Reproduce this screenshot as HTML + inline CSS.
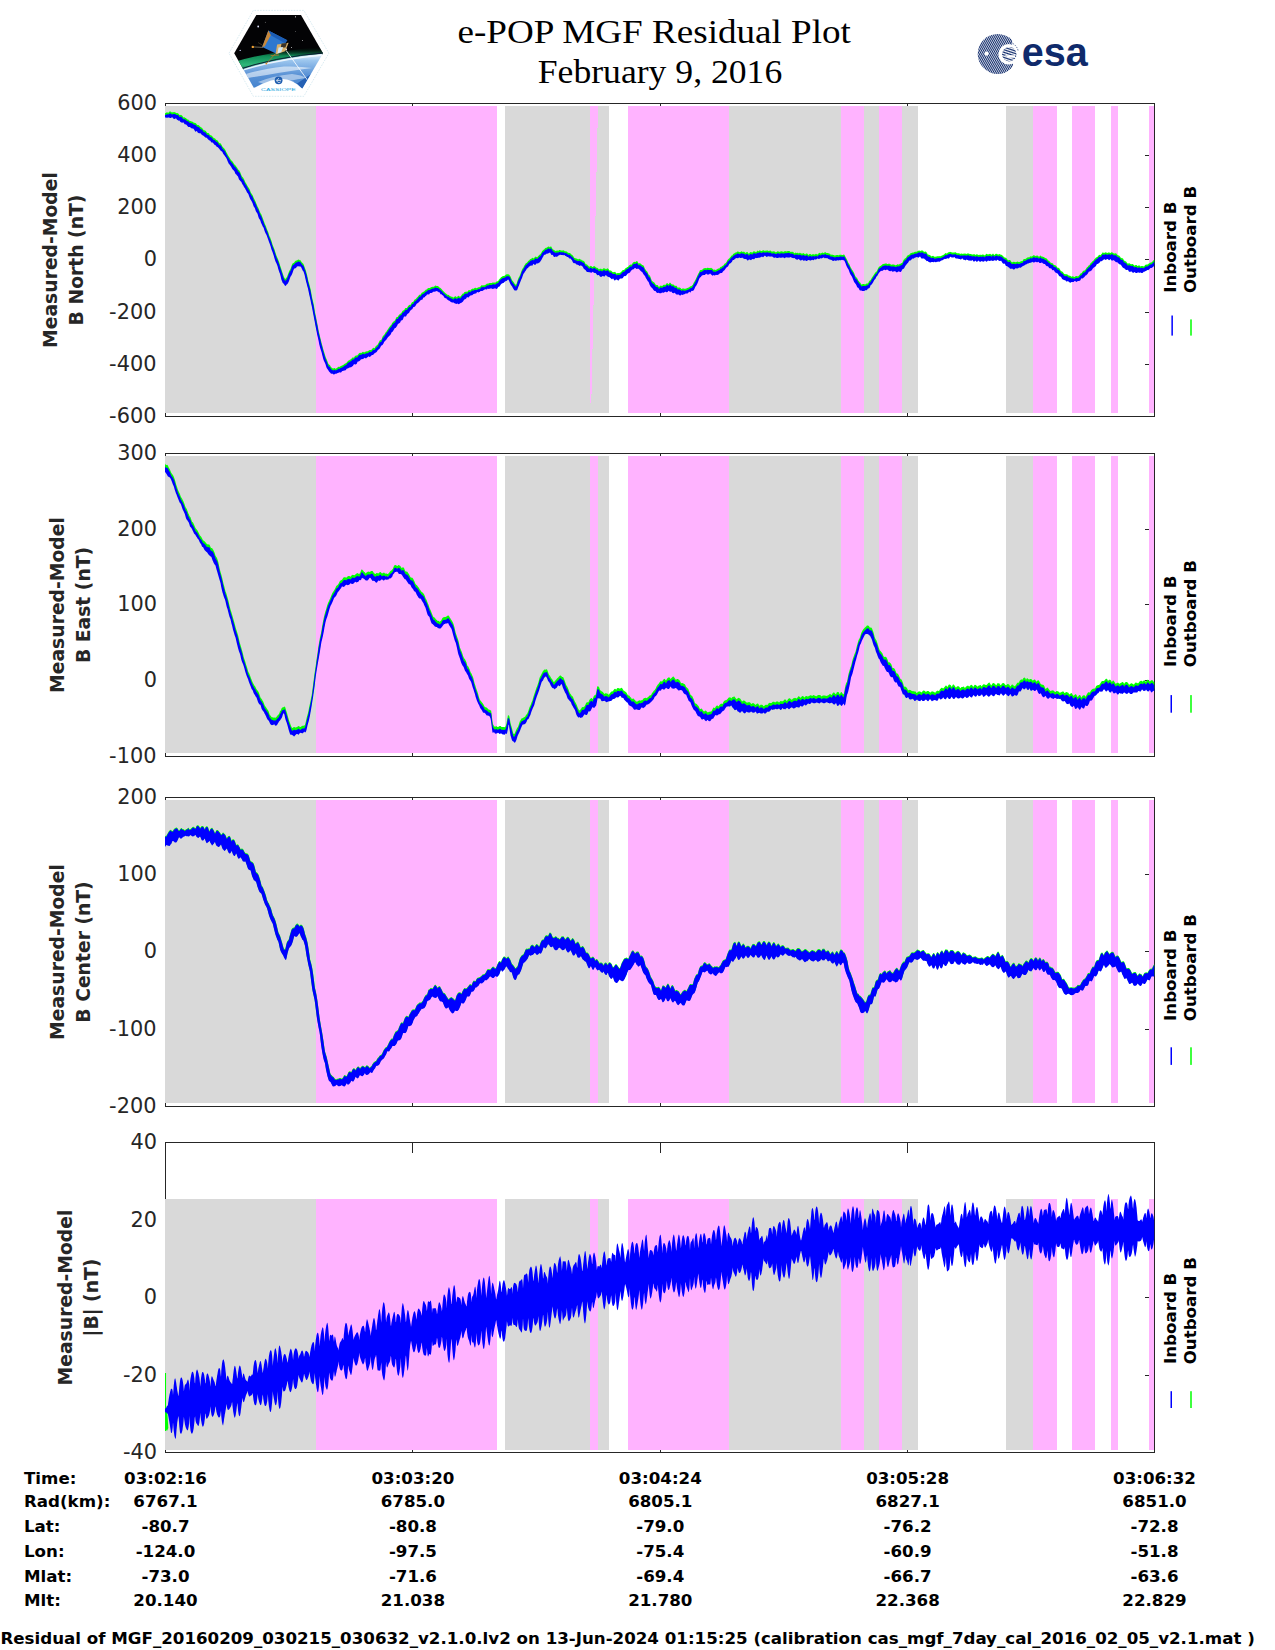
<!DOCTYPE html>
<html lang="en"><head><meta charset="utf-8"><title>e-POP MGF Residual Plot</title>
<style>html,body{margin:0;padding:0;background:#fff}svg{display:block}.t{font-family:"DejaVu Sans","Liberation Sans",sans-serif;font-size:20.83px;fill:#262626}.b{font-family:"DejaVu Sans","Liberation Sans",sans-serif;font-weight:bold;font-size:16.67px;fill:#000}.yl{font-family:"DejaVu Sans","Liberation Sans",sans-serif;font-weight:bold;font-size:18.75px;fill:#262626}.ti{font-family:"Liberation Serif","DejaVu Serif",serif;font-size:34px;fill:#000}</style></head><body>
<svg width="1275" height="1650" viewBox="0 0 1275 1650">
<rect width="1275" height="1650" fill="#fff"/>
<text class="ti" x="654.2" y="43" text-anchor="middle" textLength="393.5" lengthAdjust="spacingAndGlyphs">e-POP MGF Residual Plot</text>
<text class="ti" x="660" y="83.2" text-anchor="middle" textLength="244.5" lengthAdjust="spacingAndGlyphs">February 9, 2016</text>
<defs>
<clipPath id="hexclip"><polygon points="234.2,53.2 256.3,15.1 301,15.1 323,53.2 302.4,88.6 254.2,88.6"/></clipPath>
<linearGradient id="earthg" x1="0" y1="0" x2="0" y2="1">
<stop offset="0" stop-color="#eaf5ff"/><stop offset="0.18" stop-color="#9cc6ee"/><stop offset="0.55" stop-color="#5b93d6"/><stop offset="1" stop-color="#3f7fcc"/>
</linearGradient>
<linearGradient id="aurg" x1="0" y1="0" x2="0" y2="1">
<stop offset="0" stop-color="#000" stop-opacity="0"/><stop offset="0.35" stop-color="#0f8a55"/><stop offset="0.7" stop-color="#2fb87a"/><stop offset="1" stop-color="#0a4a36"/>
</linearGradient>
<pattern id="esastripe" width="1.7" height="1.7" patternUnits="userSpaceOnUse" patternTransform="rotate(-62 998 54)">
<rect width="1.7" height="1.7" fill="#fff"/><rect width="1.7" height="1.02" fill="#0f2a6b"/>
</pattern>
<pattern id="esastripe2" width="1.6" height="1.6" patternUnits="userSpaceOnUse" patternTransform="rotate(-12 1009 54)">
<rect width="1.6" height="1.6" fill="#fff"/><rect width="1.6" height="0.8" fill="#0f2a6b"/>
</pattern>
</defs>
<g id="cassiope-logo">
<polygon points="229,53.2 253.3,10.4 303.8,10.4 328.9,53.2 303.8,96.3 253.3,96.3" fill="#fff" stroke="#cfe6ee" stroke-width="0.8" stroke-dasharray="1.6 1.2"/>
<g clip-path="url(#hexclip)">
<rect x="232" y="14" width="94" height="76" fill="#fff"/><path d="M232 14H326V54.5Q275 58.5 232 73.5Z" fill="#030305"/>
<path d="M232 62.5 Q275 50 325 46.5 L325 54 Q275 58 232 73Z" fill="url(#aurg)"/>
<path d="M232 72.5 Q275 57.5 325 53.6 L325 92 L232 92Z" fill="url(#earthg)"/>
<path d="M232 71.6 Q275 56.6 325 52.8" fill="none" stroke="#0a1230" stroke-width="0.9"/>
<path d="M238 71.6 Q277 58.8 325 54.8" fill="none" stroke="#f4faff" stroke-width="1.4" opacity="0.9"/>
<path d="M246 74 Q262 69 284 66.5 Q300 66 312 68 Q296 70 278 73 Q262 76 248 78Z" fill="#fff" opacity="0.55"/>
<path d="M258 82 Q272 76 292 74 Q302 75 306 78 Q290 80 270 86Z" fill="#fff" opacity="0.45"/>

<polygon points="310.8,74.3 302.2,88.8 296.7,83.7" fill="#2460b4"/>
<path d="M286 50.3 L308.4 81.4" stroke="#fff" stroke-width="0.9" opacity="0.9"/>

<path d="M252.8 46.9 L263 47.4" stroke="#b9a98a" stroke-width="0.6"/>
<path d="M258 42.5 L263 45.5" stroke="#6b5a3a" stroke-width="0.5"/>
<circle cx="252.8" cy="46.9" r="1.2" fill="#f0a030"/>
<polygon points="268.4,30.4 287.3,40.2 277.1,53.9 262.2,46.9" fill="#2d78cf"/>
<polygon points="268.4,30.4 287.3,40.2 285,43.2 270.8,35.2" fill="#1c5db4"/>
<polygon points="268.4,30.4 270.8,35.2 264.6,46.6 262.2,46.9" fill="#c8883a"/>
<polygon points="277.1,44.6 288.6,42.8 285.2,51.2 275.5,54.6" fill="#d8b06a"/>
<polygon points="281.5,43.6 287,43 285.4,47.4 280.8,47.6" fill="#3a3328"/>
<polygon points="278.5,47.5 283,47 281.4,52 277.4,53.4" fill="#cfe6f5"/>
<path d="M275 54 L266.5 63.5 M270.6 55.6 L279 55" stroke="#b57a2c" stroke-width="0.8"/>
<circle cx="266.3" cy="63.6" r="0.9" fill="#e08a28"/>
<circle cx="258.2" cy="26.5" r="0.9" fill="#dfe4ff"/>
<circle cx="240.2" cy="50.4" r="0.7" fill="#c9cdf5"/>
<circle cx="295.5" cy="16.8" r="0.6" fill="#e6e6e6"/>
<circle cx="265.3" cy="22.2" r="0.45" fill="#aaa"/>
<circle cx="302.5" cy="40.5" r="0.5" fill="#bbb"/>
<circle cx="291.5" cy="47.5" r="0.5" fill="#ccc"/>
<circle cx="295.4" cy="31.5" r="0.4" fill="#999"/>
<circle cx="286.3" cy="49.2" r="0.8" fill="#fff"/>
</g>
<path d="M251.5 92 L253.2 88.3 Q262 83.6 271 80.6 Q280 78.4 287 79.4 Q293 80.8 297.5 84.4 L302.6 89 L304.5 92Z" fill="#fff"/>
<circle cx="278.6" cy="80.3" r="3.9" fill="#1d5cae"/>
<path d="M276.3 80.4h4.8M279 78.6a2 2 0 1 0 1.6 3.2" stroke="#fff" stroke-width="0.7" fill="none"/>
<text x="278.4" y="90.9" text-anchor="middle" textLength="34.6" lengthAdjust="spacingAndGlyphs" style="font-family:'Liberation Sans',sans-serif;font-size:4.4px;fill:#19a3dc">CASSIOPE</text>
</g>
<g id="esa-logo">
<circle cx="997.7" cy="53.9" r="20" fill="url(#esastripe)"/>
<path d="M1012 38 L1020 38 L1020 72 L1008 72 L1013 66 Z" fill="#fff"/>
<circle cx="1008.6" cy="54.2" r="10.2" fill="#fff"/>
<path d="M1010.5 42.3 A12 12 0 0 1 1018.3 51.5" fill="none" stroke="#0f2a6b" stroke-width="0.7" stroke-dasharray="1.4 1.1"/>
<circle cx="1009.3" cy="54.2" r="7.2" fill="url(#esastripe2)"/>
<path d="M1004.5 55.2 h10.5 v2.6 h-6.5z" fill="#fff"/>
<circle cx="986.6" cy="53.6" r="2.1" fill="#fff"/>
<text x="1021.8" y="65.8" textLength="66" lengthAdjust="spacingAndGlyphs" style="font-family:'Liberation Sans',sans-serif;font-weight:bold;font-size:41.5px;fill:#0f2a6b">esa</text>
</g>

<g id="panel1">
<g stroke="#262626" stroke-width="1" fill="none" shape-rendering="crispEdges">
<rect x="165.5" y="103.5" width="989.0" height="313.0"/>
<path d="M165.5 155.5h10M1154.5 155.5h-10M165.5 207.5h10M1154.5 207.5h-10M165.5 259.5h10M1154.5 259.5h-10M165.5 312.5h10M1154.5 312.5h-10M165.5 364.5h10M1154.5 364.5h-10M412.5 103.5v10M412.5 416.5v-10M660.5 103.5v10M660.5 416.5v-10M907.5 103.5v10M907.5 416.5v-10"/>
</g>
<g shape-rendering="crispEdges">
<rect x="165" y="106" width="151" height="307" fill="#d9d9d9"/>
<rect x="316" y="106" width="181" height="307" fill="#ffb3ff"/>
<rect x="505" y="106" width="104" height="307" fill="#d9d9d9"/>
<polygon points="590,106 598,106 591.3,403 590,403" fill="#ffb3ff"/>
<rect x="628" y="106" width="101" height="307" fill="#ffb3ff"/>
<rect x="729" y="106" width="112" height="307" fill="#d9d9d9"/>
<rect x="841" y="106" width="23" height="307" fill="#ffb3ff"/>
<rect x="864" y="106" width="15" height="307" fill="#d9d9d9"/>
<rect x="879" y="106" width="23" height="307" fill="#ffb3ff"/>
<rect x="902" y="106" width="16" height="307" fill="#d9d9d9"/>
<rect x="1006" y="106" width="27" height="307" fill="#d9d9d9"/>
<rect x="1033" y="106" width="24" height="307" fill="#ffb3ff"/>
<rect x="1072" y="106" width="23" height="307" fill="#ffb3ff"/>
<rect x="1111" y="106" width="7" height="307" fill="#ffb3ff"/>
<rect x="1149" y="106" width="5" height="307" fill="#ffb3ff"/>
</g>
<path d="M1154.5 103.0V417.0" stroke="#262626" stroke-width="1" shape-rendering="crispEdges"/>
<clipPath id="clip0"><rect x="165.0" y="103.5" width="989.5" height="313.0"/></clipPath>
<g clip-path="url(#clip0)">
<polygon points="165.0,113.0 165.5,113.2 166.0,112.8 166.5,112.5 167.0,112.3 167.5,112.4 168.0,112.7 168.5,112.7 169.0,112.1 169.5,111.6 170.0,111.6 170.5,111.5 171.0,111.7 171.5,112.3 172.0,112.5 172.5,112.3 173.0,112.3 173.5,112.2 174.0,112.1 174.5,112.2 175.0,112.2 175.5,112.4 176.0,112.9 176.5,113.1 177.0,113.2 177.5,113.1 178.0,113.2 178.5,113.7 179.0,114.4 179.5,115.1 180.0,115.2 180.5,114.9 181.0,114.8 181.5,115.2 182.0,115.6 182.5,116.1 183.0,117.0 183.5,117.4 184.0,117.2 184.5,117.3 185.0,117.7 185.5,117.9 186.0,118.1 186.5,118.8 187.0,119.2 187.5,119.4 188.0,119.4 188.5,119.7 189.0,120.4 189.5,120.7 190.0,121.0 190.5,121.0 191.0,121.2 191.5,121.4 192.0,121.4 192.5,121.7 193.0,122.1 193.5,122.6 194.0,122.7 194.5,122.8 195.0,122.9 195.5,123.1 196.0,123.5 196.5,124.1 197.0,124.7 197.5,124.9 198.0,125.0 198.5,125.1 199.0,125.4 199.5,125.9 200.0,126.5 200.5,127.0 201.0,127.3 201.5,127.6 202.0,127.9 202.5,128.4 203.0,129.2 203.5,129.9 204.0,130.2 204.5,130.3 205.0,130.4 205.5,130.7 206.0,131.3 206.5,132.0 207.0,132.7 207.5,133.0 208.0,133.1 208.5,133.1 209.0,133.4 209.5,134.2 210.0,135.1 210.5,135.2 211.0,135.2 211.5,135.5 212.0,136.1 212.5,136.6 213.0,137.3 213.5,137.8 214.0,138.0 214.5,138.2 215.0,138.4 215.5,139.0 216.0,139.7 216.5,139.9 217.0,140.1 217.5,140.4 218.0,141.0 218.5,141.9 219.0,142.8 219.5,143.2 220.0,143.3 220.5,143.3 221.0,143.9 221.5,144.7 222.0,145.7 222.5,146.8 223.0,147.3 223.5,147.7 224.0,148.3 224.5,148.8 225.0,149.4 225.5,150.3 226.0,151.6 226.5,152.6 227.0,153.3 227.5,154.3 228.0,155.3 228.5,155.9 229.0,156.7 229.5,157.5 230.0,158.6 230.5,159.3 231.0,159.9 231.5,160.5 232.0,161.1 232.5,161.6 233.0,162.3 233.5,163.1 234.0,163.9 234.5,164.5 235.0,165.0 235.5,165.4 236.0,166.0 236.5,166.9 237.0,167.4 237.5,168.2 238.0,169.4 238.5,169.8 239.0,170.2 239.5,170.8 240.0,171.7 240.5,172.9 241.0,174.2 241.5,175.6 242.0,176.5 242.5,177.1 243.0,177.5 243.5,178.3 244.0,179.3 244.5,180.3 245.0,181.6 245.5,182.5 246.0,183.2 246.5,183.9 247.0,184.9 247.5,185.9 248.0,186.8 248.5,187.5 249.0,188.3 249.5,189.1 250.0,190.3 250.5,191.7 251.0,192.9 251.5,193.6 252.0,194.2 252.5,194.9 253.0,196.1 253.5,197.5 254.0,198.6 254.5,199.5 255.0,200.4 255.5,201.6 256.0,202.7 256.5,203.9 257.0,205.1 257.5,206.4 258.0,207.2 258.5,208.2 259.0,209.4 259.5,210.7 260.0,212.0 260.5,213.2 261.0,213.8 261.5,214.8 262.0,216.3 262.5,217.6 263.0,218.8 263.5,220.2 264.0,221.6 264.5,223.0 265.0,224.2 265.5,225.3 266.0,226.3 266.5,227.9 267.0,229.2 267.5,230.4 268.0,231.5 268.5,233.0 269.0,234.7 269.5,236.2 270.0,237.1 270.5,238.3 271.0,239.8 271.5,241.1 272.0,242.8 272.5,244.4 273.0,245.7 273.5,246.9 274.0,248.2 274.5,249.5 275.0,251.2 275.5,252.8 276.0,254.2 276.5,255.7 277.0,257.0 277.5,257.9 278.0,259.1 278.5,260.6 279.0,261.8 279.5,263.3 280.0,265.2 280.5,266.5 281.0,267.9 281.5,269.7 282.0,271.2 282.5,272.7 283.0,274.3 283.5,275.8 284.0,276.9 284.5,277.9 285.0,278.8 285.5,278.8 286.0,278.3 286.5,277.5 287.0,276.9 287.5,275.6 288.0,274.3 288.5,272.9 289.0,271.6 289.5,270.6 290.0,269.7 290.5,269.0 291.0,267.6 291.5,266.0 292.0,264.6 292.5,263.7 293.0,263.1 293.5,262.9 294.0,262.7 294.5,262.0 295.0,261.3 295.5,261.0 296.0,260.6 296.5,260.4 297.0,260.5 297.5,260.1 298.0,259.7 298.5,259.6 299.0,259.7 299.5,260.0 300.0,260.2 300.5,260.3 301.0,261.0 301.5,261.9 302.0,262.5 302.5,263.1 303.0,263.5 303.5,264.0 304.0,265.2 304.5,266.9 305.0,268.2 305.5,269.4 306.0,271.0 306.5,272.9 307.0,274.6 307.5,276.9 308.0,279.6 308.5,281.4 309.0,283.1 309.5,285.0 310.0,286.9 310.5,288.8 311.0,291.3 311.5,294.3 312.0,296.9 312.5,299.2 313.0,301.3 313.5,303.4 314.0,306.1 314.5,309.3 315.0,312.4 315.5,314.6 316.0,316.8 316.5,319.5 317.0,322.1 317.5,324.4 318.0,327.1 318.5,330.1 319.0,332.2 319.5,334.3 320.0,336.4 320.5,338.4 321.0,340.5 321.5,342.7 322.0,344.4 322.5,346.3 323.0,348.3 323.5,350.0 324.0,351.6 324.5,353.3 325.0,355.0 325.5,356.5 326.0,358.0 326.5,359.1 327.0,360.1 327.5,361.6 328.0,363.0 328.5,364.0 329.0,364.5 329.5,364.8 330.0,365.3 330.5,366.3 331.0,367.0 331.5,367.5 332.0,368.0 332.5,368.2 333.0,368.5 333.5,368.5 334.0,368.0 334.5,367.9 335.0,368.4 335.5,368.7 336.0,368.4 336.5,368.2 337.0,368.0 337.5,367.6 338.0,367.1 338.5,366.8 339.0,366.8 339.5,366.9 340.0,366.6 340.5,366.2 341.0,366.0 341.5,365.8 342.0,365.4 342.5,365.3 343.0,365.3 343.5,364.7 344.0,364.3 344.5,363.9 345.0,363.5 345.5,363.4 346.0,363.1 346.5,362.8 347.0,362.2 347.5,361.4 348.0,360.9 348.5,360.6 349.0,360.4 349.5,360.1 350.0,359.7 350.5,359.5 351.0,359.1 351.5,358.8 352.0,358.1 352.5,357.5 353.0,357.4 353.5,357.6 354.0,357.7 354.5,356.7 355.0,355.9 355.5,355.7 356.0,355.6 356.5,355.5 357.0,355.5 357.5,355.3 358.0,354.4 358.5,353.9 359.0,353.3 359.5,352.9 360.0,352.7 360.5,352.8 361.0,353.2 361.5,352.7 362.0,352.4 362.5,352.1 363.0,351.7 363.5,351.9 364.0,352.5 364.5,352.3 365.0,351.8 365.5,351.8 366.0,351.6 366.5,351.3 367.0,351.4 367.5,351.3 368.0,351.1 368.5,350.8 369.0,350.4 369.5,350.1 370.0,349.9 370.5,350.0 371.0,350.1 371.5,349.8 372.0,349.3 372.5,348.6 373.0,348.0 373.5,347.8 374.0,348.1 374.5,348.2 375.0,347.4 375.5,346.6 376.0,346.0 376.5,345.5 377.0,345.2 377.5,344.8 378.0,344.0 378.5,343.0 379.0,341.9 379.5,341.0 380.0,340.3 380.5,340.0 381.0,340.2 381.5,339.6 382.0,338.2 382.5,336.8 383.0,336.0 383.5,335.5 384.0,334.8 384.5,334.4 385.0,333.5 385.5,332.6 386.0,332.1 386.5,331.4 387.0,330.5 387.5,329.8 388.0,329.3 388.5,328.3 389.0,327.6 389.5,326.9 390.0,326.1 390.5,325.5 391.0,325.2 391.5,324.6 392.0,323.3 392.5,322.6 393.0,322.2 393.5,321.6 394.0,320.9 394.5,320.8 395.0,320.5 395.5,319.3 396.0,317.9 396.5,317.2 397.0,317.1 397.5,317.0 398.0,316.6 398.5,315.5 399.0,314.8 399.5,314.4 400.0,313.9 400.5,313.4 401.0,313.4 401.5,312.8 402.0,311.8 402.5,310.9 403.0,310.5 403.5,310.3 404.0,310.2 404.5,309.4 405.0,308.6 405.5,308.1 406.0,308.0 406.5,308.1 407.0,308.1 407.5,307.1 408.0,306.3 408.5,305.8 409.0,305.0 409.5,304.8 410.0,305.1 410.5,304.8 411.0,304.0 411.5,303.1 412.0,302.3 412.5,302.1 413.0,302.0 413.5,301.5 414.0,300.5 414.5,299.7 415.0,299.3 415.5,299.2 416.0,298.8 416.5,298.1 417.0,297.6 417.5,297.1 418.0,296.5 418.5,295.8 419.0,295.2 419.5,294.7 420.0,294.6 420.5,294.7 421.0,294.0 421.5,293.0 422.0,292.5 422.5,292.4 423.0,292.0 423.5,291.8 424.0,291.5 424.5,291.0 425.0,290.6 425.5,290.1 426.0,289.6 426.5,289.5 427.0,289.4 427.5,288.6 428.0,288.3 428.5,288.1 429.0,287.9 429.5,288.0 430.0,288.1 430.5,287.6 431.0,287.3 431.5,287.1 432.0,286.9 432.5,286.7 433.0,286.7 433.5,286.7 434.0,286.7 434.5,286.2 435.0,285.7 435.5,285.6 436.0,285.8 436.5,286.0 437.0,286.1 437.5,286.1 438.0,286.0 438.5,286.4 439.0,287.0 439.5,287.4 440.0,287.7 440.5,288.0 441.0,288.5 441.5,289.0 442.0,289.4 442.5,290.2 443.0,290.8 443.5,291.3 444.0,291.7 444.5,292.2 445.0,292.7 445.5,293.2 446.0,293.6 446.5,293.9 447.0,294.3 447.5,294.8 448.0,294.9 448.5,294.7 449.0,295.2 449.5,295.8 450.0,295.9 450.5,296.2 451.0,296.7 451.5,296.7 452.0,296.6 452.5,297.1 453.0,297.5 453.5,297.6 454.0,297.2 454.5,296.7 455.0,296.2 455.5,296.3 456.0,296.6 456.5,297.0 457.0,297.4 457.5,296.6 458.0,295.8 458.5,295.8 459.0,296.2 459.5,296.4 460.0,296.4 460.5,296.5 461.0,295.9 461.5,295.0 462.0,294.4 462.5,293.8 463.0,293.6 463.5,293.5 464.0,292.8 464.5,292.1 465.0,292.0 465.5,291.7 466.0,291.7 466.5,291.6 467.0,291.9 467.5,291.6 468.0,290.9 468.5,290.2 469.0,289.9 469.5,290.0 470.0,290.4 470.5,290.2 471.0,289.6 471.5,289.2 472.0,288.9 472.5,288.6 473.0,288.7 473.5,288.8 474.0,288.4 474.5,288.1 475.0,287.8 475.5,287.8 476.0,288.1 476.5,288.2 477.0,288.1 477.5,287.7 478.0,287.4 478.5,287.2 479.0,287.3 479.5,287.2 480.0,286.7 480.5,286.5 481.0,286.0 481.5,285.2 482.0,285.1 482.5,285.4 483.0,285.4 483.5,285.2 484.0,285.3 484.5,285.3 485.0,284.9 485.5,284.8 486.0,284.6 486.5,283.9 487.0,283.6 487.5,283.7 488.0,283.6 488.5,283.5 489.0,283.2 489.5,282.9 490.0,282.9 490.5,283.0 491.0,283.0 491.5,283.0 492.0,282.9 492.5,282.6 493.0,282.4 493.5,282.4 494.0,282.7 494.5,282.5 495.0,282.6 495.5,282.6 496.0,282.2 496.5,281.6 497.0,281.3 497.5,281.3 498.0,281.3 498.5,280.5 499.0,279.5 499.5,278.9 500.0,278.6 500.5,277.9 501.0,277.2 501.5,277.0 502.0,276.7 502.5,276.3 503.0,276.1 503.5,276.1 504.0,275.9 504.5,275.8 505.0,275.5 505.5,275.1 506.0,274.5 506.5,274.3 507.0,274.5 507.5,274.3 508.0,274.1 508.5,274.4 509.0,274.5 509.5,274.9 510.0,275.7 510.5,276.5 511.0,277.5 511.5,278.9 512.0,280.1 512.5,280.7 513.0,281.3 513.5,281.9 514.0,282.6 514.5,283.4 515.0,284.2 515.5,284.6 516.0,284.7 516.5,283.9 517.0,282.4 517.5,280.7 518.0,279.2 518.5,278.0 519.0,277.0 519.5,276.2 520.0,275.1 520.5,273.7 521.0,272.3 521.5,270.9 522.0,269.4 522.5,268.6 523.0,268.2 523.5,267.2 524.0,266.1 524.5,265.3 525.0,264.5 525.5,263.7 526.0,263.1 526.5,262.9 527.0,262.4 527.5,261.9 528.0,261.2 528.5,260.7 529.0,260.5 529.5,259.9 530.0,259.3 530.5,258.9 531.0,258.9 531.5,258.5 532.0,257.9 532.5,257.8 533.0,258.0 533.5,258.5 534.0,258.1 534.5,257.6 535.0,256.9 535.5,256.4 536.0,256.7 536.5,256.9 537.0,257.2 537.5,256.9 538.0,256.3 538.5,255.8 539.0,255.2 539.5,254.7 540.0,254.4 540.5,254.1 541.0,253.3 541.5,252.4 542.0,251.3 542.5,250.7 543.0,250.2 543.5,249.8 544.0,249.6 544.5,248.9 545.0,248.3 545.5,247.9 546.0,247.8 546.5,247.8 547.0,247.6 547.5,247.0 548.0,246.7 548.5,246.6 549.0,246.6 549.5,247.0 550.0,247.2 550.5,246.6 551.0,246.3 551.5,247.0 552.0,247.9 552.5,248.9 553.0,249.3 553.5,249.7 554.0,250.0 554.5,250.3 555.0,250.7 555.5,251.0 556.0,250.8 556.5,250.7 557.0,250.6 557.5,250.6 558.0,250.8 558.5,250.7 559.0,250.1 559.5,250.0 560.0,250.1 560.5,250.3 561.0,250.4 561.5,250.4 562.0,250.4 562.5,250.5 563.0,250.4 563.5,250.3 564.0,250.6 564.5,251.1 565.0,251.4 565.5,251.2 566.0,251.2 566.5,251.5 567.0,251.7 567.5,252.2 568.0,252.8 568.5,252.8 569.0,252.9 569.5,252.9 570.0,253.0 570.5,253.6 571.0,254.3 571.5,254.6 572.0,254.8 572.5,255.3 573.0,255.8 573.5,256.4 574.0,257.4 574.5,257.9 575.0,258.1 575.5,258.3 576.0,258.5 576.5,258.6 577.0,258.8 577.5,259.1 578.0,259.3 578.5,259.2 579.0,258.9 579.5,258.8 580.0,259.1 580.5,259.6 581.0,259.7 581.5,259.7 582.0,260.4 582.5,260.6 583.0,260.6 583.5,260.9 584.0,261.3 584.5,261.8 585.0,262.8 585.5,263.9 586.0,264.2 586.5,264.2 587.0,264.4 587.5,264.9 588.0,265.5 588.5,266.0 589.0,266.6 589.5,266.8 590.0,266.4 590.5,265.8 591.0,265.9 591.5,266.3 592.0,266.6 592.5,267.1 593.0,266.9 593.5,266.3 594.0,266.1 594.5,266.2 595.0,266.4 595.5,266.9 596.0,267.5 596.5,267.7 597.0,267.7 597.5,267.9 598.0,268.2 598.5,268.9 599.0,269.6 599.5,269.0 600.0,268.8 600.5,268.8 601.0,268.7 601.5,269.1 602.0,269.5 602.5,269.3 603.0,268.7 603.5,268.3 604.0,268.3 604.5,268.4 605.0,268.6 605.5,269.1 606.0,269.3 606.5,268.9 607.0,268.5 607.5,268.3 608.0,268.7 608.5,269.1 609.0,269.7 609.5,270.6 610.0,270.6 610.5,270.5 611.0,270.5 611.5,270.9 612.0,271.4 612.5,271.9 613.0,272.3 613.5,272.1 614.0,272.2 614.5,272.0 615.0,271.8 615.5,272.2 616.0,272.9 616.5,273.5 617.0,273.4 617.5,273.0 618.0,272.9 618.5,273.1 619.0,273.2 619.5,273.0 620.0,272.8 620.5,272.5 621.0,271.9 621.5,271.5 622.0,271.0 622.5,270.3 623.0,270.0 623.5,269.9 624.0,269.9 624.5,269.5 625.0,268.8 625.5,268.3 626.0,268.1 626.5,267.7 627.0,267.2 627.5,267.0 628.0,267.0 628.5,266.2 629.0,265.6 629.5,265.3 630.0,265.0 630.5,264.6 631.0,264.5 631.5,264.7 632.0,264.3 632.5,263.2 633.0,262.6 633.5,262.2 634.0,261.9 634.5,261.8 635.0,262.0 635.5,262.0 636.0,261.6 636.5,261.2 637.0,261.1 637.5,261.6 638.0,262.6 638.5,263.4 639.0,263.4 639.5,263.2 640.0,263.3 640.5,263.6 641.0,263.9 641.5,264.3 642.0,264.9 642.5,265.1 643.0,265.2 643.5,265.5 644.0,266.3 644.5,267.7 645.0,268.9 645.5,269.5 646.0,270.3 646.5,270.9 647.0,271.2 647.5,271.9 648.0,273.3 648.5,274.5 649.0,274.8 649.5,275.3 650.0,276.1 650.5,277.0 651.0,278.5 651.5,280.1 652.0,280.9 652.5,281.3 653.0,281.7 653.5,282.1 654.0,282.3 654.5,282.8 655.0,283.6 655.5,284.4 656.0,284.8 656.5,285.0 657.0,285.0 657.5,285.1 658.0,285.5 658.5,286.4 659.0,287.0 659.5,286.5 660.0,285.9 660.5,285.6 661.0,285.7 661.5,285.8 662.0,285.9 662.5,285.8 663.0,285.3 663.5,284.8 664.0,284.7 664.5,284.8 665.0,284.8 665.5,284.9 666.0,284.1 666.5,283.4 667.0,283.1 667.5,283.2 668.0,283.7 668.5,284.3 669.0,283.8 669.5,283.1 670.0,282.6 670.5,282.9 671.0,283.5 671.5,284.3 672.0,284.3 672.5,284.4 673.0,284.4 673.5,284.4 674.0,285.0 674.5,285.6 675.0,285.9 675.5,285.8 676.0,285.8 676.5,285.8 677.0,286.5 677.5,287.5 678.0,287.7 678.5,287.4 679.0,287.4 679.5,287.6 680.0,287.8 680.5,288.1 681.0,288.4 681.5,289.0 682.0,288.9 682.5,288.4 683.0,288.3 683.5,288.5 684.0,288.8 684.5,288.8 685.0,288.8 685.5,288.7 686.0,288.6 686.5,288.4 687.0,288.0 687.5,287.9 688.0,287.8 688.5,287.6 689.0,287.4 689.5,287.0 690.0,286.5 690.5,286.3 691.0,286.2 691.5,286.0 692.0,285.6 692.5,285.1 693.0,284.4 693.5,283.1 694.0,282.2 694.5,281.5 695.0,280.6 695.5,279.7 696.0,278.5 696.5,277.4 697.0,276.4 697.5,275.2 698.0,274.2 698.5,273.3 699.0,272.4 699.5,271.2 700.0,270.3 700.5,270.1 701.0,270.1 701.5,270.0 702.0,269.7 702.5,269.4 703.0,269.1 703.5,268.5 704.0,268.2 704.5,268.2 705.0,267.9 705.5,268.1 706.0,268.3 706.5,268.3 707.0,267.9 707.5,267.8 708.0,267.8 708.5,268.1 709.0,268.1 709.5,268.0 710.0,268.2 710.5,268.1 711.0,267.8 711.5,267.9 712.0,268.4 712.5,268.7 713.0,269.1 713.5,269.8 714.0,270.0 714.5,269.6 715.0,269.5 715.5,270.0 716.0,269.9 716.5,269.4 717.0,269.2 717.5,269.0 718.0,268.6 718.5,268.4 719.0,268.4 719.5,268.2 720.0,267.6 720.5,266.9 721.0,266.8 721.5,266.7 722.0,266.2 722.5,265.7 723.0,265.7 723.5,265.3 724.0,264.4 724.5,263.7 725.0,263.5 725.5,263.2 726.0,262.8 726.5,262.1 727.0,261.1 727.5,260.1 728.0,259.4 728.5,259.0 729.0,258.6 729.5,258.2 730.0,257.6 730.5,256.9 731.0,256.2 731.5,255.6 732.0,255.4 732.5,255.2 733.0,254.3 733.5,253.8 734.0,253.6 734.5,253.3 735.0,252.7 735.5,252.6 736.0,252.5 736.5,252.3 737.0,252.1 737.5,251.6 738.0,251.3 738.5,251.8 739.0,252.3 739.5,252.0 740.0,252.0 740.5,251.9 741.0,251.5 741.5,251.2 742.0,251.4 742.5,251.9 743.0,251.8 743.5,251.7 744.0,251.8 744.5,252.1 745.0,252.6 745.5,252.9 746.0,252.6 746.5,252.2 747.0,252.0 747.5,252.1 748.0,252.7 748.5,253.4 749.0,253.8 749.5,253.1 750.0,252.3 750.5,252.1 751.0,252.3 751.5,252.3 752.0,252.5 752.5,252.6 753.0,251.9 753.5,251.3 754.0,251.3 754.5,251.4 755.0,251.4 755.5,251.9 756.0,251.9 756.5,251.7 757.0,251.2 757.5,250.6 758.0,250.8 758.5,251.2 759.0,250.9 759.5,250.3 760.0,250.2 760.5,250.7 761.0,251.0 761.5,251.1 762.0,251.0 762.5,250.5 763.0,250.3 763.5,250.3 764.0,250.4 764.5,250.8 765.0,250.9 765.5,250.6 766.0,250.7 766.5,250.6 767.0,250.5 767.5,250.4 768.0,250.4 768.5,250.9 769.0,250.9 769.5,250.8 770.0,250.5 770.5,250.5 771.0,251.1 771.5,251.5 772.0,251.6 772.5,251.6 773.0,251.5 773.5,251.3 774.0,251.3 774.5,251.5 775.0,251.8 775.5,252.2 776.0,252.2 776.5,252.1 777.0,251.8 777.5,251.3 778.0,251.2 778.5,251.5 779.0,251.8 779.5,251.9 780.0,251.5 780.5,251.6 781.0,251.6 781.5,251.3 782.0,251.2 782.5,251.5 783.0,251.9 783.5,251.7 784.0,251.5 784.5,251.3 785.0,251.3 785.5,251.3 786.0,251.1 786.5,251.4 787.0,251.4 787.5,251.1 788.0,251.0 788.5,250.9 789.0,251.0 789.5,251.1 790.0,251.5 790.5,251.9 791.0,251.7 791.5,251.7 792.0,252.0 792.5,251.8 793.0,251.8 793.5,252.3 794.0,252.9 794.5,253.3 795.0,253.0 795.5,252.6 796.0,252.7 796.5,252.9 797.0,252.9 797.5,252.8 798.0,252.7 798.5,253.3 799.0,253.4 799.5,252.8 800.0,252.7 800.5,253.0 801.0,253.4 801.5,253.6 802.0,253.6 802.5,253.5 803.0,253.4 803.5,253.0 804.0,253.2 804.5,253.9 805.0,254.2 805.5,254.2 806.0,253.4 806.5,253.4 807.0,253.6 807.5,253.7 808.0,254.4 808.5,255.1 809.0,254.5 809.5,253.9 810.0,254.0 810.5,254.1 811.0,254.4 811.5,254.8 812.0,254.7 812.5,254.3 813.0,254.0 813.5,254.2 814.0,254.5 814.5,254.6 815.0,254.5 815.5,254.1 816.0,253.7 816.5,254.0 817.0,254.5 817.5,254.5 818.0,253.9 818.5,253.5 819.0,253.0 819.5,252.8 820.0,253.2 820.5,253.5 821.0,253.3 821.5,252.9 822.0,252.7 822.5,252.5 823.0,252.7 823.5,252.9 824.0,253.0 824.5,252.6 825.0,252.1 825.5,252.2 826.0,252.8 826.5,253.1 827.0,253.1 827.5,253.1 828.0,253.0 828.5,253.3 829.0,253.4 829.5,253.4 830.0,253.9 830.5,254.5 831.0,254.8 831.5,254.7 832.0,254.6 832.5,254.7 833.0,255.0 833.5,255.0 834.0,255.0 834.5,255.5 835.0,255.6 835.5,255.3 836.0,255.2 836.5,254.9 837.0,255.0 837.5,255.0 838.0,254.9 838.5,255.3 839.0,255.2 839.5,254.8 840.0,254.7 840.5,254.7 841.0,254.7 841.5,254.7 842.0,254.9 842.5,254.9 843.0,254.9 843.5,254.6 844.0,254.4 844.5,254.9 845.0,255.8 845.5,256.9 846.0,257.8 846.5,258.7 847.0,259.6 847.5,260.8 848.0,262.0 848.5,263.2 849.0,263.6 849.5,264.4 850.0,265.8 850.5,266.9 851.0,267.7 851.5,268.8 852.0,269.8 852.5,270.3 853.0,271.1 853.5,272.0 854.0,272.8 854.5,273.9 855.0,275.4 855.5,276.5 856.0,277.0 856.5,277.4 857.0,277.9 857.5,278.8 858.0,279.9 858.5,280.7 859.0,281.2 859.5,281.9 860.0,282.5 860.5,283.1 861.0,283.9 861.5,284.6 862.0,284.7 862.5,284.1 863.0,284.0 863.5,284.0 864.0,284.1 864.5,284.2 865.0,284.4 865.5,284.2 866.0,283.9 866.5,283.6 867.0,283.4 867.5,283.4 868.0,283.3 868.5,282.5 869.0,281.6 869.5,280.8 870.0,280.4 870.5,280.1 871.0,279.4 871.5,278.2 872.0,277.4 872.5,276.8 873.0,276.1 873.5,275.2 874.0,274.6 874.5,273.8 875.0,273.0 875.5,272.3 876.0,271.9 876.5,271.5 877.0,271.0 877.5,269.8 878.0,268.4 878.5,267.4 879.0,266.9 879.5,266.4 880.0,266.0 880.5,265.9 881.0,265.6 881.5,265.2 882.0,264.7 882.5,264.3 883.0,264.1 883.5,264.0 884.0,263.7 884.5,263.7 885.0,263.8 885.5,263.5 886.0,263.3 886.5,263.5 887.0,263.9 887.5,264.1 888.0,263.9 888.5,263.7 889.0,263.6 889.5,263.8 890.0,264.0 890.5,264.3 891.0,264.7 891.5,264.7 892.0,264.5 892.5,264.5 893.0,264.4 893.5,264.5 894.0,264.5 894.5,264.7 895.0,265.2 895.5,265.2 896.0,265.1 896.5,264.9 897.0,264.5 897.5,264.3 898.0,264.3 898.5,264.6 899.0,264.7 899.5,264.0 900.0,263.7 900.5,263.7 901.0,263.5 901.5,263.1 902.0,262.9 902.5,262.6 903.0,261.2 903.5,260.1 904.0,259.5 904.5,258.9 905.0,258.3 905.5,258.3 906.0,257.8 906.5,257.0 907.0,256.1 907.5,255.5 908.0,255.3 908.5,255.1 909.0,254.7 909.5,254.4 910.0,253.9 910.5,253.3 911.0,253.0 911.5,252.9 912.0,252.7 912.5,252.6 913.0,252.7 913.5,252.5 914.0,252.2 914.5,252.0 915.0,251.7 915.5,251.7 916.0,251.8 916.5,251.7 917.0,251.5 917.5,251.2 918.0,250.8 918.5,250.7 919.0,250.5 919.5,250.4 920.0,250.9 920.5,250.9 921.0,250.6 921.5,250.5 922.0,250.6 922.5,250.6 923.0,250.7 923.5,251.3 924.0,251.9 924.5,251.8 925.0,251.5 925.5,251.5 926.0,251.7 926.5,252.2 927.0,253.1 927.5,254.1 928.0,254.7 928.5,254.6 929.0,254.8 929.5,254.9 930.0,255.1 930.5,255.6 931.0,256.2 931.5,256.4 932.0,256.1 932.5,255.9 933.0,255.8 933.5,255.9 934.0,256.4 934.5,256.8 935.0,256.8 935.5,256.7 936.0,256.6 936.5,256.4 937.0,256.4 937.5,256.3 938.0,256.1 938.5,256.2 939.0,256.4 939.5,256.1 940.0,256.2 940.5,256.3 941.0,256.1 941.5,255.8 942.0,255.6 942.5,255.3 943.0,255.2 943.5,254.8 944.0,254.5 944.5,254.1 945.0,253.6 945.5,253.1 946.0,253.2 946.5,253.5 947.0,253.4 947.5,252.9 948.0,252.6 948.5,252.3 949.0,252.2 949.5,252.0 950.0,251.8 950.5,251.9 951.0,252.1 951.5,252.3 952.0,252.6 952.5,252.6 953.0,252.6 953.5,252.6 954.0,252.4 954.5,252.5 955.0,252.3 955.5,252.2 956.0,252.5 956.5,253.0 957.0,253.2 957.5,253.3 958.0,253.2 958.5,253.2 959.0,253.3 959.5,253.4 960.0,253.8 960.5,253.9 961.0,253.5 961.5,253.5 962.0,253.7 962.5,253.9 963.0,253.6 963.5,253.7 964.0,253.7 964.5,253.5 965.0,253.4 965.5,253.5 966.0,253.9 966.5,253.9 967.0,253.6 967.5,253.4 968.0,253.4 968.5,253.4 969.0,253.6 969.5,254.0 970.0,254.1 970.5,253.9 971.0,253.9 971.5,254.3 972.0,254.4 972.5,254.6 973.0,254.4 973.5,254.3 974.0,254.3 974.5,254.3 975.0,254.6 975.5,255.1 976.0,254.8 976.5,254.2 977.0,254.3 977.5,254.6 978.0,254.8 978.5,255.1 979.0,255.0 979.5,254.8 980.0,254.7 980.5,254.7 981.0,254.8 981.5,255.1 982.0,254.7 982.5,254.5 983.0,254.5 983.5,254.7 984.0,254.8 984.5,255.3 985.0,255.4 985.5,254.7 986.0,254.0 986.5,253.8 987.0,254.0 987.5,254.3 988.0,254.5 988.5,254.2 989.0,254.2 989.5,254.0 990.0,253.8 990.5,254.0 991.0,254.5 991.5,254.8 992.0,254.5 992.5,253.9 993.0,253.4 993.5,253.9 994.0,254.7 994.5,255.1 995.0,254.4 995.5,253.8 996.0,253.9 996.5,253.8 997.0,253.7 997.5,254.2 998.0,254.7 998.5,254.6 999.0,254.1 999.5,254.0 1000.0,254.4 1000.5,254.6 1001.0,254.8 1001.5,254.8 1002.0,255.2 1002.5,255.6 1003.0,256.0 1003.5,256.5 1004.0,257.2 1004.5,257.4 1005.0,257.3 1005.5,257.8 1006.0,258.2 1006.5,258.3 1007.0,258.8 1007.5,259.7 1008.0,260.3 1008.5,260.2 1009.0,260.0 1009.5,259.9 1010.0,260.0 1010.5,260.6 1011.0,261.3 1011.5,261.9 1012.0,262.2 1012.5,262.2 1013.0,262.0 1013.5,261.8 1014.0,261.8 1014.5,261.9 1015.0,262.1 1015.5,262.3 1016.0,262.1 1016.5,261.9 1017.0,261.7 1017.5,261.6 1018.0,261.8 1018.5,262.0 1019.0,262.0 1019.5,261.9 1020.0,261.8 1020.5,261.5 1021.0,261.2 1021.5,261.1 1022.0,261.2 1022.5,261.1 1023.0,260.3 1023.5,259.3 1024.0,258.9 1024.5,259.0 1025.0,259.1 1025.5,258.9 1026.0,258.6 1026.5,258.2 1027.0,257.8 1027.5,257.5 1028.0,257.3 1028.5,257.2 1029.0,257.5 1029.5,257.2 1030.0,256.5 1030.5,256.2 1031.0,256.4 1031.5,256.6 1032.0,256.5 1032.5,256.1 1033.0,255.8 1033.5,255.3 1034.0,255.1 1034.5,255.5 1035.0,255.9 1035.5,256.0 1036.0,255.8 1036.5,255.7 1037.0,255.6 1037.5,255.6 1038.0,256.0 1038.5,256.6 1039.0,256.6 1039.5,256.4 1040.0,255.9 1040.5,255.4 1041.0,255.8 1041.5,256.6 1042.0,256.8 1042.5,256.5 1043.0,256.8 1043.5,256.9 1044.0,257.0 1044.5,257.5 1045.0,258.0 1045.5,258.0 1046.0,258.3 1046.5,258.5 1047.0,258.8 1047.5,259.6 1048.0,260.4 1048.5,260.5 1049.0,260.8 1049.5,261.2 1050.0,261.9 1050.5,262.4 1051.0,262.7 1051.5,262.9 1052.0,263.2 1052.5,263.2 1053.0,263.4 1053.5,264.4 1054.0,265.2 1054.5,265.0 1055.0,265.1 1055.5,265.4 1056.0,265.7 1056.5,266.2 1057.0,267.0 1057.5,267.7 1058.0,267.7 1058.5,267.8 1059.0,268.2 1059.5,268.6 1060.0,269.4 1060.5,270.4 1061.0,271.1 1061.5,271.3 1062.0,271.5 1062.5,271.8 1063.0,272.3 1063.5,273.0 1064.0,273.7 1064.5,274.1 1065.0,274.3 1065.5,274.3 1066.0,274.1 1066.5,274.2 1067.0,274.4 1067.5,274.6 1068.0,275.1 1068.5,275.5 1069.0,275.5 1069.5,275.7 1070.0,275.8 1070.5,276.0 1071.0,276.4 1071.5,276.7 1072.0,276.5 1072.5,276.3 1073.0,276.3 1073.5,276.6 1074.0,276.9 1074.5,277.0 1075.0,276.8 1075.5,276.2 1076.0,275.9 1076.5,276.1 1077.0,276.2 1077.5,276.2 1078.0,276.4 1078.5,276.1 1079.0,275.5 1079.5,275.0 1080.0,274.3 1080.5,273.6 1081.0,273.3 1081.5,273.3 1082.0,272.6 1082.5,271.8 1083.0,271.1 1083.5,270.7 1084.0,270.5 1084.5,270.4 1085.0,270.3 1085.5,269.6 1086.0,268.7 1086.5,267.9 1087.0,267.3 1087.5,266.9 1088.0,266.4 1088.5,265.6 1089.0,265.5 1089.5,265.0 1090.0,264.2 1090.5,263.3 1091.0,262.8 1091.5,262.5 1092.0,261.8 1092.5,261.3 1093.0,261.1 1093.5,260.4 1094.0,259.7 1094.5,259.1 1095.0,258.7 1095.5,258.1 1096.0,257.5 1096.5,257.3 1097.0,257.2 1097.5,256.7 1098.0,256.2 1098.5,255.6 1099.0,255.1 1099.5,254.8 1100.0,255.0 1100.5,255.2 1101.0,254.5 1101.5,254.0 1102.0,253.4 1102.5,252.6 1103.0,252.3 1103.5,252.8 1104.0,253.3 1104.5,252.8 1105.0,252.4 1105.5,252.3 1106.0,252.4 1106.5,252.5 1107.0,253.0 1107.5,252.9 1108.0,252.6 1108.5,252.6 1109.0,252.4 1109.5,252.4 1110.0,253.0 1110.5,253.1 1111.0,252.5 1111.5,252.3 1112.0,252.2 1112.5,252.4 1113.0,252.9 1113.5,253.3 1114.0,253.4 1114.5,253.4 1115.0,253.5 1115.5,253.3 1116.0,253.3 1116.5,253.8 1117.0,254.6 1117.5,255.1 1118.0,255.2 1118.5,255.4 1119.0,255.6 1119.5,255.9 1120.0,256.6 1120.5,257.4 1121.0,257.8 1121.5,258.0 1122.0,258.2 1122.5,258.2 1123.0,258.6 1123.5,259.6 1124.0,260.5 1124.5,260.7 1125.0,260.9 1125.5,261.3 1126.0,261.4 1126.5,261.9 1127.0,262.9 1127.5,263.6 1128.0,263.5 1128.5,263.5 1129.0,263.3 1129.5,263.3 1130.0,263.7 1130.5,263.9 1131.0,264.2 1131.5,264.3 1132.0,264.0 1132.5,263.9 1133.0,264.2 1133.5,264.8 1134.0,265.1 1134.5,265.7 1135.0,265.4 1135.5,265.0 1136.0,265.0 1136.5,265.1 1137.0,265.5 1137.5,266.1 1138.0,266.0 1138.5,265.6 1139.0,265.3 1139.5,265.5 1140.0,266.0 1140.5,266.4 1141.0,266.2 1141.5,265.9 1142.0,265.9 1142.5,266.0 1143.0,266.2 1143.5,266.3 1144.0,266.4 1144.5,265.9 1145.0,265.1 1145.5,264.7 1146.0,264.7 1146.5,264.6 1147.0,264.5 1147.5,264.6 1148.0,264.3 1148.5,263.8 1149.0,263.5 1149.5,263.2 1150.0,262.7 1150.5,262.6 1151.0,262.7 1151.5,262.3 1152.0,261.9 1152.5,261.5 1153.0,260.8 1153.5,260.3 1154.0,260.0 1154.5,259.6 1154.5,263.8 1154.0,264.1 1153.5,264.5 1153.0,265.0 1152.5,265.4 1152.0,265.8 1151.5,266.0 1151.0,266.0 1150.5,266.1 1150.0,266.5 1149.5,267.1 1149.0,267.7 1148.5,268.2 1148.0,268.3 1147.5,268.0 1147.0,268.2 1146.5,268.8 1146.0,269.1 1145.5,269.2 1145.0,269.6 1144.5,269.9 1144.0,269.7 1143.5,270.2 1143.0,270.7 1142.5,271.0 1142.0,271.0 1141.5,271.0 1141.0,270.8 1140.5,270.5 1140.0,270.7 1139.5,271.0 1139.0,270.7 1138.5,270.5 1138.0,270.5 1137.5,270.5 1137.0,271.0 1136.5,271.2 1136.0,271.0 1135.5,270.8 1135.0,270.5 1134.5,270.0 1134.0,270.3 1133.5,270.9 1133.0,271.2 1132.5,270.5 1132.0,269.9 1131.5,269.7 1131.0,269.6 1130.5,269.8 1130.0,269.8 1129.5,269.9 1129.0,269.8 1128.5,268.9 1128.0,268.0 1127.5,267.9 1127.0,268.2 1126.5,268.2 1126.0,268.0 1125.5,267.7 1125.0,267.1 1124.5,266.5 1124.0,266.3 1123.5,266.2 1123.0,265.8 1122.5,265.3 1122.0,264.7 1121.5,263.9 1121.0,263.2 1120.5,262.7 1120.0,262.6 1119.5,262.4 1119.0,262.1 1118.5,261.7 1118.0,261.2 1117.5,260.6 1117.0,260.1 1116.5,260.3 1116.0,260.4 1115.5,259.8 1115.0,259.3 1114.5,258.9 1114.0,258.5 1113.5,258.2 1113.0,258.5 1112.5,258.6 1112.0,258.6 1111.5,258.6 1111.0,257.9 1110.5,257.2 1110.0,257.6 1109.5,258.2 1109.0,258.4 1108.5,257.9 1108.0,257.4 1107.5,257.2 1107.0,257.2 1106.5,257.5 1106.0,257.9 1105.5,258.0 1105.0,257.6 1104.5,257.3 1104.0,257.3 1103.5,257.9 1103.0,258.4 1102.5,258.7 1102.0,259.0 1101.5,259.3 1101.0,259.4 1100.5,259.4 1100.0,260.2 1099.5,260.8 1099.0,261.2 1098.5,261.7 1098.0,261.9 1097.5,262.0 1097.0,262.0 1096.5,262.8 1096.0,263.8 1095.5,264.6 1095.0,264.9 1094.5,265.2 1094.0,265.5 1093.5,265.9 1093.0,266.3 1092.5,267.0 1092.0,267.8 1091.5,268.7 1091.0,268.9 1090.5,269.0 1090.0,269.5 1089.5,269.6 1089.0,269.5 1088.5,270.4 1088.0,271.3 1087.5,272.0 1087.0,272.6 1086.5,273.2 1086.0,273.5 1085.5,273.6 1085.0,274.2 1084.5,275.0 1084.0,275.4 1083.5,275.8 1083.0,276.4 1082.5,276.5 1082.0,276.5 1081.5,276.4 1081.0,277.1 1080.5,278.0 1080.0,278.8 1079.5,278.9 1079.0,279.0 1078.5,279.2 1078.0,279.2 1077.5,279.3 1077.0,279.6 1076.5,280.0 1076.0,279.9 1075.5,279.4 1075.0,279.0 1074.5,279.2 1074.0,279.8 1073.5,280.1 1073.0,280.1 1072.5,280.2 1072.0,280.0 1071.5,280.1 1071.0,280.7 1070.5,280.9 1070.0,280.5 1069.5,280.4 1069.0,280.3 1068.5,279.7 1068.0,279.2 1067.5,279.4 1067.0,279.5 1066.5,279.6 1066.0,279.4 1065.5,278.5 1065.0,278.0 1064.5,278.3 1064.0,278.2 1063.5,277.9 1063.0,277.7 1062.5,277.3 1062.0,276.8 1061.5,275.9 1061.0,275.0 1060.5,274.7 1060.0,274.6 1059.5,274.4 1059.0,273.8 1058.5,273.1 1058.0,272.2 1057.5,271.5 1057.0,271.3 1056.5,271.1 1056.0,270.9 1055.5,270.7 1055.0,270.3 1054.5,269.4 1054.0,268.5 1053.5,268.2 1053.0,268.3 1052.5,268.4 1052.0,267.8 1051.5,266.9 1051.0,266.4 1050.5,266.5 1050.0,266.4 1049.5,266.3 1049.0,265.8 1048.5,265.0 1048.0,264.3 1047.5,264.4 1047.0,264.3 1046.5,264.1 1046.0,263.7 1045.5,263.0 1045.0,262.2 1044.5,262.2 1044.0,262.0 1043.5,261.9 1043.0,261.6 1042.5,261.1 1042.0,260.5 1041.5,260.7 1041.0,261.2 1040.5,261.2 1040.0,261.1 1039.5,261.1 1039.0,260.5 1038.5,259.9 1038.0,260.2 1037.5,260.3 1037.0,260.4 1036.5,260.4 1036.0,259.9 1035.5,259.9 1035.0,260.3 1034.5,260.4 1034.0,260.5 1033.5,260.5 1033.0,260.4 1032.5,260.1 1032.0,259.9 1031.5,260.6 1031.0,260.9 1030.5,260.8 1030.0,260.9 1029.5,261.1 1029.0,261.1 1028.5,261.5 1028.0,261.7 1027.5,261.7 1027.0,262.0 1026.5,262.4 1026.0,262.5 1025.5,262.7 1025.0,263.0 1024.5,263.3 1024.0,263.8 1023.5,263.9 1023.0,264.0 1022.5,264.3 1022.0,264.9 1021.5,265.1 1021.0,265.5 1020.5,265.8 1020.0,265.8 1019.5,265.6 1019.0,265.7 1018.5,266.0 1018.0,266.3 1017.5,266.6 1017.0,266.7 1016.5,266.6 1016.0,266.3 1015.5,266.3 1015.0,266.8 1014.5,267.3 1014.0,267.6 1013.5,267.6 1013.0,267.4 1012.5,266.9 1012.0,266.7 1011.5,266.9 1011.0,266.8 1010.5,266.9 1010.0,266.8 1009.5,266.2 1009.0,265.5 1008.5,265.3 1008.0,265.0 1007.5,264.5 1007.0,264.1 1006.5,264.1 1006.0,264.1 1005.5,263.3 1005.0,262.2 1004.5,261.7 1004.0,261.8 1003.5,261.9 1003.0,261.7 1002.5,261.2 1002.0,260.3 1001.5,259.4 1001.0,258.7 1000.5,259.0 1000.0,259.2 999.5,259.0 999.0,258.9 998.5,258.5 998.0,258.0 997.5,257.8 997.0,258.1 996.5,258.9 996.0,259.2 995.5,258.7 995.0,258.1 994.5,258.3 994.0,258.9 993.5,258.8 993.0,258.9 992.5,259.1 992.0,258.8 991.5,258.6 991.0,258.7 990.5,258.9 990.0,259.0 989.5,259.0 989.0,258.9 988.5,258.8 988.0,258.6 987.5,259.0 987.0,259.5 986.5,259.9 986.0,259.7 985.5,259.1 985.0,258.7 984.5,259.1 984.0,259.9 983.5,259.8 983.0,259.4 982.5,259.5 982.0,259.7 981.5,259.2 981.0,259.3 980.5,259.9 980.0,260.2 979.5,259.7 979.0,259.0 978.5,258.7 978.0,259.2 977.5,259.5 977.0,259.8 976.5,259.8 976.0,259.3 975.5,258.7 975.0,259.1 974.5,259.5 974.0,259.6 973.5,259.5 973.0,259.0 972.5,258.0 972.0,258.2 971.5,258.9 971.0,259.0 970.5,258.7 970.0,258.6 969.5,258.7 969.0,258.9 968.5,258.6 968.0,258.1 967.5,258.0 967.0,257.9 966.5,257.7 966.0,258.1 965.5,258.6 965.0,258.2 964.5,257.9 964.0,258.0 963.5,257.8 963.0,257.0 962.5,256.6 962.0,256.7 961.5,257.2 961.0,257.7 960.5,257.7 960.0,257.2 959.5,257.0 959.0,257.0 958.5,256.9 958.0,256.9 957.5,256.6 957.0,256.5 956.5,256.5 956.0,256.5 955.5,256.3 955.0,255.9 954.5,255.2 954.0,255.4 953.5,255.6 953.0,255.5 952.5,255.5 952.0,255.7 951.5,255.5 951.0,255.1 950.5,254.9 950.0,255.0 949.5,255.9 949.0,256.7 948.5,256.7 948.0,256.5 947.5,256.4 947.0,256.4 946.5,256.8 946.0,257.1 945.5,257.0 945.0,256.9 944.5,257.1 944.0,257.3 943.5,257.6 943.0,258.1 942.5,258.4 942.0,258.4 941.5,258.7 941.0,258.8 940.5,259.0 940.0,259.5 939.5,259.8 939.0,259.8 938.5,259.7 938.0,259.8 937.5,259.9 937.0,259.9 936.5,260.0 936.0,260.3 935.5,260.3 935.0,259.8 934.5,259.9 934.0,260.3 933.5,260.3 933.0,260.1 932.5,260.1 932.0,260.1 931.5,260.0 931.0,260.4 930.5,260.6 930.0,260.5 929.5,260.4 929.0,260.2 928.5,260.0 928.0,259.1 927.5,259.0 927.0,259.3 926.5,259.0 926.0,258.3 925.5,257.9 925.0,257.7 924.5,257.0 924.0,256.5 923.5,256.7 923.0,256.7 922.5,256.6 922.0,256.7 921.5,256.6 921.0,256.0 920.5,255.2 920.0,254.7 919.5,254.8 919.0,255.3 918.5,255.8 918.0,255.7 917.5,255.3 917.0,255.1 916.5,255.2 916.0,255.5 915.5,255.5 915.0,255.7 914.5,256.1 914.0,256.4 913.5,256.8 913.0,256.6 912.5,256.5 912.0,257.1 911.5,257.5 911.0,258.0 910.5,258.5 910.0,258.6 909.5,258.6 909.0,259.2 908.5,260.1 908.0,260.8 907.5,261.3 907.0,261.9 906.5,262.6 906.0,263.1 905.5,263.8 905.0,264.7 904.5,265.7 904.0,266.5 903.5,266.9 903.0,267.1 902.5,267.3 902.0,268.1 901.5,269.2 901.0,269.9 900.5,270.2 900.0,270.1 899.5,269.8 899.0,269.4 898.5,269.6 898.0,269.9 897.5,270.2 897.0,270.5 896.5,270.4 896.0,270.1 895.5,269.7 895.0,269.2 894.5,269.4 894.0,269.7 893.5,269.7 893.0,269.6 892.5,269.8 892.0,269.6 891.5,268.9 891.0,268.9 890.5,269.3 890.0,269.3 889.5,269.0 889.0,269.0 888.5,268.7 888.0,268.1 887.5,267.8 887.0,267.7 886.5,267.8 886.0,268.2 885.5,268.3 885.0,268.0 884.5,267.9 884.0,267.8 883.5,268.0 883.0,268.6 882.5,268.9 882.0,269.0 881.5,268.9 881.0,269.0 880.5,269.3 880.0,269.8 879.5,270.4 879.0,271.0 878.5,271.7 878.0,272.5 877.5,273.6 877.0,274.3 876.5,274.7 876.0,275.7 875.5,276.8 875.0,277.4 874.5,277.9 874.0,278.5 873.5,279.7 873.0,280.7 872.5,281.3 872.0,282.2 871.5,282.8 871.0,282.8 870.5,283.7 870.0,285.1 869.5,286.0 869.0,286.3 868.5,286.6 868.0,286.6 867.5,287.4 867.0,288.0 866.5,288.3 866.0,288.4 865.5,288.3 865.0,288.4 864.5,289.0 864.0,289.0 863.5,289.0 863.0,289.0 862.5,289.2 862.0,289.1 861.5,288.7 861.0,288.5 860.5,288.6 860.0,288.6 859.5,288.0 859.0,287.0 858.5,286.0 858.0,285.8 857.5,285.6 857.0,284.8 856.5,283.7 856.0,282.7 855.5,281.9 855.0,281.4 854.5,280.7 854.0,279.8 853.5,278.7 853.0,277.4 852.5,276.1 852.0,274.8 851.5,274.0 851.0,273.4 850.5,272.6 850.0,271.5 849.5,270.3 849.0,268.8 848.5,267.5 848.0,266.8 847.5,266.1 847.0,265.1 846.5,264.1 846.0,262.9 845.5,261.4 845.0,260.2 844.5,259.2 844.0,258.4 843.5,258.3 843.0,258.3 842.5,258.1 842.0,257.9 841.5,258.1 841.0,258.4 840.5,258.4 840.0,258.3 839.5,258.2 839.0,258.5 838.5,258.5 838.0,258.3 837.5,258.3 837.0,258.5 836.5,258.7 836.0,259.0 835.5,258.9 835.0,258.6 834.5,258.6 834.0,258.7 833.5,259.0 833.0,259.2 832.5,258.9 832.0,258.3 831.5,258.0 831.0,257.8 830.5,257.8 830.0,257.6 829.5,257.5 829.0,257.3 828.5,257.0 828.0,256.8 827.5,256.3 827.0,256.2 826.5,256.3 826.0,256.3 825.5,256.1 825.0,256.3 824.5,256.3 824.0,255.7 823.5,255.6 823.0,255.8 822.5,256.1 822.0,256.3 821.5,256.5 821.0,256.4 820.5,256.4 820.0,256.6 819.5,256.8 819.0,257.0 818.5,257.0 818.0,256.7 817.5,256.7 817.0,256.9 816.5,257.3 816.0,257.6 815.5,257.7 815.0,257.7 814.5,257.4 814.0,257.8 813.5,258.3 813.0,258.3 812.5,257.9 812.0,258.0 811.5,258.2 811.0,258.6 810.5,258.6 810.0,258.5 809.5,258.4 809.0,258.2 808.5,258.0 808.0,258.3 807.5,258.6 807.0,258.9 806.5,259.2 806.0,259.0 805.5,258.3 805.0,258.5 804.5,258.5 804.0,258.6 803.5,258.8 803.0,258.5 802.5,257.9 802.0,257.9 801.5,258.4 801.0,258.6 800.5,258.6 800.0,258.4 799.5,257.9 799.0,257.4 798.5,257.1 798.0,257.4 797.5,257.8 797.0,257.8 796.5,257.5 796.0,257.3 795.5,257.2 795.0,256.7 794.5,256.1 794.0,256.2 793.5,256.3 793.0,256.2 792.5,256.2 792.0,255.9 791.5,255.6 791.0,255.5 790.5,255.1 790.0,255.3 789.5,255.7 789.0,255.8 788.5,255.7 788.0,255.7 787.5,255.6 787.0,255.5 786.5,255.4 786.0,255.5 785.5,255.6 785.0,256.1 784.5,256.4 784.0,256.0 783.5,255.7 783.0,255.5 782.5,255.6 782.0,255.7 781.5,255.9 781.0,255.9 780.5,255.9 780.0,255.8 779.5,255.6 779.0,255.7 778.5,255.8 778.0,256.1 777.5,256.1 777.0,256.2 776.5,256.0 776.0,255.6 775.5,255.5 775.0,255.6 774.5,255.9 774.0,256.0 773.5,255.6 773.0,255.2 772.5,254.8 772.0,254.5 771.5,254.5 771.0,254.5 770.5,254.7 770.0,254.8 769.5,254.5 769.0,254.3 768.5,254.3 768.0,254.5 767.5,254.6 767.0,254.9 766.5,255.0 766.0,254.5 765.5,254.1 765.0,253.8 764.5,253.9 764.0,254.4 763.5,255.1 763.0,255.3 762.5,255.0 762.0,254.6 761.5,254.9 761.0,255.3 760.5,255.4 760.0,255.7 759.5,255.9 759.0,255.9 758.5,255.8 758.0,255.8 757.5,256.0 757.0,256.1 756.5,256.2 756.0,256.3 755.5,255.9 755.0,256.3 754.5,257.0 754.0,257.3 753.5,257.3 753.0,257.2 752.5,257.0 752.0,257.3 751.5,257.9 751.0,258.3 750.5,258.2 750.0,257.8 749.5,257.6 749.0,257.6 748.5,258.1 748.0,258.5 747.5,258.7 747.0,258.1 746.5,257.4 746.0,257.1 745.5,257.0 745.0,257.1 744.5,257.1 744.0,256.9 743.5,256.6 743.0,256.3 742.5,255.8 742.0,255.7 741.5,256.0 741.0,256.2 740.5,256.2 740.0,256.0 739.5,255.6 739.0,255.6 738.5,256.2 738.0,256.4 737.5,256.3 737.0,256.1 736.5,256.1 736.0,256.3 735.5,256.5 735.0,256.8 734.5,257.4 734.0,258.1 733.5,258.2 733.0,258.2 732.5,258.7 732.0,259.9 731.5,260.4 731.0,260.8 730.5,261.3 730.0,261.6 729.5,261.8 729.0,262.5 728.5,263.6 728.0,264.5 727.5,264.8 727.0,265.2 726.5,265.7 726.0,266.1 725.5,266.8 725.0,267.7 724.5,268.3 724.0,268.7 723.5,269.0 723.0,269.5 722.5,270.3 722.0,271.0 721.5,271.0 721.0,271.0 720.5,271.3 720.0,271.2 719.5,271.9 719.0,272.4 718.5,272.6 718.0,272.8 717.5,273.0 717.0,273.0 716.5,273.1 716.0,272.9 715.5,273.1 715.0,273.5 714.5,273.5 714.0,273.3 713.5,273.2 713.0,273.5 712.5,273.8 712.0,273.4 711.5,272.9 711.0,272.5 710.5,271.8 710.0,271.5 709.5,272.1 709.0,272.5 708.5,272.6 708.0,272.6 707.5,272.6 707.0,272.5 706.5,271.8 706.0,271.8 705.5,272.4 705.0,273.0 704.5,273.1 704.0,273.1 703.5,273.1 703.0,273.3 702.5,273.4 702.0,273.6 701.5,274.1 701.0,274.8 700.5,275.4 700.0,275.7 699.5,276.3 699.0,277.3 698.5,278.8 698.0,280.2 697.5,281.4 697.0,282.4 696.5,283.3 696.0,284.1 695.5,284.6 695.0,285.7 694.5,286.9 694.0,287.8 693.5,288.6 693.0,288.9 692.5,289.0 692.0,288.9 691.5,289.2 691.0,289.7 690.5,290.5 690.0,290.5 689.5,289.9 689.0,290.0 688.5,290.6 688.0,291.1 687.5,291.5 687.0,291.6 686.5,291.6 686.0,291.5 685.5,291.6 685.0,292.1 684.5,292.3 684.0,292.4 683.5,292.7 683.0,292.9 682.5,293.0 682.0,292.9 681.5,292.7 681.0,293.0 680.5,293.7 680.0,293.7 679.5,293.3 679.0,293.1 678.5,292.5 678.0,292.4 677.5,292.8 677.0,292.7 676.5,292.5 676.0,292.4 675.5,291.9 675.0,290.9 674.5,290.8 674.0,291.3 673.5,291.4 673.0,291.2 672.5,291.0 672.0,290.5 671.5,289.7 671.0,289.8 670.5,289.9 670.0,289.8 669.5,289.6 669.0,289.2 668.5,288.8 668.0,289.5 667.5,290.0 667.0,290.4 666.5,290.4 666.0,290.2 665.5,289.8 665.0,289.9 664.5,290.3 664.0,290.7 663.5,290.8 663.0,290.8 662.5,290.6 662.0,290.5 661.5,291.0 661.0,291.4 660.5,291.4 660.0,291.4 659.5,291.3 659.0,290.8 658.5,290.9 658.0,291.2 657.5,291.1 657.0,290.8 656.5,290.5 656.0,289.8 655.5,289.0 655.0,289.0 654.5,289.0 654.0,288.6 653.5,288.0 653.0,287.4 652.5,286.7 652.0,285.9 651.5,285.5 651.0,285.3 650.5,284.4 650.0,283.5 649.5,282.6 649.0,281.2 648.5,279.9 648.0,279.5 647.5,278.9 647.0,277.9 646.5,277.1 646.0,276.3 645.5,275.3 645.0,274.1 644.5,273.5 644.0,273.1 643.5,272.4 643.0,271.6 642.5,270.5 642.0,269.8 641.5,269.9 641.0,269.4 640.5,268.9 640.0,268.4 639.5,267.8 639.0,267.1 638.5,266.8 638.0,266.9 637.5,266.8 637.0,266.8 636.5,267.0 636.0,266.8 635.5,266.1 635.0,266.0 634.5,266.4 634.0,266.9 633.5,267.3 633.0,267.5 632.5,267.6 632.0,267.9 631.5,268.4 631.0,269.0 630.5,269.7 630.0,270.5 629.5,270.9 629.0,271.1 628.5,271.3 628.0,271.4 627.5,272.0 627.0,272.5 626.5,273.3 626.0,273.9 625.5,274.2 625.0,274.3 624.5,274.2 624.0,274.3 623.5,275.1 623.0,275.8 622.5,276.3 622.0,276.5 621.5,276.5 621.0,276.5 620.5,276.7 620.0,276.8 619.5,277.1 619.0,278.0 618.5,278.6 618.0,278.5 617.5,278.1 617.0,277.8 616.5,277.5 616.0,277.7 615.5,278.1 615.0,278.6 614.5,278.5 614.0,277.9 613.5,277.0 613.0,276.4 612.5,277.1 612.0,277.4 611.5,277.2 611.0,276.6 610.5,276.1 610.0,275.9 609.5,275.3 609.0,275.2 608.5,275.2 608.0,274.9 607.5,274.5 607.0,274.4 606.5,273.9 606.0,273.2 605.5,273.4 605.0,274.1 604.5,274.6 604.0,274.6 603.5,274.3 603.0,274.2 602.5,274.2 602.0,274.5 601.5,274.9 601.0,275.0 600.5,274.8 600.0,274.6 599.5,274.1 599.0,273.2 598.5,273.1 598.0,273.3 597.5,273.3 597.0,272.8 596.5,272.3 596.0,271.6 595.5,271.2 595.0,271.2 594.5,271.1 594.0,270.9 593.5,270.6 593.0,270.1 592.5,269.8 592.0,270.5 591.5,270.8 591.0,270.7 590.5,270.7 590.0,270.5 589.5,270.4 589.0,270.2 588.5,270.3 588.0,270.2 587.5,270.2 587.0,270.1 586.5,269.6 586.0,268.9 585.5,268.2 585.0,267.8 584.5,267.4 584.0,267.1 583.5,266.3 583.0,265.3 582.5,264.6 582.0,264.1 581.5,263.8 581.0,263.6 580.5,263.6 580.0,263.7 579.5,264.1 579.0,263.9 578.5,263.1 578.0,263.0 577.5,262.9 577.0,262.7 576.5,262.7 576.0,262.3 575.5,261.7 575.0,261.2 574.5,261.3 574.0,261.4 573.5,261.1 573.0,260.6 572.5,259.5 572.0,258.4 571.5,257.8 571.0,257.4 570.5,256.7 570.0,256.6 569.5,256.5 569.0,256.3 568.5,255.6 568.0,255.0 567.5,255.2 567.0,255.1 566.5,254.6 566.0,254.2 565.5,254.1 565.0,253.8 564.5,253.1 564.0,253.1 563.5,253.3 563.0,253.3 562.5,253.2 562.0,253.1 561.5,253.0 561.0,253.0 560.5,252.8 560.0,252.8 559.5,253.2 559.0,253.5 558.5,253.5 558.0,253.8 557.5,254.5 557.0,254.9 556.5,254.9 556.0,254.9 555.5,254.6 555.0,254.8 554.5,255.2 554.0,255.1 553.5,254.4 553.0,253.4 552.5,252.9 552.0,253.2 551.5,253.1 551.0,252.3 550.5,251.3 550.0,250.7 549.5,250.8 549.0,251.1 548.5,251.4 548.0,251.7 547.5,251.8 547.0,251.5 546.5,251.8 546.0,252.4 545.5,252.7 545.0,252.9 544.5,252.9 544.0,253.1 543.5,254.0 543.0,255.0 542.5,255.9 542.0,256.9 541.5,257.9 541.0,258.7 540.5,259.3 540.0,260.2 539.5,260.6 539.0,260.8 538.5,261.2 538.0,261.5 537.5,261.6 537.0,261.3 536.5,261.5 536.0,262.0 535.5,262.8 535.0,263.0 534.5,262.8 534.0,262.3 533.5,261.8 533.0,262.5 532.5,263.5 532.0,263.8 531.5,263.7 531.0,263.5 530.5,263.8 530.0,264.2 529.5,264.5 529.0,264.7 528.5,265.4 528.0,266.1 527.5,266.3 527.0,266.7 526.5,267.3 526.0,268.4 525.5,269.0 525.0,269.5 524.5,270.5 524.0,271.3 523.5,271.8 523.0,273.0 522.5,274.6 522.0,276.1 521.5,277.2 521.0,278.4 520.5,279.6 520.0,280.8 519.5,282.2 519.0,283.6 518.5,284.7 518.0,285.9 517.5,287.3 517.0,288.4 516.5,288.6 516.0,288.4 515.5,288.6 515.0,288.8 514.5,288.4 514.0,287.9 513.5,287.2 513.0,286.4 512.5,285.4 512.0,284.4 511.5,283.8 511.0,283.1 510.5,282.3 510.0,281.3 509.5,280.0 509.0,278.8 508.5,277.9 508.0,277.7 507.5,278.1 507.0,278.6 506.5,279.0 506.0,279.2 505.5,279.3 505.0,279.6 504.5,280.0 504.0,280.7 503.5,281.1 503.0,281.2 502.5,281.4 502.0,281.7 501.5,281.8 501.0,282.3 500.5,283.1 500.0,283.9 499.5,284.7 499.0,284.9 498.5,284.8 498.0,285.4 497.5,286.4 497.0,286.9 496.5,287.0 496.0,286.8 495.5,286.5 495.0,286.4 494.5,286.6 494.0,286.7 493.5,286.8 493.0,287.0 492.5,287.0 492.0,286.7 491.5,286.6 491.0,286.7 490.5,286.7 490.0,286.7 489.5,286.9 489.0,287.2 488.5,287.0 488.0,286.7 487.5,286.9 487.0,287.5 486.5,287.6 486.0,287.3 485.5,287.3 485.0,287.5 484.5,287.7 484.0,288.0 483.5,288.3 483.0,288.5 482.5,289.0 482.0,289.1 481.5,289.0 481.0,289.0 480.5,289.2 480.0,289.8 479.5,290.1 479.0,290.2 478.5,290.5 478.0,290.5 477.5,290.1 477.0,290.1 476.5,291.0 476.0,291.5 475.5,291.6 475.0,291.7 474.5,291.8 474.0,292.2 473.5,292.2 473.0,292.5 472.5,293.1 472.0,293.3 471.5,293.3 471.0,293.5 470.5,293.7 470.0,293.9 469.5,294.4 469.0,295.1 468.5,295.6 468.0,295.7 467.5,295.3 467.0,295.2 466.5,296.2 466.0,296.8 465.5,297.1 465.0,297.4 464.5,297.7 464.0,297.9 463.5,298.9 463.0,299.7 462.5,300.0 462.0,300.4 461.5,300.9 461.0,301.2 460.5,301.2 460.0,301.5 459.5,301.8 459.0,302.1 458.5,302.3 458.0,302.0 457.5,301.5 457.0,301.5 456.5,302.2 456.0,302.0 455.5,301.7 455.0,301.7 454.5,301.4 454.0,300.9 453.5,300.5 453.0,300.6 452.5,300.7 452.0,300.7 451.5,300.4 451.0,300.1 450.5,299.8 450.0,299.3 449.5,298.9 449.0,298.9 448.5,298.5 448.0,297.9 447.5,297.8 447.0,297.5 446.5,296.7 446.0,296.3 445.5,296.3 445.0,296.2 444.5,295.8 444.0,295.0 443.5,294.1 443.0,293.5 442.5,293.3 442.0,292.8 441.5,292.3 441.0,292.4 440.5,292.3 440.0,291.3 439.5,290.3 439.0,290.4 438.5,290.3 438.0,289.7 437.5,289.5 437.0,289.4 436.5,289.1 436.0,289.3 435.5,289.7 435.0,289.7 434.5,289.8 434.0,289.9 433.5,289.8 433.0,289.9 432.5,290.5 432.0,290.9 431.5,291.0 431.0,291.1 430.5,291.2 430.0,291.2 429.5,292.0 429.0,292.5 428.5,292.5 428.0,292.4 427.5,292.5 427.0,292.7 426.5,293.4 426.0,294.0 425.5,294.2 425.0,294.8 424.5,295.4 424.0,295.5 423.5,295.6 423.0,296.4 422.5,297.5 422.0,297.9 421.5,297.8 421.0,298.0 420.5,298.3 420.0,299.0 419.5,299.6 419.0,300.2 418.5,300.7 418.0,301.0 417.5,301.3 417.0,301.5 416.5,302.0 416.0,303.0 415.5,303.9 415.0,304.5 414.5,304.8 414.0,305.0 413.5,305.2 413.0,305.8 412.5,306.8 412.0,307.5 411.5,307.7 411.0,308.0 410.5,308.6 410.0,309.1 409.5,310.1 409.0,311.0 408.5,311.4 408.0,311.6 407.5,312.2 407.0,312.6 406.5,313.6 406.0,314.6 405.5,314.7 405.0,314.5 404.5,314.5 404.0,314.7 403.5,315.9 403.0,317.3 402.5,318.0 402.0,318.3 401.5,318.5 401.0,318.7 400.5,319.9 400.0,320.8 399.5,321.2 399.0,321.7 398.5,321.9 398.0,321.9 397.5,323.0 397.0,324.0 396.5,324.8 396.0,325.5 395.5,326.1 395.0,326.2 394.5,326.6 394.0,327.5 393.5,328.4 393.0,329.3 392.5,329.8 392.0,330.2 391.5,330.7 391.0,331.8 390.5,332.9 390.0,333.4 389.5,333.8 389.0,334.3 388.5,334.8 388.0,335.2 387.5,336.0 387.0,336.7 386.5,337.5 386.0,338.1 385.5,338.6 385.0,339.1 384.5,339.5 384.0,340.4 383.5,341.5 383.0,342.3 382.5,343.0 382.0,343.4 381.5,343.6 381.0,344.0 380.5,345.0 380.0,346.0 379.5,346.8 379.0,347.3 378.5,347.7 378.0,348.0 377.5,348.6 377.0,349.7 376.5,350.3 376.0,350.4 375.5,350.8 375.0,351.4 374.5,351.4 374.0,351.8 373.5,352.6 373.0,353.1 372.5,353.0 372.0,353.0 371.5,353.5 371.0,353.9 370.5,354.5 370.0,354.9 369.5,355.1 369.0,354.8 368.5,354.4 368.0,354.8 367.5,355.4 367.0,355.5 366.5,356.1 366.0,356.7 365.5,356.4 365.0,356.0 364.5,355.9 364.0,356.4 363.5,356.8 363.0,357.1 362.5,357.2 362.0,357.3 361.5,357.3 361.0,357.4 360.5,358.1 360.0,358.5 359.5,359.0 359.0,359.3 358.5,359.6 358.0,359.6 357.5,359.9 357.0,361.4 356.5,362.2 356.0,362.4 355.5,362.7 355.0,362.7 354.5,362.3 354.0,362.2 353.5,363.1 353.0,363.9 352.5,364.4 352.0,364.7 351.5,365.0 351.0,365.3 350.5,365.3 350.0,365.6 349.5,365.7 349.0,365.9 348.5,366.2 348.0,366.5 347.5,366.7 347.0,366.6 346.5,367.0 346.0,367.8 345.5,368.4 345.0,368.7 344.5,368.7 344.0,368.6 343.5,368.8 343.0,369.0 342.5,369.2 342.0,369.4 341.5,370.1 341.0,370.7 340.5,370.6 340.0,370.5 339.5,370.4 339.0,370.5 338.5,370.9 338.0,371.1 337.5,371.2 337.0,371.6 336.5,371.9 336.0,371.7 335.5,371.8 335.0,372.1 334.5,372.3 334.0,372.7 333.5,372.5 333.0,372.0 332.5,371.8 332.0,371.7 331.5,371.8 331.0,371.8 330.5,371.2 330.0,370.6 329.5,370.2 329.0,369.7 328.5,368.7 328.0,368.0 327.5,367.2 327.0,366.5 326.5,365.7 326.0,364.2 325.5,362.4 325.0,361.0 324.5,360.2 324.0,359.2 323.5,357.8 323.0,356.0 322.5,354.1 322.0,352.1 321.5,350.2 321.0,348.7 320.5,347.0 320.0,345.4 319.5,343.4 319.0,341.1 318.5,338.3 318.0,336.1 317.5,334.2 317.0,331.8 316.5,329.2 316.0,326.7 315.5,324.1 315.0,321.3 314.5,318.7 314.0,316.0 313.5,313.4 313.0,310.8 312.5,308.1 312.0,305.4 311.5,303.0 311.0,300.8 310.5,298.2 310.0,295.9 309.5,293.9 309.0,291.7 308.5,289.1 308.0,286.7 307.5,285.1 307.0,283.2 306.5,281.2 306.0,279.3 305.5,277.1 305.0,274.8 304.5,272.7 304.0,271.1 303.5,269.7 303.0,269.1 302.5,268.3 302.0,267.2 301.5,266.1 301.0,265.1 300.5,264.5 300.0,264.5 299.5,264.5 299.0,264.3 298.5,264.3 298.0,264.5 297.5,264.4 297.0,264.5 296.5,265.4 296.0,266.1 295.5,266.3 295.0,266.3 294.5,266.6 294.0,267.1 293.5,268.2 293.0,269.6 292.5,271.1 292.0,272.4 291.5,273.3 291.0,274.1 290.5,274.9 290.0,276.2 289.5,277.6 289.0,279.1 288.5,280.3 288.0,281.2 287.5,282.0 287.0,282.3 286.5,282.8 286.0,283.5 285.5,284.0 285.0,283.9 284.5,283.2 284.0,282.3 283.5,281.7 283.0,281.4 282.5,280.5 282.0,279.2 281.5,278.0 281.0,276.1 280.5,273.8 280.0,271.9 279.5,270.8 279.0,269.4 278.5,267.8 278.0,266.0 277.5,264.2 277.0,262.8 276.5,261.6 276.0,260.7 275.5,259.5 275.0,258.1 274.5,256.5 274.0,254.6 273.5,253.0 273.0,251.5 272.5,250.1 272.0,248.9 271.5,247.7 271.0,245.9 270.5,244.1 270.0,242.5 269.5,241.3 269.0,240.0 268.5,238.5 268.0,237.1 267.5,235.8 267.0,234.4 266.5,233.0 266.0,232.2 265.5,231.3 265.0,230.2 264.5,228.8 264.0,227.1 263.5,225.7 263.0,225.0 262.5,224.0 262.0,222.9 261.5,221.9 261.0,220.8 260.5,219.1 260.0,217.9 259.5,217.3 259.0,216.6 258.5,215.4 258.0,213.5 257.5,211.8 257.0,211.0 256.5,210.4 256.0,209.6 255.5,208.4 255.0,206.7 254.5,205.5 254.0,205.2 253.5,204.2 253.0,202.5 252.5,201.2 252.0,200.1 251.5,199.1 251.0,198.3 250.5,197.5 250.0,196.5 249.5,195.4 249.0,194.2 248.5,192.7 248.0,191.6 247.5,191.2 247.0,190.5 246.5,189.3 246.0,188.4 245.5,187.5 245.0,186.3 244.5,185.8 244.0,185.2 243.5,184.0 243.0,183.2 242.5,182.7 242.0,181.7 241.5,180.3 241.0,179.6 240.5,179.3 240.0,178.7 239.5,178.1 239.0,177.6 238.5,176.2 238.0,174.7 237.5,174.0 237.0,173.6 236.5,172.9 236.0,172.4 235.5,172.0 235.0,170.9 234.5,169.6 234.0,168.8 233.5,168.3 233.0,167.8 232.5,167.3 232.0,166.7 231.5,165.6 231.0,164.6 230.5,164.0 230.0,163.1 229.5,162.6 229.0,162.2 228.5,161.4 228.0,160.2 227.5,159.0 227.0,157.7 226.5,156.7 226.0,155.7 225.5,155.0 225.0,154.4 224.5,153.5 224.0,152.8 223.5,152.4 223.0,151.5 222.5,150.3 222.0,149.6 221.5,149.4 221.0,149.2 220.5,148.6 220.0,147.8 219.5,147.3 219.0,146.6 218.5,146.2 218.0,145.7 217.5,145.1 217.0,145.0 216.5,144.6 216.0,143.8 215.5,143.4 215.0,143.1 214.5,142.8 214.0,142.3 213.5,141.7 213.0,140.9 212.5,140.5 212.0,140.6 211.5,140.7 211.0,140.1 210.5,139.2 210.0,138.6 209.5,138.5 209.0,138.4 208.5,137.9 208.0,137.4 207.5,136.9 207.0,136.0 206.5,135.7 206.0,136.0 205.5,135.6 205.0,135.0 204.5,134.8 204.0,134.4 203.5,133.8 203.0,133.6 202.5,133.4 202.0,133.2 201.5,132.6 201.0,131.9 200.5,131.4 200.0,131.3 199.5,131.4 199.0,131.3 198.5,131.1 198.0,130.9 197.5,130.3 197.0,129.3 196.5,129.2 196.0,129.7 195.5,129.9 195.0,129.4 194.5,128.4 194.0,127.6 193.5,126.8 193.0,126.7 192.5,126.7 192.0,126.6 191.5,126.4 191.0,126.0 190.5,125.6 190.0,125.1 189.5,125.0 189.0,125.1 188.5,125.2 188.0,124.8 187.5,124.2 187.0,123.5 186.5,122.8 186.0,122.5 185.5,122.4 185.0,122.5 184.5,122.1 184.0,121.4 183.5,120.7 183.0,120.4 182.5,120.8 182.0,120.8 181.5,120.6 181.0,120.3 180.5,120.1 180.0,119.7 179.5,118.7 179.0,118.7 178.5,118.8 178.0,118.4 177.5,118.0 177.0,117.8 176.5,117.2 176.0,116.4 175.5,116.5 175.0,116.9 174.5,117.0 174.0,117.1 173.5,116.8 173.0,116.2 172.5,115.5 172.0,115.4 171.5,115.7 171.0,116.0 170.5,116.1 170.0,116.0 169.5,115.8 169.0,115.5 168.5,115.5 168.0,115.7 167.5,115.8 167.0,115.8 166.5,115.8 166.0,115.6 165.5,115.5 165.0,115.6" fill="#00ff00"/>
<polygon points="165.0,114.9 165.5,115.1 166.0,114.7 166.5,114.4 167.0,114.2 167.5,114.3 168.0,114.6 168.5,114.6 169.0,114.0 169.5,113.5 170.0,113.5 170.5,113.4 171.0,113.6 171.5,114.2 172.0,114.4 172.5,114.2 173.0,114.2 173.5,114.1 174.0,114.0 174.5,114.1 175.0,114.1 175.5,114.3 176.0,114.8 176.5,115.0 177.0,115.1 177.5,115.0 178.0,115.1 178.5,115.6 179.0,116.3 179.5,117.0 180.0,117.1 180.5,116.8 181.0,116.7 181.5,117.1 182.0,117.5 182.5,118.0 183.0,118.9 183.5,119.3 184.0,119.1 184.5,119.2 185.0,119.6 185.5,119.8 186.0,120.0 186.5,120.7 187.0,121.1 187.5,121.3 188.0,121.3 188.5,121.6 189.0,122.3 189.5,122.6 190.0,122.9 190.5,122.9 191.0,123.1 191.5,123.3 192.0,123.3 192.5,123.6 193.0,124.0 193.5,124.5 194.0,124.6 194.5,124.7 195.0,124.8 195.5,125.0 196.0,125.4 196.5,126.0 197.0,126.6 197.5,126.8 198.0,126.9 198.5,127.0 199.0,127.3 199.5,127.8 200.0,128.4 200.5,128.9 201.0,129.2 201.5,129.5 202.0,129.8 202.5,130.3 203.0,131.1 203.5,131.8 204.0,132.1 204.5,132.2 205.0,132.3 205.5,132.6 206.0,133.2 206.5,133.9 207.0,134.6 207.5,134.9 208.0,135.0 208.5,135.0 209.0,135.3 209.5,136.1 210.0,137.0 210.5,137.1 211.0,137.1 211.5,137.4 212.0,138.0 212.5,138.5 213.0,139.2 213.5,139.7 214.0,139.9 214.5,140.1 215.0,140.3 215.5,140.9 216.0,141.6 216.5,141.8 217.0,142.0 217.5,142.3 218.0,142.9 218.5,143.8 219.0,144.7 219.5,145.1 220.0,145.2 220.5,145.2 221.0,145.8 221.5,146.6 222.0,147.6 222.5,148.7 223.0,149.2 223.5,149.6 224.0,150.2 224.5,150.7 225.0,151.3 225.5,152.2 226.0,153.5 226.5,154.5 227.0,155.2 227.5,156.2 228.0,157.2 228.5,157.8 229.0,158.6 229.5,159.4 230.0,160.5 230.5,161.2 231.0,161.8 231.5,162.4 232.0,163.0 232.5,163.5 233.0,164.2 233.5,165.0 234.0,165.8 234.5,166.4 235.0,166.9 235.5,167.3 236.0,167.9 236.5,168.8 237.0,169.3 237.5,170.1 238.0,171.3 238.5,171.7 239.0,172.1 239.5,172.7 240.0,173.6 240.5,174.8 241.0,176.1 241.5,177.5 242.0,178.4 242.5,179.0 243.0,179.4 243.5,180.2 244.0,181.2 244.5,182.2 245.0,183.5 245.5,184.4 246.0,185.1 246.5,185.8 247.0,186.8 247.5,187.8 248.0,188.7 248.5,189.4 249.0,190.2 249.5,191.0 250.0,192.2 250.5,193.6 251.0,194.8 251.5,195.5 252.0,196.1 252.5,196.8 253.0,198.0 253.5,199.4 254.0,200.5 254.5,201.4 255.0,202.3 255.5,203.5 256.0,204.6 256.5,205.8 257.0,207.0 257.5,208.3 258.0,209.1 258.5,210.1 259.0,211.3 259.5,212.6 260.0,213.9 260.5,215.1 261.0,215.7 261.5,216.7 262.0,218.2 262.5,219.5 263.0,220.7 263.5,222.1 264.0,223.5 264.5,224.9 265.0,226.1 265.5,227.2 266.0,228.2 266.5,229.8 267.0,231.1 267.5,232.3 268.0,233.4 268.5,234.9 269.0,236.6 269.5,238.1 270.0,239.0 270.5,240.2 271.0,241.7 271.5,243.0 272.0,244.7 272.5,246.3 273.0,247.6 273.5,248.8 274.0,250.1 274.5,251.4 275.0,253.1 275.5,254.7 276.0,256.1 276.5,257.6 277.0,258.9 277.5,259.8 278.0,261.0 278.5,262.5 279.0,263.7 279.5,265.2 280.0,267.1 280.5,268.4 281.0,269.8 281.5,271.6 282.0,273.1 282.5,274.6 283.0,276.2 283.5,277.7 284.0,278.8 284.5,279.8 285.0,280.7 285.5,280.7 286.0,280.2 286.5,279.4 287.0,278.8 287.5,277.5 288.0,276.2 288.5,274.8 289.0,273.5 289.5,272.5 290.0,271.6 290.5,270.9 291.0,269.5 291.5,267.9 292.0,266.5 292.5,265.6 293.0,265.0 293.5,264.8 294.0,264.6 294.5,263.9 295.0,263.2 295.5,262.9 296.0,262.5 296.5,262.3 297.0,262.4 297.5,262.0 298.0,261.6 298.5,261.5 299.0,261.6 299.5,261.9 300.0,262.1 300.5,262.2 301.0,262.9 301.5,263.8 302.0,264.4 302.5,265.0 303.0,265.4 303.5,265.9 304.0,267.1 304.5,268.8 305.0,270.1 305.5,271.3 306.0,272.9 306.5,274.8 307.0,276.5 307.5,278.8 308.0,281.5 308.5,283.3 309.0,285.0 309.5,286.9 310.0,288.8 310.5,290.7 311.0,293.2 311.5,296.2 312.0,298.8 312.5,301.1 313.0,303.2 313.5,305.3 314.0,308.0 314.5,311.2 315.0,314.3 315.5,316.5 316.0,318.7 316.5,321.4 317.0,324.0 317.5,326.3 318.0,329.0 318.5,332.0 319.0,334.1 319.5,336.2 320.0,338.3 320.5,340.3 321.0,342.4 321.5,344.6 322.0,346.3 322.5,348.2 323.0,350.2 323.5,351.9 324.0,353.5 324.5,355.2 325.0,356.9 325.5,358.4 326.0,359.9 326.5,361.0 327.0,362.0 327.5,363.5 328.0,364.9 328.5,365.9 329.0,366.4 329.5,366.7 330.0,367.2 330.5,368.2 331.0,368.9 331.5,369.4 332.0,369.9 332.5,370.1 333.0,370.4 333.5,370.4 334.0,369.9 334.5,369.8 335.0,370.3 335.5,370.6 336.0,370.3 336.5,370.1 337.0,369.9 337.5,369.5 338.0,369.0 338.5,368.7 339.0,368.7 339.5,368.8 340.0,368.5 340.5,368.1 341.0,367.9 341.5,367.7 342.0,367.3 342.5,367.2 343.0,367.2 343.5,366.6 344.0,366.2 344.5,365.8 345.0,365.4 345.5,365.3 346.0,365.0 346.5,364.7 347.0,364.1 347.5,363.3 348.0,362.8 348.5,362.5 349.0,362.3 349.5,362.0 350.0,361.6 350.5,361.4 351.0,361.0 351.5,360.7 352.0,360.0 352.5,359.4 353.0,359.3 353.5,359.5 354.0,359.6 354.5,358.6 355.0,357.8 355.5,357.6 356.0,357.5 356.5,357.4 357.0,357.4 357.5,357.2 358.0,356.3 358.5,355.8 359.0,355.2 359.5,354.8 360.0,354.6 360.5,354.7 361.0,355.1 361.5,354.6 362.0,354.3 362.5,354.0 363.0,353.6 363.5,353.8 364.0,354.4 364.5,354.2 365.0,353.7 365.5,353.7 366.0,353.5 366.5,353.2 367.0,353.3 367.5,353.2 368.0,353.0 368.5,352.7 369.0,352.3 369.5,352.0 370.0,351.8 370.5,351.9 371.0,352.0 371.5,351.7 372.0,351.2 372.5,350.5 373.0,349.9 373.5,349.7 374.0,350.0 374.5,350.1 375.0,349.3 375.5,348.5 376.0,347.9 376.5,347.4 377.0,347.1 377.5,346.7 378.0,345.9 378.5,344.9 379.0,343.8 379.5,342.9 380.0,342.2 380.5,341.9 381.0,342.1 381.5,341.5 382.0,340.1 382.5,338.7 383.0,337.9 383.5,337.4 384.0,336.7 384.5,336.3 385.0,335.4 385.5,334.5 386.0,334.0 386.5,333.3 387.0,332.4 387.5,331.7 388.0,331.2 388.5,330.2 389.0,329.5 389.5,328.8 390.0,328.0 390.5,327.4 391.0,327.1 391.5,326.5 392.0,325.2 392.5,324.5 393.0,324.1 393.5,323.5 394.0,322.8 394.5,322.7 395.0,322.4 395.5,321.2 396.0,319.8 396.5,319.1 397.0,319.0 397.5,318.9 398.0,318.5 398.5,317.4 399.0,316.7 399.5,316.3 400.0,315.8 400.5,315.3 401.0,315.3 401.5,314.7 402.0,313.7 402.5,312.8 403.0,312.4 403.5,312.2 404.0,312.1 404.5,311.3 405.0,310.5 405.5,310.0 406.0,309.9 406.5,310.0 407.0,310.0 407.5,309.0 408.0,308.2 408.5,307.7 409.0,306.9 409.5,306.7 410.0,307.0 410.5,306.7 411.0,305.9 411.5,305.0 412.0,304.2 412.5,304.0 413.0,303.9 413.5,303.4 414.0,302.4 414.5,301.6 415.0,301.2 415.5,301.1 416.0,300.7 416.5,300.0 417.0,299.5 417.5,299.0 418.0,298.4 418.5,297.7 419.0,297.1 419.5,296.6 420.0,296.5 420.5,296.6 421.0,295.9 421.5,294.9 422.0,294.4 422.5,294.3 423.0,293.9 423.5,293.7 424.0,293.4 424.5,292.9 425.0,292.5 425.5,292.0 426.0,291.5 426.5,291.4 427.0,291.3 427.5,290.5 428.0,290.2 428.5,290.0 429.0,289.8 429.5,289.9 430.0,290.0 430.5,289.5 431.0,289.2 431.5,289.0 432.0,288.8 432.5,288.6 433.0,288.6 433.5,288.6 434.0,288.6 434.5,288.1 435.0,287.6 435.5,287.5 436.0,287.7 436.5,287.9 437.0,288.0 437.5,288.0 438.0,287.9 438.5,288.3 439.0,288.9 439.5,289.3 440.0,289.6 440.5,289.9 441.0,290.4 441.5,290.9 442.0,291.3 442.5,292.1 443.0,292.7 443.5,293.2 444.0,293.6 444.5,294.1 445.0,294.6 445.5,295.1 446.0,295.5 446.5,295.8 447.0,296.2 447.5,296.7 448.0,296.8 448.5,296.6 449.0,297.1 449.5,297.7 450.0,297.8 450.5,298.1 451.0,298.6 451.5,298.6 452.0,298.5 452.5,299.0 453.0,299.4 453.5,299.5 454.0,299.1 454.5,298.6 455.0,298.1 455.5,298.2 456.0,298.5 456.5,298.9 457.0,299.3 457.5,298.5 458.0,297.7 458.5,297.7 459.0,298.1 459.5,298.3 460.0,298.3 460.5,298.4 461.0,297.8 461.5,296.9 462.0,296.3 462.5,295.7 463.0,295.5 463.5,295.4 464.0,294.7 464.5,294.0 465.0,293.9 465.5,293.6 466.0,293.6 466.5,293.5 467.0,293.8 467.5,293.5 468.0,292.8 468.5,292.1 469.0,291.8 469.5,291.9 470.0,292.3 470.5,292.1 471.0,291.5 471.5,291.1 472.0,290.8 472.5,290.5 473.0,290.6 473.5,290.7 474.0,290.3 474.5,290.0 475.0,289.7 475.5,289.7 476.0,290.0 476.5,290.1 477.0,290.0 477.5,289.6 478.0,289.3 478.5,289.1 479.0,289.2 479.5,289.1 480.0,288.6 480.5,288.4 481.0,287.9 481.5,287.1 482.0,287.0 482.5,287.3 483.0,287.3 483.5,287.1 484.0,287.2 484.5,287.2 485.0,286.8 485.5,286.7 486.0,286.5 486.5,285.8 487.0,285.5 487.5,285.6 488.0,285.5 488.5,285.4 489.0,285.1 489.5,284.8 490.0,284.8 490.5,284.9 491.0,284.9 491.5,284.9 492.0,284.8 492.5,284.5 493.0,284.3 493.5,284.3 494.0,284.6 494.5,284.4 495.0,284.5 495.5,284.5 496.0,284.1 496.5,283.5 497.0,283.2 497.5,283.2 498.0,283.2 498.5,282.4 499.0,281.4 499.5,280.8 500.0,280.5 500.5,279.8 501.0,279.1 501.5,278.9 502.0,278.6 502.5,278.2 503.0,278.0 503.5,278.0 504.0,277.8 504.5,277.7 505.0,277.4 505.5,277.0 506.0,276.4 506.5,276.2 507.0,276.4 507.5,276.2 508.0,276.0 508.5,276.3 509.0,276.4 509.5,276.8 510.0,277.6 510.5,278.4 511.0,279.4 511.5,280.8 512.0,282.0 512.5,282.6 513.0,283.2 513.5,283.8 514.0,284.5 514.5,285.3 515.0,286.1 515.5,286.5 516.0,286.6 516.5,285.8 517.0,284.3 517.5,282.6 518.0,281.1 518.5,279.9 519.0,278.9 519.5,278.1 520.0,277.0 520.5,275.6 521.0,274.2 521.5,272.8 522.0,271.3 522.5,270.5 523.0,270.1 523.5,269.1 524.0,268.0 524.5,267.2 525.0,266.4 525.5,265.6 526.0,265.0 526.5,264.8 527.0,264.3 527.5,263.8 528.0,263.1 528.5,262.6 529.0,262.4 529.5,261.8 530.0,261.2 530.5,260.8 531.0,260.8 531.5,260.4 532.0,259.8 532.5,259.7 533.0,259.9 533.5,260.4 534.0,260.0 534.5,259.5 535.0,258.8 535.5,258.3 536.0,258.6 536.5,258.8 537.0,259.1 537.5,258.8 538.0,258.2 538.5,257.7 539.0,257.1 539.5,256.6 540.0,256.3 540.5,256.0 541.0,255.2 541.5,254.3 542.0,253.2 542.5,252.6 543.0,252.1 543.5,251.7 544.0,251.5 544.5,250.8 545.0,250.2 545.5,249.8 546.0,249.7 546.5,249.7 547.0,249.5 547.5,248.9 548.0,248.6 548.5,248.5 549.0,248.5 549.5,248.9 550.0,249.1 550.5,248.5 551.0,248.2 551.5,248.9 552.0,249.8 552.5,250.8 553.0,251.2 553.5,251.6 554.0,251.9 554.5,252.2 555.0,252.6 555.5,252.9 556.0,252.7 556.5,252.6 557.0,252.5 557.5,252.5 558.0,252.7 558.5,252.6 559.0,252.0 559.5,251.9 560.0,252.0 560.5,252.2 561.0,252.3 561.5,252.3 562.0,252.3 562.5,252.4 563.0,252.3 563.5,252.2 564.0,252.5 564.5,253.0 565.0,253.3 565.5,253.1 566.0,253.1 566.5,253.4 567.0,253.6 567.5,254.1 568.0,254.7 568.5,254.7 569.0,254.8 569.5,254.8 570.0,254.9 570.5,255.5 571.0,256.2 571.5,256.5 572.0,256.7 572.5,257.2 573.0,257.7 573.5,258.3 574.0,259.3 574.5,259.8 575.0,260.0 575.5,260.2 576.0,260.4 576.5,260.5 577.0,260.7 577.5,261.0 578.0,261.2 578.5,261.1 579.0,260.8 579.5,260.7 580.0,261.0 580.5,261.5 581.0,261.6 581.5,261.6 582.0,262.3 582.5,262.5 583.0,262.5 583.5,262.8 584.0,263.2 584.5,263.7 585.0,264.7 585.5,265.8 586.0,266.1 586.5,266.1 587.0,266.3 587.5,266.8 588.0,267.4 588.5,267.9 589.0,268.5 589.5,268.7 590.0,268.3 590.5,267.7 591.0,267.8 591.5,268.2 592.0,268.5 592.5,269.0 593.0,268.8 593.5,268.2 594.0,268.0 594.5,268.1 595.0,268.3 595.5,268.8 596.0,269.4 596.5,269.6 597.0,269.6 597.5,269.8 598.0,270.1 598.5,270.8 599.0,271.5 599.5,270.9 600.0,270.7 600.5,270.7 601.0,270.6 601.5,271.0 602.0,271.4 602.5,271.2 603.0,270.6 603.5,270.2 604.0,270.2 604.5,270.3 605.0,270.5 605.5,271.0 606.0,271.2 606.5,270.8 607.0,270.4 607.5,270.2 608.0,270.6 608.5,271.0 609.0,271.6 609.5,272.5 610.0,272.5 610.5,272.4 611.0,272.4 611.5,272.8 612.0,273.3 612.5,273.8 613.0,274.2 613.5,274.0 614.0,274.1 614.5,273.9 615.0,273.7 615.5,274.1 616.0,274.8 616.5,275.4 617.0,275.3 617.5,274.9 618.0,274.8 618.5,275.0 619.0,275.1 619.5,274.9 620.0,274.7 620.5,274.4 621.0,273.8 621.5,273.4 622.0,272.9 622.5,272.2 623.0,271.9 623.5,271.8 624.0,271.8 624.5,271.4 625.0,270.7 625.5,270.2 626.0,270.0 626.5,269.6 627.0,269.1 627.5,268.9 628.0,268.9 628.5,268.1 629.0,267.5 629.5,267.2 630.0,266.9 630.5,266.5 631.0,266.4 631.5,266.6 632.0,266.2 632.5,265.1 633.0,264.5 633.5,264.1 634.0,263.8 634.5,263.7 635.0,263.9 635.5,263.9 636.0,263.5 636.5,263.1 637.0,263.0 637.5,263.5 638.0,264.5 638.5,265.3 639.0,265.3 639.5,265.1 640.0,265.2 640.5,265.5 641.0,265.8 641.5,266.2 642.0,266.8 642.5,267.0 643.0,267.1 643.5,267.4 644.0,268.2 644.5,269.6 645.0,270.8 645.5,271.4 646.0,272.2 646.5,272.8 647.0,273.1 647.5,273.8 648.0,275.2 648.5,276.4 649.0,276.7 649.5,277.2 650.0,278.0 650.5,278.9 651.0,280.4 651.5,282.0 652.0,282.8 652.5,283.2 653.0,283.6 653.5,284.0 654.0,284.2 654.5,284.7 655.0,285.5 655.5,286.3 656.0,286.7 656.5,286.9 657.0,286.9 657.5,287.0 658.0,287.4 658.5,288.3 659.0,288.9 659.5,288.4 660.0,287.8 660.5,287.5 661.0,287.6 661.5,287.7 662.0,287.8 662.5,287.7 663.0,287.2 663.5,286.7 664.0,286.6 664.5,286.7 665.0,286.7 665.5,286.8 666.0,286.0 666.5,285.3 667.0,285.0 667.5,285.1 668.0,285.6 668.5,286.2 669.0,285.7 669.5,285.0 670.0,284.5 670.5,284.8 671.0,285.4 671.5,286.2 672.0,286.2 672.5,286.3 673.0,286.3 673.5,286.3 674.0,286.9 674.5,287.5 675.0,287.8 675.5,287.7 676.0,287.7 676.5,287.7 677.0,288.4 677.5,289.4 678.0,289.6 678.5,289.3 679.0,289.3 679.5,289.5 680.0,289.7 680.5,290.0 681.0,290.3 681.5,290.9 682.0,290.8 682.5,290.3 683.0,290.2 683.5,290.4 684.0,290.7 684.5,290.7 685.0,290.7 685.5,290.6 686.0,290.5 686.5,290.3 687.0,289.9 687.5,289.8 688.0,289.7 688.5,289.5 689.0,289.3 689.5,288.9 690.0,288.4 690.5,288.2 691.0,288.1 691.5,287.9 692.0,287.5 692.5,287.0 693.0,286.3 693.5,285.0 694.0,284.1 694.5,283.4 695.0,282.5 695.5,281.6 696.0,280.4 696.5,279.3 697.0,278.3 697.5,277.1 698.0,276.1 698.5,275.2 699.0,274.3 699.5,273.1 700.0,272.2 700.5,272.0 701.0,272.0 701.5,271.9 702.0,271.6 702.5,271.3 703.0,271.0 703.5,270.4 704.0,270.1 704.5,270.1 705.0,269.8 705.5,270.0 706.0,270.2 706.5,270.2 707.0,269.8 707.5,269.7 708.0,269.7 708.5,270.0 709.0,270.0 709.5,269.9 710.0,270.1 710.5,270.0 711.0,269.7 711.5,269.8 712.0,270.3 712.5,270.6 713.0,271.0 713.5,271.7 714.0,271.9 714.5,271.5 715.0,271.4 715.5,271.9 716.0,271.8 716.5,271.3 717.0,271.1 717.5,270.9 718.0,270.5 718.5,270.3 719.0,270.3 719.5,270.1 720.0,269.5 720.5,268.8 721.0,268.7 721.5,268.6 722.0,268.1 722.5,267.6 723.0,267.6 723.5,267.2 724.0,266.3 724.5,265.6 725.0,265.4 725.5,265.1 726.0,264.7 726.5,264.0 727.0,263.0 727.5,262.0 728.0,261.3 728.5,260.9 729.0,260.5 729.5,260.1 730.0,259.5 730.5,258.8 731.0,258.1 731.5,257.5 732.0,257.3 732.5,257.1 733.0,256.2 733.5,255.7 734.0,255.5 734.5,255.2 735.0,254.6 735.5,254.5 736.0,254.4 736.5,254.2 737.0,254.0 737.5,253.5 738.0,253.2 738.5,253.7 739.0,254.2 739.5,253.9 740.0,253.9 740.5,253.8 741.0,253.4 741.5,253.1 742.0,253.3 742.5,253.8 743.0,253.7 743.5,253.6 744.0,253.7 744.5,254.0 745.0,254.5 745.5,254.8 746.0,254.5 746.5,254.1 747.0,253.9 747.5,254.0 748.0,254.6 748.5,255.3 749.0,255.7 749.5,255.0 750.0,254.2 750.5,254.0 751.0,254.2 751.5,254.2 752.0,254.4 752.5,254.5 753.0,253.8 753.5,253.2 754.0,253.2 754.5,253.3 755.0,253.3 755.5,253.8 756.0,253.8 756.5,253.6 757.0,253.1 757.5,252.5 758.0,252.7 758.5,253.1 759.0,252.8 759.5,252.2 760.0,252.1 760.5,252.6 761.0,252.9 761.5,253.0 762.0,252.9 762.5,252.4 763.0,252.2 763.5,252.2 764.0,252.3 764.5,252.7 765.0,252.8 765.5,252.5 766.0,252.6 766.5,252.5 767.0,252.4 767.5,252.3 768.0,252.3 768.5,252.8 769.0,252.8 769.5,252.7 770.0,252.4 770.5,252.4 771.0,253.0 771.5,253.4 772.0,253.5 772.5,253.5 773.0,253.4 773.5,253.2 774.0,253.2 774.5,253.4 775.0,253.7 775.5,254.1 776.0,254.1 776.5,254.0 777.0,253.7 777.5,253.2 778.0,253.1 778.5,253.4 779.0,253.7 779.5,253.8 780.0,253.4 780.5,253.5 781.0,253.5 781.5,253.2 782.0,253.1 782.5,253.4 783.0,253.8 783.5,253.6 784.0,253.4 784.5,253.2 785.0,253.2 785.5,253.2 786.0,253.0 786.5,253.3 787.0,253.3 787.5,253.0 788.0,252.9 788.5,252.8 789.0,252.9 789.5,253.0 790.0,253.4 790.5,253.8 791.0,253.6 791.5,253.6 792.0,253.9 792.5,253.7 793.0,253.7 793.5,254.2 794.0,254.8 794.5,255.2 795.0,254.9 795.5,254.5 796.0,254.6 796.5,254.8 797.0,254.8 797.5,254.7 798.0,254.6 798.5,255.2 799.0,255.3 799.5,254.7 800.0,254.6 800.5,254.9 801.0,255.3 801.5,255.5 802.0,255.5 802.5,255.4 803.0,255.3 803.5,254.9 804.0,255.1 804.5,255.8 805.0,256.1 805.5,256.1 806.0,255.3 806.5,255.3 807.0,255.5 807.5,255.6 808.0,256.3 808.5,257.0 809.0,256.4 809.5,255.8 810.0,255.9 810.5,256.0 811.0,256.3 811.5,256.7 812.0,256.6 812.5,256.2 813.0,255.9 813.5,256.1 814.0,256.4 814.5,256.5 815.0,256.4 815.5,256.0 816.0,255.6 816.5,255.9 817.0,256.4 817.5,256.4 818.0,255.8 818.5,255.4 819.0,254.9 819.5,254.7 820.0,255.1 820.5,255.4 821.0,255.2 821.5,254.8 822.0,254.6 822.5,254.4 823.0,254.6 823.5,254.8 824.0,254.9 824.5,254.5 825.0,254.0 825.5,254.1 826.0,254.7 826.5,255.0 827.0,255.0 827.5,255.0 828.0,254.9 828.5,255.2 829.0,255.3 829.5,255.3 830.0,255.8 830.5,256.4 831.0,256.7 831.5,256.6 832.0,256.5 832.5,256.6 833.0,256.9 833.5,256.9 834.0,256.9 834.5,257.4 835.0,257.5 835.5,257.2 836.0,257.1 836.5,256.8 837.0,256.9 837.5,256.9 838.0,256.8 838.5,257.2 839.0,257.1 839.5,256.7 840.0,256.6 840.5,256.6 841.0,256.6 841.5,256.6 842.0,256.8 842.5,256.8 843.0,256.8 843.5,256.5 844.0,256.3 844.5,256.8 845.0,257.7 845.5,258.8 846.0,259.7 846.5,260.6 847.0,261.5 847.5,262.7 848.0,263.9 848.5,265.1 849.0,265.5 849.5,266.3 850.0,267.7 850.5,268.8 851.0,269.6 851.5,270.7 852.0,271.7 852.5,272.2 853.0,273.0 853.5,273.9 854.0,274.7 854.5,275.8 855.0,277.3 855.5,278.4 856.0,278.9 856.5,279.3 857.0,279.8 857.5,280.7 858.0,281.8 858.5,282.6 859.0,283.1 859.5,283.8 860.0,284.4 860.5,285.0 861.0,285.8 861.5,286.5 862.0,286.6 862.5,286.0 863.0,285.9 863.5,285.9 864.0,286.0 864.5,286.1 865.0,286.3 865.5,286.1 866.0,285.8 866.5,285.5 867.0,285.3 867.5,285.3 868.0,285.2 868.5,284.4 869.0,283.5 869.5,282.7 870.0,282.3 870.5,282.0 871.0,281.3 871.5,280.1 872.0,279.3 872.5,278.7 873.0,278.0 873.5,277.1 874.0,276.5 874.5,275.7 875.0,274.9 875.5,274.2 876.0,273.8 876.5,273.4 877.0,272.9 877.5,271.7 878.0,270.3 878.5,269.3 879.0,268.8 879.5,268.3 880.0,267.9 880.5,267.8 881.0,267.5 881.5,267.1 882.0,266.6 882.5,266.2 883.0,266.0 883.5,265.9 884.0,265.6 884.5,265.6 885.0,265.7 885.5,265.4 886.0,265.2 886.5,265.4 887.0,265.8 887.5,266.0 888.0,265.8 888.5,265.6 889.0,265.5 889.5,265.7 890.0,265.9 890.5,266.2 891.0,266.6 891.5,266.6 892.0,266.4 892.5,266.4 893.0,266.3 893.5,266.4 894.0,266.4 894.5,266.6 895.0,267.1 895.5,267.1 896.0,267.0 896.5,266.8 897.0,266.4 897.5,266.2 898.0,266.2 898.5,266.5 899.0,266.6 899.5,265.9 900.0,265.6 900.5,265.6 901.0,265.4 901.5,265.0 902.0,264.8 902.5,264.5 903.0,263.1 903.5,262.0 904.0,261.4 904.5,260.8 905.0,260.2 905.5,260.2 906.0,259.7 906.5,258.9 907.0,258.0 907.5,257.4 908.0,257.2 908.5,257.0 909.0,256.6 909.5,256.3 910.0,255.8 910.5,255.2 911.0,254.9 911.5,254.8 912.0,254.6 912.5,254.5 913.0,254.6 913.5,254.4 914.0,254.1 914.5,253.9 915.0,253.6 915.5,253.6 916.0,253.7 916.5,253.6 917.0,253.4 917.5,253.1 918.0,252.7 918.5,252.6 919.0,252.4 919.5,252.3 920.0,252.8 920.5,252.8 921.0,252.5 921.5,252.4 922.0,252.5 922.5,252.5 923.0,252.6 923.5,253.2 924.0,253.8 924.5,253.7 925.0,253.4 925.5,253.4 926.0,253.6 926.5,254.1 927.0,255.0 927.5,256.0 928.0,256.6 928.5,256.5 929.0,256.7 929.5,256.8 930.0,257.0 930.5,257.5 931.0,258.1 931.5,258.3 932.0,258.0 932.5,257.8 933.0,257.7 933.5,257.8 934.0,258.3 934.5,258.7 935.0,258.7 935.5,258.6 936.0,258.5 936.5,258.3 937.0,258.3 937.5,258.2 938.0,258.0 938.5,258.1 939.0,258.3 939.5,258.0 940.0,258.1 940.5,258.2 941.0,258.0 941.5,257.7 942.0,257.5 942.5,257.2 943.0,257.1 943.5,256.7 944.0,256.4 944.5,256.0 945.0,255.5 945.5,255.0 946.0,255.1 946.5,255.4 947.0,255.3 947.5,254.8 948.0,254.5 948.5,254.2 949.0,254.1 949.5,253.9 950.0,253.7 950.5,253.8 951.0,254.0 951.5,254.2 952.0,254.5 952.5,254.5 953.0,254.5 953.5,254.5 954.0,254.3 954.5,254.4 955.0,254.2 955.5,254.1 956.0,254.4 956.5,254.9 957.0,255.1 957.5,255.2 958.0,255.1 958.5,255.1 959.0,255.2 959.5,255.3 960.0,255.7 960.5,255.8 961.0,255.4 961.5,255.4 962.0,255.6 962.5,255.8 963.0,255.5 963.5,255.6 964.0,255.6 964.5,255.4 965.0,255.3 965.5,255.4 966.0,255.8 966.5,255.8 967.0,255.5 967.5,255.3 968.0,255.3 968.5,255.3 969.0,255.5 969.5,255.9 970.0,256.0 970.5,255.8 971.0,255.8 971.5,256.2 972.0,256.3 972.5,256.5 973.0,256.3 973.5,256.2 974.0,256.2 974.5,256.2 975.0,256.5 975.5,257.0 976.0,256.7 976.5,256.1 977.0,256.2 977.5,256.5 978.0,256.7 978.5,257.0 979.0,256.9 979.5,256.7 980.0,256.6 980.5,256.6 981.0,256.7 981.5,257.0 982.0,256.6 982.5,256.4 983.0,256.4 983.5,256.6 984.0,256.7 984.5,257.2 985.0,257.3 985.5,256.6 986.0,255.9 986.5,255.7 987.0,255.9 987.5,256.2 988.0,256.4 988.5,256.1 989.0,256.1 989.5,255.9 990.0,255.7 990.5,255.9 991.0,256.4 991.5,256.7 992.0,256.4 992.5,255.8 993.0,255.3 993.5,255.8 994.0,256.6 994.5,257.0 995.0,256.3 995.5,255.7 996.0,255.8 996.5,255.7 997.0,255.6 997.5,256.1 998.0,256.6 998.5,256.5 999.0,256.0 999.5,255.9 1000.0,256.3 1000.5,256.5 1001.0,256.7 1001.5,256.7 1002.0,257.1 1002.5,257.5 1003.0,257.9 1003.5,258.4 1004.0,259.1 1004.5,259.3 1005.0,259.2 1005.5,259.7 1006.0,260.1 1006.5,260.2 1007.0,260.7 1007.5,261.6 1008.0,262.2 1008.5,262.1 1009.0,261.9 1009.5,261.8 1010.0,261.9 1010.5,262.5 1011.0,263.2 1011.5,263.8 1012.0,264.1 1012.5,264.1 1013.0,263.9 1013.5,263.7 1014.0,263.7 1014.5,263.8 1015.0,264.0 1015.5,264.2 1016.0,264.0 1016.5,263.8 1017.0,263.6 1017.5,263.5 1018.0,263.7 1018.5,263.9 1019.0,263.9 1019.5,263.8 1020.0,263.7 1020.5,263.4 1021.0,263.1 1021.5,263.0 1022.0,263.1 1022.5,263.0 1023.0,262.2 1023.5,261.2 1024.0,260.8 1024.5,260.9 1025.0,261.0 1025.5,260.8 1026.0,260.5 1026.5,260.1 1027.0,259.7 1027.5,259.4 1028.0,259.2 1028.5,259.1 1029.0,259.4 1029.5,259.1 1030.0,258.4 1030.5,258.1 1031.0,258.3 1031.5,258.5 1032.0,258.4 1032.5,258.0 1033.0,257.7 1033.5,257.2 1034.0,257.0 1034.5,257.4 1035.0,257.8 1035.5,257.9 1036.0,257.7 1036.5,257.6 1037.0,257.5 1037.5,257.5 1038.0,257.9 1038.5,258.5 1039.0,258.5 1039.5,258.3 1040.0,257.8 1040.5,257.3 1041.0,257.7 1041.5,258.5 1042.0,258.7 1042.5,258.4 1043.0,258.7 1043.5,258.8 1044.0,258.9 1044.5,259.4 1045.0,259.9 1045.5,259.9 1046.0,260.2 1046.5,260.4 1047.0,260.7 1047.5,261.5 1048.0,262.3 1048.5,262.4 1049.0,262.7 1049.5,263.1 1050.0,263.8 1050.5,264.3 1051.0,264.6 1051.5,264.8 1052.0,265.1 1052.5,265.1 1053.0,265.3 1053.5,266.3 1054.0,267.1 1054.5,266.9 1055.0,267.0 1055.5,267.3 1056.0,267.6 1056.5,268.1 1057.0,268.9 1057.5,269.6 1058.0,269.6 1058.5,269.7 1059.0,270.1 1059.5,270.5 1060.0,271.3 1060.5,272.3 1061.0,273.0 1061.5,273.2 1062.0,273.4 1062.5,273.7 1063.0,274.2 1063.5,274.9 1064.0,275.6 1064.5,276.0 1065.0,276.2 1065.5,276.2 1066.0,276.0 1066.5,276.1 1067.0,276.3 1067.5,276.5 1068.0,277.0 1068.5,277.4 1069.0,277.4 1069.5,277.6 1070.0,277.7 1070.5,277.9 1071.0,278.3 1071.5,278.6 1072.0,278.4 1072.5,278.2 1073.0,278.2 1073.5,278.5 1074.0,278.8 1074.5,278.9 1075.0,278.7 1075.5,278.1 1076.0,277.8 1076.5,278.0 1077.0,278.1 1077.5,278.1 1078.0,278.3 1078.5,278.0 1079.0,277.4 1079.5,276.9 1080.0,276.2 1080.5,275.5 1081.0,275.2 1081.5,275.2 1082.0,274.5 1082.5,273.7 1083.0,273.0 1083.5,272.6 1084.0,272.4 1084.5,272.3 1085.0,272.2 1085.5,271.5 1086.0,270.6 1086.5,269.8 1087.0,269.2 1087.5,268.8 1088.0,268.3 1088.5,267.5 1089.0,267.4 1089.5,266.9 1090.0,266.1 1090.5,265.2 1091.0,264.7 1091.5,264.4 1092.0,263.7 1092.5,263.2 1093.0,263.0 1093.5,262.3 1094.0,261.6 1094.5,261.0 1095.0,260.6 1095.5,260.0 1096.0,259.4 1096.5,259.2 1097.0,259.1 1097.5,258.6 1098.0,258.1 1098.5,257.5 1099.0,257.0 1099.5,256.7 1100.0,256.9 1100.5,257.1 1101.0,256.4 1101.5,255.9 1102.0,255.3 1102.5,254.5 1103.0,254.2 1103.5,254.7 1104.0,255.2 1104.5,254.7 1105.0,254.3 1105.5,254.2 1106.0,254.3 1106.5,254.4 1107.0,254.9 1107.5,254.8 1108.0,254.5 1108.5,254.5 1109.0,254.3 1109.5,254.3 1110.0,254.9 1110.5,255.0 1111.0,254.4 1111.5,254.2 1112.0,254.1 1112.5,254.3 1113.0,254.8 1113.5,255.2 1114.0,255.3 1114.5,255.3 1115.0,255.4 1115.5,255.2 1116.0,255.2 1116.5,255.7 1117.0,256.5 1117.5,257.0 1118.0,257.1 1118.5,257.3 1119.0,257.5 1119.5,257.8 1120.0,258.5 1120.5,259.3 1121.0,259.7 1121.5,259.9 1122.0,260.1 1122.5,260.1 1123.0,260.5 1123.5,261.5 1124.0,262.4 1124.5,262.6 1125.0,262.8 1125.5,263.2 1126.0,263.3 1126.5,263.8 1127.0,264.8 1127.5,265.5 1128.0,265.4 1128.5,265.4 1129.0,265.2 1129.5,265.2 1130.0,265.6 1130.5,265.8 1131.0,266.1 1131.5,266.2 1132.0,265.9 1132.5,265.8 1133.0,266.1 1133.5,266.7 1134.0,267.0 1134.5,267.6 1135.0,267.3 1135.5,266.9 1136.0,266.9 1136.5,267.0 1137.0,267.4 1137.5,268.0 1138.0,267.9 1138.5,267.5 1139.0,267.2 1139.5,267.4 1140.0,267.9 1140.5,268.3 1141.0,268.1 1141.5,267.8 1142.0,267.8 1142.5,267.9 1143.0,268.1 1143.5,268.2 1144.0,268.3 1144.5,267.8 1145.0,267.0 1145.5,266.6 1146.0,266.6 1146.5,266.5 1147.0,266.4 1147.5,266.5 1148.0,266.2 1148.5,265.7 1149.0,265.4 1149.5,265.1 1150.0,264.6 1150.5,264.5 1151.0,264.6 1151.5,264.2 1152.0,263.8 1152.5,263.4 1153.0,262.7 1153.5,262.2 1154.0,261.9 1154.5,261.5 1154.5,265.7 1154.0,266.0 1153.5,266.4 1153.0,266.9 1152.5,267.3 1152.0,267.7 1151.5,267.9 1151.0,267.9 1150.5,268.0 1150.0,268.4 1149.5,269.0 1149.0,269.6 1148.5,270.1 1148.0,270.2 1147.5,269.9 1147.0,270.1 1146.5,270.7 1146.0,271.0 1145.5,271.1 1145.0,271.5 1144.5,271.8 1144.0,271.6 1143.5,272.1 1143.0,272.6 1142.5,272.9 1142.0,272.9 1141.5,272.9 1141.0,272.7 1140.5,272.4 1140.0,272.6 1139.5,272.9 1139.0,272.6 1138.5,272.4 1138.0,272.4 1137.5,272.4 1137.0,272.9 1136.5,273.1 1136.0,272.9 1135.5,272.7 1135.0,272.4 1134.5,271.9 1134.0,272.2 1133.5,272.8 1133.0,273.1 1132.5,272.4 1132.0,271.8 1131.5,271.6 1131.0,271.5 1130.5,271.7 1130.0,271.7 1129.5,271.8 1129.0,271.7 1128.5,270.8 1128.0,269.9 1127.5,269.8 1127.0,270.1 1126.5,270.1 1126.0,269.9 1125.5,269.6 1125.0,269.0 1124.5,268.4 1124.0,268.2 1123.5,268.1 1123.0,267.7 1122.5,267.2 1122.0,266.6 1121.5,265.8 1121.0,265.1 1120.5,264.6 1120.0,264.5 1119.5,264.3 1119.0,264.0 1118.5,263.6 1118.0,263.1 1117.5,262.5 1117.0,262.0 1116.5,262.2 1116.0,262.3 1115.5,261.7 1115.0,261.2 1114.5,260.8 1114.0,260.4 1113.5,260.1 1113.0,260.4 1112.5,260.5 1112.0,260.5 1111.5,260.5 1111.0,259.8 1110.5,259.1 1110.0,259.5 1109.5,260.1 1109.0,260.3 1108.5,259.8 1108.0,259.3 1107.5,259.1 1107.0,259.1 1106.5,259.4 1106.0,259.8 1105.5,259.9 1105.0,259.5 1104.5,259.2 1104.0,259.2 1103.5,259.8 1103.0,260.3 1102.5,260.6 1102.0,260.9 1101.5,261.2 1101.0,261.3 1100.5,261.3 1100.0,262.1 1099.5,262.7 1099.0,263.1 1098.5,263.6 1098.0,263.8 1097.5,263.9 1097.0,263.9 1096.5,264.7 1096.0,265.7 1095.5,266.5 1095.0,266.8 1094.5,267.1 1094.0,267.4 1093.5,267.8 1093.0,268.2 1092.5,268.9 1092.0,269.7 1091.5,270.6 1091.0,270.8 1090.5,270.9 1090.0,271.4 1089.5,271.5 1089.0,271.4 1088.5,272.3 1088.0,273.2 1087.5,273.9 1087.0,274.5 1086.5,275.1 1086.0,275.4 1085.5,275.5 1085.0,276.1 1084.5,276.9 1084.0,277.3 1083.5,277.7 1083.0,278.3 1082.5,278.4 1082.0,278.4 1081.5,278.3 1081.0,279.0 1080.5,279.9 1080.0,280.7 1079.5,280.8 1079.0,280.9 1078.5,281.1 1078.0,281.1 1077.5,281.2 1077.0,281.5 1076.5,281.9 1076.0,281.8 1075.5,281.3 1075.0,280.9 1074.5,281.1 1074.0,281.7 1073.5,282.0 1073.0,282.0 1072.5,282.1 1072.0,281.9 1071.5,282.0 1071.0,282.6 1070.5,282.8 1070.0,282.4 1069.5,282.3 1069.0,282.2 1068.5,281.6 1068.0,281.1 1067.5,281.3 1067.0,281.4 1066.5,281.5 1066.0,281.3 1065.5,280.4 1065.0,279.9 1064.5,280.2 1064.0,280.1 1063.5,279.8 1063.0,279.6 1062.5,279.2 1062.0,278.7 1061.5,277.8 1061.0,276.9 1060.5,276.6 1060.0,276.5 1059.5,276.3 1059.0,275.7 1058.5,275.0 1058.0,274.1 1057.5,273.4 1057.0,273.2 1056.5,273.0 1056.0,272.8 1055.5,272.6 1055.0,272.2 1054.5,271.3 1054.0,270.4 1053.5,270.1 1053.0,270.2 1052.5,270.3 1052.0,269.7 1051.5,268.8 1051.0,268.3 1050.5,268.4 1050.0,268.3 1049.5,268.2 1049.0,267.7 1048.5,266.9 1048.0,266.2 1047.5,266.3 1047.0,266.2 1046.5,266.0 1046.0,265.6 1045.5,264.9 1045.0,264.1 1044.5,264.1 1044.0,263.9 1043.5,263.8 1043.0,263.5 1042.5,263.0 1042.0,262.4 1041.5,262.6 1041.0,263.1 1040.5,263.1 1040.0,263.0 1039.5,263.0 1039.0,262.4 1038.5,261.8 1038.0,262.1 1037.5,262.2 1037.0,262.3 1036.5,262.3 1036.0,261.8 1035.5,261.8 1035.0,262.2 1034.5,262.3 1034.0,262.4 1033.5,262.4 1033.0,262.3 1032.5,262.0 1032.0,261.8 1031.5,262.5 1031.0,262.8 1030.5,262.7 1030.0,262.8 1029.5,263.0 1029.0,263.0 1028.5,263.4 1028.0,263.6 1027.5,263.6 1027.0,263.9 1026.5,264.3 1026.0,264.4 1025.5,264.6 1025.0,264.9 1024.5,265.2 1024.0,265.7 1023.5,265.8 1023.0,265.9 1022.5,266.2 1022.0,266.8 1021.5,267.0 1021.0,267.4 1020.5,267.7 1020.0,267.7 1019.5,267.5 1019.0,267.6 1018.5,267.9 1018.0,268.2 1017.5,268.5 1017.0,268.6 1016.5,268.5 1016.0,268.2 1015.5,268.2 1015.0,268.7 1014.5,269.2 1014.0,269.5 1013.5,269.5 1013.0,269.3 1012.5,268.8 1012.0,268.6 1011.5,268.8 1011.0,268.7 1010.5,268.8 1010.0,268.7 1009.5,268.1 1009.0,267.4 1008.5,267.2 1008.0,266.9 1007.5,266.4 1007.0,266.0 1006.5,266.0 1006.0,266.0 1005.5,265.2 1005.0,264.1 1004.5,263.6 1004.0,263.7 1003.5,263.8 1003.0,263.6 1002.5,263.1 1002.0,262.2 1001.5,261.3 1001.0,260.6 1000.5,260.9 1000.0,261.1 999.5,260.9 999.0,260.8 998.5,260.4 998.0,259.9 997.5,259.7 997.0,260.0 996.5,260.8 996.0,261.1 995.5,260.6 995.0,260.0 994.5,260.2 994.0,260.8 993.5,260.7 993.0,260.8 992.5,261.0 992.0,260.7 991.5,260.5 991.0,260.6 990.5,260.8 990.0,260.9 989.5,260.9 989.0,260.8 988.5,260.7 988.0,260.5 987.5,260.9 987.0,261.4 986.5,261.8 986.0,261.6 985.5,261.0 985.0,260.6 984.5,261.0 984.0,261.8 983.5,261.7 983.0,261.3 982.5,261.4 982.0,261.6 981.5,261.1 981.0,261.2 980.5,261.8 980.0,262.1 979.5,261.6 979.0,260.9 978.5,260.6 978.0,261.1 977.5,261.4 977.0,261.7 976.5,261.7 976.0,261.2 975.5,260.6 975.0,261.0 974.5,261.4 974.0,261.5 973.5,261.4 973.0,260.9 972.5,259.9 972.0,260.1 971.5,260.8 971.0,260.9 970.5,260.6 970.0,260.5 969.5,260.6 969.0,260.8 968.5,260.5 968.0,260.0 967.5,259.9 967.0,259.8 966.5,259.6 966.0,260.0 965.5,260.5 965.0,260.1 964.5,259.8 964.0,259.9 963.5,259.7 963.0,258.9 962.5,258.5 962.0,258.6 961.5,259.1 961.0,259.6 960.5,259.6 960.0,259.1 959.5,258.9 959.0,258.9 958.5,258.8 958.0,258.8 957.5,258.5 957.0,258.4 956.5,258.4 956.0,258.4 955.5,258.2 955.0,257.8 954.5,257.1 954.0,257.3 953.5,257.5 953.0,257.4 952.5,257.4 952.0,257.6 951.5,257.4 951.0,257.0 950.5,256.8 950.0,256.9 949.5,257.8 949.0,258.6 948.5,258.6 948.0,258.4 947.5,258.3 947.0,258.3 946.5,258.7 946.0,259.0 945.5,258.9 945.0,258.8 944.5,259.0 944.0,259.2 943.5,259.5 943.0,260.0 942.5,260.3 942.0,260.3 941.5,260.6 941.0,260.7 940.5,260.9 940.0,261.4 939.5,261.7 939.0,261.7 938.5,261.6 938.0,261.7 937.5,261.8 937.0,261.8 936.5,261.9 936.0,262.2 935.5,262.2 935.0,261.7 934.5,261.8 934.0,262.2 933.5,262.2 933.0,262.0 932.5,262.0 932.0,262.0 931.5,261.9 931.0,262.3 930.5,262.5 930.0,262.4 929.5,262.3 929.0,262.1 928.5,261.9 928.0,261.0 927.5,260.9 927.0,261.2 926.5,260.9 926.0,260.2 925.5,259.8 925.0,259.6 924.5,258.9 924.0,258.4 923.5,258.6 923.0,258.6 922.5,258.5 922.0,258.6 921.5,258.5 921.0,257.9 920.5,257.1 920.0,256.6 919.5,256.7 919.0,257.2 918.5,257.7 918.0,257.6 917.5,257.2 917.0,257.0 916.5,257.1 916.0,257.4 915.5,257.4 915.0,257.6 914.5,258.0 914.0,258.3 913.5,258.7 913.0,258.5 912.5,258.4 912.0,259.0 911.5,259.4 911.0,259.9 910.5,260.4 910.0,260.5 909.5,260.5 909.0,261.1 908.5,262.0 908.0,262.7 907.5,263.2 907.0,263.8 906.5,264.5 906.0,265.0 905.5,265.7 905.0,266.6 904.5,267.6 904.0,268.4 903.5,268.8 903.0,269.0 902.5,269.2 902.0,270.0 901.5,271.1 901.0,271.8 900.5,272.1 900.0,272.0 899.5,271.7 899.0,271.3 898.5,271.5 898.0,271.8 897.5,272.1 897.0,272.4 896.5,272.3 896.0,272.0 895.5,271.6 895.0,271.1 894.5,271.3 894.0,271.6 893.5,271.6 893.0,271.5 892.5,271.7 892.0,271.5 891.5,270.8 891.0,270.8 890.5,271.2 890.0,271.2 889.5,270.9 889.0,270.9 888.5,270.6 888.0,270.0 887.5,269.7 887.0,269.6 886.5,269.7 886.0,270.1 885.5,270.2 885.0,269.9 884.5,269.8 884.0,269.7 883.5,269.9 883.0,270.5 882.5,270.8 882.0,270.9 881.5,270.8 881.0,270.9 880.5,271.2 880.0,271.7 879.5,272.3 879.0,272.9 878.5,273.6 878.0,274.4 877.5,275.5 877.0,276.2 876.5,276.6 876.0,277.6 875.5,278.7 875.0,279.3 874.5,279.8 874.0,280.4 873.5,281.6 873.0,282.6 872.5,283.2 872.0,284.1 871.5,284.7 871.0,284.7 870.5,285.6 870.0,287.0 869.5,287.9 869.0,288.2 868.5,288.5 868.0,288.5 867.5,289.3 867.0,289.9 866.5,290.2 866.0,290.3 865.5,290.2 865.0,290.3 864.5,290.9 864.0,290.9 863.5,290.9 863.0,290.9 862.5,291.1 862.0,291.0 861.5,290.6 861.0,290.4 860.5,290.5 860.0,290.5 859.5,289.9 859.0,288.9 858.5,287.9 858.0,287.7 857.5,287.5 857.0,286.7 856.5,285.6 856.0,284.6 855.5,283.8 855.0,283.3 854.5,282.6 854.0,281.7 853.5,280.6 853.0,279.3 852.5,278.0 852.0,276.7 851.5,275.9 851.0,275.3 850.5,274.5 850.0,273.4 849.5,272.2 849.0,270.7 848.5,269.4 848.0,268.7 847.5,268.0 847.0,267.0 846.5,266.0 846.0,264.8 845.5,263.3 845.0,262.1 844.5,261.1 844.0,260.3 843.5,260.2 843.0,260.2 842.5,260.0 842.0,259.8 841.5,260.0 841.0,260.3 840.5,260.3 840.0,260.2 839.5,260.1 839.0,260.4 838.5,260.4 838.0,260.2 837.5,260.2 837.0,260.4 836.5,260.6 836.0,260.9 835.5,260.8 835.0,260.5 834.5,260.5 834.0,260.6 833.5,260.9 833.0,261.1 832.5,260.8 832.0,260.2 831.5,259.9 831.0,259.7 830.5,259.7 830.0,259.5 829.5,259.4 829.0,259.2 828.5,258.9 828.0,258.7 827.5,258.2 827.0,258.1 826.5,258.2 826.0,258.2 825.5,258.0 825.0,258.2 824.5,258.2 824.0,257.6 823.5,257.5 823.0,257.7 822.5,258.0 822.0,258.2 821.5,258.4 821.0,258.3 820.5,258.3 820.0,258.5 819.5,258.7 819.0,258.9 818.5,258.9 818.0,258.6 817.5,258.6 817.0,258.8 816.5,259.2 816.0,259.5 815.5,259.6 815.0,259.6 814.5,259.3 814.0,259.7 813.5,260.2 813.0,260.2 812.5,259.8 812.0,259.9 811.5,260.1 811.0,260.5 810.5,260.5 810.0,260.4 809.5,260.3 809.0,260.1 808.5,259.9 808.0,260.2 807.5,260.5 807.0,260.8 806.5,261.1 806.0,260.9 805.5,260.2 805.0,260.4 804.5,260.4 804.0,260.5 803.5,260.7 803.0,260.4 802.5,259.8 802.0,259.8 801.5,260.3 801.0,260.5 800.5,260.5 800.0,260.3 799.5,259.8 799.0,259.3 798.5,259.0 798.0,259.3 797.5,259.7 797.0,259.7 796.5,259.4 796.0,259.2 795.5,259.1 795.0,258.6 794.5,258.0 794.0,258.1 793.5,258.2 793.0,258.1 792.5,258.1 792.0,257.8 791.5,257.5 791.0,257.4 790.5,257.0 790.0,257.2 789.5,257.6 789.0,257.7 788.5,257.6 788.0,257.6 787.5,257.5 787.0,257.4 786.5,257.3 786.0,257.4 785.5,257.5 785.0,258.0 784.5,258.3 784.0,257.9 783.5,257.6 783.0,257.4 782.5,257.5 782.0,257.6 781.5,257.8 781.0,257.8 780.5,257.8 780.0,257.7 779.5,257.5 779.0,257.6 778.5,257.7 778.0,258.0 777.5,258.0 777.0,258.1 776.5,257.9 776.0,257.5 775.5,257.4 775.0,257.5 774.5,257.8 774.0,257.9 773.5,257.5 773.0,257.1 772.5,256.7 772.0,256.4 771.5,256.4 771.0,256.4 770.5,256.6 770.0,256.7 769.5,256.4 769.0,256.2 768.5,256.2 768.0,256.4 767.5,256.5 767.0,256.8 766.5,256.9 766.0,256.4 765.5,256.0 765.0,255.7 764.5,255.8 764.0,256.3 763.5,257.0 763.0,257.2 762.5,256.9 762.0,256.5 761.5,256.8 761.0,257.2 760.5,257.3 760.0,257.6 759.5,257.8 759.0,257.8 758.5,257.7 758.0,257.7 757.5,257.9 757.0,258.0 756.5,258.1 756.0,258.2 755.5,257.8 755.0,258.2 754.5,258.9 754.0,259.2 753.5,259.2 753.0,259.1 752.5,258.9 752.0,259.2 751.5,259.8 751.0,260.2 750.5,260.1 750.0,259.7 749.5,259.5 749.0,259.5 748.5,260.0 748.0,260.4 747.5,260.6 747.0,260.0 746.5,259.3 746.0,259.0 745.5,258.9 745.0,259.0 744.5,259.0 744.0,258.8 743.5,258.5 743.0,258.2 742.5,257.7 742.0,257.6 741.5,257.9 741.0,258.1 740.5,258.1 740.0,257.9 739.5,257.5 739.0,257.5 738.5,258.1 738.0,258.3 737.5,258.2 737.0,258.0 736.5,258.0 736.0,258.2 735.5,258.4 735.0,258.7 734.5,259.3 734.0,260.0 733.5,260.1 733.0,260.1 732.5,260.6 732.0,261.8 731.5,262.3 731.0,262.7 730.5,263.2 730.0,263.5 729.5,263.7 729.0,264.4 728.5,265.5 728.0,266.4 727.5,266.7 727.0,267.1 726.5,267.6 726.0,268.0 725.5,268.7 725.0,269.6 724.5,270.2 724.0,270.6 723.5,270.9 723.0,271.4 722.5,272.2 722.0,272.9 721.5,272.9 721.0,272.9 720.5,273.2 720.0,273.1 719.5,273.8 719.0,274.3 718.5,274.5 718.0,274.7 717.5,274.9 717.0,274.9 716.5,275.0 716.0,274.8 715.5,275.0 715.0,275.4 714.5,275.4 714.0,275.2 713.5,275.1 713.0,275.4 712.5,275.7 712.0,275.3 711.5,274.8 711.0,274.4 710.5,273.7 710.0,273.4 709.5,274.0 709.0,274.4 708.5,274.5 708.0,274.5 707.5,274.5 707.0,274.4 706.5,273.7 706.0,273.7 705.5,274.3 705.0,274.9 704.5,275.0 704.0,275.0 703.5,275.0 703.0,275.2 702.5,275.3 702.0,275.5 701.5,276.0 701.0,276.7 700.5,277.3 700.0,277.6 699.5,278.2 699.0,279.2 698.5,280.7 698.0,282.1 697.5,283.3 697.0,284.3 696.5,285.2 696.0,286.0 695.5,286.5 695.0,287.6 694.5,288.8 694.0,289.7 693.5,290.5 693.0,290.8 692.5,290.9 692.0,290.8 691.5,291.1 691.0,291.6 690.5,292.4 690.0,292.4 689.5,291.8 689.0,291.9 688.5,292.5 688.0,293.0 687.5,293.4 687.0,293.5 686.5,293.5 686.0,293.4 685.5,293.5 685.0,294.0 684.5,294.2 684.0,294.3 683.5,294.6 683.0,294.8 682.5,294.9 682.0,294.8 681.5,294.6 681.0,294.9 680.5,295.6 680.0,295.6 679.5,295.2 679.0,295.0 678.5,294.4 678.0,294.3 677.5,294.7 677.0,294.6 676.5,294.4 676.0,294.3 675.5,293.8 675.0,292.8 674.5,292.7 674.0,293.2 673.5,293.3 673.0,293.1 672.5,292.9 672.0,292.4 671.5,291.6 671.0,291.7 670.5,291.8 670.0,291.7 669.5,291.5 669.0,291.1 668.5,290.7 668.0,291.4 667.5,291.9 667.0,292.3 666.5,292.3 666.0,292.1 665.5,291.7 665.0,291.8 664.5,292.2 664.0,292.6 663.5,292.7 663.0,292.7 662.5,292.5 662.0,292.4 661.5,292.9 661.0,293.3 660.5,293.3 660.0,293.3 659.5,293.2 659.0,292.7 658.5,292.8 658.0,293.1 657.5,293.0 657.0,292.7 656.5,292.4 656.0,291.7 655.5,290.9 655.0,290.9 654.5,290.9 654.0,290.5 653.5,289.9 653.0,289.3 652.5,288.6 652.0,287.8 651.5,287.4 651.0,287.2 650.5,286.3 650.0,285.4 649.5,284.5 649.0,283.1 648.5,281.8 648.0,281.4 647.5,280.8 647.0,279.8 646.5,279.0 646.0,278.2 645.5,277.2 645.0,276.0 644.5,275.4 644.0,275.0 643.5,274.3 643.0,273.5 642.5,272.4 642.0,271.7 641.5,271.8 641.0,271.3 640.5,270.8 640.0,270.3 639.5,269.7 639.0,269.0 638.5,268.7 638.0,268.8 637.5,268.7 637.0,268.7 636.5,268.9 636.0,268.7 635.5,268.0 635.0,267.9 634.5,268.3 634.0,268.8 633.5,269.2 633.0,269.4 632.5,269.5 632.0,269.8 631.5,270.3 631.0,270.9 630.5,271.6 630.0,272.4 629.5,272.8 629.0,273.0 628.5,273.2 628.0,273.3 627.5,273.9 627.0,274.4 626.5,275.2 626.0,275.8 625.5,276.1 625.0,276.2 624.5,276.1 624.0,276.2 623.5,277.0 623.0,277.7 622.5,278.2 622.0,278.4 621.5,278.4 621.0,278.4 620.5,278.6 620.0,278.7 619.5,279.0 619.0,279.9 618.5,280.5 618.0,280.4 617.5,280.0 617.0,279.7 616.5,279.4 616.0,279.6 615.5,280.0 615.0,280.5 614.5,280.4 614.0,279.8 613.5,278.9 613.0,278.3 612.5,279.0 612.0,279.3 611.5,279.1 611.0,278.5 610.5,278.0 610.0,277.8 609.5,277.2 609.0,277.1 608.5,277.1 608.0,276.8 607.5,276.4 607.0,276.3 606.5,275.8 606.0,275.1 605.5,275.3 605.0,276.0 604.5,276.5 604.0,276.5 603.5,276.2 603.0,276.1 602.5,276.1 602.0,276.4 601.5,276.8 601.0,276.9 600.5,276.7 600.0,276.5 599.5,276.0 599.0,275.1 598.5,275.0 598.0,275.2 597.5,275.2 597.0,274.7 596.5,274.2 596.0,273.5 595.5,273.1 595.0,273.1 594.5,273.0 594.0,272.8 593.5,272.5 593.0,272.0 592.5,271.7 592.0,272.4 591.5,272.7 591.0,272.6 590.5,272.6 590.0,272.4 589.5,272.3 589.0,272.1 588.5,272.2 588.0,272.1 587.5,272.1 587.0,272.0 586.5,271.5 586.0,270.8 585.5,270.1 585.0,269.7 584.5,269.3 584.0,269.0 583.5,268.2 583.0,267.2 582.5,266.5 582.0,266.0 581.5,265.7 581.0,265.5 580.5,265.5 580.0,265.6 579.5,266.0 579.0,265.8 578.5,265.0 578.0,264.9 577.5,264.8 577.0,264.6 576.5,264.6 576.0,264.2 575.5,263.6 575.0,263.1 574.5,263.2 574.0,263.3 573.5,263.0 573.0,262.5 572.5,261.4 572.0,260.3 571.5,259.7 571.0,259.3 570.5,258.6 570.0,258.5 569.5,258.4 569.0,258.2 568.5,257.5 568.0,256.9 567.5,257.1 567.0,257.0 566.5,256.5 566.0,256.1 565.5,256.0 565.0,255.7 564.5,255.0 564.0,255.0 563.5,255.2 563.0,255.2 562.5,255.1 562.0,255.0 561.5,254.9 561.0,254.9 560.5,254.7 560.0,254.7 559.5,255.1 559.0,255.4 558.5,255.4 558.0,255.7 557.5,256.4 557.0,256.8 556.5,256.8 556.0,256.8 555.5,256.5 555.0,256.7 554.5,257.1 554.0,257.0 553.5,256.3 553.0,255.3 552.5,254.8 552.0,255.1 551.5,255.0 551.0,254.2 550.5,253.2 550.0,252.6 549.5,252.7 549.0,253.0 548.5,253.3 548.0,253.6 547.5,253.7 547.0,253.4 546.5,253.7 546.0,254.3 545.5,254.6 545.0,254.8 544.5,254.8 544.0,255.0 543.5,255.9 543.0,256.9 542.5,257.8 542.0,258.8 541.5,259.8 541.0,260.6 540.5,261.2 540.0,262.1 539.5,262.5 539.0,262.7 538.5,263.1 538.0,263.4 537.5,263.5 537.0,263.2 536.5,263.4 536.0,263.9 535.5,264.7 535.0,264.9 534.5,264.7 534.0,264.2 533.5,263.7 533.0,264.4 532.5,265.4 532.0,265.7 531.5,265.6 531.0,265.4 530.5,265.7 530.0,266.1 529.5,266.4 529.0,266.6 528.5,267.3 528.0,268.0 527.5,268.2 527.0,268.6 526.5,269.2 526.0,270.3 525.5,270.9 525.0,271.4 524.5,272.4 524.0,273.2 523.5,273.7 523.0,274.9 522.5,276.5 522.0,278.0 521.5,279.1 521.0,280.3 520.5,281.5 520.0,282.7 519.5,284.1 519.0,285.5 518.5,286.6 518.0,287.8 517.5,289.2 517.0,290.3 516.5,290.5 516.0,290.3 515.5,290.5 515.0,290.7 514.5,290.3 514.0,289.8 513.5,289.1 513.0,288.3 512.5,287.3 512.0,286.3 511.5,285.7 511.0,285.0 510.5,284.2 510.0,283.2 509.5,281.9 509.0,280.7 508.5,279.8 508.0,279.6 507.5,280.0 507.0,280.5 506.5,280.9 506.0,281.1 505.5,281.2 505.0,281.5 504.5,281.9 504.0,282.6 503.5,283.0 503.0,283.1 502.5,283.3 502.0,283.6 501.5,283.7 501.0,284.2 500.5,285.0 500.0,285.8 499.5,286.6 499.0,286.8 498.5,286.7 498.0,287.3 497.5,288.3 497.0,288.8 496.5,288.9 496.0,288.7 495.5,288.4 495.0,288.3 494.5,288.5 494.0,288.6 493.5,288.7 493.0,288.9 492.5,288.9 492.0,288.6 491.5,288.5 491.0,288.6 490.5,288.6 490.0,288.6 489.5,288.8 489.0,289.1 488.5,288.9 488.0,288.6 487.5,288.8 487.0,289.4 486.5,289.5 486.0,289.2 485.5,289.2 485.0,289.4 484.5,289.6 484.0,289.9 483.5,290.2 483.0,290.4 482.5,290.9 482.0,291.0 481.5,290.9 481.0,290.9 480.5,291.1 480.0,291.7 479.5,292.0 479.0,292.1 478.5,292.4 478.0,292.4 477.5,292.0 477.0,292.0 476.5,292.9 476.0,293.4 475.5,293.5 475.0,293.6 474.5,293.7 474.0,294.1 473.5,294.1 473.0,294.4 472.5,295.0 472.0,295.2 471.5,295.2 471.0,295.4 470.5,295.6 470.0,295.8 469.5,296.3 469.0,297.0 468.5,297.5 468.0,297.6 467.5,297.2 467.0,297.1 466.5,298.1 466.0,298.7 465.5,299.0 465.0,299.3 464.5,299.6 464.0,299.8 463.5,300.8 463.0,301.6 462.5,301.9 462.0,302.3 461.5,302.8 461.0,303.1 460.5,303.1 460.0,303.4 459.5,303.7 459.0,304.0 458.5,304.2 458.0,303.9 457.5,303.4 457.0,303.4 456.5,304.1 456.0,303.9 455.5,303.6 455.0,303.6 454.5,303.3 454.0,302.8 453.5,302.4 453.0,302.5 452.5,302.6 452.0,302.6 451.5,302.3 451.0,302.0 450.5,301.7 450.0,301.2 449.5,300.8 449.0,300.8 448.5,300.4 448.0,299.8 447.5,299.7 447.0,299.4 446.5,298.6 446.0,298.2 445.5,298.2 445.0,298.1 444.5,297.7 444.0,296.9 443.5,296.0 443.0,295.4 442.5,295.2 442.0,294.7 441.5,294.2 441.0,294.3 440.5,294.2 440.0,293.2 439.5,292.2 439.0,292.3 438.5,292.2 438.0,291.6 437.5,291.4 437.0,291.3 436.5,291.0 436.0,291.2 435.5,291.6 435.0,291.6 434.5,291.7 434.0,291.8 433.5,291.7 433.0,291.8 432.5,292.4 432.0,292.8 431.5,292.9 431.0,293.0 430.5,293.1 430.0,293.1 429.5,293.9 429.0,294.4 428.5,294.4 428.0,294.3 427.5,294.4 427.0,294.6 426.5,295.3 426.0,295.9 425.5,296.1 425.0,296.7 424.5,297.3 424.0,297.4 423.5,297.5 423.0,298.3 422.5,299.4 422.0,299.8 421.5,299.7 421.0,299.9 420.5,300.2 420.0,300.9 419.5,301.5 419.0,302.1 418.5,302.6 418.0,302.9 417.5,303.2 417.0,303.4 416.5,303.9 416.0,304.9 415.5,305.8 415.0,306.4 414.5,306.7 414.0,306.9 413.5,307.1 413.0,307.7 412.5,308.7 412.0,309.4 411.5,309.6 411.0,309.9 410.5,310.5 410.0,311.0 409.5,312.0 409.0,312.9 408.5,313.3 408.0,313.5 407.5,314.1 407.0,314.5 406.5,315.5 406.0,316.5 405.5,316.6 405.0,316.4 404.5,316.4 404.0,316.6 403.5,317.8 403.0,319.2 402.5,319.9 402.0,320.2 401.5,320.4 401.0,320.6 400.5,321.8 400.0,322.7 399.5,323.1 399.0,323.6 398.5,323.8 398.0,323.8 397.5,324.9 397.0,325.9 396.5,326.7 396.0,327.4 395.5,328.0 395.0,328.1 394.5,328.5 394.0,329.4 393.5,330.3 393.0,331.2 392.5,331.7 392.0,332.1 391.5,332.6 391.0,333.7 390.5,334.8 390.0,335.3 389.5,335.7 389.0,336.2 388.5,336.7 388.0,337.1 387.5,337.9 387.0,338.6 386.5,339.4 386.0,340.0 385.5,340.5 385.0,341.0 384.5,341.4 384.0,342.3 383.5,343.4 383.0,344.2 382.5,344.9 382.0,345.3 381.5,345.5 381.0,345.9 380.5,346.9 380.0,347.9 379.5,348.7 379.0,349.2 378.5,349.6 378.0,349.9 377.5,350.5 377.0,351.6 376.5,352.2 376.0,352.3 375.5,352.7 375.0,353.3 374.5,353.3 374.0,353.7 373.5,354.5 373.0,355.0 372.5,354.9 372.0,354.9 371.5,355.4 371.0,355.8 370.5,356.4 370.0,356.8 369.5,357.0 369.0,356.7 368.5,356.3 368.0,356.7 367.5,357.3 367.0,357.4 366.5,358.0 366.0,358.6 365.5,358.3 365.0,357.9 364.5,357.8 364.0,358.3 363.5,358.7 363.0,359.0 362.5,359.1 362.0,359.2 361.5,359.2 361.0,359.3 360.5,360.0 360.0,360.4 359.5,360.9 359.0,361.2 358.5,361.5 358.0,361.5 357.5,361.8 357.0,363.3 356.5,364.1 356.0,364.3 355.5,364.6 355.0,364.6 354.5,364.2 354.0,364.1 353.5,365.0 353.0,365.8 352.5,366.3 352.0,366.6 351.5,366.9 351.0,367.2 350.5,367.2 350.0,367.5 349.5,367.6 349.0,367.8 348.5,368.1 348.0,368.4 347.5,368.6 347.0,368.5 346.5,368.9 346.0,369.7 345.5,370.3 345.0,370.6 344.5,370.6 344.0,370.5 343.5,370.7 343.0,370.9 342.5,371.1 342.0,371.3 341.5,372.0 341.0,372.6 340.5,372.5 340.0,372.4 339.5,372.3 339.0,372.4 338.5,372.8 338.0,373.0 337.5,373.1 337.0,373.5 336.5,373.8 336.0,373.6 335.5,373.7 335.0,374.0 334.5,374.2 334.0,374.6 333.5,374.4 333.0,373.9 332.5,373.7 332.0,373.6 331.5,373.7 331.0,373.7 330.5,373.1 330.0,372.5 329.5,372.1 329.0,371.6 328.5,370.6 328.0,369.9 327.5,369.1 327.0,368.4 326.5,367.6 326.0,366.1 325.5,364.3 325.0,362.9 324.5,362.1 324.0,361.1 323.5,359.7 323.0,357.9 322.5,356.0 322.0,354.0 321.5,352.1 321.0,350.6 320.5,348.9 320.0,347.3 319.5,345.3 319.0,343.0 318.5,340.2 318.0,338.0 317.5,336.1 317.0,333.7 316.5,331.1 316.0,328.6 315.5,326.0 315.0,323.2 314.5,320.6 314.0,317.9 313.5,315.3 313.0,312.7 312.5,310.0 312.0,307.3 311.5,304.9 311.0,302.7 310.5,300.1 310.0,297.8 309.5,295.8 309.0,293.6 308.5,291.0 308.0,288.6 307.5,287.0 307.0,285.1 306.5,283.1 306.0,281.2 305.5,279.0 305.0,276.7 304.5,274.6 304.0,273.0 303.5,271.6 303.0,271.0 302.5,270.2 302.0,269.1 301.5,268.0 301.0,267.0 300.5,266.4 300.0,266.4 299.5,266.4 299.0,266.2 298.5,266.2 298.0,266.4 297.5,266.3 297.0,266.4 296.5,267.3 296.0,268.0 295.5,268.2 295.0,268.2 294.5,268.5 294.0,269.0 293.5,270.1 293.0,271.5 292.5,273.0 292.0,274.3 291.5,275.2 291.0,276.0 290.5,276.8 290.0,278.1 289.5,279.5 289.0,281.0 288.5,282.2 288.0,283.1 287.5,283.9 287.0,284.2 286.5,284.7 286.0,285.4 285.5,285.9 285.0,285.8 284.5,285.1 284.0,284.2 283.5,283.6 283.0,283.3 282.5,282.4 282.0,281.1 281.5,279.9 281.0,278.0 280.5,275.7 280.0,273.8 279.5,272.7 279.0,271.3 278.5,269.7 278.0,267.9 277.5,266.1 277.0,264.7 276.5,263.5 276.0,262.6 275.5,261.4 275.0,260.0 274.5,258.4 274.0,256.5 273.5,254.9 273.0,253.4 272.5,252.0 272.0,250.8 271.5,249.6 271.0,247.8 270.5,246.0 270.0,244.4 269.5,243.2 269.0,241.9 268.5,240.4 268.0,239.0 267.5,237.7 267.0,236.3 266.5,234.9 266.0,234.1 265.5,233.2 265.0,232.1 264.5,230.7 264.0,229.0 263.5,227.6 263.0,226.9 262.5,225.9 262.0,224.8 261.5,223.8 261.0,222.7 260.5,221.0 260.0,219.8 259.5,219.2 259.0,218.5 258.5,217.3 258.0,215.4 257.5,213.7 257.0,212.9 256.5,212.3 256.0,211.5 255.5,210.3 255.0,208.6 254.5,207.4 254.0,207.1 253.5,206.1 253.0,204.4 252.5,203.1 252.0,202.0 251.5,201.0 251.0,200.2 250.5,199.4 250.0,198.4 249.5,197.3 249.0,196.1 248.5,194.6 248.0,193.5 247.5,193.1 247.0,192.4 246.5,191.2 246.0,190.3 245.5,189.4 245.0,188.2 244.5,187.7 244.0,187.1 243.5,185.9 243.0,185.1 242.5,184.6 242.0,183.6 241.5,182.2 241.0,181.5 240.5,181.2 240.0,180.6 239.5,180.0 239.0,179.5 238.5,178.1 238.0,176.6 237.5,175.9 237.0,175.5 236.5,174.8 236.0,174.3 235.5,173.9 235.0,172.8 234.5,171.5 234.0,170.7 233.5,170.2 233.0,169.7 232.5,169.2 232.0,168.6 231.5,167.5 231.0,166.5 230.5,165.9 230.0,165.0 229.5,164.5 229.0,164.1 228.5,163.3 228.0,162.1 227.5,160.9 227.0,159.6 226.5,158.6 226.0,157.6 225.5,156.9 225.0,156.3 224.5,155.4 224.0,154.7 223.5,154.3 223.0,153.4 222.5,152.2 222.0,151.5 221.5,151.3 221.0,151.1 220.5,150.5 220.0,149.7 219.5,149.2 219.0,148.5 218.5,148.1 218.0,147.6 217.5,147.0 217.0,146.9 216.5,146.5 216.0,145.7 215.5,145.3 215.0,145.0 214.5,144.7 214.0,144.2 213.5,143.6 213.0,142.8 212.5,142.4 212.0,142.5 211.5,142.6 211.0,142.0 210.5,141.1 210.0,140.5 209.5,140.4 209.0,140.3 208.5,139.8 208.0,139.3 207.5,138.8 207.0,137.9 206.5,137.6 206.0,137.9 205.5,137.5 205.0,136.9 204.5,136.7 204.0,136.3 203.5,135.7 203.0,135.5 202.5,135.3 202.0,135.1 201.5,134.5 201.0,133.8 200.5,133.3 200.0,133.2 199.5,133.3 199.0,133.2 198.5,133.0 198.0,132.8 197.5,132.2 197.0,131.2 196.5,131.1 196.0,131.6 195.5,131.8 195.0,131.3 194.5,130.3 194.0,129.5 193.5,128.7 193.0,128.6 192.5,128.6 192.0,128.5 191.5,128.3 191.0,127.9 190.5,127.5 190.0,127.0 189.5,126.9 189.0,127.0 188.5,127.1 188.0,126.7 187.5,126.1 187.0,125.4 186.5,124.7 186.0,124.4 185.5,124.3 185.0,124.4 184.5,124.0 184.0,123.3 183.5,122.6 183.0,122.3 182.5,122.7 182.0,122.7 181.5,122.5 181.0,122.2 180.5,122.0 180.0,121.6 179.5,120.6 179.0,120.6 178.5,120.7 178.0,120.3 177.5,119.9 177.0,119.7 176.5,119.1 176.0,118.3 175.5,118.4 175.0,118.8 174.5,118.9 174.0,119.0 173.5,118.7 173.0,118.1 172.5,117.4 172.0,117.3 171.5,117.6 171.0,117.9 170.5,118.0 170.0,117.9 169.5,117.7 169.0,117.4 168.5,117.4 168.0,117.6 167.5,117.7 167.0,117.7 166.5,117.7 166.0,117.5 165.5,117.4 165.0,117.5" fill="#0000ff"/>
</g>
<text class="t" x="157.0" y="109.9" text-anchor="end">600</text>
<text class="t" x="157.0" y="161.9" text-anchor="end">400</text>
<text class="t" x="157.0" y="213.9" text-anchor="end">200</text>
<text class="t" x="157.0" y="266.0" text-anchor="end">0</text>
<text class="t" x="156.4" y="319.0" text-anchor="end">-200</text>
<text class="t" x="156.4" y="371.0" text-anchor="end">-400</text>
<text class="t" x="156.4" y="423.0" text-anchor="end">-600</text>
<text class="yl" transform="translate(57.0 260.0) rotate(-90)" text-anchor="middle">Measured-Model</text>
<text class="yl" transform="translate(83.0 260.0) rotate(-90)" text-anchor="middle">B North (nT)</text>
<text class="b" transform="translate(1176.3 292.8) rotate(-90)">Inboard B</text>
<text class="b" transform="translate(1196.3 293.1) rotate(-90)">Outboard B</text>
<rect x="1171.40" y="315.5" width="1.5" height="20.1" fill="#0000ff"/>
<rect x="1190.25" y="319.4" width="1.5" height="16.2" fill="#00ff00"/>
</g>
<g id="panel2">
<g stroke="#262626" stroke-width="1" fill="none" shape-rendering="crispEdges">
<rect x="165.5" y="453.5" width="989.0" height="303.0"/>
<path d="M165.5 529.5h10M1154.5 529.5h-10M165.5 604.5h10M1154.5 604.5h-10M165.5 680.5h10M1154.5 680.5h-10M412.5 453.5v10M412.5 756.5v-10M660.5 453.5v10M660.5 756.5v-10M907.5 453.5v10M907.5 756.5v-10"/>
</g>
<g shape-rendering="crispEdges">
<rect x="165" y="456" width="151" height="297" fill="#d9d9d9"/>
<rect x="316" y="456" width="181" height="297" fill="#ffb3ff"/>
<rect x="505" y="456" width="104" height="297" fill="#d9d9d9"/>
<rect x="590" y="456" width="8" height="297" fill="#ffb3ff"/>
<rect x="628" y="456" width="101" height="297" fill="#ffb3ff"/>
<rect x="729" y="456" width="112" height="297" fill="#d9d9d9"/>
<rect x="841" y="456" width="23" height="297" fill="#ffb3ff"/>
<rect x="864" y="456" width="15" height="297" fill="#d9d9d9"/>
<rect x="879" y="456" width="23" height="297" fill="#ffb3ff"/>
<rect x="902" y="456" width="16" height="297" fill="#d9d9d9"/>
<rect x="1006" y="456" width="27" height="297" fill="#d9d9d9"/>
<rect x="1033" y="456" width="24" height="297" fill="#ffb3ff"/>
<rect x="1072" y="456" width="23" height="297" fill="#ffb3ff"/>
<rect x="1111" y="456" width="7" height="297" fill="#ffb3ff"/>
<rect x="1149" y="456" width="5" height="297" fill="#ffb3ff"/>
</g>
<path d="M1154.5 453.0V757.0" stroke="#262626" stroke-width="1" shape-rendering="crispEdges"/>
<clipPath id="clip1"><rect x="165.0" y="453.5" width="989.5" height="303.0"/></clipPath>
<g clip-path="url(#clip1)">
<polygon points="165.0,463.5 165.5,464.5 166.0,465.1 166.5,465.0 167.0,464.7 167.5,465.1 168.0,465.8 168.5,466.9 169.0,467.9 169.5,468.7 170.0,469.7 170.5,470.9 171.0,472.3 171.5,473.2 172.0,473.7 172.5,474.5 173.0,475.3 173.5,476.1 174.0,477.2 174.5,478.7 175.0,480.3 175.5,482.0 176.0,483.9 176.5,485.5 177.0,486.8 177.5,488.4 178.0,489.9 178.5,491.1 179.0,492.2 179.5,493.1 180.0,494.2 180.5,495.8 181.0,497.1 181.5,497.7 182.0,498.6 182.5,499.6 183.0,500.6 183.5,501.6 184.0,502.7 184.5,504.1 185.0,505.8 185.5,507.0 186.0,507.9 186.5,508.5 187.0,509.5 187.5,511.1 188.0,512.6 188.5,513.7 189.0,514.6 189.5,516.0 190.0,516.7 190.5,517.3 191.0,518.7 191.5,520.3 192.0,521.7 192.5,522.0 193.0,522.6 193.5,523.6 194.0,524.6 194.5,525.8 195.0,526.9 195.5,528.1 196.0,528.7 196.5,529.2 197.0,529.8 197.5,530.5 198.0,531.4 198.5,532.5 199.0,533.5 199.5,534.5 200.0,535.4 200.5,536.1 201.0,536.6 201.5,537.2 202.0,538.2 202.5,539.3 203.0,540.3 203.5,540.5 204.0,540.8 204.5,541.2 205.0,541.7 205.5,542.3 206.0,543.1 206.5,543.6 207.0,544.2 207.5,544.2 208.0,544.4 208.5,544.4 209.0,544.3 209.5,544.8 210.0,545.8 210.5,546.9 211.0,548.1 211.5,548.0 212.0,548.1 212.5,548.7 213.0,549.4 213.5,550.3 214.0,551.4 214.5,552.6 215.0,554.0 215.5,555.7 216.0,556.5 216.5,557.2 217.0,558.1 217.5,559.4 218.0,561.0 218.5,563.0 219.0,565.4 219.5,567.8 220.0,569.9 220.5,571.7 221.0,573.4 221.5,575.3 222.0,577.2 222.5,579.3 223.0,581.4 223.5,583.8 224.0,585.6 224.5,587.2 225.0,589.4 225.5,591.4 226.0,592.5 226.5,594.1 227.0,595.8 227.5,597.5 228.0,599.3 228.5,601.1 229.0,603.4 229.5,605.6 230.0,607.5 230.5,609.4 231.0,611.1 231.5,612.6 232.0,614.3 232.5,616.1 233.0,617.7 233.5,619.4 234.0,621.2 234.5,623.0 235.0,624.9 235.5,627.1 236.0,628.7 236.5,630.2 237.0,631.8 237.5,633.5 238.0,635.1 238.5,637.1 239.0,639.3 239.5,641.5 240.0,643.4 240.5,645.0 241.0,646.7 241.5,648.5 242.0,650.2 242.5,651.9 243.0,654.1 243.5,656.3 244.0,658.1 244.5,659.4 245.0,660.8 245.5,662.6 246.0,664.4 246.5,665.8 247.0,667.3 247.5,669.1 248.0,671.1 248.5,672.2 249.0,673.0 249.5,674.1 250.0,675.4 250.5,676.8 251.0,678.2 251.5,679.4 252.0,680.7 252.5,681.9 253.0,682.9 253.5,684.0 254.0,684.8 254.5,685.7 255.0,686.3 255.5,687.0 256.0,688.2 256.5,689.3 257.0,689.8 257.5,690.4 258.0,691.1 258.5,692.0 259.0,693.1 259.5,694.6 260.0,696.1 260.5,697.5 261.0,698.3 261.5,698.8 262.0,699.6 262.5,700.5 263.0,701.3 263.5,702.3 264.0,703.6 264.5,704.9 265.0,706.0 265.5,706.5 266.0,707.3 266.5,708.1 267.0,708.8 267.5,709.6 268.0,710.2 268.5,711.1 269.0,712.6 269.5,714.2 270.0,715.2 270.5,715.6 271.0,716.2 271.5,716.9 272.0,717.2 272.5,717.2 273.0,717.4 273.5,717.6 274.0,717.8 274.5,717.6 275.0,717.6 275.5,717.7 276.0,717.5 276.5,716.8 277.0,716.2 277.5,715.6 278.0,715.1 278.5,714.6 279.0,714.0 279.5,712.7 280.0,711.3 280.5,710.7 281.0,709.9 281.5,708.6 282.0,707.7 282.5,707.4 283.0,707.3 283.5,707.2 284.0,706.7 284.5,706.4 285.0,706.9 285.5,708.1 286.0,710.0 286.5,711.6 287.0,712.9 287.5,715.0 288.0,717.0 288.5,718.6 289.0,720.3 289.5,721.8 290.0,723.1 290.5,724.4 291.0,725.7 291.5,726.9 292.0,728.0 292.5,728.0 293.0,727.6 293.5,727.3 294.0,727.0 294.5,727.0 295.0,727.4 295.5,727.5 296.0,727.3 296.5,727.2 297.0,727.0 297.5,726.8 298.0,726.3 298.5,726.0 299.0,726.3 299.5,726.6 300.0,726.9 300.5,727.1 301.0,726.7 301.5,726.3 302.0,726.0 302.5,725.7 303.0,725.8 303.5,725.8 304.0,725.6 304.5,725.5 305.0,724.7 305.5,723.1 306.0,720.9 306.5,718.6 307.0,716.6 307.5,714.7 308.0,713.0 308.5,710.8 309.0,708.1 309.5,705.5 310.0,703.4 310.5,700.9 311.0,698.3 311.5,695.9 312.0,693.0 312.5,689.1 313.0,685.4 313.5,681.5 314.0,677.4 314.5,673.6 315.0,670.3 315.5,666.9 316.0,663.4 316.5,659.6 317.0,656.2 317.5,653.1 318.0,649.4 318.5,645.7 319.0,643.0 319.5,640.3 320.0,637.3 320.5,635.1 321.0,633.2 321.5,630.3 322.0,627.1 322.5,624.2 323.0,621.6 323.5,619.1 324.0,616.7 324.5,614.8 325.0,612.7 325.5,611.1 326.0,609.7 326.5,607.7 327.0,605.9 327.5,604.6 328.0,603.1 328.5,601.9 329.0,600.9 329.5,599.8 330.0,598.7 330.5,597.5 331.0,596.3 331.5,595.1 332.0,593.8 332.5,592.8 333.0,592.1 333.5,591.2 334.0,590.5 334.5,589.7 335.0,588.8 335.5,587.7 336.0,586.5 336.5,585.8 337.0,585.4 337.5,585.0 338.0,584.6 338.5,583.7 339.0,582.7 339.5,581.8 340.0,581.0 340.5,580.5 341.0,580.3 341.5,580.1 342.0,579.7 342.5,578.9 343.0,578.3 343.5,577.6 344.0,577.2 344.5,577.3 345.0,577.2 345.5,577.3 346.0,577.7 346.5,577.4 347.0,576.9 347.5,576.4 348.0,576.2 348.5,576.1 349.0,576.1 349.5,576.1 350.0,576.4 350.5,576.8 351.0,576.3 351.5,575.6 352.0,575.0 352.5,574.8 353.0,574.9 353.5,574.9 354.0,575.1 354.5,575.2 355.0,574.9 355.5,574.3 356.0,574.0 356.5,573.6 357.0,573.2 357.5,573.1 358.0,573.5 358.5,573.7 359.0,573.7 359.5,573.8 360.0,573.3 360.5,572.0 361.0,570.6 361.5,569.6 362.0,569.4 362.5,569.9 363.0,570.5 363.5,571.1 364.0,571.9 364.5,572.1 365.0,572.6 365.5,573.4 366.0,573.3 366.5,572.5 367.0,572.2 367.5,571.9 368.0,571.4 368.5,571.5 369.0,571.9 369.5,571.8 370.0,571.8 370.5,571.4 371.0,571.1 371.5,571.0 372.0,571.0 372.5,571.0 373.0,571.6 373.5,572.6 374.0,573.1 374.5,573.5 375.0,573.9 375.5,574.0 376.0,573.6 376.5,573.0 377.0,573.0 377.5,573.3 378.0,573.3 378.5,573.4 379.0,572.8 379.5,572.4 380.0,572.0 380.5,571.9 381.0,572.4 381.5,573.1 382.0,573.5 382.5,573.2 383.0,573.1 383.5,572.8 384.0,572.6 384.5,573.0 385.0,573.5 385.5,573.8 386.0,573.3 386.5,573.4 387.0,573.9 387.5,573.9 388.0,573.7 388.5,573.5 389.0,573.0 389.5,572.3 390.0,571.6 390.5,571.0 391.0,570.6 391.5,570.4 392.0,569.8 392.5,569.3 393.0,568.6 393.5,567.0 394.0,565.9 394.5,565.3 395.0,564.9 395.5,564.9 396.0,565.2 396.5,565.4 397.0,566.0 397.5,565.9 398.0,565.2 398.5,564.9 399.0,565.2 399.5,565.5 400.0,565.8 400.5,566.3 401.0,567.1 401.5,567.9 402.0,567.8 402.5,567.5 403.0,567.3 403.5,567.4 404.0,568.1 404.5,569.3 405.0,570.4 405.5,571.3 406.0,571.7 406.5,571.6 407.0,571.6 407.5,572.1 408.0,572.8 408.5,573.4 409.0,574.3 409.5,575.2 410.0,576.3 410.5,577.2 411.0,577.5 411.5,577.7 412.0,577.6 412.5,577.9 413.0,578.6 413.5,579.5 414.0,580.6 414.5,581.6 415.0,582.8 415.5,584.0 416.0,584.6 416.5,585.0 417.0,585.2 417.5,586.0 418.0,586.7 418.5,587.2 419.0,588.1 419.5,589.1 420.0,589.7 420.5,590.2 421.0,591.2 421.5,591.7 422.0,592.0 422.5,592.5 423.0,593.1 423.5,593.5 424.0,594.2 424.5,595.2 425.0,596.6 425.5,598.2 426.0,599.0 426.5,599.8 427.0,601.0 427.5,602.4 428.0,603.7 428.5,604.8 429.0,606.3 429.5,608.0 430.0,609.0 430.5,609.9 431.0,611.1 431.5,612.5 432.0,613.7 432.5,614.9 433.0,616.2 433.5,617.0 434.0,617.3 434.5,617.5 435.0,617.9 435.5,618.7 436.0,619.5 436.5,619.8 437.0,620.2 437.5,620.7 438.0,620.9 438.5,620.8 439.0,621.2 439.5,621.8 440.0,621.6 440.5,621.0 441.0,620.7 441.5,619.9 442.0,618.8 442.5,618.0 443.0,617.5 443.5,617.2 444.0,617.2 444.5,617.1 445.0,617.0 445.5,617.1 446.0,616.8 446.5,616.6 447.0,616.1 447.5,615.7 448.0,615.5 448.5,615.5 449.0,616.1 449.5,617.0 450.0,617.8 450.5,618.6 451.0,619.4 451.5,620.1 452.0,620.9 452.5,621.7 453.0,622.8 453.5,624.1 454.0,625.7 454.5,627.6 455.0,629.7 455.5,631.9 456.0,633.7 456.5,635.1 457.0,636.5 457.5,637.9 458.0,639.3 458.5,641.1 459.0,643.3 459.5,645.6 460.0,647.7 460.5,648.8 461.0,650.0 461.5,651.3 462.0,652.6 462.5,654.1 463.0,655.7 463.5,657.1 464.0,658.1 464.5,658.7 465.0,659.3 465.5,660.3 466.0,661.3 466.5,662.6 467.0,664.6 467.5,666.0 468.0,666.3 468.5,666.8 469.0,667.9 469.5,669.0 470.0,670.5 470.5,672.1 471.0,673.0 471.5,673.6 472.0,674.7 472.5,675.9 473.0,677.1 473.5,678.8 474.0,680.9 474.5,683.0 475.0,684.6 475.5,686.1 476.0,687.8 476.5,689.3 477.0,690.6 477.5,691.9 478.0,693.6 478.5,695.4 479.0,697.2 479.5,698.8 480.0,699.9 480.5,700.6 481.0,701.2 481.5,701.8 482.0,702.5 482.5,703.1 483.0,703.8 483.5,704.5 484.0,705.4 484.5,706.4 485.0,707.0 485.5,707.2 486.0,707.3 486.5,707.6 487.0,707.9 487.5,708.3 488.0,709.0 488.5,709.4 489.0,709.4 489.5,709.8 490.0,710.3 490.5,710.4 491.0,710.0 491.5,713.1 492.0,717.5 492.5,721.4 493.0,724.3 493.5,725.1 494.0,725.9 494.5,726.5 495.0,726.8 495.5,726.6 496.0,726.2 496.5,726.3 497.0,726.6 497.5,726.9 498.0,727.0 498.5,726.7 499.0,726.5 499.5,726.1 500.0,725.9 500.5,726.1 501.0,726.5 501.5,727.1 502.0,727.0 502.5,727.0 503.0,727.1 503.5,727.0 504.0,727.1 504.5,727.2 505.0,727.0 505.5,726.5 506.0,725.3 506.5,723.5 507.0,720.5 507.5,717.7 508.0,714.9 508.5,715.5 509.0,715.6 509.5,717.0 510.0,720.1 510.5,723.0 511.0,725.0 511.5,726.5 512.0,728.3 512.5,730.4 513.0,732.4 513.5,733.8 514.0,734.3 514.5,733.7 515.0,732.8 515.5,731.6 516.0,730.2 516.5,729.2 517.0,728.2 517.5,727.4 518.0,726.8 518.5,725.4 519.0,723.7 519.5,722.2 520.0,721.1 520.5,720.3 521.0,719.4 521.5,718.6 522.0,718.3 522.5,718.3 523.0,718.0 523.5,717.5 524.0,717.2 524.5,717.1 525.0,716.8 525.5,715.9 526.0,715.0 526.5,714.5 527.0,714.0 527.5,713.1 528.0,711.8 528.5,710.4 529.0,708.7 529.5,707.3 530.0,706.3 530.5,705.2 531.0,703.9 531.5,702.6 532.0,701.5 532.5,700.2 533.0,698.3 533.5,696.5 534.0,694.9 534.5,693.4 535.0,692.0 535.5,690.5 536.0,688.9 536.5,687.4 537.0,686.4 537.5,684.9 538.0,683.4 538.5,681.9 539.0,680.0 539.5,678.1 540.0,676.8 540.5,676.0 541.0,675.1 541.5,674.1 542.0,673.1 542.5,672.1 543.0,671.1 543.5,670.4 544.0,669.9 544.5,669.6 545.0,669.6 545.5,669.8 546.0,669.5 546.5,669.3 547.0,669.5 547.5,670.4 548.0,671.9 548.5,673.5 549.0,674.6 549.5,675.3 550.0,676.0 550.5,676.8 551.0,677.7 551.5,678.6 552.0,679.0 552.5,679.7 553.0,680.7 553.5,681.7 554.0,682.0 554.5,681.6 555.0,680.9 555.5,680.2 556.0,679.7 556.5,679.2 557.0,678.5 557.5,678.0 558.0,677.7 558.5,677.1 559.0,676.6 559.5,676.0 560.0,675.5 560.5,675.5 561.0,675.7 561.5,676.2 562.0,677.0 562.5,676.9 563.0,677.1 563.5,677.7 564.0,678.9 564.5,680.2 565.0,681.5 565.5,683.0 566.0,684.6 566.5,685.5 567.0,686.3 567.5,687.1 568.0,688.2 568.5,689.6 569.0,691.0 569.5,692.3 570.0,693.3 570.5,694.0 571.0,694.5 571.5,695.4 572.0,695.9 572.5,696.2 573.0,697.0 573.5,698.2 574.0,699.4 574.5,700.7 575.0,701.7 575.5,702.5 576.0,703.6 576.5,704.5 577.0,705.6 577.5,707.0 578.0,708.2 578.5,709.3 579.0,710.1 579.5,710.6 580.0,710.1 580.5,709.6 581.0,709.0 581.5,708.0 582.0,707.2 582.5,707.0 583.0,707.2 583.5,707.1 584.0,706.8 584.5,706.4 585.0,705.6 585.5,704.5 586.0,703.2 586.5,702.5 587.0,702.3 587.5,702.2 588.0,702.2 588.5,702.3 589.0,700.8 589.5,699.7 590.0,699.3 590.5,698.7 591.0,698.1 591.5,697.9 592.0,698.4 592.5,699.3 593.0,698.2 593.5,696.7 594.0,695.7 594.5,695.3 595.0,695.2 595.5,694.9 596.0,693.4 596.5,690.9 597.0,687.6 597.5,686.1 598.0,686.6 598.5,686.5 599.0,687.0 599.5,688.3 600.0,689.9 600.5,690.6 601.0,690.8 601.5,691.3 602.0,691.5 602.5,691.7 603.0,692.2 603.5,692.8 604.0,693.6 604.5,693.9 605.0,693.5 605.5,693.3 606.0,693.3 606.5,693.5 607.0,693.6 607.5,693.7 608.0,694.1 608.5,694.7 609.0,694.4 609.5,693.8 610.0,693.1 610.5,692.4 611.0,691.9 611.5,691.4 612.0,691.2 612.5,691.5 613.0,691.1 613.5,690.3 614.0,689.6 614.5,689.1 615.0,688.8 615.5,689.0 616.0,689.6 616.5,689.5 617.0,688.3 617.5,688.1 618.0,688.2 618.5,688.1 619.0,688.2 619.5,688.5 620.0,688.8 620.5,688.3 621.0,688.0 621.5,687.8 622.0,688.1 622.5,688.8 623.0,689.6 623.5,690.6 624.0,690.8 624.5,691.1 625.0,691.5 625.5,691.7 626.0,692.1 626.5,692.7 627.0,693.5 627.5,694.6 628.0,695.2 628.5,695.5 629.0,695.5 629.5,695.8 630.0,696.7 630.5,697.2 631.0,697.6 631.5,698.5 632.0,699.2 632.5,698.8 633.0,698.4 633.5,698.5 634.0,699.1 634.5,699.7 635.0,700.1 635.5,700.8 636.0,701.4 636.5,701.5 637.0,701.4 637.5,701.4 638.0,701.1 638.5,700.7 639.0,700.4 639.5,700.3 640.0,700.4 640.5,700.7 641.0,700.3 641.5,700.2 642.0,700.2 642.5,699.9 643.0,699.2 643.5,698.6 644.0,698.2 644.5,698.0 645.0,697.9 645.5,697.8 646.0,697.8 646.5,698.3 647.0,698.1 647.5,697.4 648.0,696.9 648.5,696.7 649.0,695.9 649.5,695.5 650.0,695.4 650.5,695.2 651.0,695.1 651.5,694.3 652.0,693.1 652.5,692.4 653.0,691.9 653.5,691.0 654.0,690.5 654.5,690.3 655.0,689.6 655.5,688.7 656.0,687.8 656.5,686.6 657.0,685.7 657.5,684.9 658.0,684.3 658.5,684.0 659.0,683.1 659.5,682.4 660.0,681.8 660.5,681.2 661.0,681.1 661.5,681.4 662.0,681.6 662.5,680.9 663.0,680.1 663.5,679.5 664.0,679.0 664.5,678.8 665.0,679.3 665.5,680.1 666.0,680.6 666.5,679.7 667.0,678.8 667.5,678.2 668.0,677.8 668.5,677.6 669.0,677.3 669.5,677.4 670.0,678.3 670.5,679.1 671.0,678.6 671.5,677.9 672.0,677.5 672.5,677.1 673.0,676.5 673.5,676.6 674.0,677.2 674.5,677.8 675.0,678.5 675.5,679.3 676.0,679.9 676.5,679.3 677.0,678.9 677.5,679.0 678.0,679.1 678.5,679.4 679.0,679.8 679.5,680.2 680.0,681.1 680.5,682.1 681.0,683.0 681.5,683.3 682.0,683.1 682.5,683.0 683.0,683.2 683.5,683.6 684.0,684.0 684.5,684.1 685.0,684.4 685.5,685.4 686.0,686.8 686.5,687.2 687.0,687.7 687.5,688.2 688.0,688.6 688.5,689.6 689.0,690.9 689.5,692.1 690.0,693.3 690.5,694.8 691.0,695.2 691.5,695.4 692.0,695.9 692.5,696.6 693.0,697.7 693.5,698.8 694.0,700.0 694.5,701.7 695.0,703.2 695.5,703.4 696.0,703.6 696.5,704.0 697.0,704.3 697.5,704.9 698.0,705.4 698.5,705.9 699.0,706.9 699.5,708.2 700.0,708.9 700.5,708.9 701.0,708.7 701.5,708.5 702.0,708.7 702.5,709.8 703.0,710.6 703.5,710.9 704.0,711.6 704.5,711.3 705.0,710.8 705.5,710.5 706.0,710.7 706.5,711.2 707.0,711.8 707.5,712.3 708.0,712.5 708.5,711.9 709.0,711.8 709.5,711.8 710.0,711.7 710.5,711.5 711.0,711.4 711.5,711.3 712.0,710.2 712.5,709.2 713.0,708.3 713.5,707.6 714.0,707.6 714.5,707.9 715.0,708.0 715.5,707.0 716.0,706.2 716.5,705.8 717.0,705.5 717.5,705.4 718.0,705.9 718.5,706.5 719.0,705.8 719.5,705.0 720.0,704.4 720.5,704.0 721.0,703.7 721.5,703.6 722.0,703.9 722.5,703.9 723.0,702.7 723.5,701.7 724.0,701.2 724.5,700.7 725.0,700.3 725.5,700.2 726.0,700.2 726.5,700.0 727.0,699.5 727.5,699.1 728.0,698.4 728.5,697.7 729.0,697.6 729.5,697.4 730.0,697.3 730.5,697.6 731.0,698.2 731.5,698.2 732.0,697.6 732.5,697.0 733.0,696.9 733.5,696.7 734.0,696.5 734.5,696.6 735.0,697.2 735.5,697.9 736.0,698.5 736.5,699.3 737.0,698.9 737.5,698.5 738.0,698.0 738.5,697.8 739.0,698.0 739.5,698.2 740.0,698.4 740.5,699.0 741.0,699.7 741.5,700.5 742.0,701.5 742.5,701.3 743.0,700.8 743.5,700.5 744.0,700.6 744.5,700.8 745.0,701.1 745.5,701.5 746.0,702.0 746.5,702.4 747.0,702.6 747.5,702.5 748.0,702.6 748.5,702.3 749.0,702.0 749.5,702.2 750.0,702.6 750.5,703.1 751.0,703.7 751.5,703.9 752.0,703.6 752.5,703.3 753.0,703.1 753.5,703.3 754.0,703.6 754.5,704.0 755.0,704.5 755.5,704.9 756.0,704.4 756.5,704.0 757.0,703.7 757.5,703.4 758.0,703.5 758.5,704.2 759.0,704.9 759.5,705.8 760.0,705.4 760.5,704.8 761.0,704.7 761.5,704.7 762.0,704.8 762.5,705.0 763.0,705.5 763.5,706.3 764.0,706.1 764.5,705.8 765.0,705.1 765.5,704.8 766.0,704.9 766.5,704.8 767.0,704.7 767.5,704.9 768.0,704.3 768.5,703.6 769.0,702.9 769.5,702.7 770.0,703.0 770.5,703.1 771.0,703.0 771.5,702.9 772.0,702.4 772.5,702.1 773.0,701.8 773.5,701.7 774.0,701.8 774.5,702.0 775.0,702.4 775.5,702.2 776.0,701.8 776.5,701.6 777.0,701.5 777.5,701.4 778.0,701.5 778.5,701.9 779.0,702.4 779.5,702.0 780.0,701.4 780.5,700.9 781.0,701.0 781.5,701.3 782.0,701.3 782.5,701.3 783.0,701.2 783.5,700.7 784.0,700.0 784.5,699.6 785.0,699.5 785.5,699.6 786.0,700.0 786.5,700.8 787.0,701.0 787.5,700.0 788.0,699.2 788.5,698.7 789.0,698.3 789.5,698.3 790.0,698.5 790.5,698.8 791.0,699.4 791.5,699.7 792.0,699.4 792.5,699.2 793.0,698.6 793.5,698.2 794.0,698.2 794.5,698.0 795.0,697.8 795.5,698.0 796.0,698.3 796.5,698.4 797.0,698.2 797.5,697.5 798.0,696.7 798.5,696.3 799.0,696.3 799.5,696.8 800.0,697.2 800.5,697.8 801.0,697.5 801.5,696.7 802.0,696.2 802.5,696.1 803.0,696.1 803.5,696.4 804.0,696.9 804.5,697.5 805.0,697.0 805.5,696.3 806.0,695.9 806.5,696.0 807.0,696.2 807.5,696.4 808.0,696.5 808.5,696.3 809.0,696.0 809.5,695.8 810.0,695.5 810.5,695.3 811.0,695.2 811.5,695.6 812.0,696.1 812.5,695.7 813.0,695.2 813.5,695.1 814.0,695.3 814.5,695.5 815.0,695.8 815.5,696.1 816.0,696.3 816.5,696.2 817.0,695.7 817.5,695.4 818.0,695.1 818.5,694.9 819.0,695.1 819.5,695.1 820.0,695.1 820.5,695.2 821.0,695.9 821.5,696.4 822.0,696.1 822.5,695.8 823.0,695.5 823.5,695.5 824.0,695.6 824.5,695.4 825.0,695.6 825.5,695.7 826.0,695.8 826.5,696.0 827.0,695.8 827.5,695.5 828.0,695.4 828.5,694.9 829.0,694.7 829.5,694.3 830.0,693.8 830.5,694.2 831.0,694.8 831.5,695.0 832.0,694.4 832.5,693.6 833.0,692.8 833.5,692.4 834.0,692.4 834.5,692.8 835.0,693.5 835.5,694.1 836.0,694.3 836.5,693.0 837.0,692.1 837.5,692.0 838.0,692.2 838.5,692.1 839.0,692.6 839.5,694.0 840.0,694.0 840.5,692.9 841.0,692.1 841.5,692.1 842.0,692.7 842.5,693.4 843.0,694.1 843.5,694.6 844.0,693.2 844.5,690.6 845.0,687.8 845.5,685.3 846.0,683.6 846.5,682.5 847.0,681.8 847.5,679.3 848.0,676.4 848.5,674.1 849.0,672.3 849.5,670.5 850.0,668.7 850.5,667.2 851.0,666.3 851.5,664.3 852.0,662.1 852.5,660.0 853.0,658.3 853.5,656.9 854.0,655.5 854.5,654.1 855.0,653.0 855.5,651.7 856.0,649.7 856.5,647.4 857.0,645.4 857.5,643.8 858.0,642.0 858.5,640.3 859.0,639.3 859.5,638.5 860.0,637.3 860.5,635.4 861.0,633.8 861.5,632.5 862.0,631.5 862.5,630.6 863.0,629.8 863.5,629.1 864.0,628.6 864.5,627.9 865.0,627.4 865.5,627.1 866.0,626.7 866.5,626.0 867.0,625.6 867.5,625.6 868.0,625.5 868.5,625.7 869.0,626.3 869.5,627.1 870.0,627.7 870.5,627.5 871.0,627.6 871.5,627.8 872.0,628.5 872.5,629.7 873.0,631.0 873.5,632.4 874.0,634.2 874.5,636.5 875.0,638.1 875.5,639.1 876.0,639.7 876.5,640.6 877.0,641.9 877.5,643.5 878.0,645.3 878.5,647.0 879.0,648.3 879.5,649.7 880.0,650.5 880.5,651.0 881.0,651.5 881.5,652.2 882.0,652.8 882.5,653.6 883.0,654.9 883.5,656.0 884.0,656.9 884.5,656.8 885.0,656.9 885.5,656.8 886.0,656.8 886.5,657.6 887.0,658.6 887.5,659.6 888.0,661.1 888.5,662.4 889.0,662.2 889.5,662.3 890.0,662.7 890.5,663.2 891.0,663.8 891.5,664.7 892.0,666.3 892.5,668.0 893.0,668.1 893.5,667.9 894.0,668.3 894.5,668.8 895.0,669.5 895.5,670.8 896.0,672.0 896.5,673.3 897.0,673.4 897.5,673.6 898.0,674.0 898.5,674.7 899.0,675.7 899.5,676.9 900.0,678.1 900.5,679.1 901.0,679.2 901.5,679.6 902.0,680.5 902.5,681.7 903.0,683.0 903.5,684.7 904.0,686.4 904.5,686.8 905.0,686.6 905.5,686.8 906.0,687.1 906.5,687.5 907.0,688.2 907.5,689.1 908.0,690.2 908.5,690.2 909.0,689.9 909.5,689.8 910.0,689.9 910.5,690.1 911.0,690.4 911.5,690.7 912.0,691.1 912.5,691.3 913.0,691.1 913.5,691.2 914.0,691.3 914.5,691.5 915.0,691.6 915.5,691.4 916.0,692.1 916.5,692.9 917.0,693.0 917.5,692.3 918.0,691.9 918.5,691.5 919.0,691.3 919.5,691.4 920.0,691.5 920.5,691.7 921.0,692.1 921.5,692.4 922.0,691.9 922.5,691.3 923.0,690.8 923.5,690.6 924.0,690.5 924.5,690.8 925.0,691.3 925.5,691.6 926.0,691.9 926.5,691.6 927.0,691.1 927.5,691.1 928.0,691.0 928.5,690.9 929.0,691.4 929.5,691.9 930.0,692.3 930.5,692.6 931.0,692.3 931.5,691.6 932.0,691.3 932.5,691.6 933.0,691.6 933.5,691.7 934.0,692.0 934.5,692.3 935.0,692.8 935.5,692.4 936.0,691.5 936.5,691.2 937.0,690.9 937.5,690.6 938.0,690.7 938.5,690.9 939.0,691.1 939.5,690.2 940.0,689.2 940.5,688.7 941.0,688.3 941.5,687.8 942.0,687.8 942.5,688.0 943.0,688.4 943.5,688.3 944.0,687.7 944.5,687.1 945.0,686.5 945.5,685.8 946.0,685.6 946.5,685.8 947.0,686.6 947.5,687.1 948.0,686.1 948.5,685.1 949.0,684.6 949.5,684.5 950.0,684.7 950.5,685.0 951.0,685.6 951.5,686.8 952.0,686.5 952.5,685.2 953.0,684.5 953.5,684.5 954.0,684.8 954.5,685.4 955.0,686.3 955.5,687.1 956.0,687.7 956.5,687.0 957.0,686.6 957.5,686.3 958.0,686.2 958.5,686.3 959.0,686.6 959.5,687.1 960.0,687.9 960.5,688.3 961.0,687.6 961.5,687.1 962.0,687.0 962.5,686.9 963.0,686.8 963.5,686.6 964.0,686.7 964.5,687.5 965.0,687.9 965.5,687.3 966.0,686.8 966.5,686.3 967.0,686.0 967.5,685.7 968.0,685.6 968.5,685.9 969.0,686.6 969.5,686.6 970.0,685.7 970.5,685.3 971.0,685.0 971.5,684.8 972.0,685.0 972.5,685.7 973.0,686.4 973.5,686.7 974.0,685.7 974.5,685.0 975.0,684.8 975.5,685.0 976.0,685.1 976.5,685.7 977.0,686.3 977.5,686.7 978.0,686.1 978.5,685.7 979.0,685.6 979.5,685.4 980.0,685.1 980.5,685.0 981.0,685.6 981.5,686.6 982.0,686.1 982.5,685.2 983.0,684.8 983.5,684.3 984.0,684.3 984.5,684.5 985.0,684.6 985.5,684.9 986.0,685.1 986.5,685.1 987.0,684.5 987.5,683.9 988.0,683.3 988.5,683.0 989.0,682.6 989.5,682.6 990.0,683.4 990.5,684.3 991.0,685.3 991.5,685.2 992.0,684.2 992.5,683.4 993.0,683.0 993.5,683.0 994.0,683.2 994.5,683.5 995.0,683.9 995.5,684.4 996.0,685.2 996.5,684.9 997.0,684.1 997.5,683.2 998.0,683.1 998.5,683.4 999.0,683.2 999.5,683.4 1000.0,684.4 1000.5,685.1 1001.0,685.3 1001.5,684.2 1002.0,683.6 1002.5,683.2 1003.0,682.9 1003.5,682.9 1004.0,683.3 1004.5,683.8 1005.0,684.4 1005.5,685.0 1006.0,685.2 1006.5,684.9 1007.0,684.4 1007.5,684.0 1008.0,683.9 1008.5,684.2 1009.0,684.5 1009.5,685.1 1010.0,685.9 1010.5,686.5 1011.0,685.7 1011.5,685.0 1012.0,684.6 1012.5,684.6 1013.0,685.0 1013.5,685.4 1014.0,685.8 1014.5,686.3 1015.0,686.3 1015.5,685.6 1016.0,684.7 1016.5,684.0 1017.0,683.3 1017.5,682.7 1018.0,682.6 1018.5,682.7 1019.0,682.4 1019.5,681.1 1020.0,680.4 1020.5,679.9 1021.0,679.5 1021.5,679.4 1022.0,679.5 1022.5,679.8 1023.0,678.8 1023.5,678.1 1024.0,677.7 1024.5,677.6 1025.0,677.7 1025.5,678.5 1026.0,679.7 1026.5,679.0 1027.0,678.1 1027.5,678.2 1028.0,678.9 1028.5,679.3 1029.0,679.5 1029.5,679.5 1030.0,679.0 1030.5,679.0 1031.0,678.9 1031.5,679.2 1032.0,679.8 1032.5,680.6 1033.0,680.6 1033.5,679.9 1034.0,679.8 1034.5,679.4 1035.0,679.5 1035.5,680.2 1036.0,681.0 1036.5,681.7 1037.0,681.0 1037.5,680.6 1038.0,680.4 1038.5,680.3 1039.0,680.8 1039.5,681.7 1040.0,682.6 1040.5,683.7 1041.0,684.3 1041.5,684.4 1042.0,684.6 1042.5,684.7 1043.0,684.8 1043.5,684.9 1044.0,685.4 1044.5,686.4 1045.0,687.7 1045.5,688.9 1046.0,688.8 1046.5,688.3 1047.0,687.7 1047.5,687.6 1048.0,688.0 1048.5,688.7 1049.0,689.5 1049.5,690.0 1050.0,690.4 1050.5,690.9 1051.0,690.9 1051.5,690.6 1052.0,690.5 1052.5,690.3 1053.0,690.4 1053.5,690.6 1054.0,691.0 1054.5,691.5 1055.0,692.0 1055.5,692.0 1056.0,691.4 1056.5,691.0 1057.0,691.0 1057.5,691.2 1058.0,691.3 1058.5,691.6 1059.0,692.2 1059.5,692.6 1060.0,692.7 1060.5,692.5 1061.0,692.3 1061.5,692.1 1062.0,691.7 1062.5,691.4 1063.0,691.4 1063.5,691.6 1064.0,692.3 1064.5,693.0 1065.0,693.0 1065.5,692.5 1066.0,692.0 1066.5,691.9 1067.0,692.2 1067.5,692.4 1068.0,692.6 1068.5,693.1 1069.0,694.0 1069.5,694.6 1070.0,694.0 1070.5,693.4 1071.0,693.2 1071.5,693.1 1072.0,693.4 1072.5,694.4 1073.0,695.2 1073.5,695.7 1074.0,695.6 1074.5,695.0 1075.0,694.5 1075.5,694.2 1076.0,694.2 1076.5,694.9 1077.0,696.0 1077.5,697.0 1078.0,696.8 1078.5,696.0 1079.0,695.3 1079.5,695.0 1080.0,695.1 1080.5,695.7 1081.0,696.7 1081.5,697.7 1082.0,696.7 1082.5,695.8 1083.0,695.6 1083.5,695.4 1084.0,695.0 1084.5,695.2 1085.0,696.0 1085.5,696.7 1086.0,695.9 1086.5,694.9 1087.0,694.0 1087.5,693.2 1088.0,692.6 1088.5,692.3 1089.0,692.3 1089.5,692.4 1090.0,692.5 1090.5,691.3 1091.0,690.4 1091.5,689.8 1092.0,689.4 1092.5,689.0 1093.0,688.7 1093.5,688.7 1094.0,688.5 1094.5,688.6 1095.0,688.5 1095.5,687.4 1096.0,686.3 1096.5,685.7 1097.0,685.4 1097.5,685.2 1098.0,685.1 1098.5,685.1 1099.0,684.9 1099.5,684.6 1100.0,684.0 1100.5,683.0 1101.0,682.2 1101.5,681.4 1102.0,680.9 1102.5,680.9 1103.0,681.0 1103.5,681.0 1104.0,680.9 1104.5,680.4 1105.0,679.8 1105.5,679.2 1106.0,678.8 1106.5,678.7 1107.0,679.0 1107.5,679.7 1108.0,680.9 1108.5,680.6 1109.0,679.8 1109.5,679.7 1110.0,679.8 1110.5,680.0 1111.0,680.6 1111.5,681.5 1112.0,682.0 1112.5,681.0 1113.0,680.5 1113.5,680.6 1114.0,681.3 1114.5,682.1 1115.0,682.7 1115.5,683.7 1116.0,683.8 1116.5,683.2 1117.0,682.9 1117.5,682.7 1118.0,682.5 1118.5,683.0 1119.0,683.4 1119.5,683.7 1120.0,683.6 1120.5,683.0 1121.0,682.9 1121.5,682.6 1122.0,682.2 1122.5,681.9 1123.0,681.9 1123.5,682.7 1124.0,683.7 1124.5,683.6 1125.0,682.6 1125.5,682.2 1126.0,682.0 1126.5,682.0 1127.0,682.0 1127.5,682.4 1128.0,683.0 1128.5,683.8 1129.0,684.7 1129.5,684.5 1130.0,684.2 1130.5,683.7 1131.0,683.3 1131.5,683.2 1132.0,683.4 1132.5,683.8 1133.0,684.1 1133.5,684.5 1134.0,684.4 1134.5,683.7 1135.0,683.0 1135.5,682.5 1136.0,682.7 1136.5,682.7 1137.0,682.8 1137.5,683.2 1138.0,683.3 1138.5,683.0 1139.0,682.3 1139.5,681.6 1140.0,681.3 1140.5,681.1 1141.0,680.8 1141.5,680.8 1142.0,681.3 1142.5,681.5 1143.0,681.2 1143.5,680.7 1144.0,680.2 1144.5,680.3 1145.0,680.9 1145.5,681.5 1146.0,681.8 1146.5,681.1 1147.0,680.4 1147.5,679.8 1148.0,679.8 1148.5,680.3 1149.0,680.8 1149.5,681.3 1150.0,681.4 1150.5,680.9 1151.0,680.5 1151.5,680.3 1152.0,680.1 1152.5,680.3 1153.0,680.9 1153.5,681.6 1154.0,682.1 1154.5,682.0 1154.5,688.9 1154.0,688.1 1153.5,687.9 1153.0,688.3 1152.5,688.9 1152.0,689.4 1151.5,689.6 1151.0,689.1 1150.5,688.2 1150.0,687.4 1149.5,687.5 1149.0,688.2 1148.5,688.7 1148.0,688.8 1147.5,688.4 1147.0,687.9 1146.5,687.4 1146.0,686.8 1145.5,687.8 1145.0,688.2 1144.5,688.0 1144.0,688.1 1143.5,688.1 1143.0,687.5 1142.5,686.9 1142.0,686.8 1141.5,687.5 1141.0,688.1 1140.5,688.7 1140.0,688.9 1139.5,688.5 1139.0,688.1 1138.5,688.1 1138.0,688.5 1137.5,689.4 1137.0,689.8 1136.5,689.6 1136.0,689.6 1135.5,689.8 1135.0,689.8 1134.5,689.7 1134.0,689.6 1133.5,689.6 1133.0,690.0 1132.5,690.8 1132.0,691.2 1131.5,691.2 1131.0,691.1 1130.5,691.1 1130.0,691.0 1129.5,690.5 1129.0,689.8 1128.5,689.9 1128.0,690.2 1127.5,690.9 1127.0,691.2 1126.5,691.0 1126.0,690.9 1125.5,690.5 1125.0,690.1 1124.5,689.8 1124.0,689.8 1123.5,690.2 1123.0,690.8 1122.5,691.1 1122.0,691.0 1121.5,690.7 1121.0,690.8 1120.5,691.0 1120.0,690.3 1119.5,690.2 1119.0,690.8 1118.5,691.4 1118.0,691.7 1117.5,691.8 1117.0,691.3 1116.5,690.4 1116.0,689.8 1115.5,689.9 1115.0,690.4 1114.5,690.5 1114.0,690.6 1113.5,690.4 1113.0,689.8 1112.5,688.9 1112.0,687.9 1111.5,688.7 1111.0,689.6 1110.5,689.7 1110.0,689.5 1109.5,689.4 1109.0,688.7 1108.5,687.6 1108.0,687.1 1107.5,687.6 1107.0,688.1 1106.5,688.6 1106.0,688.7 1105.5,688.3 1105.0,687.4 1104.5,686.7 1104.0,686.5 1103.5,687.0 1103.0,687.8 1102.5,688.6 1102.0,688.7 1101.5,688.7 1101.0,689.2 1100.5,689.0 1100.0,688.3 1099.5,688.6 1099.0,689.5 1098.5,690.1 1098.0,690.5 1097.5,690.8 1097.0,691.4 1096.5,691.9 1096.0,692.4 1095.5,692.9 1095.0,693.0 1094.5,693.2 1094.0,694.0 1093.5,695.0 1093.0,695.8 1092.5,696.6 1092.0,697.4 1091.5,697.8 1091.0,698.0 1090.5,698.0 1090.0,697.7 1089.5,699.1 1089.0,700.6 1088.5,701.6 1088.0,702.5 1087.5,703.1 1087.0,703.3 1086.5,703.3 1086.0,702.9 1085.5,702.5 1085.0,703.5 1084.5,704.7 1084.0,705.6 1083.5,705.8 1083.0,705.7 1082.5,705.3 1082.0,704.7 1081.5,704.1 1081.0,705.1 1080.5,706.3 1080.0,706.9 1079.5,706.9 1079.0,706.4 1078.5,705.6 1078.0,704.7 1077.5,704.6 1077.0,705.1 1076.5,705.6 1076.0,706.1 1075.5,706.2 1075.0,705.6 1074.5,704.4 1074.0,703.1 1073.5,703.0 1073.0,703.7 1072.5,704.1 1072.0,704.1 1071.5,703.7 1071.0,703.5 1070.5,703.0 1070.0,701.9 1069.5,700.6 1069.0,700.6 1068.5,701.1 1068.0,701.4 1067.5,701.3 1067.0,701.2 1066.5,700.9 1066.0,700.3 1065.5,699.5 1065.0,698.6 1064.5,698.2 1064.0,698.2 1063.5,698.6 1063.0,698.8 1062.5,698.4 1062.0,698.1 1061.5,697.6 1061.0,696.9 1060.5,696.1 1060.0,695.9 1059.5,696.3 1059.0,696.3 1058.5,696.0 1058.0,695.8 1057.5,696.1 1057.0,696.3 1056.5,695.9 1056.0,695.4 1055.5,695.1 1055.0,695.2 1054.5,695.3 1054.0,695.6 1053.5,696.2 1053.0,696.1 1052.5,695.6 1052.0,695.5 1051.5,695.4 1051.0,695.1 1050.5,694.5 1050.0,694.5 1049.5,694.9 1049.0,695.4 1048.5,696.0 1048.0,696.0 1047.5,695.7 1047.0,695.4 1046.5,694.7 1046.0,693.8 1045.5,693.0 1045.0,693.4 1044.5,693.9 1044.0,694.4 1043.5,694.5 1043.0,694.3 1042.5,693.7 1042.0,692.9 1041.5,692.0 1041.0,690.8 1040.5,690.5 1040.0,691.1 1039.5,691.2 1039.0,690.9 1038.5,690.4 1038.0,689.6 1037.5,688.5 1037.0,687.3 1036.5,686.6 1036.0,687.5 1035.5,688.0 1035.0,688.2 1034.5,688.3 1034.0,687.9 1033.5,687.4 1033.0,686.9 1032.5,687.1 1032.0,687.8 1031.5,688.0 1031.0,687.9 1030.5,687.6 1030.0,686.6 1029.5,685.5 1029.0,686.3 1028.5,687.1 1028.0,687.1 1027.5,687.0 1027.0,686.6 1026.5,685.6 1026.0,684.8 1025.5,685.7 1025.0,686.2 1024.5,686.5 1024.0,686.6 1023.5,686.2 1023.0,685.7 1022.5,685.1 1022.0,686.1 1021.5,687.1 1021.0,688.0 1020.5,688.7 1020.0,688.8 1019.5,688.6 1019.0,688.5 1018.5,689.7 1018.0,691.1 1017.5,692.2 1017.0,692.8 1016.5,692.9 1016.0,693.0 1015.5,692.7 1015.0,691.9 1014.5,692.3 1014.0,692.9 1013.5,693.2 1013.0,693.4 1012.5,693.7 1012.0,693.8 1011.5,693.2 1011.0,692.2 1010.5,691.2 1010.0,691.8 1009.5,692.4 1009.0,692.9 1008.5,693.4 1008.0,693.3 1007.5,692.8 1007.0,692.4 1006.5,691.9 1006.0,691.0 1005.5,691.0 1005.0,691.5 1004.5,692.0 1004.0,692.5 1003.5,693.0 1003.0,693.0 1002.5,692.3 1002.0,691.6 1001.5,691.1 1001.0,690.5 1000.5,691.1 1000.0,692.0 999.5,692.6 999.0,692.6 998.5,692.3 998.0,692.2 997.5,692.2 997.0,691.9 996.5,691.5 996.0,690.9 995.5,691.5 995.0,692.3 994.5,692.9 994.0,693.5 993.5,693.5 993.0,693.2 992.5,693.0 992.0,692.5 991.5,692.0 991.0,691.8 990.5,692.4 990.0,693.1 989.5,693.5 989.0,693.9 988.5,693.9 988.0,693.5 987.5,693.0 987.0,692.7 986.5,692.0 986.0,692.0 985.5,692.8 985.0,693.4 984.5,693.4 984.0,693.8 983.5,694.3 983.0,693.6 982.5,692.5 982.0,691.7 981.5,691.8 981.0,692.6 980.5,692.8 980.0,693.0 979.5,693.3 979.0,693.5 978.5,693.2 978.0,692.4 977.5,691.7 977.0,692.6 976.5,693.4 976.0,693.6 975.5,693.9 975.0,693.8 974.5,693.2 974.0,692.7 973.5,692.2 973.0,692.9 972.5,693.8 972.0,694.6 971.5,694.7 971.0,694.5 970.5,694.3 970.0,693.6 969.5,692.9 969.0,693.6 968.5,694.4 968.0,694.7 967.5,695.0 967.0,695.3 966.5,695.2 966.0,694.7 965.5,694.1 965.0,693.6 964.5,694.2 964.0,695.0 963.5,695.3 963.0,695.6 962.5,695.8 962.0,695.7 961.5,695.3 961.0,695.0 960.5,694.6 960.0,695.0 959.5,695.4 959.0,695.7 958.5,695.8 958.0,695.8 957.5,695.4 957.0,695.0 956.5,694.6 956.0,694.0 955.5,694.8 955.0,695.4 954.5,696.0 954.0,696.3 953.5,696.1 953.0,695.8 952.5,695.3 952.0,694.3 951.5,694.0 951.0,695.0 950.5,695.8 950.0,696.2 949.5,696.3 949.0,696.2 948.5,695.8 948.0,695.2 947.5,694.3 947.0,694.6 946.5,695.4 946.0,696.2 945.5,696.6 945.0,696.3 944.5,696.2 944.0,695.7 943.5,694.7 943.0,694.7 942.5,695.6 942.0,695.9 941.5,696.2 941.0,696.6 940.5,696.7 940.0,696.3 939.5,695.7 939.0,695.3 938.5,696.0 938.0,697.3 937.5,698.0 937.0,698.0 936.5,697.9 936.0,697.7 935.5,697.5 935.0,697.2 934.5,697.1 934.0,697.4 933.5,697.7 933.0,697.7 932.5,698.1 932.0,698.5 931.5,698.1 931.0,697.3 930.5,696.7 930.0,696.5 929.5,696.7 929.0,697.5 928.5,698.3 928.0,698.4 927.5,698.2 927.0,697.7 926.5,697.2 926.0,696.8 925.5,696.9 925.0,697.3 924.5,698.0 924.0,698.3 923.5,698.3 923.0,698.3 922.5,698.2 922.0,697.7 921.5,697.0 921.0,697.3 920.5,698.1 920.0,698.4 919.5,698.3 919.0,698.3 918.5,698.0 918.0,697.7 917.5,697.2 917.0,696.8 916.5,697.2 916.0,697.5 915.5,697.9 915.0,698.1 914.5,698.2 914.0,697.5 913.5,696.8 913.0,696.5 912.5,696.0 912.0,696.2 911.5,696.4 911.0,696.6 910.5,696.7 910.0,696.7 909.5,696.5 909.0,696.0 908.5,694.9 908.0,694.3 907.5,694.8 907.0,695.2 906.5,695.2 906.0,695.1 905.5,694.4 905.0,693.6 904.5,692.5 904.0,691.7 903.5,691.8 903.0,691.6 902.5,690.8 902.0,689.2 901.5,687.9 901.0,686.6 900.5,684.9 900.0,684.3 899.5,684.0 899.0,683.8 898.5,683.6 898.0,682.8 897.5,681.6 897.0,680.5 896.5,679.5 896.0,679.8 895.5,679.8 895.0,679.4 894.5,678.8 894.0,678.1 893.5,676.8 893.0,675.3 892.5,674.3 892.0,674.4 891.5,674.5 891.0,674.3 890.5,673.8 890.0,673.1 889.5,671.9 889.0,670.7 888.5,669.7 888.0,669.3 887.5,669.2 887.0,669.2 886.5,668.5 886.0,667.6 885.5,666.7 885.0,665.8 884.5,664.6 884.0,663.2 883.5,663.2 883.0,663.0 882.5,662.7 882.0,661.8 881.5,660.9 881.0,660.3 880.5,659.3 880.0,657.9 879.5,656.5 879.0,656.1 878.5,655.4 878.0,654.1 877.5,652.9 877.0,651.5 876.5,650.2 876.0,649.1 875.5,647.4 875.0,645.5 874.5,644.2 874.0,643.5 873.5,642.3 873.0,640.6 872.5,638.9 872.0,637.3 871.5,636.0 871.0,635.0 870.5,634.0 870.0,632.9 869.5,632.6 869.0,632.2 868.5,631.7 868.0,631.4 867.5,631.3 867.0,631.3 866.5,631.2 866.0,631.2 865.5,631.4 865.0,631.8 864.5,632.8 864.0,633.8 863.5,634.7 863.0,635.7 862.5,636.8 862.0,637.7 861.5,639.0 861.0,640.4 860.5,641.4 860.0,642.3 859.5,644.3 859.0,646.4 858.5,648.5 858.0,650.3 857.5,651.8 857.0,653.3 856.5,655.2 856.0,657.1 855.5,658.6 855.0,660.6 854.5,662.8 854.0,664.8 853.5,666.8 853.0,668.8 852.5,670.6 852.0,672.2 851.5,673.5 851.0,674.8 850.5,677.6 850.0,680.5 849.5,683.0 849.0,685.3 848.5,687.4 848.0,689.4 847.5,690.9 847.0,691.9 846.5,694.5 846.0,697.7 845.5,700.6 845.0,702.4 844.5,702.6 844.0,701.7 843.5,700.8 843.0,701.5 842.5,702.3 842.0,703.0 841.5,703.1 841.0,702.7 840.5,702.3 840.0,701.5 839.5,701.4 839.0,702.5 838.5,702.8 838.0,702.9 837.5,703.3 837.0,702.6 836.5,701.3 836.0,700.3 835.5,700.8 835.0,701.4 834.5,701.8 834.0,701.8 833.5,701.5 833.0,701.2 832.5,700.5 832.0,700.0 831.5,700.0 831.0,700.3 830.5,700.3 830.0,700.6 829.5,700.7 829.0,700.3 828.5,700.2 828.0,700.3 827.5,699.8 827.0,699.4 826.5,699.4 826.0,699.7 825.5,699.9 825.0,700.1 824.5,700.4 824.0,700.5 823.5,700.5 823.0,700.3 822.5,700.0 822.0,699.6 821.5,699.5 821.0,699.7 820.5,699.7 820.0,700.2 819.5,700.8 819.0,700.6 818.5,700.3 818.0,700.2 817.5,699.9 817.0,699.7 816.5,699.7 816.0,700.0 815.5,700.3 815.0,700.4 814.5,700.4 814.0,700.5 813.5,700.5 813.0,700.2 812.5,699.9 812.0,699.6 811.5,699.7 811.0,700.3 810.5,701.0 810.0,701.1 809.5,701.2 809.0,701.2 808.5,700.8 808.0,700.8 807.5,701.3 807.0,701.7 806.5,702.2 806.0,702.7 805.5,702.6 805.0,702.2 804.5,701.6 804.0,702.1 803.5,702.8 803.0,703.5 802.5,703.7 802.0,703.6 801.5,703.6 801.0,703.2 800.5,702.9 800.0,703.7 799.5,704.4 799.0,704.9 798.5,704.8 798.0,704.4 797.5,704.5 797.0,704.5 796.5,704.2 796.0,704.5 795.5,704.9 795.0,705.3 794.5,705.5 794.0,705.6 793.5,705.7 793.0,705.4 792.5,704.9 792.0,704.6 791.5,704.4 791.0,704.9 790.5,705.2 790.0,705.7 789.5,706.3 789.0,706.4 788.5,706.1 788.0,705.8 787.5,705.3 787.0,705.0 786.5,705.4 786.0,705.7 785.5,706.5 785.0,706.7 784.5,706.2 784.0,706.2 783.5,706.4 783.0,705.7 782.5,705.3 782.0,706.0 781.5,706.7 781.0,707.2 780.5,707.3 780.0,706.7 779.5,706.2 779.0,705.8 778.5,706.0 778.0,706.3 777.5,706.5 777.0,706.5 776.5,706.4 776.0,706.3 775.5,706.0 775.0,706.2 774.5,706.6 774.0,706.7 773.5,706.6 773.0,706.9 772.5,707.1 772.0,706.8 771.5,706.5 771.0,707.0 770.5,707.7 770.0,708.1 769.5,708.6 769.0,709.0 768.5,709.0 768.0,708.9 767.5,708.8 767.0,709.4 766.5,709.8 766.0,710.3 765.5,710.8 765.0,711.0 764.5,710.7 764.0,710.2 763.5,709.8 763.0,710.3 762.5,710.6 762.0,710.8 761.5,710.8 761.0,710.8 760.5,710.7 760.0,710.3 759.5,709.9 759.0,710.2 758.5,710.3 758.0,710.5 757.5,710.8 757.0,711.0 756.5,710.3 756.0,709.2 755.5,708.8 755.0,709.5 754.5,709.8 754.0,709.8 753.5,710.0 753.0,709.9 752.5,709.6 752.0,709.4 751.5,709.0 751.0,708.8 750.5,709.3 750.0,709.7 749.5,709.8 749.0,709.8 748.5,709.7 748.0,709.6 747.5,709.5 747.0,708.9 746.5,708.9 746.0,709.5 745.5,710.1 745.0,710.4 744.5,710.6 744.0,710.3 743.5,710.0 743.0,709.4 742.5,708.7 742.0,708.1 741.5,708.6 741.0,709.2 740.5,709.8 740.0,710.1 739.5,709.8 739.0,709.3 738.5,709.0 738.0,708.8 737.5,708.4 737.0,707.5 736.5,706.6 736.0,707.0 735.5,707.2 735.0,707.4 734.5,707.2 734.0,706.4 733.5,705.8 733.0,705.4 732.5,704.8 732.0,703.9 731.5,702.9 731.0,702.6 730.5,703.2 730.0,703.6 729.5,703.7 729.0,703.6 728.5,703.5 728.0,703.7 727.5,703.8 727.0,703.8 726.5,703.9 726.0,704.7 725.5,705.3 725.0,706.1 724.5,707.0 724.0,707.7 723.5,708.0 723.0,708.3 722.5,708.4 722.0,709.1 721.5,709.8 721.0,710.2 720.5,710.9 720.0,711.4 719.5,711.4 719.0,711.3 718.5,711.6 718.0,712.4 717.5,712.4 717.0,712.5 716.5,712.7 716.0,712.4 715.5,712.3 715.0,712.6 714.5,713.8 714.0,714.5 713.5,715.4 713.0,716.0 712.5,716.0 712.0,716.1 711.5,716.4 711.0,717.4 710.5,717.9 710.0,718.4 709.5,718.5 709.0,718.3 708.5,718.1 708.0,717.3 707.5,717.1 707.0,717.5 706.5,718.3 706.0,718.5 705.5,718.0 705.0,717.6 704.5,717.0 704.0,716.1 703.5,716.3 703.0,716.4 702.5,716.6 702.0,716.7 701.5,716.4 701.0,715.7 700.5,714.8 700.0,714.1 699.5,713.7 699.0,713.6 698.5,713.4 698.0,713.2 697.5,712.6 697.0,711.8 696.5,710.9 696.0,709.8 695.5,708.6 695.0,707.9 694.5,707.6 694.0,707.1 693.5,706.6 693.0,705.6 692.5,704.8 692.0,703.7 691.5,702.4 691.0,701.2 690.5,699.7 690.0,699.0 689.5,698.8 689.0,698.5 688.5,697.7 688.0,696.5 687.5,695.3 687.0,694.2 686.5,692.8 686.0,691.7 685.5,691.8 685.0,691.4 684.5,691.1 684.0,690.7 683.5,690.1 683.0,689.2 682.5,688.3 682.0,687.7 681.5,687.4 681.0,687.2 680.5,687.3 680.0,687.4 679.5,687.5 679.0,687.7 678.5,687.6 678.0,687.2 677.5,686.8 677.0,686.3 676.5,685.7 676.0,685.1 675.5,685.2 675.0,685.5 674.5,685.8 674.0,685.9 673.5,685.9 673.0,685.8 672.5,685.8 672.0,685.6 671.5,685.2 671.0,684.3 670.5,683.8 670.0,684.6 669.5,685.4 669.0,686.1 668.5,686.2 668.0,686.1 667.5,686.0 667.0,685.7 666.5,685.3 666.0,685.0 665.5,685.6 665.0,686.0 664.5,686.7 664.0,687.0 663.5,686.8 663.0,686.4 662.5,686.1 662.0,686.0 661.5,686.7 661.0,687.6 660.5,687.9 660.0,687.6 659.5,687.8 659.0,688.3 658.5,688.6 658.0,689.6 657.5,690.7 657.0,691.6 656.5,692.5 656.0,693.0 655.5,693.4 655.0,693.6 654.5,694.5 654.0,695.8 653.5,696.6 653.0,697.0 652.5,697.7 652.0,698.4 651.5,698.7 651.0,699.1 650.5,699.6 650.0,700.1 649.5,700.7 649.0,701.0 648.5,701.3 648.0,701.7 647.5,701.7 647.0,701.7 646.5,701.9 646.0,702.8 645.5,703.5 645.0,704.1 644.5,704.5 644.0,704.6 643.5,705.1 643.0,705.4 642.5,704.9 642.0,704.5 641.5,704.8 641.0,705.5 640.5,706.3 640.0,706.9 639.5,707.2 639.0,707.2 638.5,707.1 638.0,706.9 637.5,707.0 637.0,706.8 636.5,706.5 636.0,706.8 635.5,706.8 635.0,706.9 634.5,706.9 634.0,706.6 633.5,706.1 633.0,705.3 632.5,704.7 632.0,704.1 631.5,703.6 631.0,703.4 630.5,703.2 630.0,702.9 629.5,702.7 629.0,702.4 628.5,701.7 628.0,700.6 627.5,699.7 627.0,699.6 626.5,699.3 626.0,698.7 625.5,698.1 625.0,697.6 624.5,697.2 624.0,696.7 623.5,695.4 623.0,694.9 622.5,694.9 622.0,695.1 621.5,694.8 621.0,693.7 620.5,693.1 620.0,693.0 619.5,693.5 619.0,694.0 618.5,694.5 618.0,694.8 617.5,694.6 617.0,694.4 616.5,694.4 616.0,694.7 615.5,695.1 615.0,695.7 614.5,695.9 614.0,696.1 613.5,696.3 613.0,696.2 612.5,696.6 612.0,697.3 611.5,698.0 611.0,698.3 610.5,698.3 610.0,698.3 609.5,698.5 609.0,698.6 608.5,698.5 608.0,698.9 607.5,699.0 607.0,699.1 606.5,699.5 606.0,699.3 605.5,698.7 605.0,698.3 604.5,697.9 604.0,698.3 603.5,698.2 603.0,698.3 602.5,698.5 602.0,698.4 601.5,698.1 601.0,697.4 600.5,696.3 600.0,695.6 599.5,695.6 599.0,695.7 598.5,695.6 598.0,695.1 597.5,696.0 597.0,698.8 596.5,701.2 596.0,703.1 595.5,703.4 595.0,704.2 594.5,704.9 594.0,705.0 593.5,704.9 593.0,704.7 592.5,704.3 592.0,705.3 591.5,706.2 591.0,707.1 590.5,708.1 590.0,708.5 589.5,708.7 589.0,708.7 588.5,708.5 588.0,709.9 587.5,711.1 587.0,711.9 586.5,712.3 586.0,712.1 585.5,711.9 585.0,711.7 584.5,711.5 584.0,712.1 583.5,712.9 583.0,713.7 582.5,714.4 582.0,714.6 581.5,714.7 581.0,714.9 580.5,715.1 580.0,714.7 579.5,714.3 579.0,714.6 578.5,714.8 578.0,714.5 577.5,713.6 577.0,712.9 576.5,712.1 576.0,710.6 575.5,708.9 575.0,707.4 574.5,706.5 574.0,705.8 573.5,705.0 573.0,704.0 572.5,703.0 572.0,702.5 571.5,701.3 571.0,699.8 570.5,698.9 570.0,698.4 569.5,697.9 569.0,697.3 568.5,696.7 568.0,696.3 567.5,695.4 567.0,693.9 566.5,692.5 566.0,691.2 565.5,690.5 565.0,689.7 564.5,688.5 564.0,687.4 563.5,686.3 563.0,685.1 562.5,683.8 562.0,682.0 561.5,681.3 561.0,681.7 560.5,682.3 560.0,683.1 559.5,683.5 559.0,682.9 558.5,682.6 558.0,682.7 557.5,683.4 557.0,684.5 556.5,685.1 556.0,685.1 555.5,685.6 555.0,686.4 554.5,686.4 554.0,685.7 553.5,685.5 553.0,685.5 552.5,685.3 552.0,684.7 551.5,683.9 551.0,683.1 550.5,682.1 550.0,680.9 549.5,679.9 549.0,679.2 548.5,678.6 548.0,678.0 547.5,676.8 547.0,675.4 546.5,674.4 546.0,673.8 545.5,673.8 545.0,674.3 544.5,674.8 544.0,675.4 543.5,676.4 543.0,677.6 542.5,678.1 542.0,678.7 541.5,679.8 541.0,681.4 540.5,683.0 540.0,684.6 539.5,686.3 539.0,687.9 538.5,689.3 538.0,690.6 537.5,691.9 537.0,693.1 536.5,694.7 536.0,696.3 535.5,697.7 535.0,699.5 534.5,701.4 534.0,702.9 533.5,704.0 533.0,705.0 532.5,706.1 532.0,707.4 531.5,708.7 531.0,710.3 530.5,711.9 530.0,712.9 529.5,714.0 529.0,715.1 528.5,716.1 528.0,716.5 527.5,716.8 527.0,717.8 526.5,719.2 526.0,720.0 525.5,720.7 525.0,721.2 524.5,721.4 524.0,721.4 523.5,721.7 523.0,721.8 522.5,721.9 522.0,722.9 521.5,724.2 521.0,725.3 520.5,726.6 520.0,728.0 519.5,729.3 519.0,730.3 518.5,731.2 518.0,732.1 517.5,733.4 517.0,735.2 516.5,736.9 516.0,738.0 515.5,739.1 515.0,739.8 514.5,739.9 514.0,739.4 513.5,738.7 513.0,738.4 512.5,738.2 512.0,737.5 511.5,736.0 511.0,734.2 510.5,732.6 510.0,729.5 509.5,726.0 509.0,722.5 508.5,721.7 508.0,725.5 507.5,728.2 507.0,730.7 506.5,731.1 506.0,730.6 505.5,730.7 505.0,731.5 504.5,732.0 504.0,731.9 503.5,731.7 503.0,731.5 502.5,731.6 502.0,731.2 501.5,730.6 501.0,730.8 500.5,730.8 500.0,730.9 499.5,731.1 499.0,730.8 498.5,730.3 498.0,730.0 497.5,730.3 497.0,730.6 496.5,730.8 496.0,730.8 495.5,730.9 495.0,730.6 494.5,730.0 494.0,729.4 493.5,729.6 493.0,729.7 492.5,729.9 492.0,726.3 491.5,721.9 491.0,718.3 490.5,715.6 490.0,714.4 489.5,713.5 489.0,713.2 488.5,713.0 488.0,712.8 487.5,712.6 487.0,712.6 486.5,712.4 486.0,711.6 485.5,710.9 485.0,710.4 484.5,710.0 484.0,709.9 483.5,709.9 483.0,709.6 482.5,708.8 482.0,707.8 481.5,707.0 481.0,706.3 480.5,705.6 480.0,704.8 479.5,703.4 479.0,702.2 478.5,701.5 478.0,700.5 477.5,699.3 477.0,698.1 476.5,696.7 476.0,695.3 475.5,693.6 475.0,691.5 474.5,689.9 474.0,688.5 473.5,686.8 473.0,685.5 472.5,684.0 472.0,682.1 471.5,680.4 471.0,679.0 470.5,678.1 470.0,677.3 469.5,676.6 469.0,675.7 468.5,674.1 468.0,672.8 467.5,671.9 467.0,671.1 466.5,670.1 466.0,669.2 465.5,668.6 465.0,667.9 464.5,666.8 464.0,665.2 463.5,663.9 463.0,663.4 462.5,662.7 462.0,661.7 461.5,660.7 461.0,659.4 460.5,657.7 460.0,656.0 459.5,654.7 459.0,653.3 458.5,652.0 458.0,650.3 457.5,647.8 457.0,645.3 456.5,643.1 456.0,641.0 455.5,639.5 455.0,638.4 454.5,637.0 454.0,635.3 453.5,633.4 453.0,631.7 452.5,629.8 452.0,627.8 451.5,626.3 451.0,625.3 450.5,624.8 450.0,623.7 449.5,622.9 449.0,622.1 448.5,621.0 448.0,620.3 447.5,620.4 447.0,620.6 446.5,620.6 446.0,620.6 445.5,620.7 445.0,621.1 444.5,621.1 444.0,621.4 443.5,622.0 443.0,622.6 442.5,623.3 442.0,624.1 441.5,624.6 441.0,625.0 440.5,625.6 440.0,626.0 439.5,625.7 439.0,625.4 438.5,625.4 438.0,625.4 437.5,624.9 437.0,624.2 436.5,624.1 436.0,624.2 435.5,623.9 435.0,623.7 434.5,623.4 434.0,622.8 433.5,622.1 433.0,621.6 432.5,621.3 432.0,621.0 431.5,620.5 431.0,619.3 430.5,617.8 430.0,616.1 429.5,614.3 429.0,613.6 428.5,613.2 428.0,612.6 427.5,611.6 427.0,610.1 426.5,608.4 426.0,606.7 425.5,605.0 425.0,603.9 424.5,603.0 424.0,601.9 423.5,600.5 423.0,599.6 422.5,599.0 422.0,598.2 421.5,597.3 421.0,596.2 420.5,595.8 420.0,595.9 419.5,595.6 419.0,595.2 418.5,594.9 418.0,594.0 417.5,593.2 417.0,592.5 416.5,591.5 416.0,590.3 415.5,589.1 415.0,588.8 414.5,588.7 414.0,588.2 413.5,587.1 413.0,586.2 412.5,585.6 412.0,585.1 411.5,584.4 411.0,583.4 410.5,582.3 410.0,581.7 409.5,581.5 409.0,581.4 408.5,580.9 408.0,580.2 407.5,579.5 407.0,578.7 406.5,578.0 406.0,577.3 405.5,576.5 405.0,576.5 404.5,576.2 404.0,575.5 403.5,574.7 403.0,574.0 402.5,573.1 402.0,572.2 401.5,571.6 401.0,571.4 400.5,571.2 400.0,571.2 399.5,571.3 399.0,571.2 398.5,570.6 398.0,569.7 397.5,569.1 397.0,568.8 396.5,569.0 396.0,569.2 395.5,569.2 395.0,569.2 394.5,569.9 394.0,570.7 393.5,571.1 393.0,571.8 392.5,573.3 392.0,574.4 391.5,574.7 391.0,575.0 390.5,575.6 390.0,575.8 389.5,575.6 389.0,575.8 388.5,576.6 388.0,576.8 387.5,576.7 387.0,576.9 386.5,577.0 386.0,576.8 385.5,576.6 385.0,576.8 384.5,577.3 384.0,577.7 383.5,577.8 383.0,577.5 382.5,576.9 382.0,576.4 381.5,576.8 381.0,577.3 380.5,577.6 380.0,577.8 379.5,578.1 379.0,578.0 378.5,577.6 378.0,578.0 377.5,578.9 377.0,579.8 376.5,579.9 376.0,579.7 375.5,579.4 375.0,578.8 374.5,578.2 374.0,578.1 373.5,578.0 373.0,578.0 372.5,578.1 372.0,577.5 371.5,576.6 371.0,575.9 370.5,575.3 370.0,575.0 369.5,575.3 369.0,576.0 368.5,576.8 368.0,577.2 367.5,577.6 367.0,577.8 366.5,577.7 366.0,577.6 365.5,577.4 365.0,577.0 364.5,576.4 364.0,575.9 363.5,575.8 363.0,575.6 362.5,575.2 362.0,575.0 361.5,575.9 361.0,577.2 360.5,577.4 360.0,577.1 359.5,577.3 359.0,578.0 358.5,578.8 358.0,579.1 357.5,579.1 357.0,579.4 356.5,579.8 356.0,579.4 355.5,579.0 355.0,579.1 354.5,579.8 354.0,580.4 353.5,580.7 353.0,581.0 352.5,581.3 352.0,581.3 351.5,581.0 351.0,580.7 350.5,580.5 350.0,581.0 349.5,581.6 349.0,581.9 348.5,582.1 348.0,582.3 347.5,582.5 347.0,582.3 346.5,581.9 346.0,581.9 345.5,582.5 345.0,583.2 344.5,583.6 344.0,583.8 343.5,584.1 343.0,584.1 342.5,583.7 342.0,583.5 341.5,584.4 341.0,585.4 340.5,586.0 340.0,586.6 339.5,587.3 339.0,588.1 338.5,588.7 338.0,589.0 337.5,590.0 337.0,591.1 336.5,592.1 336.0,593.1 335.5,593.7 335.0,594.3 334.5,594.8 334.0,595.4 333.5,596.7 333.0,598.0 332.5,599.1 332.0,600.3 331.5,601.4 331.0,602.2 330.5,603.3 330.0,604.7 329.5,606.3 329.0,607.9 328.5,609.7 328.0,611.5 327.5,613.2 327.0,614.7 326.5,615.9 326.0,617.4 325.5,619.5 325.0,621.9 324.5,624.5 324.0,627.4 323.5,630.1 323.0,632.7 322.5,634.9 322.0,636.9 321.5,639.0 321.0,641.6 320.5,644.9 320.0,648.2 319.5,651.3 319.0,654.1 318.5,657.0 318.0,659.7 317.5,662.6 317.0,665.6 316.5,668.6 316.0,671.9 315.5,675.8 315.0,680.0 314.5,684.2 314.0,687.8 313.5,691.1 313.0,694.6 312.5,697.8 312.0,700.6 311.5,703.9 311.0,706.9 310.5,709.8 310.0,712.5 309.5,714.9 309.0,717.2 308.5,719.1 308.0,720.6 307.5,722.8 307.0,725.0 306.5,727.1 306.0,728.7 305.5,729.5 305.0,729.6 304.5,729.0 304.0,729.0 303.5,729.8 303.0,730.4 302.5,730.5 302.0,730.5 301.5,730.3 301.0,730.2 300.5,730.0 300.0,730.3 299.5,730.7 299.0,731.5 298.5,732.0 298.0,731.7 297.5,731.3 297.0,731.2 296.5,731.2 296.0,731.6 295.5,732.2 295.0,732.7 294.5,733.4 294.0,733.6 293.5,733.3 293.0,732.8 292.5,732.4 292.0,732.0 291.5,732.0 291.0,731.9 290.5,731.9 290.0,731.1 289.5,729.6 289.0,728.2 288.5,726.5 288.0,724.5 287.5,722.7 287.0,720.9 286.5,719.4 286.0,718.3 285.5,716.8 285.0,714.6 284.5,712.2 284.0,710.7 283.5,710.5 283.0,711.5 282.5,713.0 282.0,714.6 281.5,715.5 281.0,716.1 280.5,716.9 280.0,717.7 279.5,718.2 279.0,718.7 278.5,719.6 278.0,720.5 277.5,721.5 277.0,722.3 276.5,722.7 276.0,722.8 275.5,722.9 275.0,722.6 274.5,721.8 274.0,721.4 273.5,721.9 273.0,722.1 272.5,722.3 272.0,722.4 271.5,722.2 271.0,721.9 270.5,721.5 270.0,720.6 269.5,719.5 269.0,718.5 268.5,717.8 268.0,717.2 267.5,716.6 267.0,715.8 266.5,714.7 266.0,713.4 265.5,712.4 265.0,711.5 264.5,710.6 264.0,709.5 263.5,708.7 263.0,708.2 262.5,707.5 262.0,706.8 261.5,705.6 261.0,703.7 260.5,702.1 260.0,701.8 259.5,701.6 259.0,701.0 258.5,700.1 258.0,699.1 257.5,697.7 257.0,696.1 256.5,694.6 256.0,694.2 255.5,693.4 255.0,692.4 254.5,691.7 254.0,691.0 253.5,690.0 253.0,688.5 252.5,687.2 252.0,686.6 251.5,685.9 251.0,684.5 250.5,683.3 250.0,682.0 249.5,680.6 249.0,679.4 248.5,678.0 248.0,676.2 247.5,675.2 247.0,674.0 246.5,672.8 246.0,671.3 245.5,669.8 245.0,668.0 244.5,666.0 244.0,664.2 243.5,662.8 243.0,661.3 242.5,660.2 242.0,659.0 241.5,657.5 241.0,655.6 240.5,653.3 240.0,651.3 239.5,649.9 239.0,648.6 238.5,647.0 238.0,645.2 237.5,643.3 237.0,641.3 236.5,639.2 236.0,636.8 235.5,634.7 235.0,633.5 234.5,632.0 234.0,630.2 233.5,628.5 233.0,626.9 232.5,624.8 232.0,622.5 231.5,620.9 231.0,618.8 230.5,616.5 230.0,615.2 229.5,613.9 229.0,612.2 228.5,610.2 228.0,608.1 227.5,606.3 227.0,604.9 226.5,603.2 226.0,601.0 225.5,598.6 225.0,596.8 224.5,595.6 224.0,594.5 223.5,593.0 223.0,591.3 222.5,589.6 222.0,587.6 221.5,585.5 221.0,582.9 220.5,580.2 220.0,578.4 219.5,576.9 219.0,575.1 218.5,573.5 218.0,571.7 217.5,569.9 217.0,568.3 216.5,566.7 216.0,564.8 215.5,562.8 215.0,562.2 214.5,561.5 214.0,560.6 213.5,559.6 213.0,558.5 212.5,557.4 212.0,556.0 211.5,554.5 211.0,553.6 210.5,553.6 210.0,553.3 209.5,552.8 209.0,552.2 208.5,551.6 208.0,550.9 207.5,550.3 207.0,549.5 206.5,549.3 206.0,548.8 205.5,548.3 205.0,547.7 204.5,547.1 204.0,546.2 203.5,545.1 203.0,544.2 202.5,544.3 202.0,543.7 201.5,542.5 201.0,541.3 200.5,540.8 200.0,540.0 199.5,538.9 199.0,537.6 198.5,536.6 198.0,536.2 197.5,535.7 197.0,534.8 196.5,534.0 196.0,533.4 195.5,532.2 195.0,531.6 194.5,531.2 194.0,530.6 193.5,529.5 193.0,528.5 192.5,527.5 192.0,526.2 191.5,525.5 191.0,524.7 190.5,524.2 190.0,523.6 189.5,522.0 189.0,520.4 188.5,519.3 188.0,518.7 187.5,517.8 187.0,517.1 186.5,516.5 186.0,515.4 185.5,513.7 185.0,511.8 184.5,510.5 184.0,509.4 183.5,508.3 183.0,507.4 182.5,506.2 182.0,504.7 181.5,503.1 181.0,501.7 180.5,500.8 180.0,500.2 179.5,499.4 179.0,498.1 178.5,496.9 178.0,495.6 177.5,494.4 177.0,493.2 176.5,491.8 176.0,490.6 175.5,489.1 175.0,487.8 174.5,486.2 174.0,484.3 173.5,483.0 173.0,482.0 172.5,480.7 172.0,479.2 171.5,478.0 171.0,476.7 170.5,475.6 170.0,474.9 169.5,474.5 169.0,474.2 168.5,474.0 168.0,473.6 167.5,473.0 167.0,472.0 166.5,471.1 166.0,470.4 165.5,469.7 165.0,469.2" fill="#00ff00"/>
<polygon points="165.0,466.3 165.5,467.3 166.0,467.9 166.5,467.8 167.0,467.5 167.5,467.9 168.0,468.6 168.5,469.7 169.0,470.7 169.5,471.5 170.0,472.5 170.5,473.7 171.0,475.1 171.5,476.0 172.0,476.5 172.5,477.3 173.0,478.1 173.5,478.9 174.0,480.0 174.5,481.5 175.0,483.1 175.5,484.8 176.0,486.7 176.5,488.3 177.0,489.6 177.5,491.2 178.0,492.7 178.5,493.9 179.0,495.0 179.5,495.9 180.0,497.0 180.5,498.6 181.0,499.9 181.5,500.5 182.0,501.4 182.5,502.4 183.0,503.4 183.5,504.4 184.0,505.5 184.5,506.9 185.0,508.6 185.5,509.8 186.0,510.7 186.5,511.3 187.0,512.3 187.5,513.9 188.0,515.4 188.5,516.5 189.0,517.4 189.5,518.8 190.0,519.5 190.5,520.1 191.0,521.5 191.5,523.1 192.0,524.5 192.5,524.8 193.0,525.4 193.5,526.4 194.0,527.4 194.5,528.6 195.0,529.7 195.5,530.9 196.0,531.5 196.5,532.0 197.0,532.6 197.5,533.3 198.0,534.2 198.5,535.3 199.0,536.3 199.5,537.3 200.0,538.2 200.5,538.9 201.0,539.4 201.5,540.0 202.0,541.0 202.5,542.1 203.0,543.1 203.5,543.3 204.0,543.6 204.5,544.0 205.0,544.5 205.5,545.1 206.0,545.9 206.5,546.4 207.0,547.0 207.5,547.0 208.0,547.2 208.5,547.2 209.0,547.1 209.5,547.6 210.0,548.6 210.5,549.7 211.0,550.9 211.5,550.8 212.0,550.9 212.5,551.5 213.0,552.2 213.5,553.1 214.0,554.2 214.5,555.4 215.0,556.8 215.5,558.5 216.0,559.3 216.5,560.0 217.0,560.9 217.5,562.2 218.0,563.8 218.5,565.8 219.0,568.2 219.5,570.6 220.0,572.7 220.5,574.5 221.0,576.2 221.5,578.1 222.0,580.0 222.5,582.1 223.0,584.2 223.5,586.6 224.0,588.4 224.5,590.0 225.0,592.2 225.5,594.2 226.0,595.3 226.5,596.9 227.0,598.6 227.5,600.3 228.0,602.1 228.5,603.9 229.0,606.2 229.5,608.4 230.0,610.3 230.5,612.2 231.0,613.9 231.5,615.4 232.0,617.1 232.5,618.9 233.0,620.5 233.5,622.2 234.0,624.0 234.5,625.8 235.0,627.7 235.5,629.9 236.0,631.5 236.5,633.0 237.0,634.6 237.5,636.3 238.0,637.9 238.5,639.9 239.0,642.1 239.5,644.3 240.0,646.2 240.5,647.8 241.0,649.5 241.5,651.3 242.0,653.0 242.5,654.7 243.0,656.9 243.5,659.1 244.0,660.9 244.5,662.2 245.0,663.6 245.5,665.4 246.0,667.2 246.5,668.6 247.0,670.1 247.5,671.9 248.0,673.9 248.5,675.0 249.0,675.8 249.5,676.9 250.0,678.2 250.5,679.6 251.0,681.0 251.5,682.2 252.0,683.5 252.5,684.7 253.0,685.7 253.5,686.8 254.0,687.6 254.5,688.5 255.0,689.1 255.5,689.8 256.0,691.0 256.5,692.1 257.0,692.6 257.5,693.2 258.0,693.9 258.5,694.8 259.0,695.9 259.5,697.4 260.0,698.9 260.5,700.3 261.0,701.1 261.5,701.6 262.0,702.4 262.5,703.3 263.0,704.1 263.5,705.1 264.0,706.4 264.5,707.7 265.0,708.8 265.5,709.3 266.0,710.1 266.5,710.9 267.0,711.6 267.5,712.4 268.0,713.0 268.5,713.9 269.0,715.4 269.5,717.0 270.0,718.0 270.5,718.4 271.0,719.0 271.5,719.7 272.0,720.0 272.5,720.0 273.0,720.2 273.5,720.4 274.0,720.6 274.5,720.4 275.0,720.4 275.5,720.5 276.0,720.3 276.5,719.6 277.0,719.0 277.5,718.4 278.0,717.9 278.5,717.4 279.0,716.8 279.5,715.5 280.0,714.1 280.5,713.5 281.0,712.7 281.5,711.4 282.0,710.5 282.5,710.2 283.0,710.1 283.5,710.0 284.0,709.5 284.5,709.2 285.0,709.7 285.5,710.9 286.0,712.8 286.5,714.4 287.0,715.7 287.5,717.8 288.0,719.8 288.5,721.4 289.0,723.1 289.5,724.6 290.0,725.9 290.5,727.2 291.0,728.5 291.5,729.7 292.0,730.8 292.5,730.8 293.0,730.4 293.5,730.1 294.0,729.8 294.5,729.8 295.0,730.2 295.5,730.3 296.0,730.1 296.5,730.0 297.0,729.8 297.5,729.6 298.0,729.1 298.5,728.8 299.0,729.1 299.5,729.4 300.0,729.7 300.5,729.9 301.0,729.5 301.5,729.1 302.0,728.8 302.5,728.5 303.0,728.6 303.5,728.6 304.0,728.4 304.5,728.3 305.0,727.5 305.5,725.9 306.0,723.7 306.5,721.4 307.0,719.4 307.5,717.5 308.0,715.8 308.5,713.6 309.0,710.9 309.5,708.3 310.0,706.2 310.5,703.7 311.0,701.1 311.5,698.7 312.0,695.8 312.5,691.9 313.0,688.2 313.5,684.3 314.0,680.2 314.5,676.4 315.0,673.1 315.5,669.7 316.0,666.2 316.5,662.4 317.0,659.0 317.5,655.9 318.0,652.2 318.5,648.5 319.0,645.8 319.5,643.1 320.0,640.1 320.5,637.9 321.0,636.0 321.5,633.1 322.0,629.9 322.5,627.0 323.0,624.4 323.5,621.9 324.0,619.5 324.5,617.6 325.0,615.5 325.5,613.9 326.0,612.5 326.5,610.5 327.0,608.7 327.5,607.4 328.0,605.9 328.5,604.7 329.0,603.7 329.5,602.6 330.0,601.5 330.5,600.3 331.0,599.1 331.5,597.9 332.0,596.6 332.5,595.6 333.0,594.9 333.5,594.0 334.0,593.3 334.5,592.5 335.0,591.6 335.5,590.5 336.0,589.3 336.5,588.6 337.0,588.2 337.5,587.8 338.0,587.4 338.5,586.5 339.0,585.5 339.5,584.6 340.0,583.8 340.5,583.3 341.0,583.1 341.5,582.9 342.0,582.5 342.5,581.7 343.0,581.1 343.5,580.4 344.0,580.0 344.5,580.1 345.0,580.0 345.5,580.1 346.0,580.5 346.5,580.2 347.0,579.7 347.5,579.2 348.0,579.0 348.5,578.9 349.0,578.9 349.5,578.9 350.0,579.2 350.5,579.6 351.0,579.1 351.5,578.4 352.0,577.8 352.5,577.6 353.0,577.7 353.5,577.7 354.0,577.9 354.5,578.0 355.0,577.7 355.5,577.1 356.0,576.8 356.5,576.4 357.0,576.0 357.5,575.9 358.0,576.3 358.5,576.5 359.0,576.5 359.5,576.6 360.0,576.1 360.5,574.8 361.0,573.4 361.5,572.4 362.0,572.2 362.5,572.7 363.0,573.3 363.5,573.9 364.0,574.7 364.5,574.9 365.0,575.4 365.5,576.2 366.0,576.1 366.5,575.3 367.0,575.0 367.5,574.7 368.0,574.2 368.5,574.3 369.0,574.7 369.5,574.6 370.0,574.6 370.5,574.2 371.0,573.9 371.5,573.8 372.0,573.8 372.5,573.8 373.0,574.4 373.5,575.4 374.0,575.9 374.5,576.3 375.0,576.7 375.5,576.8 376.0,576.4 376.5,575.8 377.0,575.8 377.5,576.1 378.0,576.1 378.5,576.2 379.0,575.6 379.5,575.2 380.0,574.8 380.5,574.7 381.0,575.2 381.5,575.9 382.0,576.3 382.5,576.0 383.0,575.9 383.5,575.6 384.0,575.4 384.5,575.8 385.0,576.3 385.5,576.6 386.0,576.1 386.5,576.2 387.0,576.7 387.5,576.7 388.0,576.5 388.5,576.3 389.0,575.8 389.5,575.1 390.0,574.4 390.5,573.8 391.0,573.4 391.5,573.2 392.0,572.6 392.5,572.1 393.0,571.4 393.5,569.8 394.0,568.7 394.5,568.1 395.0,567.7 395.5,567.7 396.0,568.0 396.5,568.2 397.0,568.8 397.5,568.7 398.0,568.0 398.5,567.7 399.0,568.0 399.5,568.3 400.0,568.6 400.5,569.1 401.0,569.9 401.5,570.7 402.0,570.6 402.5,570.3 403.0,570.1 403.5,570.2 404.0,570.9 404.5,572.1 405.0,573.2 405.5,574.1 406.0,574.5 406.5,574.4 407.0,574.4 407.5,574.9 408.0,575.6 408.5,576.2 409.0,577.1 409.5,578.0 410.0,579.1 410.5,580.0 411.0,580.3 411.5,580.5 412.0,580.4 412.5,580.7 413.0,581.4 413.5,582.3 414.0,583.4 414.5,584.4 415.0,585.6 415.5,586.8 416.0,587.4 416.5,587.8 417.0,588.0 417.5,588.8 418.0,589.5 418.5,590.0 419.0,590.9 419.5,591.9 420.0,592.5 420.5,593.0 421.0,594.0 421.5,594.5 422.0,594.8 422.5,595.3 423.0,595.9 423.5,596.3 424.0,597.0 424.5,598.0 425.0,599.4 425.5,601.0 426.0,601.8 426.5,602.6 427.0,603.8 427.5,605.2 428.0,606.5 428.5,607.6 429.0,609.1 429.5,610.8 430.0,611.8 430.5,612.7 431.0,613.9 431.5,615.3 432.0,616.5 432.5,617.7 433.0,619.0 433.5,619.8 434.0,620.1 434.5,620.3 435.0,620.7 435.5,621.5 436.0,622.3 436.5,622.6 437.0,623.0 437.5,623.5 438.0,623.7 438.5,623.6 439.0,624.0 439.5,624.6 440.0,624.4 440.5,623.8 441.0,623.5 441.5,622.7 442.0,621.6 442.5,620.8 443.0,620.3 443.5,620.0 444.0,620.0 444.5,619.9 445.0,619.8 445.5,619.9 446.0,619.6 446.5,619.4 447.0,618.9 447.5,618.5 448.0,618.3 448.5,618.3 449.0,618.9 449.5,619.8 450.0,620.6 450.5,621.4 451.0,622.2 451.5,622.9 452.0,623.7 452.5,624.5 453.0,625.6 453.5,626.9 454.0,628.5 454.5,630.4 455.0,632.5 455.5,634.7 456.0,636.5 456.5,637.9 457.0,639.3 457.5,640.7 458.0,642.1 458.5,643.9 459.0,646.1 459.5,648.4 460.0,650.5 460.5,651.6 461.0,652.8 461.5,654.1 462.0,655.4 462.5,656.9 463.0,658.5 463.5,659.9 464.0,660.9 464.5,661.5 465.0,662.1 465.5,663.1 466.0,664.1 466.5,665.4 467.0,667.4 467.5,668.8 468.0,669.1 468.5,669.6 469.0,670.7 469.5,671.8 470.0,673.3 470.5,674.9 471.0,675.8 471.5,676.4 472.0,677.5 472.5,678.7 473.0,679.9 473.5,681.6 474.0,683.7 474.5,685.8 475.0,687.4 475.5,688.9 476.0,690.6 476.5,692.1 477.0,693.4 477.5,694.7 478.0,696.4 478.5,698.2 479.0,700.0 479.5,701.6 480.0,702.7 480.5,703.4 481.0,704.0 481.5,704.6 482.0,705.3 482.5,705.9 483.0,706.6 483.5,707.3 484.0,708.2 484.5,709.2 485.0,709.8 485.5,710.0 486.0,710.1 486.5,710.4 487.0,710.7 487.5,711.1 488.0,711.8 488.5,712.2 489.0,712.2 489.5,712.6 490.0,713.1 490.5,713.2 491.0,712.8 491.5,715.9 492.0,720.3 492.5,724.2 493.0,727.1 493.5,727.9 494.0,728.7 494.5,729.3 495.0,729.6 495.5,729.4 496.0,729.0 496.5,729.1 497.0,729.4 497.5,729.7 498.0,729.8 498.5,729.5 499.0,729.3 499.5,728.9 500.0,728.7 500.5,728.9 501.0,729.3 501.5,729.9 502.0,729.8 502.5,729.8 503.0,729.9 503.5,729.8 504.0,729.9 504.5,730.0 505.0,729.8 505.5,729.3 506.0,728.1 506.5,726.3 507.0,723.3 507.5,720.5 508.0,717.7 508.5,718.3 509.0,718.4 509.5,719.8 510.0,722.9 510.5,725.8 511.0,727.8 511.5,729.3 512.0,731.1 512.5,733.2 513.0,735.2 513.5,736.6 514.0,737.1 514.5,736.5 515.0,735.6 515.5,734.4 516.0,733.0 516.5,732.0 517.0,731.0 517.5,730.2 518.0,729.6 518.5,728.2 519.0,726.5 519.5,725.0 520.0,723.9 520.5,723.1 521.0,722.2 521.5,721.4 522.0,721.1 522.5,721.1 523.0,720.8 523.5,720.3 524.0,720.0 524.5,719.9 525.0,719.6 525.5,718.7 526.0,717.8 526.5,717.3 527.0,716.8 527.5,715.9 528.0,714.6 528.5,713.2 529.0,711.5 529.5,710.1 530.0,709.1 530.5,708.0 531.0,706.7 531.5,705.4 532.0,704.3 532.5,703.0 533.0,701.1 533.5,699.3 534.0,697.7 534.5,696.2 535.0,694.8 535.5,693.3 536.0,691.7 536.5,690.2 537.0,689.2 537.5,687.7 538.0,686.2 538.5,684.7 539.0,682.8 539.5,680.9 540.0,679.6 540.5,678.8 541.0,677.9 541.5,676.9 542.0,675.9 542.5,674.9 543.0,673.9 543.5,673.2 544.0,672.7 544.5,672.4 545.0,672.4 545.5,672.6 546.0,672.3 546.5,672.1 547.0,672.3 547.5,673.2 548.0,674.7 548.5,676.3 549.0,677.4 549.5,678.1 550.0,678.8 550.5,679.6 551.0,680.5 551.5,681.4 552.0,681.8 552.5,682.5 553.0,683.5 553.5,684.5 554.0,684.8 554.5,684.4 555.0,683.7 555.5,683.0 556.0,682.5 556.5,682.0 557.0,681.3 557.5,680.8 558.0,680.5 558.5,679.9 559.0,679.4 559.5,678.8 560.0,678.3 560.5,678.3 561.0,678.5 561.5,679.0 562.0,679.8 562.5,679.7 563.0,679.9 563.5,680.5 564.0,681.7 564.5,683.0 565.0,684.3 565.5,685.8 566.0,687.4 566.5,688.3 567.0,689.1 567.5,689.9 568.0,691.0 568.5,692.4 569.0,693.8 569.5,695.1 570.0,696.1 570.5,696.8 571.0,697.3 571.5,698.2 572.0,698.7 572.5,699.0 573.0,699.8 573.5,701.0 574.0,702.2 574.5,703.5 575.0,704.5 575.5,705.3 576.0,706.4 576.5,707.3 577.0,708.4 577.5,709.8 578.0,711.0 578.5,712.1 579.0,712.9 579.5,713.4 580.0,712.9 580.5,712.4 581.0,711.8 581.5,710.8 582.0,710.0 582.5,709.8 583.0,710.0 583.5,709.9 584.0,709.6 584.5,709.2 585.0,708.4 585.5,707.3 586.0,706.0 586.5,705.3 587.0,705.1 587.5,705.0 588.0,705.0 588.5,705.1 589.0,703.6 589.5,702.5 590.0,702.1 590.5,701.5 591.0,700.9 591.5,700.7 592.0,701.2 592.5,702.1 593.0,701.0 593.5,699.5 594.0,698.5 594.5,698.1 595.0,698.0 595.5,697.7 596.0,696.2 596.5,693.7 597.0,690.4 597.5,688.9 598.0,689.4 598.5,689.3 599.0,689.8 599.5,691.1 600.0,692.7 600.5,693.4 601.0,693.6 601.5,694.1 602.0,694.3 602.5,694.5 603.0,695.0 603.5,695.6 604.0,696.4 604.5,696.7 605.0,696.3 605.5,696.1 606.0,696.1 606.5,696.3 607.0,696.4 607.5,696.5 608.0,696.9 608.5,697.5 609.0,697.2 609.5,696.6 610.0,695.9 610.5,695.2 611.0,694.7 611.5,694.2 612.0,694.0 612.5,694.3 613.0,693.9 613.5,693.1 614.0,692.4 614.5,691.9 615.0,691.6 615.5,691.8 616.0,692.4 616.5,692.3 617.0,691.1 617.5,690.9 618.0,691.0 618.5,690.9 619.0,691.0 619.5,691.3 620.0,691.6 620.5,691.1 621.0,690.8 621.5,690.6 622.0,690.9 622.5,691.6 623.0,692.4 623.5,693.4 624.0,693.6 624.5,693.9 625.0,694.3 625.5,694.5 626.0,694.9 626.5,695.5 627.0,696.3 627.5,697.4 628.0,698.0 628.5,698.3 629.0,698.3 629.5,698.6 630.0,699.5 630.5,700.0 631.0,700.4 631.5,701.3 632.0,702.0 632.5,701.6 633.0,701.2 633.5,701.3 634.0,701.9 634.5,702.5 635.0,702.9 635.5,703.6 636.0,704.2 636.5,704.3 637.0,704.2 637.5,704.2 638.0,703.9 638.5,703.5 639.0,703.2 639.5,703.1 640.0,703.2 640.5,703.5 641.0,703.1 641.5,703.0 642.0,703.0 642.5,702.7 643.0,702.0 643.5,701.4 644.0,701.0 644.5,700.8 645.0,700.7 645.5,700.6 646.0,700.6 646.5,701.1 647.0,700.9 647.5,700.2 648.0,699.7 648.5,699.5 649.0,698.7 649.5,698.3 650.0,698.2 650.5,698.0 651.0,697.9 651.5,697.1 652.0,695.9 652.5,695.2 653.0,694.7 653.5,693.8 654.0,693.3 654.5,693.1 655.0,692.4 655.5,691.5 656.0,690.6 656.5,689.4 657.0,688.5 657.5,687.7 658.0,687.1 658.5,686.8 659.0,685.9 659.5,685.2 660.0,684.6 660.5,684.0 661.0,683.9 661.5,684.2 662.0,684.4 662.5,683.7 663.0,682.9 663.5,682.3 664.0,681.8 664.5,681.6 665.0,682.1 665.5,682.9 666.0,683.4 666.5,682.5 667.0,681.6 667.5,681.0 668.0,680.6 668.5,680.4 669.0,680.1 669.5,680.2 670.0,681.1 670.5,681.9 671.0,681.4 671.5,680.7 672.0,680.3 672.5,679.9 673.0,679.3 673.5,679.4 674.0,680.0 674.5,680.6 675.0,681.3 675.5,682.1 676.0,682.7 676.5,682.1 677.0,681.7 677.5,681.8 678.0,681.9 678.5,682.2 679.0,682.6 679.5,683.0 680.0,683.9 680.5,684.9 681.0,685.8 681.5,686.1 682.0,685.9 682.5,685.8 683.0,686.0 683.5,686.4 684.0,686.8 684.5,686.9 685.0,687.2 685.5,688.2 686.0,689.6 686.5,690.0 687.0,690.5 687.5,691.0 688.0,691.4 688.5,692.4 689.0,693.7 689.5,694.9 690.0,696.1 690.5,697.6 691.0,698.0 691.5,698.2 692.0,698.7 692.5,699.4 693.0,700.5 693.5,701.6 694.0,702.8 694.5,704.5 695.0,706.0 695.5,706.2 696.0,706.4 696.5,706.8 697.0,707.1 697.5,707.7 698.0,708.2 698.5,708.7 699.0,709.7 699.5,711.0 700.0,711.7 700.5,711.7 701.0,711.5 701.5,711.3 702.0,711.5 702.5,712.6 703.0,713.4 703.5,713.7 704.0,714.4 704.5,714.1 705.0,713.6 705.5,713.3 706.0,713.5 706.5,714.0 707.0,714.6 707.5,715.1 708.0,715.3 708.5,714.7 709.0,714.6 709.5,714.6 710.0,714.5 710.5,714.3 711.0,714.2 711.5,714.1 712.0,713.0 712.5,712.0 713.0,711.1 713.5,710.4 714.0,710.4 714.5,710.7 715.0,710.8 715.5,709.8 716.0,709.0 716.5,708.6 717.0,708.3 717.5,708.2 718.0,708.7 718.5,709.3 719.0,708.6 719.5,707.8 720.0,707.2 720.5,706.8 721.0,706.5 721.5,706.4 722.0,706.7 722.5,706.7 723.0,705.5 723.5,704.5 724.0,704.0 724.5,703.5 725.0,703.1 725.5,703.0 726.0,703.0 726.5,702.8 727.0,702.3 727.5,701.9 728.0,701.2 728.5,700.5 729.0,700.4 729.5,700.2 730.0,700.1 730.5,700.4 731.0,701.0 731.5,701.0 732.0,700.4 732.5,699.8 733.0,699.7 733.5,699.5 734.0,699.3 734.5,699.4 735.0,700.0 735.5,700.7 736.0,701.3 736.5,702.1 737.0,701.7 737.5,701.3 738.0,700.8 738.5,700.6 739.0,700.8 739.5,701.0 740.0,701.2 740.5,701.8 741.0,702.5 741.5,703.3 742.0,704.3 742.5,704.1 743.0,703.6 743.5,703.3 744.0,703.4 744.5,703.6 745.0,703.9 745.5,704.3 746.0,704.8 746.5,705.2 747.0,705.4 747.5,705.3 748.0,705.4 748.5,705.1 749.0,704.8 749.5,705.0 750.0,705.4 750.5,705.9 751.0,706.5 751.5,706.7 752.0,706.4 752.5,706.1 753.0,705.9 753.5,706.1 754.0,706.4 754.5,706.8 755.0,707.3 755.5,707.7 756.0,707.2 756.5,706.8 757.0,706.5 757.5,706.2 758.0,706.3 758.5,707.0 759.0,707.7 759.5,708.6 760.0,708.2 760.5,707.6 761.0,707.5 761.5,707.5 762.0,707.6 762.5,707.8 763.0,708.3 763.5,709.1 764.0,708.9 764.5,708.6 765.0,707.9 765.5,707.6 766.0,707.7 766.5,707.6 767.0,707.5 767.5,707.7 768.0,707.1 768.5,706.4 769.0,705.7 769.5,705.5 770.0,705.8 770.5,705.9 771.0,705.8 771.5,705.7 772.0,705.2 772.5,704.9 773.0,704.6 773.5,704.5 774.0,704.6 774.5,704.8 775.0,705.2 775.5,705.0 776.0,704.6 776.5,704.4 777.0,704.3 777.5,704.2 778.0,704.3 778.5,704.7 779.0,705.2 779.5,704.8 780.0,704.2 780.5,703.7 781.0,703.8 781.5,704.1 782.0,704.1 782.5,704.1 783.0,704.0 783.5,703.5 784.0,702.8 784.5,702.4 785.0,702.3 785.5,702.4 786.0,702.8 786.5,703.6 787.0,703.8 787.5,702.8 788.0,702.0 788.5,701.5 789.0,701.1 789.5,701.1 790.0,701.3 790.5,701.6 791.0,702.2 791.5,702.5 792.0,702.2 792.5,702.0 793.0,701.4 793.5,701.0 794.0,701.0 794.5,700.8 795.0,700.6 795.5,700.8 796.0,701.1 796.5,701.2 797.0,701.0 797.5,700.3 798.0,699.5 798.5,699.1 799.0,699.1 799.5,699.6 800.0,700.0 800.5,700.6 801.0,700.3 801.5,699.5 802.0,699.0 802.5,698.9 803.0,698.9 803.5,699.2 804.0,699.7 804.5,700.3 805.0,699.8 805.5,699.1 806.0,698.7 806.5,698.8 807.0,699.0 807.5,699.2 808.0,699.3 808.5,699.1 809.0,698.8 809.5,698.6 810.0,698.3 810.5,698.1 811.0,698.0 811.5,698.4 812.0,698.9 812.5,698.5 813.0,698.0 813.5,697.9 814.0,698.1 814.5,698.3 815.0,698.6 815.5,698.9 816.0,699.1 816.5,699.0 817.0,698.5 817.5,698.2 818.0,697.9 818.5,697.7 819.0,697.9 819.5,697.9 820.0,697.9 820.5,698.0 821.0,698.7 821.5,699.2 822.0,698.9 822.5,698.6 823.0,698.3 823.5,698.3 824.0,698.4 824.5,698.2 825.0,698.4 825.5,698.5 826.0,698.6 826.5,698.8 827.0,698.6 827.5,698.3 828.0,698.2 828.5,697.7 829.0,697.5 829.5,697.1 830.0,696.6 830.5,697.0 831.0,697.6 831.5,697.8 832.0,697.2 832.5,696.4 833.0,695.6 833.5,695.2 834.0,695.2 834.5,695.6 835.0,696.3 835.5,696.9 836.0,697.1 836.5,695.8 837.0,694.9 837.5,694.8 838.0,695.0 838.5,694.9 839.0,695.4 839.5,696.8 840.0,696.8 840.5,695.7 841.0,694.9 841.5,694.9 842.0,695.5 842.5,696.2 843.0,696.9 843.5,697.4 844.0,696.0 844.5,693.4 845.0,690.6 845.5,688.1 846.0,686.4 846.5,685.3 847.0,684.6 847.5,682.1 848.0,679.2 848.5,676.9 849.0,675.1 849.5,673.3 850.0,671.5 850.5,670.0 851.0,669.1 851.5,667.1 852.0,664.9 852.5,662.8 853.0,661.1 853.5,659.7 854.0,658.3 854.5,656.9 855.0,655.8 855.5,654.5 856.0,652.5 856.5,650.2 857.0,648.2 857.5,646.6 858.0,644.8 858.5,643.1 859.0,642.1 859.5,641.3 860.0,640.1 860.5,638.2 861.0,636.6 861.5,635.3 862.0,634.3 862.5,633.4 863.0,632.6 863.5,631.9 864.0,631.4 864.5,630.7 865.0,630.2 865.5,629.9 866.0,629.5 866.5,628.8 867.0,628.4 867.5,628.4 868.0,628.3 868.5,628.5 869.0,629.1 869.5,629.9 870.0,630.5 870.5,630.3 871.0,630.4 871.5,630.6 872.0,631.3 872.5,632.5 873.0,633.8 873.5,635.2 874.0,637.0 874.5,639.3 875.0,640.9 875.5,641.9 876.0,642.5 876.5,643.4 877.0,644.7 877.5,646.3 878.0,648.1 878.5,649.8 879.0,651.1 879.5,652.5 880.0,653.3 880.5,653.8 881.0,654.3 881.5,655.0 882.0,655.6 882.5,656.4 883.0,657.7 883.5,658.8 884.0,659.7 884.5,659.6 885.0,659.7 885.5,659.6 886.0,659.6 886.5,660.4 887.0,661.4 887.5,662.4 888.0,663.9 888.5,665.2 889.0,665.0 889.5,665.1 890.0,665.5 890.5,666.0 891.0,666.6 891.5,667.5 892.0,669.1 892.5,670.8 893.0,670.9 893.5,670.7 894.0,671.1 894.5,671.6 895.0,672.3 895.5,673.6 896.0,674.8 896.5,676.1 897.0,676.2 897.5,676.4 898.0,676.8 898.5,677.5 899.0,678.5 899.5,679.7 900.0,680.9 900.5,681.9 901.0,682.0 901.5,682.4 902.0,683.3 902.5,684.5 903.0,685.8 903.5,687.5 904.0,689.2 904.5,689.6 905.0,689.4 905.5,689.6 906.0,689.9 906.5,690.3 907.0,691.0 907.5,691.9 908.0,693.0 908.5,693.0 909.0,692.7 909.5,692.6 910.0,692.7 910.5,692.9 911.0,693.2 911.5,693.5 912.0,693.9 912.5,694.1 913.0,693.9 913.5,694.0 914.0,694.1 914.5,694.3 915.0,694.4 915.5,694.2 916.0,694.9 916.5,695.7 917.0,695.8 917.5,695.1 918.0,694.7 918.5,694.3 919.0,694.1 919.5,694.2 920.0,694.3 920.5,694.5 921.0,694.9 921.5,695.2 922.0,694.7 922.5,694.1 923.0,693.6 923.5,693.4 924.0,693.3 924.5,693.6 925.0,694.1 925.5,694.4 926.0,694.7 926.5,694.4 927.0,693.9 927.5,693.9 928.0,693.8 928.5,693.7 929.0,694.2 929.5,694.7 930.0,695.1 930.5,695.4 931.0,695.1 931.5,694.4 932.0,694.1 932.5,694.4 933.0,694.4 933.5,694.5 934.0,694.8 934.5,695.1 935.0,695.6 935.5,695.2 936.0,694.3 936.5,694.0 937.0,693.7 937.5,693.4 938.0,693.5 938.5,693.7 939.0,693.9 939.5,693.0 940.0,692.0 940.5,691.5 941.0,691.1 941.5,690.6 942.0,690.6 942.5,690.8 943.0,691.2 943.5,691.1 944.0,690.5 944.5,689.9 945.0,689.3 945.5,688.6 946.0,688.4 946.5,688.6 947.0,689.4 947.5,689.9 948.0,688.9 948.5,687.9 949.0,687.4 949.5,687.3 950.0,687.5 950.5,687.8 951.0,688.4 951.5,689.6 952.0,689.3 952.5,688.0 953.0,687.3 953.5,687.3 954.0,687.6 954.5,688.2 955.0,689.1 955.5,689.9 956.0,690.5 956.5,689.8 957.0,689.4 957.5,689.1 958.0,689.0 958.5,689.1 959.0,689.4 959.5,689.9 960.0,690.7 960.5,691.1 961.0,690.4 961.5,689.9 962.0,689.8 962.5,689.7 963.0,689.6 963.5,689.4 964.0,689.5 964.5,690.3 965.0,690.7 965.5,690.1 966.0,689.6 966.5,689.1 967.0,688.8 967.5,688.5 968.0,688.4 968.5,688.7 969.0,689.4 969.5,689.4 970.0,688.5 970.5,688.1 971.0,687.8 971.5,687.6 972.0,687.8 972.5,688.5 973.0,689.2 973.5,689.5 974.0,688.5 974.5,687.8 975.0,687.6 975.5,687.8 976.0,687.9 976.5,688.5 977.0,689.1 977.5,689.5 978.0,688.9 978.5,688.5 979.0,688.4 979.5,688.2 980.0,687.9 980.5,687.8 981.0,688.4 981.5,689.4 982.0,688.9 982.5,688.0 983.0,687.6 983.5,687.1 984.0,687.1 984.5,687.3 985.0,687.4 985.5,687.7 986.0,687.9 986.5,687.9 987.0,687.3 987.5,686.7 988.0,686.1 988.5,685.8 989.0,685.4 989.5,685.4 990.0,686.2 990.5,687.1 991.0,688.1 991.5,688.0 992.0,687.0 992.5,686.2 993.0,685.8 993.5,685.8 994.0,686.0 994.5,686.3 995.0,686.7 995.5,687.2 996.0,688.0 996.5,687.7 997.0,686.9 997.5,686.0 998.0,685.9 998.5,686.2 999.0,686.0 999.5,686.2 1000.0,687.2 1000.5,687.9 1001.0,688.1 1001.5,687.0 1002.0,686.4 1002.5,686.0 1003.0,685.7 1003.5,685.7 1004.0,686.1 1004.5,686.6 1005.0,687.2 1005.5,687.8 1006.0,688.0 1006.5,687.7 1007.0,687.2 1007.5,686.8 1008.0,686.7 1008.5,687.0 1009.0,687.3 1009.5,687.9 1010.0,688.7 1010.5,689.3 1011.0,688.5 1011.5,687.8 1012.0,687.4 1012.5,687.4 1013.0,687.8 1013.5,688.2 1014.0,688.6 1014.5,689.1 1015.0,689.1 1015.5,688.4 1016.0,687.5 1016.5,686.8 1017.0,686.1 1017.5,685.5 1018.0,685.4 1018.5,685.5 1019.0,685.2 1019.5,683.9 1020.0,683.2 1020.5,682.7 1021.0,682.3 1021.5,682.2 1022.0,682.3 1022.5,682.6 1023.0,681.6 1023.5,680.9 1024.0,680.5 1024.5,680.4 1025.0,680.5 1025.5,681.3 1026.0,682.5 1026.5,681.8 1027.0,680.9 1027.5,681.0 1028.0,681.7 1028.5,682.1 1029.0,682.3 1029.5,682.3 1030.0,681.8 1030.5,681.8 1031.0,681.7 1031.5,682.0 1032.0,682.6 1032.5,683.4 1033.0,683.4 1033.5,682.7 1034.0,682.6 1034.5,682.2 1035.0,682.3 1035.5,683.0 1036.0,683.8 1036.5,684.5 1037.0,683.8 1037.5,683.4 1038.0,683.2 1038.5,683.1 1039.0,683.6 1039.5,684.5 1040.0,685.4 1040.5,686.5 1041.0,687.1 1041.5,687.2 1042.0,687.4 1042.5,687.5 1043.0,687.6 1043.5,687.7 1044.0,688.2 1044.5,689.2 1045.0,690.5 1045.5,691.7 1046.0,691.6 1046.5,691.1 1047.0,690.5 1047.5,690.4 1048.0,690.8 1048.5,691.5 1049.0,692.3 1049.5,692.8 1050.0,693.2 1050.5,693.7 1051.0,693.7 1051.5,693.4 1052.0,693.3 1052.5,693.1 1053.0,693.2 1053.5,693.4 1054.0,693.8 1054.5,694.3 1055.0,694.8 1055.5,694.8 1056.0,694.2 1056.5,693.8 1057.0,693.8 1057.5,694.0 1058.0,694.1 1058.5,694.4 1059.0,695.0 1059.5,695.4 1060.0,695.5 1060.5,695.3 1061.0,695.1 1061.5,694.9 1062.0,694.5 1062.5,694.2 1063.0,694.2 1063.5,694.4 1064.0,695.1 1064.5,695.8 1065.0,695.8 1065.5,695.3 1066.0,694.8 1066.5,694.7 1067.0,695.0 1067.5,695.2 1068.0,695.4 1068.5,695.9 1069.0,696.8 1069.5,697.4 1070.0,696.8 1070.5,696.2 1071.0,696.0 1071.5,695.9 1072.0,696.2 1072.5,697.2 1073.0,698.0 1073.5,698.5 1074.0,698.4 1074.5,697.8 1075.0,697.3 1075.5,697.0 1076.0,697.0 1076.5,697.7 1077.0,698.8 1077.5,699.8 1078.0,699.6 1078.5,698.8 1079.0,698.1 1079.5,697.8 1080.0,697.9 1080.5,698.5 1081.0,699.5 1081.5,700.5 1082.0,699.5 1082.5,698.6 1083.0,698.4 1083.5,698.2 1084.0,697.8 1084.5,698.0 1085.0,698.8 1085.5,699.5 1086.0,698.7 1086.5,697.7 1087.0,696.8 1087.5,696.0 1088.0,695.4 1088.5,695.1 1089.0,695.1 1089.5,695.2 1090.0,695.3 1090.5,694.1 1091.0,693.2 1091.5,692.6 1092.0,692.2 1092.5,691.8 1093.0,691.5 1093.5,691.5 1094.0,691.3 1094.5,691.4 1095.0,691.3 1095.5,690.2 1096.0,689.1 1096.5,688.5 1097.0,688.2 1097.5,688.0 1098.0,687.9 1098.5,687.9 1099.0,687.7 1099.5,687.4 1100.0,686.8 1100.5,685.8 1101.0,685.0 1101.5,684.2 1102.0,683.7 1102.5,683.7 1103.0,683.8 1103.5,683.8 1104.0,683.7 1104.5,683.2 1105.0,682.6 1105.5,682.0 1106.0,681.6 1106.5,681.5 1107.0,681.8 1107.5,682.5 1108.0,683.7 1108.5,683.4 1109.0,682.6 1109.5,682.5 1110.0,682.6 1110.5,682.8 1111.0,683.4 1111.5,684.3 1112.0,684.8 1112.5,683.8 1113.0,683.3 1113.5,683.4 1114.0,684.1 1114.5,684.9 1115.0,685.5 1115.5,686.5 1116.0,686.6 1116.5,686.0 1117.0,685.7 1117.5,685.5 1118.0,685.3 1118.5,685.8 1119.0,686.2 1119.5,686.5 1120.0,686.4 1120.5,685.8 1121.0,685.7 1121.5,685.4 1122.0,685.0 1122.5,684.7 1123.0,684.7 1123.5,685.5 1124.0,686.5 1124.5,686.4 1125.0,685.4 1125.5,685.0 1126.0,684.8 1126.5,684.8 1127.0,684.8 1127.5,685.2 1128.0,685.8 1128.5,686.6 1129.0,687.5 1129.5,687.3 1130.0,687.0 1130.5,686.5 1131.0,686.1 1131.5,686.0 1132.0,686.2 1132.5,686.6 1133.0,686.9 1133.5,687.3 1134.0,687.2 1134.5,686.5 1135.0,685.8 1135.5,685.3 1136.0,685.5 1136.5,685.5 1137.0,685.6 1137.5,686.0 1138.0,686.1 1138.5,685.8 1139.0,685.1 1139.5,684.4 1140.0,684.1 1140.5,683.9 1141.0,683.6 1141.5,683.6 1142.0,684.1 1142.5,684.3 1143.0,684.0 1143.5,683.5 1144.0,683.0 1144.5,683.1 1145.0,683.7 1145.5,684.3 1146.0,684.6 1146.5,683.9 1147.0,683.2 1147.5,682.6 1148.0,682.6 1148.5,683.1 1149.0,683.6 1149.5,684.1 1150.0,684.2 1150.5,683.7 1151.0,683.3 1151.5,683.1 1152.0,682.9 1152.5,683.1 1153.0,683.7 1153.5,684.4 1154.0,684.9 1154.5,684.8 1154.5,691.7 1154.0,690.9 1153.5,690.7 1153.0,691.1 1152.5,691.7 1152.0,692.2 1151.5,692.4 1151.0,691.9 1150.5,691.0 1150.0,690.2 1149.5,690.3 1149.0,691.0 1148.5,691.5 1148.0,691.6 1147.5,691.2 1147.0,690.7 1146.5,690.2 1146.0,689.6 1145.5,690.6 1145.0,691.0 1144.5,690.8 1144.0,690.9 1143.5,690.9 1143.0,690.3 1142.5,689.7 1142.0,689.6 1141.5,690.3 1141.0,690.9 1140.5,691.5 1140.0,691.7 1139.5,691.3 1139.0,690.9 1138.5,690.9 1138.0,691.3 1137.5,692.2 1137.0,692.6 1136.5,692.4 1136.0,692.4 1135.5,692.6 1135.0,692.6 1134.5,692.5 1134.0,692.4 1133.5,692.4 1133.0,692.8 1132.5,693.6 1132.0,694.0 1131.5,694.0 1131.0,693.9 1130.5,693.9 1130.0,693.8 1129.5,693.3 1129.0,692.6 1128.5,692.7 1128.0,693.0 1127.5,693.7 1127.0,694.0 1126.5,693.8 1126.0,693.7 1125.5,693.3 1125.0,692.9 1124.5,692.6 1124.0,692.6 1123.5,693.0 1123.0,693.6 1122.5,693.9 1122.0,693.8 1121.5,693.5 1121.0,693.6 1120.5,693.8 1120.0,693.1 1119.5,693.0 1119.0,693.6 1118.5,694.2 1118.0,694.5 1117.5,694.6 1117.0,694.1 1116.5,693.2 1116.0,692.6 1115.5,692.7 1115.0,693.2 1114.5,693.3 1114.0,693.4 1113.5,693.2 1113.0,692.6 1112.5,691.7 1112.0,690.7 1111.5,691.5 1111.0,692.4 1110.5,692.5 1110.0,692.3 1109.5,692.2 1109.0,691.5 1108.5,690.4 1108.0,689.9 1107.5,690.4 1107.0,690.9 1106.5,691.4 1106.0,691.5 1105.5,691.1 1105.0,690.2 1104.5,689.5 1104.0,689.3 1103.5,689.8 1103.0,690.6 1102.5,691.4 1102.0,691.5 1101.5,691.5 1101.0,692.0 1100.5,691.8 1100.0,691.1 1099.5,691.4 1099.0,692.3 1098.5,692.9 1098.0,693.3 1097.5,693.6 1097.0,694.2 1096.5,694.7 1096.0,695.2 1095.5,695.7 1095.0,695.8 1094.5,696.0 1094.0,696.8 1093.5,697.8 1093.0,698.6 1092.5,699.4 1092.0,700.2 1091.5,700.6 1091.0,700.8 1090.5,700.8 1090.0,700.5 1089.5,701.9 1089.0,703.4 1088.5,704.4 1088.0,705.3 1087.5,705.9 1087.0,706.1 1086.5,706.1 1086.0,705.7 1085.5,705.3 1085.0,706.3 1084.5,707.5 1084.0,708.4 1083.5,708.6 1083.0,708.5 1082.5,708.1 1082.0,707.5 1081.5,706.9 1081.0,707.9 1080.5,709.1 1080.0,709.7 1079.5,709.7 1079.0,709.2 1078.5,708.4 1078.0,707.5 1077.5,707.4 1077.0,707.9 1076.5,708.4 1076.0,708.9 1075.5,709.0 1075.0,708.4 1074.5,707.2 1074.0,705.9 1073.5,705.8 1073.0,706.5 1072.5,706.9 1072.0,706.9 1071.5,706.5 1071.0,706.3 1070.5,705.8 1070.0,704.7 1069.5,703.4 1069.0,703.4 1068.5,703.9 1068.0,704.2 1067.5,704.1 1067.0,704.0 1066.5,703.7 1066.0,703.1 1065.5,702.3 1065.0,701.4 1064.5,701.0 1064.0,701.0 1063.5,701.4 1063.0,701.6 1062.5,701.2 1062.0,700.9 1061.5,700.4 1061.0,699.7 1060.5,698.9 1060.0,698.7 1059.5,699.1 1059.0,699.1 1058.5,698.8 1058.0,698.6 1057.5,698.9 1057.0,699.1 1056.5,698.7 1056.0,698.2 1055.5,697.9 1055.0,698.0 1054.5,698.1 1054.0,698.4 1053.5,699.0 1053.0,698.9 1052.5,698.4 1052.0,698.3 1051.5,698.2 1051.0,697.9 1050.5,697.3 1050.0,697.3 1049.5,697.7 1049.0,698.2 1048.5,698.8 1048.0,698.8 1047.5,698.5 1047.0,698.2 1046.5,697.5 1046.0,696.6 1045.5,695.8 1045.0,696.2 1044.5,696.7 1044.0,697.2 1043.5,697.3 1043.0,697.1 1042.5,696.5 1042.0,695.7 1041.5,694.8 1041.0,693.6 1040.5,693.3 1040.0,693.9 1039.5,694.0 1039.0,693.7 1038.5,693.2 1038.0,692.4 1037.5,691.3 1037.0,690.1 1036.5,689.4 1036.0,690.3 1035.5,690.8 1035.0,691.0 1034.5,691.1 1034.0,690.7 1033.5,690.2 1033.0,689.7 1032.5,689.9 1032.0,690.6 1031.5,690.8 1031.0,690.7 1030.5,690.4 1030.0,689.4 1029.5,688.3 1029.0,689.1 1028.5,689.9 1028.0,689.9 1027.5,689.8 1027.0,689.4 1026.5,688.4 1026.0,687.6 1025.5,688.5 1025.0,689.0 1024.5,689.3 1024.0,689.4 1023.5,689.0 1023.0,688.5 1022.5,687.9 1022.0,688.9 1021.5,689.9 1021.0,690.8 1020.5,691.5 1020.0,691.6 1019.5,691.4 1019.0,691.3 1018.5,692.5 1018.0,693.9 1017.5,695.0 1017.0,695.6 1016.5,695.7 1016.0,695.8 1015.5,695.5 1015.0,694.7 1014.5,695.1 1014.0,695.7 1013.5,696.0 1013.0,696.2 1012.5,696.5 1012.0,696.6 1011.5,696.0 1011.0,695.0 1010.5,694.0 1010.0,694.6 1009.5,695.2 1009.0,695.7 1008.5,696.2 1008.0,696.1 1007.5,695.6 1007.0,695.2 1006.5,694.7 1006.0,693.8 1005.5,693.8 1005.0,694.3 1004.5,694.8 1004.0,695.3 1003.5,695.8 1003.0,695.8 1002.5,695.1 1002.0,694.4 1001.5,693.9 1001.0,693.3 1000.5,693.9 1000.0,694.8 999.5,695.4 999.0,695.4 998.5,695.1 998.0,695.0 997.5,695.0 997.0,694.7 996.5,694.3 996.0,693.7 995.5,694.3 995.0,695.1 994.5,695.7 994.0,696.3 993.5,696.3 993.0,696.0 992.5,695.8 992.0,695.3 991.5,694.8 991.0,694.6 990.5,695.2 990.0,695.9 989.5,696.3 989.0,696.7 988.5,696.7 988.0,696.3 987.5,695.8 987.0,695.5 986.5,694.8 986.0,694.8 985.5,695.6 985.0,696.2 984.5,696.2 984.0,696.6 983.5,697.1 983.0,696.4 982.5,695.3 982.0,694.5 981.5,694.6 981.0,695.4 980.5,695.6 980.0,695.8 979.5,696.1 979.0,696.3 978.5,696.0 978.0,695.2 977.5,694.5 977.0,695.4 976.5,696.2 976.0,696.4 975.5,696.7 975.0,696.6 974.5,696.0 974.0,695.5 973.5,695.0 973.0,695.7 972.5,696.6 972.0,697.4 971.5,697.5 971.0,697.3 970.5,697.1 970.0,696.4 969.5,695.7 969.0,696.4 968.5,697.2 968.0,697.5 967.5,697.8 967.0,698.1 966.5,698.0 966.0,697.5 965.5,696.9 965.0,696.4 964.5,697.0 964.0,697.8 963.5,698.1 963.0,698.4 962.5,698.6 962.0,698.5 961.5,698.1 961.0,697.8 960.5,697.4 960.0,697.8 959.5,698.2 959.0,698.5 958.5,698.6 958.0,698.6 957.5,698.2 957.0,697.8 956.5,697.4 956.0,696.8 955.5,697.6 955.0,698.2 954.5,698.8 954.0,699.1 953.5,698.9 953.0,698.6 952.5,698.1 952.0,697.1 951.5,696.8 951.0,697.8 950.5,698.6 950.0,699.0 949.5,699.1 949.0,699.0 948.5,698.6 948.0,698.0 947.5,697.1 947.0,697.4 946.5,698.2 946.0,699.0 945.5,699.4 945.0,699.1 944.5,699.0 944.0,698.5 943.5,697.5 943.0,697.5 942.5,698.4 942.0,698.7 941.5,699.0 941.0,699.4 940.5,699.5 940.0,699.1 939.5,698.5 939.0,698.1 938.5,698.8 938.0,700.1 937.5,700.8 937.0,700.8 936.5,700.7 936.0,700.5 935.5,700.3 935.0,700.0 934.5,699.9 934.0,700.2 933.5,700.5 933.0,700.5 932.5,700.9 932.0,701.3 931.5,700.9 931.0,700.1 930.5,699.5 930.0,699.3 929.5,699.5 929.0,700.3 928.5,701.1 928.0,701.2 927.5,701.0 927.0,700.5 926.5,700.0 926.0,699.6 925.5,699.7 925.0,700.1 924.5,700.8 924.0,701.1 923.5,701.1 923.0,701.1 922.5,701.0 922.0,700.5 921.5,699.8 921.0,700.1 920.5,700.9 920.0,701.2 919.5,701.1 919.0,701.1 918.5,700.8 918.0,700.5 917.5,700.0 917.0,699.6 916.5,700.0 916.0,700.3 915.5,700.7 915.0,700.9 914.5,701.0 914.0,700.3 913.5,699.6 913.0,699.3 912.5,698.8 912.0,699.0 911.5,699.2 911.0,699.4 910.5,699.5 910.0,699.5 909.5,699.3 909.0,698.8 908.5,697.7 908.0,697.1 907.5,697.6 907.0,698.0 906.5,698.0 906.0,697.9 905.5,697.2 905.0,696.4 904.5,695.3 904.0,694.5 903.5,694.6 903.0,694.4 902.5,693.6 902.0,692.0 901.5,690.7 901.0,689.4 900.5,687.7 900.0,687.1 899.5,686.8 899.0,686.6 898.5,686.4 898.0,685.6 897.5,684.4 897.0,683.3 896.5,682.3 896.0,682.6 895.5,682.6 895.0,682.2 894.5,681.6 894.0,680.9 893.5,679.6 893.0,678.1 892.5,677.1 892.0,677.2 891.5,677.3 891.0,677.1 890.5,676.6 890.0,675.9 889.5,674.7 889.0,673.5 888.5,672.5 888.0,672.1 887.5,672.0 887.0,672.0 886.5,671.3 886.0,670.4 885.5,669.5 885.0,668.6 884.5,667.4 884.0,666.0 883.5,666.0 883.0,665.8 882.5,665.5 882.0,664.6 881.5,663.7 881.0,663.1 880.5,662.1 880.0,660.7 879.5,659.3 879.0,658.9 878.5,658.2 878.0,656.9 877.5,655.7 877.0,654.3 876.5,653.0 876.0,651.9 875.5,650.2 875.0,648.3 874.5,647.0 874.0,646.3 873.5,645.1 873.0,643.4 872.5,641.7 872.0,640.1 871.5,638.8 871.0,637.8 870.5,636.8 870.0,635.7 869.5,635.4 869.0,635.0 868.5,634.5 868.0,634.2 867.5,634.1 867.0,634.1 866.5,634.0 866.0,634.0 865.5,634.2 865.0,634.6 864.5,635.6 864.0,636.6 863.5,637.5 863.0,638.5 862.5,639.6 862.0,640.5 861.5,641.8 861.0,643.2 860.5,644.2 860.0,645.1 859.5,647.1 859.0,649.2 858.5,651.3 858.0,653.1 857.5,654.6 857.0,656.1 856.5,658.0 856.0,659.9 855.5,661.4 855.0,663.4 854.5,665.6 854.0,667.6 853.5,669.6 853.0,671.6 852.5,673.4 852.0,675.0 851.5,676.3 851.0,677.6 850.5,680.4 850.0,683.3 849.5,685.8 849.0,688.1 848.5,690.2 848.0,692.2 847.5,693.7 847.0,694.7 846.5,697.3 846.0,700.5 845.5,703.4 845.0,705.2 844.5,705.4 844.0,704.5 843.5,703.6 843.0,704.3 842.5,705.1 842.0,705.8 841.5,705.9 841.0,705.5 840.5,705.1 840.0,704.3 839.5,704.2 839.0,705.3 838.5,705.6 838.0,705.7 837.5,706.1 837.0,705.4 836.5,704.1 836.0,703.1 835.5,703.6 835.0,704.2 834.5,704.6 834.0,704.6 833.5,704.3 833.0,704.0 832.5,703.3 832.0,702.8 831.5,702.8 831.0,703.1 830.5,703.1 830.0,703.4 829.5,703.5 829.0,703.1 828.5,703.0 828.0,703.1 827.5,702.6 827.0,702.2 826.5,702.2 826.0,702.5 825.5,702.7 825.0,702.9 824.5,703.2 824.0,703.3 823.5,703.3 823.0,703.1 822.5,702.8 822.0,702.4 821.5,702.3 821.0,702.5 820.5,702.5 820.0,703.0 819.5,703.6 819.0,703.4 818.5,703.1 818.0,703.0 817.5,702.7 817.0,702.5 816.5,702.5 816.0,702.8 815.5,703.1 815.0,703.2 814.5,703.2 814.0,703.3 813.5,703.3 813.0,703.0 812.5,702.7 812.0,702.4 811.5,702.5 811.0,703.1 810.5,703.8 810.0,703.9 809.5,704.0 809.0,704.0 808.5,703.6 808.0,703.6 807.5,704.1 807.0,704.5 806.5,705.0 806.0,705.5 805.5,705.4 805.0,705.0 804.5,704.4 804.0,704.9 803.5,705.6 803.0,706.3 802.5,706.5 802.0,706.4 801.5,706.4 801.0,706.0 800.5,705.7 800.0,706.5 799.5,707.2 799.0,707.7 798.5,707.6 798.0,707.2 797.5,707.3 797.0,707.3 796.5,707.0 796.0,707.3 795.5,707.7 795.0,708.1 794.5,708.3 794.0,708.4 793.5,708.5 793.0,708.2 792.5,707.7 792.0,707.4 791.5,707.2 791.0,707.7 790.5,708.0 790.0,708.5 789.5,709.1 789.0,709.2 788.5,708.9 788.0,708.6 787.5,708.1 787.0,707.8 786.5,708.2 786.0,708.5 785.5,709.3 785.0,709.5 784.5,709.0 784.0,709.0 783.5,709.2 783.0,708.5 782.5,708.1 782.0,708.8 781.5,709.5 781.0,710.0 780.5,710.1 780.0,709.5 779.5,709.0 779.0,708.6 778.5,708.8 778.0,709.1 777.5,709.3 777.0,709.3 776.5,709.2 776.0,709.1 775.5,708.8 775.0,709.0 774.5,709.4 774.0,709.5 773.5,709.4 773.0,709.7 772.5,709.9 772.0,709.6 771.5,709.3 771.0,709.8 770.5,710.5 770.0,710.9 769.5,711.4 769.0,711.8 768.5,711.8 768.0,711.7 767.5,711.6 767.0,712.2 766.5,712.6 766.0,713.1 765.5,713.6 765.0,713.8 764.5,713.5 764.0,713.0 763.5,712.6 763.0,713.1 762.5,713.4 762.0,713.6 761.5,713.6 761.0,713.6 760.5,713.5 760.0,713.1 759.5,712.7 759.0,713.0 758.5,713.1 758.0,713.3 757.5,713.6 757.0,713.8 756.5,713.1 756.0,712.0 755.5,711.6 755.0,712.3 754.5,712.6 754.0,712.6 753.5,712.8 753.0,712.7 752.5,712.4 752.0,712.2 751.5,711.8 751.0,711.6 750.5,712.1 750.0,712.5 749.5,712.6 749.0,712.6 748.5,712.5 748.0,712.4 747.5,712.3 747.0,711.7 746.5,711.7 746.0,712.3 745.5,712.9 745.0,713.2 744.5,713.4 744.0,713.1 743.5,712.8 743.0,712.2 742.5,711.5 742.0,710.9 741.5,711.4 741.0,712.0 740.5,712.6 740.0,712.9 739.5,712.6 739.0,712.1 738.5,711.8 738.0,711.6 737.5,711.2 737.0,710.3 736.5,709.4 736.0,709.8 735.5,710.0 735.0,710.2 734.5,710.0 734.0,709.2 733.5,708.6 733.0,708.2 732.5,707.6 732.0,706.7 731.5,705.7 731.0,705.4 730.5,706.0 730.0,706.4 729.5,706.5 729.0,706.4 728.5,706.3 728.0,706.5 727.5,706.6 727.0,706.6 726.5,706.7 726.0,707.5 725.5,708.1 725.0,708.9 724.5,709.8 724.0,710.5 723.5,710.8 723.0,711.1 722.5,711.2 722.0,711.9 721.5,712.6 721.0,713.0 720.5,713.7 720.0,714.2 719.5,714.2 719.0,714.1 718.5,714.4 718.0,715.2 717.5,715.2 717.0,715.3 716.5,715.5 716.0,715.2 715.5,715.1 715.0,715.4 714.5,716.6 714.0,717.3 713.5,718.2 713.0,718.8 712.5,718.8 712.0,718.9 711.5,719.2 711.0,720.2 710.5,720.7 710.0,721.2 709.5,721.3 709.0,721.1 708.5,720.9 708.0,720.1 707.5,719.9 707.0,720.3 706.5,721.1 706.0,721.3 705.5,720.8 705.0,720.4 704.5,719.8 704.0,718.9 703.5,719.1 703.0,719.2 702.5,719.4 702.0,719.5 701.5,719.2 701.0,718.5 700.5,717.6 700.0,716.9 699.5,716.5 699.0,716.4 698.5,716.2 698.0,716.0 697.5,715.4 697.0,714.6 696.5,713.7 696.0,712.6 695.5,711.4 695.0,710.7 694.5,710.4 694.0,709.9 693.5,709.4 693.0,708.4 692.5,707.6 692.0,706.5 691.5,705.2 691.0,704.0 690.5,702.5 690.0,701.8 689.5,701.6 689.0,701.3 688.5,700.5 688.0,699.3 687.5,698.1 687.0,697.0 686.5,695.6 686.0,694.5 685.5,694.6 685.0,694.2 684.5,693.9 684.0,693.5 683.5,692.9 683.0,692.0 682.5,691.1 682.0,690.5 681.5,690.2 681.0,690.0 680.5,690.1 680.0,690.2 679.5,690.3 679.0,690.5 678.5,690.4 678.0,690.0 677.5,689.6 677.0,689.1 676.5,688.5 676.0,687.9 675.5,688.0 675.0,688.3 674.5,688.6 674.0,688.7 673.5,688.7 673.0,688.6 672.5,688.6 672.0,688.4 671.5,688.0 671.0,687.1 670.5,686.6 670.0,687.4 669.5,688.2 669.0,688.9 668.5,689.0 668.0,688.9 667.5,688.8 667.0,688.5 666.5,688.1 666.0,687.8 665.5,688.4 665.0,688.8 664.5,689.5 664.0,689.8 663.5,689.6 663.0,689.2 662.5,688.9 662.0,688.8 661.5,689.5 661.0,690.4 660.5,690.7 660.0,690.4 659.5,690.6 659.0,691.1 658.5,691.4 658.0,692.4 657.5,693.5 657.0,694.4 656.5,695.3 656.0,695.8 655.5,696.2 655.0,696.4 654.5,697.3 654.0,698.6 653.5,699.4 653.0,699.8 652.5,700.5 652.0,701.2 651.5,701.5 651.0,701.9 650.5,702.4 650.0,702.9 649.5,703.5 649.0,703.8 648.5,704.1 648.0,704.5 647.5,704.5 647.0,704.5 646.5,704.7 646.0,705.6 645.5,706.3 645.0,706.9 644.5,707.3 644.0,707.4 643.5,707.9 643.0,708.2 642.5,707.7 642.0,707.3 641.5,707.6 641.0,708.3 640.5,709.1 640.0,709.7 639.5,710.0 639.0,710.0 638.5,709.9 638.0,709.7 637.5,709.8 637.0,709.6 636.5,709.3 636.0,709.6 635.5,709.6 635.0,709.7 634.5,709.7 634.0,709.4 633.5,708.9 633.0,708.1 632.5,707.5 632.0,706.9 631.5,706.4 631.0,706.2 630.5,706.0 630.0,705.7 629.5,705.5 629.0,705.2 628.5,704.5 628.0,703.4 627.5,702.5 627.0,702.4 626.5,702.1 626.0,701.5 625.5,700.9 625.0,700.4 624.5,700.0 624.0,699.5 623.5,698.2 623.0,697.7 622.5,697.7 622.0,697.9 621.5,697.6 621.0,696.5 620.5,695.9 620.0,695.8 619.5,696.3 619.0,696.8 618.5,697.3 618.0,697.6 617.5,697.4 617.0,697.2 616.5,697.2 616.0,697.5 615.5,697.9 615.0,698.5 614.5,698.7 614.0,698.9 613.5,699.1 613.0,699.0 612.5,699.4 612.0,700.1 611.5,700.8 611.0,701.1 610.5,701.1 610.0,701.1 609.5,701.3 609.0,701.4 608.5,701.3 608.0,701.7 607.5,701.8 607.0,701.9 606.5,702.3 606.0,702.1 605.5,701.5 605.0,701.1 604.5,700.7 604.0,701.1 603.5,701.0 603.0,701.1 602.5,701.3 602.0,701.2 601.5,700.9 601.0,700.2 600.5,699.1 600.0,698.4 599.5,698.4 599.0,698.5 598.5,698.4 598.0,697.9 597.5,698.8 597.0,701.6 596.5,704.0 596.0,705.9 595.5,706.2 595.0,707.0 594.5,707.7 594.0,707.8 593.5,707.7 593.0,707.5 592.5,707.1 592.0,708.1 591.5,709.0 591.0,709.9 590.5,710.9 590.0,711.3 589.5,711.5 589.0,711.5 588.5,711.3 588.0,712.7 587.5,713.9 587.0,714.7 586.5,715.1 586.0,714.9 585.5,714.7 585.0,714.5 584.5,714.3 584.0,714.9 583.5,715.7 583.0,716.5 582.5,717.2 582.0,717.4 581.5,717.5 581.0,717.7 580.5,717.9 580.0,717.5 579.5,717.1 579.0,717.4 578.5,717.6 578.0,717.3 577.5,716.4 577.0,715.7 576.5,714.9 576.0,713.4 575.5,711.7 575.0,710.2 574.5,709.3 574.0,708.6 573.5,707.8 573.0,706.8 572.5,705.8 572.0,705.3 571.5,704.1 571.0,702.6 570.5,701.7 570.0,701.2 569.5,700.7 569.0,700.1 568.5,699.5 568.0,699.1 567.5,698.2 567.0,696.7 566.5,695.3 566.0,694.0 565.5,693.3 565.0,692.5 564.5,691.3 564.0,690.2 563.5,689.1 563.0,687.9 562.5,686.6 562.0,684.8 561.5,684.1 561.0,684.5 560.5,685.1 560.0,685.9 559.5,686.3 559.0,685.7 558.5,685.4 558.0,685.5 557.5,686.2 557.0,687.3 556.5,687.9 556.0,687.9 555.5,688.4 555.0,689.2 554.5,689.2 554.0,688.5 553.5,688.3 553.0,688.3 552.5,688.1 552.0,687.5 551.5,686.7 551.0,685.9 550.5,684.9 550.0,683.7 549.5,682.7 549.0,682.0 548.5,681.4 548.0,680.8 547.5,679.6 547.0,678.2 546.5,677.2 546.0,676.6 545.5,676.6 545.0,677.1 544.5,677.6 544.0,678.2 543.5,679.2 543.0,680.4 542.5,680.9 542.0,681.5 541.5,682.6 541.0,684.2 540.5,685.8 540.0,687.4 539.5,689.1 539.0,690.7 538.5,692.1 538.0,693.4 537.5,694.7 537.0,695.9 536.5,697.5 536.0,699.1 535.5,700.5 535.0,702.3 534.5,704.2 534.0,705.7 533.5,706.8 533.0,707.8 532.5,708.9 532.0,710.2 531.5,711.5 531.0,713.1 530.5,714.7 530.0,715.7 529.5,716.8 529.0,717.9 528.5,718.9 528.0,719.3 527.5,719.6 527.0,720.6 526.5,722.0 526.0,722.8 525.5,723.5 525.0,724.0 524.5,724.2 524.0,724.2 523.5,724.5 523.0,724.6 522.5,724.7 522.0,725.7 521.5,727.0 521.0,728.1 520.5,729.4 520.0,730.8 519.5,732.1 519.0,733.1 518.5,734.0 518.0,734.9 517.5,736.2 517.0,738.0 516.5,739.7 516.0,740.8 515.5,741.9 515.0,742.6 514.5,742.7 514.0,742.2 513.5,741.5 513.0,741.2 512.5,741.0 512.0,740.3 511.5,738.8 511.0,737.0 510.5,735.4 510.0,732.3 509.5,728.8 509.0,725.3 508.5,724.5 508.0,728.3 507.5,731.0 507.0,733.5 506.5,733.9 506.0,733.4 505.5,733.5 505.0,734.3 504.5,734.8 504.0,734.7 503.5,734.5 503.0,734.3 502.5,734.4 502.0,734.0 501.5,733.4 501.0,733.6 500.5,733.6 500.0,733.7 499.5,733.9 499.0,733.6 498.5,733.1 498.0,732.8 497.5,733.1 497.0,733.4 496.5,733.6 496.0,733.6 495.5,733.7 495.0,733.4 494.5,732.8 494.0,732.2 493.5,732.4 493.0,732.5 492.5,732.7 492.0,729.1 491.5,724.7 491.0,721.1 490.5,718.4 490.0,717.2 489.5,716.3 489.0,716.0 488.5,715.8 488.0,715.6 487.5,715.4 487.0,715.4 486.5,715.2 486.0,714.4 485.5,713.7 485.0,713.2 484.5,712.8 484.0,712.7 483.5,712.7 483.0,712.4 482.5,711.6 482.0,710.6 481.5,709.8 481.0,709.1 480.5,708.4 480.0,707.6 479.5,706.2 479.0,705.0 478.5,704.3 478.0,703.3 477.5,702.1 477.0,700.9 476.5,699.5 476.0,698.1 475.5,696.4 475.0,694.3 474.5,692.7 474.0,691.3 473.5,689.6 473.0,688.3 472.5,686.8 472.0,684.9 471.5,683.2 471.0,681.8 470.5,680.9 470.0,680.1 469.5,679.4 469.0,678.5 468.5,676.9 468.0,675.6 467.5,674.7 467.0,673.9 466.5,672.9 466.0,672.0 465.5,671.4 465.0,670.7 464.5,669.6 464.0,668.0 463.5,666.7 463.0,666.2 462.5,665.5 462.0,664.5 461.5,663.5 461.0,662.2 460.5,660.5 460.0,658.8 459.5,657.5 459.0,656.1 458.5,654.8 458.0,653.1 457.5,650.6 457.0,648.1 456.5,645.9 456.0,643.8 455.5,642.3 455.0,641.2 454.5,639.8 454.0,638.1 453.5,636.2 453.0,634.5 452.5,632.6 452.0,630.6 451.5,629.1 451.0,628.1 450.5,627.6 450.0,626.5 449.5,625.7 449.0,624.9 448.5,623.8 448.0,623.1 447.5,623.2 447.0,623.4 446.5,623.4 446.0,623.4 445.5,623.5 445.0,623.9 444.5,623.9 444.0,624.2 443.5,624.8 443.0,625.4 442.5,626.1 442.0,626.9 441.5,627.4 441.0,627.8 440.5,628.4 440.0,628.8 439.5,628.5 439.0,628.2 438.5,628.2 438.0,628.2 437.5,627.7 437.0,627.0 436.5,626.9 436.0,627.0 435.5,626.7 435.0,626.5 434.5,626.2 434.0,625.6 433.5,624.9 433.0,624.4 432.5,624.1 432.0,623.8 431.5,623.3 431.0,622.1 430.5,620.6 430.0,618.9 429.5,617.1 429.0,616.4 428.5,616.0 428.0,615.4 427.5,614.4 427.0,612.9 426.5,611.2 426.0,609.5 425.5,607.8 425.0,606.7 424.5,605.8 424.0,604.7 423.5,603.3 423.0,602.4 422.5,601.8 422.0,601.0 421.5,600.1 421.0,599.0 420.5,598.6 420.0,598.7 419.5,598.4 419.0,598.0 418.5,597.7 418.0,596.8 417.5,596.0 417.0,595.3 416.5,594.3 416.0,593.1 415.5,591.9 415.0,591.6 414.5,591.5 414.0,591.0 413.5,589.9 413.0,589.0 412.5,588.4 412.0,587.9 411.5,587.2 411.0,586.2 410.5,585.1 410.0,584.5 409.5,584.3 409.0,584.2 408.5,583.7 408.0,583.0 407.5,582.3 407.0,581.5 406.5,580.8 406.0,580.1 405.5,579.3 405.0,579.3 404.5,579.0 404.0,578.3 403.5,577.5 403.0,576.8 402.5,575.9 402.0,575.0 401.5,574.4 401.0,574.2 400.5,574.0 400.0,574.0 399.5,574.1 399.0,574.0 398.5,573.4 398.0,572.5 397.5,571.9 397.0,571.6 396.5,571.8 396.0,572.0 395.5,572.0 395.0,572.0 394.5,572.7 394.0,573.5 393.5,573.9 393.0,574.6 392.5,576.1 392.0,577.2 391.5,577.5 391.0,577.8 390.5,578.4 390.0,578.6 389.5,578.4 389.0,578.6 388.5,579.4 388.0,579.6 387.5,579.5 387.0,579.7 386.5,579.8 386.0,579.6 385.5,579.4 385.0,579.6 384.5,580.1 384.0,580.5 383.5,580.6 383.0,580.3 382.5,579.7 382.0,579.2 381.5,579.6 381.0,580.1 380.5,580.4 380.0,580.6 379.5,580.9 379.0,580.8 378.5,580.4 378.0,580.8 377.5,581.7 377.0,582.6 376.5,582.7 376.0,582.5 375.5,582.2 375.0,581.6 374.5,581.0 374.0,580.9 373.5,580.8 373.0,580.8 372.5,580.9 372.0,580.3 371.5,579.4 371.0,578.7 370.5,578.1 370.0,577.8 369.5,578.1 369.0,578.8 368.5,579.6 368.0,580.0 367.5,580.4 367.0,580.6 366.5,580.5 366.0,580.4 365.5,580.2 365.0,579.8 364.5,579.2 364.0,578.7 363.5,578.6 363.0,578.4 362.5,578.0 362.0,577.8 361.5,578.7 361.0,580.0 360.5,580.2 360.0,579.9 359.5,580.1 359.0,580.8 358.5,581.6 358.0,581.9 357.5,581.9 357.0,582.2 356.5,582.6 356.0,582.2 355.5,581.8 355.0,581.9 354.5,582.6 354.0,583.2 353.5,583.5 353.0,583.8 352.5,584.1 352.0,584.1 351.5,583.8 351.0,583.5 350.5,583.3 350.0,583.8 349.5,584.4 349.0,584.7 348.5,584.9 348.0,585.1 347.5,585.3 347.0,585.1 346.5,584.7 346.0,584.7 345.5,585.3 345.0,586.0 344.5,586.4 344.0,586.6 343.5,586.9 343.0,586.9 342.5,586.5 342.0,586.3 341.5,587.2 341.0,588.2 340.5,588.8 340.0,589.4 339.5,590.1 339.0,590.9 338.5,591.5 338.0,591.8 337.5,592.8 337.0,593.9 336.5,594.9 336.0,595.9 335.5,596.5 335.0,597.1 334.5,597.6 334.0,598.2 333.5,599.5 333.0,600.8 332.5,601.9 332.0,603.1 331.5,604.2 331.0,605.0 330.5,606.1 330.0,607.5 329.5,609.1 329.0,610.7 328.5,612.5 328.0,614.3 327.5,616.0 327.0,617.5 326.5,618.7 326.0,620.2 325.5,622.3 325.0,624.7 324.5,627.3 324.0,630.2 323.5,632.9 323.0,635.5 322.5,637.7 322.0,639.7 321.5,641.8 321.0,644.4 320.5,647.7 320.0,651.0 319.5,654.1 319.0,656.9 318.5,659.8 318.0,662.5 317.5,665.4 317.0,668.4 316.5,671.4 316.0,674.7 315.5,678.6 315.0,682.8 314.5,687.0 314.0,690.6 313.5,693.9 313.0,697.4 312.5,700.6 312.0,703.4 311.5,706.7 311.0,709.7 310.5,712.6 310.0,715.3 309.5,717.7 309.0,720.0 308.5,721.9 308.0,723.4 307.5,725.6 307.0,727.8 306.5,729.9 306.0,731.5 305.5,732.3 305.0,732.4 304.5,731.8 304.0,731.8 303.5,732.6 303.0,733.2 302.5,733.3 302.0,733.3 301.5,733.1 301.0,733.0 300.5,732.8 300.0,733.1 299.5,733.5 299.0,734.3 298.5,734.8 298.0,734.5 297.5,734.1 297.0,734.0 296.5,734.0 296.0,734.4 295.5,735.0 295.0,735.5 294.5,736.2 294.0,736.4 293.5,736.1 293.0,735.6 292.5,735.2 292.0,734.8 291.5,734.8 291.0,734.7 290.5,734.7 290.0,733.9 289.5,732.4 289.0,731.0 288.5,729.3 288.0,727.3 287.5,725.5 287.0,723.7 286.5,722.2 286.0,721.1 285.5,719.6 285.0,717.4 284.5,715.0 284.0,713.5 283.5,713.3 283.0,714.3 282.5,715.8 282.0,717.4 281.5,718.3 281.0,718.9 280.5,719.7 280.0,720.5 279.5,721.0 279.0,721.5 278.5,722.4 278.0,723.3 277.5,724.3 277.0,725.1 276.5,725.5 276.0,725.6 275.5,725.7 275.0,725.4 274.5,724.6 274.0,724.2 273.5,724.7 273.0,724.9 272.5,725.1 272.0,725.2 271.5,725.0 271.0,724.7 270.5,724.3 270.0,723.4 269.5,722.3 269.0,721.3 268.5,720.6 268.0,720.0 267.5,719.4 267.0,718.6 266.5,717.5 266.0,716.2 265.5,715.2 265.0,714.3 264.5,713.4 264.0,712.3 263.5,711.5 263.0,711.0 262.5,710.3 262.0,709.6 261.5,708.4 261.0,706.5 260.5,704.9 260.0,704.6 259.5,704.4 259.0,703.8 258.5,702.9 258.0,701.9 257.5,700.5 257.0,698.9 256.5,697.4 256.0,697.0 255.5,696.2 255.0,695.2 254.5,694.5 254.0,693.8 253.5,692.8 253.0,691.3 252.5,690.0 252.0,689.4 251.5,688.7 251.0,687.3 250.5,686.1 250.0,684.8 249.5,683.4 249.0,682.2 248.5,680.8 248.0,679.0 247.5,678.0 247.0,676.8 246.5,675.6 246.0,674.1 245.5,672.6 245.0,670.8 244.5,668.8 244.0,667.0 243.5,665.6 243.0,664.1 242.5,663.0 242.0,661.8 241.5,660.3 241.0,658.4 240.5,656.1 240.0,654.1 239.5,652.7 239.0,651.4 238.5,649.8 238.0,648.0 237.5,646.1 237.0,644.1 236.5,642.0 236.0,639.6 235.5,637.5 235.0,636.3 234.5,634.8 234.0,633.0 233.5,631.3 233.0,629.7 232.5,627.6 232.0,625.3 231.5,623.7 231.0,621.6 230.5,619.3 230.0,618.0 229.5,616.7 229.0,615.0 228.5,613.0 228.0,610.9 227.5,609.1 227.0,607.7 226.5,606.0 226.0,603.8 225.5,601.4 225.0,599.6 224.5,598.4 224.0,597.3 223.5,595.8 223.0,594.1 222.5,592.4 222.0,590.4 221.5,588.3 221.0,585.7 220.5,583.0 220.0,581.2 219.5,579.7 219.0,577.9 218.5,576.3 218.0,574.5 217.5,572.7 217.0,571.1 216.5,569.5 216.0,567.6 215.5,565.6 215.0,565.0 214.5,564.3 214.0,563.4 213.5,562.4 213.0,561.3 212.5,560.2 212.0,558.8 211.5,557.3 211.0,556.4 210.5,556.4 210.0,556.1 209.5,555.6 209.0,555.0 208.5,554.4 208.0,553.7 207.5,553.1 207.0,552.3 206.5,552.1 206.0,551.6 205.5,551.1 205.0,550.5 204.5,549.9 204.0,549.0 203.5,547.9 203.0,547.0 202.5,547.1 202.0,546.5 201.5,545.3 201.0,544.1 200.5,543.6 200.0,542.8 199.5,541.7 199.0,540.4 198.5,539.4 198.0,539.0 197.5,538.5 197.0,537.6 196.5,536.8 196.0,536.2 195.5,535.0 195.0,534.4 194.5,534.0 194.0,533.4 193.5,532.3 193.0,531.3 192.5,530.3 192.0,529.0 191.5,528.3 191.0,527.5 190.5,527.0 190.0,526.4 189.5,524.8 189.0,523.2 188.5,522.1 188.0,521.5 187.5,520.6 187.0,519.9 186.5,519.3 186.0,518.2 185.5,516.5 185.0,514.6 184.5,513.3 184.0,512.2 183.5,511.1 183.0,510.2 182.5,509.0 182.0,507.5 181.5,505.9 181.0,504.5 180.5,503.6 180.0,503.0 179.5,502.2 179.0,500.9 178.5,499.7 178.0,498.4 177.5,497.2 177.0,496.0 176.5,494.6 176.0,493.4 175.5,491.9 175.0,490.6 174.5,489.0 174.0,487.1 173.5,485.8 173.0,484.8 172.5,483.5 172.0,482.0 171.5,480.8 171.0,479.5 170.5,478.4 170.0,477.7 169.5,477.3 169.0,477.0 168.5,476.8 168.0,476.4 167.5,475.8 167.0,474.8 166.5,473.9 166.0,473.2 165.5,472.5 165.0,472.0" fill="#0000ff"/>
</g>
<text class="t" x="157.0" y="460.0" text-anchor="end">300</text>
<text class="t" x="157.0" y="536.0" text-anchor="end">200</text>
<text class="t" x="157.0" y="611.0" text-anchor="end">100</text>
<text class="t" x="157.0" y="687.0" text-anchor="end">0</text>
<text class="t" x="156.4" y="763.0" text-anchor="end">-100</text>
<text class="yl" transform="translate(64.0 605.0) rotate(-90)" text-anchor="middle">Measured-Model</text>
<text class="yl" transform="translate(90.0 605.0) rotate(-90)" text-anchor="middle">B East (nT)</text>
<text class="b" transform="translate(1176.3 666.9) rotate(-90)">Inboard B</text>
<text class="b" transform="translate(1196.3 667.2) rotate(-90)">Outboard B</text>
<rect x="1170.50" y="695.1" width="1.5" height="17.6" fill="#0000ff"/>
<rect x="1190.25" y="695.1" width="1.5" height="17.6" fill="#00ff00"/>
</g>
<g id="panel3">
<g stroke="#262626" stroke-width="1" fill="none" shape-rendering="crispEdges">
<rect x="165.5" y="797.5" width="989.0" height="309.0"/>
<path d="M165.5 874.5h10M1154.5 874.5h-10M165.5 951.5h10M1154.5 951.5h-10M165.5 1029.5h10M1154.5 1029.5h-10M412.5 797.5v10M412.5 1106.5v-10M660.5 797.5v10M660.5 1106.5v-10M907.5 797.5v10M907.5 1106.5v-10"/>
</g>
<g shape-rendering="crispEdges">
<rect x="165" y="800" width="151" height="303" fill="#d9d9d9"/>
<rect x="316" y="800" width="181" height="303" fill="#ffb3ff"/>
<rect x="505" y="800" width="104" height="303" fill="#d9d9d9"/>
<rect x="590" y="800" width="8" height="303" fill="#ffb3ff"/>
<rect x="628" y="800" width="101" height="303" fill="#ffb3ff"/>
<rect x="729" y="800" width="112" height="303" fill="#d9d9d9"/>
<rect x="841" y="800" width="23" height="303" fill="#ffb3ff"/>
<rect x="864" y="800" width="15" height="303" fill="#d9d9d9"/>
<rect x="879" y="800" width="23" height="303" fill="#ffb3ff"/>
<rect x="902" y="800" width="16" height="303" fill="#d9d9d9"/>
<rect x="1006" y="800" width="27" height="303" fill="#d9d9d9"/>
<rect x="1033" y="800" width="24" height="303" fill="#ffb3ff"/>
<rect x="1072" y="800" width="23" height="303" fill="#ffb3ff"/>
<rect x="1111" y="800" width="7" height="303" fill="#ffb3ff"/>
<rect x="1149" y="800" width="5" height="303" fill="#ffb3ff"/>
</g>
<path d="M1154.5 797.0V1107.0" stroke="#262626" stroke-width="1" shape-rendering="crispEdges"/>
<clipPath id="clip2"><rect x="165.0" y="797.5" width="989.5" height="309.0"/></clipPath>
<g clip-path="url(#clip2)">
<polygon points="165.0,835.5 165.5,836.0 166.0,836.5 166.5,835.5 167.0,834.6 167.5,833.8 168.0,832.8 168.5,831.9 169.0,831.1 169.5,830.5 170.0,830.2 170.5,829.8 171.0,830.0 171.5,830.6 172.0,830.7 172.5,831.0 173.0,830.9 173.5,829.8 174.0,829.0 174.5,828.6 175.0,828.2 175.5,827.9 176.0,827.6 176.5,827.5 177.0,827.8 177.5,828.2 178.0,829.0 178.5,829.9 179.0,830.5 179.5,830.0 180.0,829.4 180.5,828.7 181.0,828.0 181.5,828.0 182.0,828.4 182.5,828.9 183.0,829.1 183.5,829.1 184.0,829.5 184.5,830.1 185.0,830.3 185.5,829.8 186.0,829.3 186.5,828.9 187.0,828.9 187.5,828.4 188.0,827.7 188.5,827.8 189.0,828.6 189.5,829.2 190.0,829.2 190.5,829.0 191.0,828.6 191.5,828.1 192.0,827.4 192.5,827.1 193.0,826.7 193.5,826.7 194.0,827.1 194.5,827.5 195.0,827.9 195.5,828.1 196.0,827.2 196.5,826.0 197.0,825.3 197.5,825.2 198.0,825.2 198.5,825.5 199.0,826.1 199.5,826.8 200.0,827.8 200.5,827.6 201.0,826.9 201.5,826.1 202.0,826.1 202.5,826.0 203.0,826.0 203.5,826.6 204.0,827.5 204.5,828.7 205.0,828.4 205.5,827.3 206.0,826.5 206.5,826.2 207.0,826.2 207.5,826.4 208.0,827.1 208.5,828.6 209.0,830.2 209.5,831.0 210.0,829.7 210.5,828.8 211.0,828.3 211.5,827.9 212.0,827.7 212.5,828.1 213.0,828.9 213.5,829.8 214.0,830.8 214.5,832.0 215.0,833.0 215.5,832.1 216.0,830.9 216.5,830.1 217.0,829.9 217.5,830.0 218.0,830.2 218.5,830.7 219.0,831.4 219.5,831.9 220.0,832.5 220.5,833.4 221.0,834.5 221.5,834.3 222.0,833.9 222.5,833.1 223.0,832.4 223.5,832.8 224.0,833.5 224.5,833.8 225.0,834.3 225.5,835.0 226.0,836.3 226.5,837.6 227.0,837.9 227.5,837.1 228.0,836.5 228.5,836.0 229.0,835.9 229.5,835.8 230.0,836.3 230.5,837.4 231.0,839.0 231.5,840.6 232.0,840.2 232.5,839.3 233.0,839.3 233.5,839.2 234.0,839.5 234.5,840.2 235.0,841.2 235.5,842.8 236.0,844.3 236.5,844.8 237.0,844.7 237.5,844.3 238.0,844.2 238.5,844.9 239.0,845.9 239.5,846.7 240.0,847.7 240.5,848.9 241.0,848.9 241.5,848.6 242.0,848.6 242.5,848.8 243.0,849.1 243.5,849.8 244.0,850.9 244.5,851.7 245.0,852.5 245.5,853.2 246.0,853.1 246.5,853.3 247.0,853.4 247.5,853.6 248.0,854.0 248.5,854.7 249.0,856.0 249.5,857.7 250.0,859.4 250.5,861.0 251.0,861.2 251.5,861.5 252.0,861.8 252.5,862.1 253.0,862.5 253.5,863.2 254.0,864.5 254.5,866.1 255.0,868.0 255.5,870.1 256.0,872.0 256.5,872.2 257.0,872.6 257.5,873.1 258.0,873.8 258.5,874.8 259.0,876.1 259.5,877.6 260.0,879.2 260.5,880.9 261.0,883.0 261.5,885.2 262.0,885.9 262.5,886.4 263.0,887.4 263.5,888.7 264.0,889.9 264.5,891.3 265.0,892.7 265.5,894.1 266.0,895.8 266.5,897.8 267.0,899.7 267.5,900.8 268.0,902.0 268.5,902.7 269.0,903.6 269.5,904.9 270.0,906.0 270.5,906.9 271.0,908.3 271.5,910.1 272.0,911.9 272.5,913.7 273.0,915.2 273.5,916.0 274.0,916.9 274.5,917.9 275.0,919.2 275.5,920.8 276.0,922.5 276.5,924.3 277.0,926.4 277.5,928.4 278.0,930.7 278.5,932.5 279.0,933.5 279.5,934.4 280.0,935.4 280.5,937.0 281.0,938.8 281.5,940.4 282.0,942.0 282.5,944.0 283.0,945.7 283.5,947.6 284.0,948.6 284.5,949.1 285.0,949.2 285.5,948.0 286.0,945.6 286.5,943.4 287.0,941.8 287.5,940.9 288.0,940.3 288.5,939.7 289.0,938.6 289.5,936.3 290.0,934.4 290.5,932.8 291.0,931.1 291.5,929.5 292.0,928.5 292.5,928.1 293.0,927.7 293.5,927.4 294.0,927.6 294.5,927.3 295.0,925.9 295.5,925.0 296.0,924.6 296.5,924.0 297.0,923.5 297.5,923.6 298.0,924.1 298.5,924.4 299.0,925.0 299.5,925.9 300.0,925.1 300.5,924.7 301.0,924.8 301.5,924.7 302.0,925.1 302.5,925.8 303.0,926.7 303.5,927.8 304.0,929.5 304.5,931.5 305.0,933.7 305.5,935.1 306.0,936.5 306.5,938.3 307.0,940.2 307.5,942.3 308.0,945.0 308.5,948.3 309.0,951.5 309.5,954.9 310.0,958.9 310.5,960.6 311.0,962.4 311.5,964.4 312.0,966.7 312.5,969.4 313.0,972.8 313.5,976.5 314.0,980.3 314.5,984.6 315.0,987.9 315.5,990.0 316.0,992.1 316.5,994.7 317.0,997.7 317.5,1001.0 318.0,1004.8 318.5,1008.8 319.0,1012.7 319.5,1016.8 320.0,1020.0 320.5,1023.0 321.0,1025.9 321.5,1028.7 322.0,1031.5 322.5,1034.5 323.0,1037.7 323.5,1041.0 324.0,1044.6 324.5,1048.1 325.0,1051.2 325.5,1053.0 326.0,1054.6 326.5,1056.1 327.0,1058.1 327.5,1060.4 328.0,1062.6 328.5,1064.9 329.0,1067.2 329.5,1069.5 330.0,1072.0 330.5,1073.8 331.0,1074.4 331.5,1075.0 332.0,1075.6 332.5,1076.0 333.0,1076.4 333.5,1076.7 334.0,1077.3 334.5,1078.2 335.0,1078.8 335.5,1079.1 336.0,1079.3 336.5,1079.2 337.0,1078.8 337.5,1078.8 338.0,1078.8 338.5,1078.6 339.0,1078.3 339.5,1077.9 340.0,1077.9 340.5,1078.1 341.0,1078.2 341.5,1078.5 342.0,1078.7 342.5,1078.0 343.0,1077.4 343.5,1076.6 344.0,1075.6 344.5,1075.0 345.0,1075.3 345.5,1075.6 346.0,1075.7 346.5,1076.0 347.0,1075.5 347.5,1074.3 348.0,1073.0 348.5,1072.0 349.0,1071.5 349.5,1071.2 350.0,1071.3 350.5,1071.4 351.0,1071.8 351.5,1071.8 352.0,1070.5 352.5,1069.2 353.0,1068.7 353.5,1068.3 354.0,1068.1 354.5,1068.4 355.0,1068.9 355.5,1069.7 356.0,1069.1 356.5,1068.1 357.0,1067.2 357.5,1066.7 358.0,1066.4 358.5,1066.5 359.0,1066.8 359.5,1067.5 360.0,1068.3 360.5,1067.6 361.0,1066.9 361.5,1066.5 362.0,1066.0 362.5,1065.7 363.0,1065.8 363.5,1066.0 364.0,1066.4 364.5,1066.7 365.0,1066.9 365.5,1066.6 366.0,1065.9 366.5,1065.3 367.0,1065.3 367.5,1065.6 368.0,1065.7 368.5,1066.3 369.0,1067.0 369.5,1067.4 370.0,1067.5 370.5,1066.8 371.0,1066.3 371.5,1065.9 372.0,1065.0 372.5,1064.0 373.0,1063.3 373.5,1062.6 374.0,1061.9 374.5,1061.7 375.0,1061.3 375.5,1060.9 376.0,1060.9 376.5,1060.1 377.0,1059.1 377.5,1058.2 378.0,1057.6 378.5,1057.2 379.0,1056.6 379.5,1055.8 380.0,1055.2 380.5,1055.0 381.0,1054.7 381.5,1054.4 382.0,1053.6 382.5,1052.6 383.0,1051.5 383.5,1050.3 384.0,1049.4 384.5,1048.7 385.0,1048.1 385.5,1047.5 386.0,1047.1 386.5,1047.0 387.0,1046.4 387.5,1045.4 388.0,1044.4 388.5,1043.4 389.0,1042.3 389.5,1041.3 390.0,1040.6 390.5,1039.8 391.0,1039.0 391.5,1038.6 392.0,1038.6 392.5,1038.8 393.0,1037.6 393.5,1035.9 394.0,1034.6 394.5,1033.6 395.0,1032.6 395.5,1031.6 396.0,1031.2 396.5,1031.1 397.0,1030.6 397.5,1030.2 398.0,1030.0 398.5,1028.5 399.0,1027.1 399.5,1025.9 400.0,1024.8 400.5,1023.6 401.0,1022.7 401.5,1022.3 402.0,1022.4 402.5,1022.6 403.0,1022.9 403.5,1021.5 404.0,1020.0 404.5,1018.6 405.0,1017.4 405.5,1016.7 406.0,1016.1 406.5,1015.7 407.0,1015.9 407.5,1016.0 408.0,1016.4 408.5,1016.7 409.0,1015.2 409.5,1014.0 410.0,1013.2 410.5,1012.2 411.0,1011.5 411.5,1010.6 412.0,1009.8 412.5,1009.6 413.0,1009.6 413.5,1009.3 414.0,1009.3 414.5,1009.6 415.0,1009.0 415.5,1008.0 416.0,1006.8 416.5,1005.5 417.0,1004.7 417.5,1004.3 418.0,1003.8 418.5,1003.4 419.0,1003.0 419.5,1002.6 420.0,1002.3 420.5,1002.5 421.0,1002.6 421.5,1002.2 422.0,1001.5 422.5,1000.9 423.0,1000.1 423.5,998.9 424.0,997.8 424.5,996.8 425.0,996.0 425.5,995.2 426.0,994.7 426.5,994.6 427.0,994.3 427.5,993.1 428.0,991.3 428.5,989.8 429.0,989.2 429.5,989.2 430.0,988.7 430.5,988.0 431.0,988.0 431.5,988.1 432.0,988.2 432.5,988.5 433.0,987.7 433.5,986.9 434.0,986.0 434.5,985.2 435.0,984.8 435.5,984.8 436.0,985.2 436.5,985.9 437.0,986.7 437.5,987.6 438.0,987.2 438.5,986.5 439.0,986.2 439.5,986.1 440.0,986.3 440.5,987.2 441.0,988.2 441.5,988.9 442.0,990.0 442.5,991.3 443.0,992.2 443.5,992.7 444.0,993.0 444.5,993.1 445.0,993.6 445.5,994.3 446.0,995.2 446.5,995.9 447.0,996.8 447.5,997.6 448.0,998.2 448.5,999.1 449.0,998.8 449.5,998.2 450.0,997.8 450.5,997.5 451.0,997.0 451.5,996.9 452.0,997.4 452.5,997.8 453.0,998.1 453.5,998.6 454.0,999.1 454.5,999.5 455.0,999.9 455.5,999.0 456.0,997.2 456.5,995.5 457.0,994.5 457.5,993.6 458.0,992.9 458.5,992.5 459.0,992.3 459.5,992.2 460.0,992.2 460.5,992.5 461.0,993.0 461.5,993.5 462.0,992.2 462.5,991.0 463.0,990.1 463.5,989.2 464.0,988.4 464.5,988.0 465.0,988.0 465.5,988.3 466.0,988.4 466.5,988.1 467.0,987.9 467.5,987.0 468.0,986.5 468.5,986.0 469.0,985.0 469.5,984.4 470.0,984.2 470.5,984.1 471.0,984.6 471.5,985.1 472.0,984.0 472.5,982.6 473.0,981.4 473.5,980.7 474.0,980.5 474.5,980.8 475.0,981.0 475.5,980.9 476.0,980.0 476.5,979.0 477.0,978.2 477.5,977.8 478.0,977.7 478.5,977.5 479.0,977.3 479.5,977.1 480.0,977.3 480.5,976.4 481.0,975.9 481.5,975.8 482.0,975.2 482.5,974.6 483.0,974.3 483.5,974.3 484.0,974.3 484.5,974.0 485.0,973.5 485.5,972.7 486.0,971.9 486.5,971.0 487.0,969.9 487.5,969.2 488.0,969.1 488.5,969.2 489.0,969.1 489.5,969.3 490.0,969.6 490.5,969.2 491.0,968.5 491.5,968.0 492.0,967.3 492.5,966.8 493.0,966.7 493.5,966.6 494.0,966.9 494.5,967.6 495.0,968.0 495.5,968.3 496.0,967.5 496.5,966.5 497.0,965.2 497.5,963.9 498.0,963.0 498.5,962.1 499.0,961.2 499.5,961.0 500.0,961.3 500.5,961.6 501.0,961.9 501.5,960.6 502.0,959.3 502.5,958.3 503.0,957.6 503.5,956.8 504.0,956.4 504.5,956.4 505.0,956.7 505.5,957.2 506.0,957.8 506.5,958.1 507.0,957.5 507.5,957.0 508.0,956.6 508.5,956.6 509.0,957.4 509.5,958.3 510.0,958.9 510.5,959.9 511.0,961.4 511.5,962.7 512.0,963.9 512.5,964.2 513.0,964.6 513.5,965.4 514.0,966.1 514.5,966.8 515.0,967.8 515.5,968.2 516.0,967.8 516.5,967.2 517.0,966.6 517.5,966.3 518.0,964.6 518.5,962.8 519.0,961.0 519.5,959.3 520.0,957.8 520.5,956.9 521.0,956.2 521.5,955.4 522.0,954.9 522.5,954.7 523.0,954.5 523.5,954.3 524.0,953.0 524.5,952.0 525.0,950.8 525.5,949.5 526.0,948.7 526.5,948.6 527.0,948.7 527.5,948.7 528.0,948.4 528.5,948.3 529.0,948.5 529.5,948.4 530.0,947.2 530.5,946.1 531.0,945.3 531.5,944.9 532.0,944.8 532.5,944.7 533.0,944.8 533.5,945.4 534.0,946.0 534.5,946.5 535.0,946.2 535.5,945.3 536.0,944.5 536.5,944.0 537.0,944.0 537.5,944.5 538.0,944.9 538.5,945.5 539.0,946.2 539.5,945.8 540.0,944.1 540.5,942.4 541.0,941.4 541.5,940.5 542.0,939.7 542.5,939.5 543.0,939.5 543.5,939.4 544.0,938.6 544.5,937.5 545.0,936.2 545.5,935.6 546.0,935.6 546.5,935.3 547.0,935.1 547.5,935.5 548.0,935.9 548.5,934.9 549.0,933.8 549.5,932.8 550.0,932.5 550.5,932.8 551.0,933.0 551.5,934.0 552.0,935.4 552.5,936.4 553.0,937.3 553.5,937.3 554.0,937.4 554.5,937.1 555.0,936.6 555.5,936.2 556.0,936.3 556.5,936.7 557.0,937.2 557.5,937.8 558.0,937.9 558.5,937.8 559.0,938.5 559.5,938.9 560.0,938.5 560.5,938.0 561.0,937.4 561.5,936.4 562.0,936.1 562.5,936.4 563.0,936.3 563.5,936.3 564.0,937.0 564.5,937.9 565.0,938.6 565.5,939.0 566.0,938.4 566.5,937.6 567.0,937.0 567.5,936.7 568.0,936.7 568.5,937.1 569.0,937.5 569.5,938.4 570.0,939.2 570.5,940.2 571.0,940.0 571.5,939.3 572.0,938.6 572.5,938.0 573.0,938.1 573.5,938.9 574.0,939.6 574.5,940.5 575.0,941.9 575.5,943.3 576.0,943.3 576.5,942.4 577.0,942.0 577.5,941.8 578.0,941.6 578.5,942.2 579.0,943.1 579.5,944.0 580.0,945.6 580.5,946.8 581.0,947.3 581.5,946.7 582.0,946.3 582.5,946.0 583.0,946.1 583.5,946.8 584.0,947.6 584.5,948.3 585.0,949.4 585.5,950.9 586.0,952.4 586.5,952.4 587.0,952.3 587.5,952.5 588.0,953.0 588.5,953.4 589.0,954.3 589.5,955.5 590.0,956.5 590.5,957.4 591.0,957.8 591.5,957.5 592.0,957.1 592.5,956.8 593.0,956.6 593.5,956.9 594.0,957.4 594.5,958.2 595.0,959.6 595.5,960.1 596.0,959.3 596.5,959.0 597.0,959.2 597.5,959.6 598.0,960.4 598.5,961.2 599.0,962.1 599.5,963.0 600.0,962.6 600.5,962.5 601.0,962.5 601.5,962.5 602.0,962.7 602.5,963.3 603.0,964.2 603.5,964.9 604.0,964.1 604.5,963.3 605.0,962.7 605.5,962.4 606.0,962.4 606.5,962.9 607.0,963.6 607.5,964.4 608.0,964.2 608.5,963.0 609.0,962.4 609.5,962.2 610.0,962.3 610.5,962.7 611.0,963.3 611.5,963.8 612.0,964.8 612.5,966.3 613.0,967.2 613.5,966.7 614.0,966.4 614.5,965.8 615.0,964.7 615.5,964.2 616.0,964.2 616.5,964.3 617.0,964.8 617.5,965.7 618.0,966.3 618.5,967.0 619.0,967.7 619.5,968.2 620.0,967.6 620.5,966.5 621.0,965.0 621.5,963.5 622.0,962.3 622.5,961.4 623.0,960.5 623.5,959.6 624.0,958.8 624.5,958.2 625.0,958.1 625.5,958.0 626.0,957.7 626.5,957.6 627.0,957.8 627.5,958.2 628.0,958.5 628.5,958.4 629.0,957.0 629.5,955.8 630.0,954.8 630.5,953.7 631.0,952.6 631.5,951.5 632.0,950.8 632.5,950.4 633.0,950.3 633.5,950.7 634.0,951.4 634.5,952.2 635.0,953.0 635.5,952.8 636.0,952.2 636.5,951.8 637.0,951.6 637.5,951.6 638.0,951.6 638.5,951.8 639.0,952.6 639.5,953.7 640.0,954.8 640.5,956.0 641.0,955.6 641.5,955.4 642.0,955.7 642.5,956.3 643.0,956.9 643.5,957.9 644.0,959.5 644.5,961.3 645.0,963.3 645.5,965.4 646.0,966.3 646.5,966.9 647.0,967.4 647.5,967.9 648.0,968.8 648.5,969.9 649.0,971.0 649.5,972.4 650.0,974.0 650.5,975.7 651.0,977.1 651.5,977.6 652.0,978.5 652.5,979.5 653.0,980.3 653.5,981.5 654.0,983.1 654.5,984.8 655.0,985.8 655.5,986.4 656.0,987.3 656.5,987.1 657.0,987.1 657.5,987.3 658.0,987.0 658.5,986.8 659.0,987.0 659.5,987.4 660.0,988.1 660.5,989.1 661.0,990.0 661.5,988.6 662.0,987.2 662.5,985.8 663.0,985.2 663.5,985.4 664.0,985.8 664.5,986.0 665.0,986.4 665.5,987.3 666.0,986.7 666.5,985.5 667.0,984.4 667.5,983.8 668.0,983.6 668.5,983.9 669.0,984.8 669.5,985.9 670.0,987.4 670.5,987.9 671.0,986.7 671.5,985.7 672.0,985.0 672.5,985.1 673.0,985.6 673.5,986.3 674.0,987.6 674.5,988.8 675.0,990.1 675.5,990.6 676.0,990.1 676.5,989.9 677.0,990.0 677.5,990.4 678.0,990.7 678.5,991.0 679.0,991.6 679.5,992.5 680.0,993.3 680.5,994.2 681.0,993.8 681.5,993.0 682.0,992.1 682.5,991.4 683.0,990.8 683.5,990.4 684.0,990.2 684.5,989.8 685.0,989.8 685.5,990.1 686.0,990.5 686.5,990.8 687.0,990.2 687.5,988.8 688.0,987.9 688.5,986.9 689.0,985.6 689.5,984.8 690.0,984.3 690.5,984.0 691.0,984.0 691.5,984.2 692.0,984.3 692.5,984.3 693.0,983.4 693.5,981.5 694.0,979.5 694.5,977.9 695.0,977.0 695.5,976.0 696.0,974.7 696.5,974.3 697.0,974.3 697.5,973.9 698.0,973.0 698.5,971.0 699.0,969.0 699.5,967.7 700.0,966.7 700.5,966.0 701.0,965.8 701.5,965.6 702.0,965.4 702.5,965.4 703.0,964.3 703.5,963.2 704.0,962.5 704.5,962.2 705.0,962.1 705.5,962.5 706.0,963.2 706.5,963.6 707.0,964.0 707.5,964.3 708.0,964.0 708.5,963.6 709.0,963.3 709.5,963.2 710.0,963.7 710.5,964.4 711.0,965.2 711.5,965.7 712.0,965.9 712.5,966.7 713.0,967.2 713.5,967.1 714.0,966.7 714.5,966.3 715.0,966.2 715.5,966.4 716.0,966.4 716.5,966.3 717.0,966.3 717.5,966.4 718.0,966.8 718.5,967.1 719.0,966.8 719.5,966.1 720.0,965.5 720.5,964.9 721.0,964.0 721.5,962.9 722.0,962.0 722.5,961.1 723.0,960.3 723.5,959.9 724.0,959.7 724.5,959.4 725.0,959.2 725.5,959.3 726.0,958.0 726.5,956.6 727.0,955.0 727.5,953.5 728.0,952.2 728.5,951.1 729.0,950.0 729.5,949.5 730.0,949.5 730.5,949.5 731.0,949.4 731.5,949.2 732.0,947.5 732.5,945.6 733.0,943.9 733.5,942.8 734.0,942.4 734.5,942.0 735.0,941.7 735.5,942.3 736.0,943.7 736.5,945.4 737.0,944.4 737.5,942.9 738.0,941.8 738.5,941.5 739.0,941.4 739.5,941.7 740.0,942.6 740.5,943.9 741.0,945.2 741.5,945.8 742.0,945.1 742.5,944.3 743.0,943.6 743.5,943.6 744.0,944.2 744.5,944.8 745.0,946.0 745.5,947.1 746.0,947.0 746.5,946.2 747.0,945.8 747.5,945.8 748.0,945.9 748.5,945.8 749.0,946.0 749.5,946.5 750.0,947.1 750.5,948.1 751.0,947.3 751.5,946.0 752.0,945.1 752.5,944.3 753.0,943.8 753.5,944.0 754.0,944.0 754.5,944.1 755.0,944.8 755.5,945.5 756.0,945.4 756.5,944.4 757.0,943.2 757.5,942.2 758.0,941.8 758.5,941.5 759.0,941.2 759.5,941.2 760.0,941.6 760.5,942.6 761.0,943.8 761.5,944.2 762.0,943.4 762.5,942.5 763.0,941.4 763.5,940.9 764.0,941.0 764.5,941.1 765.0,941.6 765.5,942.4 766.0,943.5 766.5,944.8 767.0,943.9 767.5,942.9 768.0,941.9 768.5,941.4 769.0,941.6 769.5,941.8 770.0,942.0 770.5,943.1 771.0,944.5 771.5,945.7 772.0,944.6 772.5,943.6 773.0,942.7 773.5,942.1 774.0,942.1 774.5,942.4 775.0,943.2 775.5,944.4 776.0,945.5 776.5,945.4 777.0,944.6 777.5,944.1 778.0,943.6 778.5,943.5 779.0,944.0 779.5,944.7 780.0,945.5 780.5,946.5 781.0,946.5 781.5,945.6 782.0,945.0 782.5,945.2 783.0,945.3 783.5,945.3 784.0,945.9 784.5,946.6 785.0,947.4 785.5,948.0 786.0,947.8 786.5,947.7 787.0,947.8 787.5,947.6 788.0,947.4 788.5,947.7 789.0,948.3 789.5,948.7 790.0,949.4 790.5,949.6 791.0,949.4 791.5,949.5 792.0,949.3 792.5,949.0 793.0,949.0 793.5,949.0 794.0,949.5 794.5,949.9 795.0,950.0 795.5,950.5 796.0,950.1 796.5,949.1 797.0,948.5 797.5,948.1 798.0,947.9 798.5,948.0 799.0,948.2 799.5,948.3 800.0,948.7 800.5,949.4 801.0,950.1 801.5,950.7 802.0,951.1 802.5,950.8 803.0,950.5 803.5,950.2 804.0,949.7 804.5,949.3 805.0,949.0 805.5,949.0 806.0,949.3 806.5,949.6 807.0,950.1 807.5,950.6 808.0,950.8 808.5,951.3 809.0,951.9 809.5,951.9 810.0,951.5 810.5,951.1 811.0,950.7 811.5,950.2 812.0,949.9 812.5,949.9 813.0,950.1 813.5,950.6 814.0,950.7 814.5,950.8 815.0,951.3 815.5,951.9 816.0,951.5 816.5,950.9 817.0,950.3 817.5,949.6 818.0,949.2 818.5,949.1 819.0,948.9 819.5,949.1 820.0,949.4 820.5,949.7 821.0,950.5 821.5,950.8 822.0,949.7 822.5,948.8 823.0,948.8 823.5,948.8 824.0,948.6 824.5,948.9 825.0,949.8 825.5,950.8 826.0,951.6 826.5,951.0 827.0,950.8 827.5,950.5 828.0,950.2 828.5,950.5 829.0,951.2 829.5,952.1 830.0,953.3 830.5,953.4 831.0,952.9 831.5,952.3 832.0,951.7 832.5,951.3 833.0,951.8 833.5,952.6 834.0,953.4 834.5,954.3 835.0,953.5 835.5,952.4 836.0,951.6 836.5,951.0 837.0,951.0 837.5,951.6 838.0,952.5 838.5,953.5 839.0,953.3 839.5,951.6 840.0,950.3 840.5,949.6 841.0,949.3 841.5,949.5 842.0,949.9 842.5,950.3 843.0,950.9 843.5,952.2 844.0,952.3 844.5,952.5 845.0,953.3 845.5,954.5 846.0,955.8 846.5,957.3 847.0,958.9 847.5,960.8 848.0,963.6 848.5,966.4 849.0,968.4 849.5,970.3 850.0,971.4 850.5,972.3 851.0,973.6 851.5,975.0 852.0,976.4 852.5,977.8 853.0,979.3 853.5,981.0 854.0,982.7 854.5,984.1 855.0,985.5 855.5,987.2 856.0,988.9 856.5,990.4 857.0,991.9 857.5,993.4 858.0,993.4 858.5,993.7 859.0,994.6 859.5,995.4 860.0,995.6 860.5,995.9 861.0,996.3 861.5,997.0 862.0,997.7 862.5,998.1 863.0,998.7 863.5,999.5 864.0,1000.2 864.5,1001.1 865.0,1002.0 865.5,1001.8 866.0,1001.4 866.5,1000.5 867.0,998.6 867.5,996.9 868.0,995.8 868.5,994.9 869.0,994.4 869.5,994.4 870.0,994.6 870.5,993.7 871.0,991.8 871.5,990.1 872.0,988.6 872.5,987.4 873.0,987.0 873.5,987.2 874.0,987.3 874.5,985.7 875.0,983.4 875.5,981.6 876.0,980.5 876.5,979.9 877.0,979.7 877.5,979.5 878.0,978.9 878.5,976.9 879.0,975.1 879.5,973.9 880.0,973.2 880.5,972.9 881.0,973.2 881.5,973.8 882.0,973.4 882.5,972.4 883.0,971.8 883.5,971.4 884.0,971.0 884.5,970.6 885.0,970.5 885.5,971.0 886.0,972.0 886.5,972.9 887.0,972.3 887.5,971.6 888.0,971.0 888.5,970.9 889.0,970.8 889.5,970.3 890.0,970.1 890.5,970.6 891.0,971.4 891.5,972.1 892.0,972.4 892.5,972.8 893.0,972.8 893.5,972.1 894.0,971.0 894.5,970.2 895.0,969.5 895.5,968.7 896.0,968.2 896.5,967.8 897.0,967.8 897.5,968.3 898.0,969.0 898.5,969.7 899.0,970.2 899.5,969.7 900.0,968.2 900.5,966.6 901.0,965.4 901.5,964.3 902.0,963.3 902.5,962.8 903.0,962.1 903.5,961.6 904.0,961.6 904.5,961.8 905.0,960.5 905.5,959.1 906.0,958.0 906.5,957.0 907.0,956.5 907.5,956.5 908.0,956.4 908.5,956.1 909.0,956.0 909.5,955.6 910.0,954.7 910.5,953.9 911.0,953.0 911.5,952.4 912.0,952.2 912.5,952.2 913.0,952.4 913.5,952.4 914.0,952.3 914.5,952.3 915.0,951.6 915.5,951.3 916.0,951.0 916.5,950.3 917.0,949.8 917.5,949.5 918.0,949.5 918.5,950.0 919.0,950.2 919.5,950.2 920.0,950.8 920.5,951.7 921.0,951.3 921.5,950.8 922.0,950.4 922.5,950.3 923.0,950.1 923.5,950.0 924.0,950.3 924.5,951.2 925.0,951.9 925.5,952.2 926.0,952.9 926.5,953.7 927.0,953.4 927.5,953.2 928.0,953.2 928.5,953.3 929.0,953.3 929.5,953.8 930.0,954.5 930.5,955.2 931.0,956.3 931.5,956.4 932.0,955.3 932.5,954.4 933.0,953.5 933.5,952.9 934.0,953.0 934.5,953.8 935.0,954.9 935.5,956.0 936.0,954.7 936.5,953.5 937.0,952.4 937.5,951.9 938.0,952.3 938.5,953.0 939.0,953.6 939.5,954.4 940.0,952.8 940.5,951.7 941.0,951.0 941.5,950.6 942.0,950.4 942.5,950.8 943.0,951.9 943.5,952.9 944.0,952.3 944.5,950.9 945.0,950.1 945.5,949.3 946.0,949.4 946.5,949.6 947.0,949.5 947.5,949.7 948.0,950.5 948.5,951.5 949.0,952.3 949.5,951.6 950.0,950.7 950.5,950.0 951.0,949.9 951.5,950.0 952.0,950.0 952.5,949.9 953.0,950.3 953.5,950.8 954.0,951.3 954.5,952.2 955.0,953.1 955.5,952.6 956.0,952.1 956.5,951.6 957.0,951.2 957.5,951.0 958.0,950.8 958.5,950.9 959.0,951.2 959.5,951.7 960.0,952.2 960.5,953.0 961.0,954.0 961.5,954.7 962.0,953.9 962.5,953.0 963.0,952.4 963.5,952.3 964.0,952.6 964.5,952.9 965.0,953.0 965.5,953.5 966.0,954.3 966.5,954.8 967.0,955.2 967.5,955.2 968.0,955.0 968.5,954.9 969.0,954.5 969.5,954.5 970.0,954.7 970.5,955.0 971.0,955.3 971.5,955.8 972.0,956.4 972.5,956.9 973.0,957.1 973.5,956.7 974.0,956.4 974.5,956.4 975.0,956.5 975.5,956.2 976.0,956.4 976.5,957.0 977.0,957.4 977.5,957.6 978.0,957.8 978.5,958.0 979.0,957.8 979.5,957.9 980.0,957.9 980.5,957.8 981.0,957.8 981.5,957.5 982.0,957.3 982.5,957.7 983.0,958.2 983.5,958.6 984.0,958.8 984.5,958.0 985.0,957.5 985.5,957.2 986.0,956.9 986.5,956.4 987.0,956.1 987.5,956.0 988.0,955.9 988.5,956.3 989.0,956.8 989.5,957.1 990.0,956.8 990.5,956.0 991.0,955.3 991.5,954.8 992.0,954.3 992.5,953.8 993.0,953.7 993.5,954.0 994.0,954.2 994.5,954.7 995.0,955.6 995.5,955.8 996.0,954.8 996.5,953.8 997.0,952.6 997.5,951.9 998.0,951.5 998.5,951.7 999.0,952.6 999.5,953.8 1000.0,955.0 1000.5,956.3 1001.0,956.2 1001.5,955.5 1002.0,954.8 1002.5,954.9 1003.0,955.5 1003.5,956.2 1004.0,957.4 1004.5,958.6 1005.0,959.8 1005.5,961.2 1006.0,961.4 1006.5,961.0 1007.0,960.8 1007.5,961.0 1008.0,961.4 1008.5,961.9 1009.0,962.7 1009.5,963.8 1010.0,965.1 1010.5,966.3 1011.0,966.0 1011.5,965.0 1012.0,964.2 1012.5,963.5 1013.0,963.1 1013.5,962.8 1014.0,962.7 1014.5,963.2 1015.0,964.6 1015.5,965.5 1016.0,965.9 1016.5,965.8 1017.0,965.4 1017.5,965.0 1018.0,964.1 1018.5,963.3 1019.0,963.2 1019.5,963.4 1020.0,963.7 1020.5,964.0 1021.0,964.2 1021.5,964.3 1022.0,964.9 1022.5,965.7 1023.0,965.0 1023.5,963.7 1024.0,962.9 1024.5,962.4 1025.0,961.7 1025.5,961.0 1026.0,960.6 1026.5,960.5 1027.0,960.7 1027.5,961.1 1028.0,961.8 1028.5,962.2 1029.0,960.9 1029.5,959.8 1030.0,958.9 1030.5,958.3 1031.0,958.1 1031.5,958.1 1032.0,958.3 1032.5,958.9 1033.0,959.4 1033.5,960.3 1034.0,959.5 1034.5,958.4 1035.0,957.5 1035.5,957.3 1036.0,957.4 1036.5,957.6 1037.0,958.0 1037.5,959.3 1038.0,960.0 1038.5,959.1 1039.0,958.2 1039.5,957.6 1040.0,957.6 1040.5,957.9 1041.0,958.8 1041.5,960.4 1042.0,960.3 1042.5,959.4 1043.0,958.9 1043.5,959.0 1044.0,959.6 1044.5,960.3 1045.0,961.1 1045.5,962.1 1046.0,962.0 1046.5,961.8 1047.0,961.5 1047.5,961.9 1048.0,962.5 1048.5,963.3 1049.0,965.1 1049.5,966.5 1050.0,967.1 1050.5,966.6 1051.0,966.8 1051.5,967.4 1052.0,967.5 1052.5,967.5 1053.0,967.9 1053.5,968.7 1054.0,969.6 1054.5,970.5 1055.0,971.6 1055.5,972.2 1056.0,972.1 1056.5,971.9 1057.0,971.7 1057.5,971.8 1058.0,971.7 1058.5,971.9 1059.0,972.5 1059.5,973.3 1060.0,974.0 1060.5,974.6 1061.0,975.6 1061.5,977.3 1062.0,979.0 1062.5,979.1 1063.0,978.8 1063.5,978.8 1064.0,978.9 1064.5,979.5 1065.0,980.4 1065.5,981.2 1066.0,981.9 1066.5,982.6 1067.0,983.5 1067.5,984.6 1068.0,985.6 1068.5,986.7 1069.0,987.6 1069.5,987.6 1070.0,987.5 1070.5,987.3 1071.0,987.3 1071.5,987.2 1072.0,987.2 1072.5,987.5 1073.0,987.6 1073.5,987.6 1074.0,987.6 1074.5,987.5 1075.0,987.5 1075.5,986.9 1076.0,986.6 1076.5,986.4 1077.0,985.8 1077.5,985.0 1078.0,984.7 1078.5,985.0 1079.0,985.0 1079.5,984.9 1080.0,984.7 1080.5,984.2 1081.0,982.9 1081.5,982.1 1082.0,981.4 1082.5,980.6 1083.0,979.7 1083.5,979.2 1084.0,978.9 1084.5,978.6 1085.0,978.4 1085.5,977.8 1086.0,976.8 1086.5,975.9 1087.0,975.1 1087.5,974.0 1088.0,973.1 1088.5,972.9 1089.0,973.1 1089.5,973.3 1090.0,972.1 1090.5,970.6 1091.0,969.5 1091.5,968.5 1092.0,967.6 1092.5,966.8 1093.0,966.5 1093.5,966.5 1094.0,966.9 1094.5,965.5 1095.0,963.8 1095.5,962.3 1096.0,961.1 1096.5,960.5 1097.0,960.1 1097.5,959.9 1098.0,959.8 1098.5,959.9 1099.0,958.9 1099.5,957.2 1100.0,955.6 1100.5,954.1 1101.0,953.1 1101.5,952.7 1102.0,952.5 1102.5,952.7 1103.0,953.7 1103.5,954.7 1104.0,954.6 1104.5,953.2 1105.0,952.2 1105.5,951.7 1106.0,951.4 1106.5,950.7 1107.0,950.4 1107.5,950.8 1108.0,951.6 1108.5,952.4 1109.0,953.0 1109.5,953.9 1110.0,953.3 1110.5,952.8 1111.0,952.3 1111.5,951.9 1112.0,951.7 1112.5,951.8 1113.0,951.9 1113.5,952.2 1114.0,953.1 1114.5,954.4 1115.0,955.8 1115.5,956.7 1116.0,956.0 1116.5,955.7 1117.0,955.5 1117.5,955.5 1118.0,955.4 1118.5,955.9 1119.0,956.8 1119.5,957.8 1120.0,958.8 1120.5,959.9 1121.0,961.2 1121.5,961.9 1122.0,961.6 1122.5,961.4 1123.0,961.2 1123.5,961.2 1124.0,961.6 1124.5,962.6 1125.0,963.8 1125.5,965.3 1126.0,966.7 1126.5,967.9 1127.0,968.5 1127.5,968.0 1128.0,967.9 1128.5,967.9 1129.0,968.1 1129.5,968.6 1130.0,969.3 1130.5,970.0 1131.0,970.9 1131.5,972.0 1132.0,973.2 1132.5,973.2 1133.0,972.5 1133.5,972.4 1134.0,972.3 1134.5,972.1 1135.0,972.0 1135.5,972.1 1136.0,972.6 1136.5,973.5 1137.0,974.5 1137.5,975.4 1138.0,974.9 1138.5,974.2 1139.0,973.7 1139.5,973.3 1140.0,973.5 1140.5,973.9 1141.0,973.9 1141.5,974.2 1142.0,975.0 1142.5,976.0 1143.0,975.7 1143.5,974.4 1144.0,973.5 1144.5,972.9 1145.0,972.4 1145.5,972.4 1146.0,972.4 1146.5,972.3 1147.0,972.5 1147.5,972.7 1148.0,971.9 1148.5,971.1 1149.0,970.0 1149.5,969.4 1150.0,969.1 1150.5,968.7 1151.0,968.5 1151.5,968.6 1152.0,968.8 1152.5,967.5 1153.0,966.3 1153.5,965.3 1154.0,964.4 1154.5,964.0 1154.5,975.6 1154.0,975.7 1153.5,975.8 1153.0,975.8 1152.5,975.7 1152.0,975.3 1151.5,975.9 1151.0,976.8 1150.5,977.9 1150.0,979.0 1149.5,979.6 1149.0,979.5 1148.5,979.2 1148.0,979.1 1147.5,978.7 1147.0,979.6 1146.5,980.8 1146.0,981.7 1145.5,982.4 1145.0,983.1 1144.5,983.2 1144.0,983.1 1143.5,983.0 1143.0,982.5 1142.5,982.5 1142.0,983.5 1141.5,984.4 1141.0,984.9 1140.5,985.1 1140.0,985.1 1139.5,984.8 1139.0,984.2 1138.5,983.8 1138.0,983.3 1137.5,982.8 1137.0,983.7 1136.5,984.5 1136.0,984.8 1135.5,985.0 1135.0,985.1 1134.5,985.0 1134.0,985.0 1133.5,984.5 1133.0,983.4 1132.5,982.2 1132.0,981.9 1131.5,982.3 1131.0,982.6 1130.5,983.0 1130.0,983.1 1129.5,983.3 1129.0,982.9 1128.5,981.8 1128.0,980.8 1127.5,979.7 1127.0,978.1 1126.5,977.5 1126.0,977.7 1125.5,977.8 1125.0,978.1 1124.5,978.1 1124.0,977.3 1123.5,976.1 1123.0,974.9 1122.5,974.1 1122.0,973.0 1121.5,971.2 1121.0,970.7 1120.5,971.3 1120.0,971.5 1119.5,971.6 1119.0,971.6 1118.5,971.4 1118.0,970.7 1117.5,969.6 1117.0,968.6 1116.5,967.6 1116.0,966.5 1115.5,965.5 1115.0,965.9 1114.5,966.2 1114.0,966.2 1113.5,966.4 1113.0,966.6 1112.5,966.7 1112.0,966.3 1111.5,965.7 1111.0,965.0 1110.5,964.2 1110.0,963.6 1109.5,963.1 1109.0,964.1 1108.5,964.6 1108.0,965.2 1107.5,965.8 1107.0,966.2 1106.5,966.7 1106.0,967.0 1105.5,967.0 1105.0,966.4 1104.5,965.3 1104.0,964.2 1103.5,964.7 1103.0,966.3 1102.5,967.5 1102.0,968.5 1101.5,969.7 1101.0,970.5 1100.5,970.6 1100.0,970.5 1099.5,970.3 1099.0,969.8 1098.5,970.1 1098.0,971.8 1097.5,973.4 1097.0,974.3 1096.5,975.0 1096.0,975.6 1095.5,975.7 1095.0,975.4 1094.5,975.2 1094.0,975.4 1093.5,977.0 1093.0,978.1 1092.5,979.1 1092.0,980.1 1091.5,980.6 1091.0,980.5 1090.5,980.2 1090.0,980.0 1089.5,980.2 1089.0,981.6 1088.5,983.4 1088.0,984.8 1087.5,985.0 1087.0,984.9 1086.5,985.2 1086.0,985.2 1085.5,985.1 1085.0,985.7 1084.5,986.9 1084.0,987.9 1083.5,988.9 1083.0,989.7 1082.5,990.0 1082.0,989.8 1081.5,989.6 1081.0,989.3 1080.5,988.9 1080.0,989.9 1079.5,991.0 1079.0,991.4 1078.5,991.7 1078.0,992.1 1077.5,992.2 1077.0,992.2 1076.5,992.1 1076.0,992.1 1075.5,992.4 1075.0,992.5 1074.5,993.2 1074.0,993.8 1073.5,994.0 1073.0,994.1 1072.5,994.3 1072.0,994.5 1071.5,994.4 1071.0,994.3 1070.5,994.2 1070.0,993.9 1069.5,993.4 1069.0,992.9 1068.5,992.9 1068.0,993.1 1067.5,993.2 1067.0,993.5 1066.5,994.0 1066.0,994.2 1065.5,994.0 1065.0,993.5 1064.5,993.1 1064.0,992.7 1063.5,991.6 1063.0,990.6 1062.5,989.6 1062.0,988.2 1061.5,987.7 1061.0,987.4 1060.5,987.3 1060.0,987.4 1059.5,987.1 1059.0,986.9 1058.5,986.4 1058.0,985.5 1057.5,984.6 1057.0,983.3 1056.5,981.9 1056.0,981.0 1055.5,980.2 1055.0,979.5 1054.5,979.3 1054.0,979.5 1053.5,979.3 1053.0,979.1 1052.5,978.9 1052.0,978.3 1051.5,977.5 1051.0,976.6 1050.5,975.5 1050.0,974.2 1049.5,973.9 1049.0,973.9 1048.5,973.9 1048.0,974.0 1047.5,973.6 1047.0,972.9 1046.5,972.1 1046.0,970.6 1045.5,969.3 1045.0,970.4 1044.5,971.0 1044.0,971.2 1043.5,971.3 1043.0,970.7 1042.5,969.6 1042.0,968.4 1041.5,967.6 1041.0,968.3 1040.5,968.9 1040.0,969.5 1039.5,969.8 1039.0,969.2 1038.5,968.1 1038.0,967.0 1037.5,967.4 1037.0,968.6 1036.5,969.1 1036.0,969.4 1035.5,969.4 1035.0,969.2 1034.5,968.7 1034.0,967.9 1033.5,967.3 1033.0,968.2 1032.5,968.9 1032.0,969.7 1031.5,970.4 1031.0,970.7 1030.5,970.4 1030.0,970.3 1029.5,970.3 1029.0,969.6 1028.5,968.9 1028.0,970.2 1027.5,971.4 1027.0,972.4 1026.5,973.2 1026.0,974.0 1025.5,974.3 1025.0,974.3 1024.5,974.3 1024.0,974.3 1023.5,973.9 1023.0,973.5 1022.5,973.0 1022.0,973.6 1021.5,974.7 1021.0,975.8 1020.5,976.6 1020.0,977.2 1019.5,977.3 1019.0,977.2 1018.5,977.4 1018.0,977.5 1017.5,976.9 1017.0,975.9 1016.5,975.0 1016.0,975.2 1015.5,976.1 1015.0,976.8 1014.5,977.3 1014.0,978.1 1013.5,978.3 1013.0,977.9 1012.5,977.5 1012.0,976.9 1011.5,975.9 1011.0,975.3 1010.5,975.3 1010.0,975.7 1009.5,976.2 1009.0,976.8 1008.5,976.9 1008.0,976.2 1007.5,975.3 1007.0,974.1 1006.5,972.6 1006.0,971.2 1005.5,970.7 1005.0,971.2 1004.5,971.8 1004.0,972.2 1003.5,972.0 1003.0,971.4 1002.5,970.8 1002.0,969.9 1001.5,968.4 1001.0,967.0 1000.5,966.0 1000.0,966.6 999.5,967.4 999.0,968.1 998.5,968.4 998.0,968.1 997.5,967.7 997.0,967.4 996.5,966.7 996.0,965.7 995.5,964.6 995.0,964.7 994.5,965.5 994.0,966.2 993.5,966.5 993.0,966.3 992.5,966.4 992.0,966.2 991.5,965.8 991.0,965.3 990.5,964.5 990.0,963.6 989.5,963.4 989.0,964.0 988.5,964.3 988.0,964.5 987.5,965.0 987.0,965.2 986.5,965.1 986.0,964.8 985.5,964.3 985.0,963.6 984.5,962.7 984.0,962.2 983.5,963.0 983.0,963.8 982.5,964.1 982.0,963.8 981.5,963.8 981.0,964.1 980.5,964.1 980.0,964.0 979.5,963.7 979.0,963.2 978.5,962.8 978.0,962.9 977.5,963.2 977.0,963.1 976.5,962.9 976.0,963.0 975.5,962.7 975.0,962.4 974.5,962.6 974.0,962.4 973.5,961.8 973.0,961.4 972.5,961.5 972.0,962.0 971.5,962.5 971.0,962.8 970.5,963.0 970.0,963.1 969.5,963.0 969.0,963.1 968.5,962.9 968.0,962.3 967.5,961.7 967.0,961.9 966.5,962.5 966.0,963.1 965.5,963.7 965.0,964.0 964.5,963.9 964.0,963.5 963.5,963.2 963.0,963.2 962.5,962.8 962.0,962.1 961.5,961.5 961.0,962.2 960.5,963.0 960.0,963.6 959.5,963.9 959.0,964.0 958.5,963.9 958.0,963.7 957.5,963.6 957.0,963.3 956.5,962.7 956.0,962.1 955.5,961.3 955.0,960.4 954.5,960.8 954.0,961.6 953.5,962.6 953.0,963.2 952.5,963.3 952.0,963.2 951.5,963.4 951.0,963.3 950.5,962.9 950.0,962.1 949.5,961.1 949.0,960.2 948.5,960.7 948.0,961.9 947.5,962.9 947.0,963.7 946.5,964.6 946.0,965.2 945.5,965.2 945.0,965.0 944.5,964.6 944.0,963.5 943.5,963.1 943.0,964.5 942.5,966.2 942.0,967.3 941.5,967.6 941.0,967.5 940.5,967.2 940.0,966.1 939.5,964.5 939.0,965.9 938.5,967.5 938.0,968.6 937.5,968.9 937.0,968.6 936.5,967.6 936.0,966.0 935.5,964.4 935.0,965.8 934.5,967.1 934.0,967.8 933.5,967.8 933.0,967.6 932.5,967.0 932.0,965.8 931.5,964.4 931.0,964.5 930.5,965.3 930.0,965.7 929.5,966.0 929.0,965.7 928.5,964.9 928.0,964.0 927.5,963.3 927.0,961.8 926.5,960.3 926.0,960.2 925.5,960.1 925.0,959.9 924.5,960.0 924.0,960.0 923.5,960.0 923.0,959.9 922.5,959.3 922.0,958.8 921.5,958.2 921.0,957.4 920.5,956.9 920.0,957.5 919.5,958.0 919.0,958.4 918.5,958.6 918.0,958.8 917.5,959.1 917.0,959.2 916.5,958.9 916.0,958.6 915.5,958.4 915.0,958.4 914.5,958.3 914.0,958.9 913.5,959.7 913.0,960.6 912.5,961.1 912.0,961.5 911.5,962.0 911.0,962.0 910.5,961.8 910.0,961.6 909.5,961.3 909.0,962.2 908.5,963.5 908.0,964.7 907.5,966.0 907.0,967.0 906.5,967.6 906.0,968.1 905.5,969.0 905.0,969.5 904.5,970.0 904.0,971.8 903.5,973.2 903.0,974.7 902.5,976.6 902.0,978.2 901.5,979.1 901.0,979.6 900.5,979.7 900.0,979.2 899.5,978.3 899.0,978.2 898.5,979.4 898.0,980.3 897.5,981.0 897.0,981.2 896.5,981.3 896.0,981.6 895.5,981.6 895.0,981.3 894.5,980.8 894.0,980.6 893.5,980.5 893.0,980.0 892.5,979.8 892.0,980.1 891.5,980.6 891.0,981.3 890.5,981.4 890.0,981.2 889.5,981.4 889.0,981.4 888.5,980.9 888.0,980.2 887.5,979.6 887.0,979.0 886.5,978.5 886.0,979.3 885.5,980.0 885.0,980.7 884.5,981.4 884.0,981.7 883.5,982.0 883.0,981.9 882.5,981.7 882.0,981.3 881.5,981.6 881.0,983.0 880.5,984.5 880.0,985.8 879.5,986.9 879.0,987.7 878.5,988.2 878.0,988.2 877.5,989.2 877.0,990.9 876.5,992.8 876.0,994.5 875.5,995.6 875.0,995.9 874.5,995.4 874.0,995.9 873.5,998.2 873.0,1000.4 872.5,1002.2 872.0,1003.3 871.5,1003.5 871.0,1003.4 870.5,1003.5 870.0,1004.6 869.5,1006.5 869.0,1008.3 868.5,1009.9 868.0,1011.1 867.5,1012.1 867.0,1012.7 866.5,1012.3 866.0,1011.4 865.5,1010.5 865.0,1010.2 864.5,1011.2 864.0,1011.7 863.5,1012.0 863.0,1012.2 862.5,1012.3 862.0,1012.4 861.5,1012.2 861.0,1012.0 860.5,1011.5 860.0,1010.2 859.5,1008.5 859.0,1007.0 858.5,1005.8 858.0,1004.7 857.5,1003.2 857.0,1002.5 856.5,1002.1 856.0,1001.7 855.5,1001.2 855.0,1000.2 854.5,998.9 854.0,997.7 853.5,996.3 853.0,994.9 852.5,993.4 852.0,991.7 851.5,989.9 851.0,987.7 850.5,985.5 850.0,983.2 849.5,980.7 849.0,979.1 848.5,978.3 848.0,977.3 847.5,976.0 847.0,974.6 846.5,973.4 846.0,972.1 845.5,970.6 845.0,968.9 844.5,966.9 844.0,964.3 843.5,962.0 843.0,961.9 842.5,962.1 842.0,962.7 841.5,963.6 841.0,964.4 840.5,964.5 840.0,964.0 839.5,963.1 839.0,962.2 838.5,962.7 838.0,963.9 837.5,964.8 837.0,965.7 836.5,965.6 836.0,964.7 835.5,963.8 835.0,962.7 834.5,961.3 834.0,961.6 833.5,962.4 833.0,962.9 832.5,962.8 832.0,962.4 831.5,962.0 831.0,961.4 830.5,960.4 830.0,959.6 829.5,959.9 829.0,960.1 828.5,960.5 828.0,960.8 827.5,960.3 827.0,959.3 826.5,958.6 826.0,957.9 825.5,958.3 825.0,958.8 824.5,959.5 824.0,959.7 823.5,959.5 823.0,959.6 822.5,959.5 822.0,959.0 821.5,958.4 821.0,958.5 820.5,959.4 820.0,960.1 819.5,960.2 819.0,960.4 818.5,960.6 818.0,961.1 817.5,961.0 817.0,960.3 816.5,959.8 816.0,959.5 815.5,959.2 815.0,959.5 814.5,959.9 814.0,960.4 813.5,960.7 813.0,960.7 812.5,960.4 812.0,960.2 811.5,960.1 811.0,959.8 810.5,959.4 810.0,958.9 809.5,958.3 809.0,958.4 808.5,959.0 808.0,959.7 807.5,960.3 807.0,960.5 806.5,960.5 806.0,960.8 805.5,961.3 805.0,961.4 804.5,961.2 804.0,960.7 803.5,960.0 803.0,959.4 802.5,958.8 802.0,958.3 801.5,958.8 801.0,959.2 800.5,959.4 800.0,959.6 799.5,959.8 799.0,959.4 798.5,958.9 798.0,958.6 797.5,958.4 797.0,958.0 796.5,957.4 796.0,956.5 795.5,955.9 795.0,956.4 794.5,956.9 794.0,956.8 793.5,956.5 793.0,956.5 792.5,956.5 792.0,955.8 791.5,955.5 791.0,955.2 790.5,954.6 790.0,954.6 789.5,955.1 789.0,955.1 788.5,955.0 788.0,954.9 787.5,954.4 787.0,954.0 786.5,953.8 786.0,953.3 785.5,952.6 785.0,952.7 784.5,953.4 784.0,953.9 783.5,954.4 783.0,954.9 782.5,954.9 782.0,954.5 781.5,954.1 781.0,953.6 780.5,953.6 780.0,954.4 779.5,955.5 779.0,956.2 778.5,956.4 778.0,956.4 777.5,956.6 777.0,956.4 776.5,955.4 776.0,955.6 775.5,956.8 775.0,957.6 774.5,958.5 774.0,958.8 773.5,958.7 773.0,958.4 772.5,957.6 772.0,956.7 771.5,955.5 771.0,956.4 770.5,957.4 770.0,958.3 769.5,958.9 769.0,959.1 768.5,958.7 768.0,958.0 767.5,956.9 767.0,955.7 766.5,954.8 766.0,956.0 765.5,957.4 765.0,958.6 764.5,959.2 764.0,959.0 763.5,958.4 763.0,957.7 762.5,957.0 762.0,956.1 761.5,954.6 761.0,954.5 760.5,955.3 760.0,955.9 759.5,956.5 759.0,956.9 758.5,957.0 758.0,956.9 757.5,956.7 757.0,956.0 756.5,954.9 756.0,953.9 755.5,954.1 755.0,955.2 754.5,956.1 754.0,956.6 753.5,956.7 753.0,956.7 752.5,956.3 752.0,955.7 751.5,955.2 751.0,954.8 750.5,954.1 750.0,955.0 749.5,956.0 749.0,956.6 748.5,957.0 748.0,957.1 747.5,956.9 747.0,956.4 746.5,955.4 746.0,954.6 745.5,955.1 745.0,956.1 744.5,956.9 744.0,957.5 743.5,957.9 743.0,957.9 742.5,957.5 742.0,956.7 741.5,955.7 741.0,956.1 740.5,957.3 740.0,958.2 739.5,958.8 739.0,959.1 738.5,959.2 738.0,958.7 737.5,957.7 737.0,956.3 736.5,955.1 736.0,956.6 735.5,957.6 735.0,958.2 734.5,959.0 734.0,959.7 733.5,960.6 733.0,961.0 732.5,960.9 732.0,960.4 731.5,959.6 731.0,960.7 730.5,962.1 730.0,963.1 729.5,964.2 729.0,965.3 728.5,965.9 728.0,966.1 727.5,965.9 727.0,966.0 726.5,966.4 726.0,966.3 725.5,966.0 725.0,967.1 724.5,968.5 724.0,969.6 723.5,970.7 723.0,971.5 722.5,972.1 722.0,972.3 721.5,972.4 721.0,972.6 720.5,972.4 720.0,971.9 719.5,971.7 719.0,971.7 718.5,972.2 718.0,972.7 717.5,973.3 717.0,974.2 716.5,974.7 716.0,974.9 715.5,975.2 715.0,974.9 714.5,974.4 714.0,974.1 713.5,973.7 713.0,972.8 712.5,972.5 712.0,973.1 711.5,973.4 711.0,973.6 710.5,973.6 710.0,973.3 709.5,972.9 709.0,972.7 708.5,972.1 708.0,970.9 707.5,970.0 707.0,969.9 706.5,970.2 706.0,970.7 705.5,971.0 705.0,971.4 704.5,971.6 704.0,971.5 703.5,971.3 703.0,971.3 702.5,971.3 702.0,972.7 701.5,974.1 701.0,975.4 700.5,976.7 700.0,977.9 699.5,979.2 699.0,980.3 698.5,981.1 698.0,981.5 697.5,982.9 697.0,984.8 696.5,986.6 696.0,988.3 695.5,990.0 695.0,991.3 694.5,992.2 694.0,992.6 693.5,993.0 693.0,993.4 692.5,994.1 692.0,995.3 691.5,996.6 691.0,997.9 690.5,999.0 690.0,999.9 689.5,1000.2 689.0,1000.0 688.5,1000.1 688.0,1000.1 687.5,999.8 687.0,999.4 686.5,999.8 686.0,1000.9 685.5,1002.2 685.0,1003.5 684.5,1004.4 684.0,1004.7 683.5,1004.8 683.0,1004.7 682.5,1004.5 682.0,1004.1 681.5,1003.2 681.0,1002.4 680.5,1002.1 680.0,1002.8 679.5,1003.1 679.0,1003.8 678.5,1004.4 678.0,1004.3 677.5,1004.0 677.0,1003.5 676.5,1002.5 676.0,1001.5 675.5,1000.5 675.0,999.9 674.5,1000.3 674.0,1000.8 673.5,1001.4 673.0,1001.6 672.5,1001.5 672.0,1000.9 671.5,1000.0 671.0,998.8 670.5,997.5 670.0,998.1 669.5,999.3 669.0,1000.1 668.5,1000.4 668.0,1000.5 667.5,1000.5 667.0,999.9 666.5,998.6 666.0,997.4 665.5,997.5 665.0,999.1 664.5,1000.0 664.0,1000.7 663.5,1001.2 663.0,1001.5 662.5,1001.4 662.0,1000.3 661.5,999.0 661.0,997.9 660.5,998.5 660.0,999.0 659.5,999.2 659.0,999.2 658.5,999.2 658.0,998.5 657.5,997.7 657.0,996.7 656.5,995.3 656.0,994.3 655.5,994.3 655.0,994.1 654.5,994.2 654.0,994.0 653.5,993.4 653.0,992.0 652.5,990.3 652.0,988.5 651.5,986.4 651.0,984.5 650.5,983.8 650.0,983.5 649.5,982.9 649.0,982.1 648.5,981.7 648.0,981.0 647.5,979.8 647.0,978.7 646.5,977.6 646.0,976.1 645.5,974.4 645.0,974.1 644.5,973.6 644.0,973.0 643.5,972.4 643.0,971.5 642.5,970.3 642.0,968.8 641.5,967.3 641.0,965.9 640.5,964.3 640.0,964.6 639.5,965.1 639.0,965.5 638.5,965.9 638.0,965.7 637.5,964.8 637.0,964.3 636.5,963.9 636.0,962.8 635.5,961.6 635.0,961.4 634.5,962.3 634.0,963.2 633.5,964.1 633.0,964.9 632.5,965.6 632.0,966.6 631.5,967.3 631.0,968.1 630.5,968.8 630.0,969.2 629.5,969.2 629.0,969.1 628.5,969.1 628.0,970.2 627.5,971.3 627.0,972.8 626.5,974.2 626.0,975.2 625.5,976.3 625.0,977.5 624.5,978.4 624.0,979.1 623.5,979.9 623.0,980.3 622.5,980.5 622.0,980.5 621.5,980.2 621.0,979.8 620.5,979.6 620.0,979.2 619.5,978.8 619.0,979.6 618.5,980.3 618.0,981.1 617.5,981.7 617.0,982.3 616.5,982.3 616.0,981.9 615.5,981.7 615.0,981.4 614.5,980.8 614.0,979.7 613.5,978.1 613.0,976.5 612.5,977.0 612.0,977.8 611.5,978.1 611.0,977.9 610.5,977.6 610.0,976.9 609.5,976.2 609.0,975.4 608.5,974.0 608.0,972.2 607.5,972.1 607.0,973.5 606.5,974.3 606.0,974.3 605.5,973.9 605.0,973.4 604.5,972.7 604.0,971.6 603.5,970.6 603.0,971.5 602.5,972.1 602.0,971.9 601.5,971.7 601.0,971.3 600.5,970.7 600.0,970.1 599.5,969.1 599.0,969.0 598.5,969.2 598.0,969.5 597.5,969.7 597.0,969.3 596.5,968.4 596.0,967.6 595.5,966.6 595.0,966.1 594.5,966.9 594.0,968.0 593.5,969.0 593.0,969.3 592.5,968.8 592.0,967.7 591.5,966.4 591.0,965.4 590.5,965.7 590.0,966.7 589.5,967.4 589.0,967.4 588.5,967.1 588.0,966.1 587.5,965.0 587.0,963.8 586.5,962.4 586.0,960.9 585.5,960.9 585.0,960.7 584.5,960.3 584.0,959.8 583.5,959.3 583.0,959.0 582.5,958.4 582.0,957.5 581.5,956.5 581.0,955.4 580.5,955.6 580.0,956.4 579.5,956.9 579.0,956.8 578.5,956.9 578.0,956.9 577.5,956.4 577.0,955.3 576.5,954.0 576.0,952.7 575.5,952.6 575.0,953.8 574.5,954.4 574.0,954.6 573.5,954.8 573.0,954.7 572.5,953.7 572.0,952.5 571.5,951.4 571.0,950.3 570.5,949.4 570.0,950.2 569.5,950.8 569.0,951.2 568.5,951.7 568.0,951.8 567.5,951.4 567.0,950.7 566.5,950.0 566.0,948.9 565.5,947.5 565.0,947.6 564.5,948.6 564.0,949.1 563.5,949.2 563.0,949.4 562.5,949.5 562.0,949.3 561.5,948.8 561.0,948.1 560.5,947.6 560.0,947.3 559.5,946.9 559.0,946.9 558.5,947.5 558.0,948.2 557.5,948.9 557.0,949.3 556.5,949.4 556.0,949.5 555.5,949.5 555.0,949.2 554.5,948.8 554.0,948.2 553.5,947.0 553.0,945.6 552.5,945.6 552.0,946.1 551.5,946.5 551.0,946.3 550.5,946.1 550.0,945.6 549.5,944.7 549.0,944.1 548.5,943.8 548.0,943.5 547.5,944.5 547.0,945.6 546.5,946.4 546.0,947.2 545.5,947.7 545.0,947.5 544.5,947.0 544.0,946.5 543.5,946.6 543.0,948.3 542.5,949.8 542.0,950.9 541.5,951.9 541.0,952.6 540.5,952.9 540.0,952.7 539.5,952.3 539.0,952.7 538.5,953.3 538.0,953.6 537.5,953.9 537.0,954.3 536.5,953.9 536.0,953.2 535.5,952.8 535.0,952.3 534.5,952.1 534.0,952.9 533.5,953.5 533.0,954.0 532.5,954.3 532.0,954.2 531.5,954.4 531.0,954.9 530.5,954.9 530.0,954.6 529.5,954.3 529.0,954.8 528.5,955.9 528.0,957.2 527.5,958.2 527.0,958.7 526.5,959.4 526.0,960.2 525.5,960.6 525.0,960.9 524.5,961.6 524.0,962.0 523.5,962.1 523.0,963.6 522.5,965.3 522.0,966.9 521.5,968.5 521.0,969.9 520.5,971.0 520.0,971.9 519.5,973.1 519.0,973.7 518.5,973.8 518.0,974.2 517.5,974.6 517.0,976.1 516.5,977.6 516.0,978.7 515.5,979.2 515.0,979.3 514.5,978.9 514.0,978.3 513.5,977.4 513.0,976.0 512.5,974.3 512.0,972.4 511.5,971.4 511.0,971.2 510.5,971.4 510.0,971.1 509.5,970.2 509.0,969.3 508.5,968.8 508.0,968.1 507.5,967.1 507.0,966.3 506.5,965.6 506.0,965.9 505.5,966.8 505.0,967.8 504.5,968.8 504.0,969.4 503.5,969.8 503.0,970.3 502.5,970.9 502.0,970.7 501.5,969.8 501.0,969.1 500.5,970.2 500.0,971.7 499.5,973.2 499.0,974.2 498.5,974.8 498.0,975.5 497.5,975.9 497.0,976.0 496.5,976.0 496.0,975.8 495.5,975.2 495.0,975.6 494.5,976.3 494.0,976.9 493.5,977.1 493.0,977.1 492.5,977.1 492.0,977.0 491.5,976.5 491.0,976.1 490.5,975.8 490.0,975.6 489.5,976.2 489.0,976.9 488.5,977.7 488.0,978.2 487.5,978.6 487.0,979.0 486.5,979.4 486.0,979.6 485.5,979.5 485.0,979.3 484.5,980.0 484.0,981.0 483.5,981.4 483.0,981.6 482.5,982.2 482.0,982.8 481.5,982.7 481.0,982.5 480.5,982.5 480.0,982.4 479.5,983.2 479.0,984.1 478.5,984.9 478.0,985.5 477.5,985.7 477.0,986.2 476.5,986.7 476.0,986.8 475.5,986.8 475.0,987.8 474.5,988.9 474.0,989.8 473.5,990.4 473.0,990.8 472.5,991.0 472.0,990.9 471.5,990.9 471.0,992.2 470.5,993.5 470.0,994.7 469.5,995.5 469.0,995.6 468.5,995.7 468.0,995.9 467.5,995.6 467.0,995.7 466.5,997.3 466.0,998.7 465.5,999.8 465.0,1000.8 464.5,1001.6 464.0,1002.3 463.5,1002.6 463.0,1002.9 462.5,1002.7 462.0,1002.1 461.5,1001.9 461.0,1003.5 460.5,1004.9 460.0,1006.1 459.5,1007.3 459.0,1008.5 458.5,1009.2 458.0,1009.8 457.5,1010.2 457.0,1010.2 456.5,1010.3 456.0,1010.3 455.5,1009.9 455.0,1009.7 454.5,1010.8 454.0,1011.6 453.5,1012.2 453.0,1012.5 452.5,1012.6 452.0,1012.5 451.5,1011.9 451.0,1011.2 450.5,1010.7 450.0,1010.0 449.5,1009.0 449.0,1007.9 448.5,1006.5 448.0,1006.6 447.5,1007.1 447.0,1007.5 446.5,1007.6 446.0,1007.6 445.5,1007.4 445.0,1006.7 444.5,1005.9 444.0,1004.8 443.5,1003.4 443.0,1002.0 442.5,1001.2 442.0,1001.1 441.5,1000.8 441.0,1000.5 440.5,1000.7 440.0,1000.5 439.5,999.7 439.0,998.8 438.5,997.9 438.0,996.5 437.5,995.5 437.0,996.2 436.5,996.8 436.0,997.1 435.5,997.1 435.0,997.0 434.5,997.0 434.0,996.9 433.5,996.4 433.0,996.0 432.5,995.6 432.0,996.1 431.5,996.5 431.0,997.4 430.5,998.4 430.0,999.0 429.5,999.2 429.0,999.6 428.5,999.8 428.0,1000.0 427.5,1000.2 427.0,1001.1 426.5,1003.2 426.0,1004.7 425.5,1005.6 425.0,1006.5 424.5,1007.2 424.0,1007.5 423.5,1007.6 423.0,1007.9 422.5,1008.2 422.0,1008.0 421.5,1008.1 421.0,1009.1 420.5,1009.8 420.0,1010.4 419.5,1011.3 419.0,1012.4 418.5,1013.0 418.0,1013.4 417.5,1014.6 417.0,1015.5 416.5,1015.6 416.0,1015.7 415.5,1016.1 415.0,1016.7 414.5,1017.7 414.0,1018.7 413.5,1019.5 413.0,1021.1 412.5,1022.5 412.0,1023.5 411.5,1024.4 411.0,1024.8 410.5,1024.9 410.0,1025.3 409.5,1025.5 409.0,1025.2 408.5,1025.1 408.0,1026.5 407.5,1028.1 407.0,1029.8 406.5,1031.0 406.0,1031.7 405.5,1032.3 405.0,1032.4 404.5,1032.1 404.0,1032.1 403.5,1032.2 403.0,1032.4 402.5,1034.1 402.0,1035.6 401.5,1037.1 401.0,1038.3 400.5,1038.9 400.0,1039.0 399.5,1039.4 399.0,1039.7 398.5,1039.8 398.0,1039.5 397.5,1040.5 397.0,1041.8 396.5,1042.9 396.0,1043.8 395.5,1044.3 395.0,1045.0 394.5,1045.3 394.0,1045.2 393.5,1045.1 393.0,1045.1 392.5,1045.3 392.0,1046.2 391.5,1047.1 391.0,1047.9 390.5,1048.5 390.0,1049.3 389.5,1050.3 389.0,1050.7 388.5,1050.7 388.0,1050.5 387.5,1050.4 387.0,1051.3 386.5,1052.8 386.0,1053.9 385.5,1054.6 385.0,1055.5 384.5,1056.5 384.0,1057.4 383.5,1057.9 383.0,1058.2 382.5,1058.6 382.0,1059.2 381.5,1059.8 381.0,1060.2 380.5,1061.1 380.0,1062.5 379.5,1063.5 379.0,1064.0 378.5,1064.4 378.0,1064.7 377.5,1064.9 377.0,1065.1 376.5,1065.0 376.0,1065.5 375.5,1066.6 375.0,1067.6 374.5,1068.2 374.0,1068.9 373.5,1069.6 373.0,1070.6 372.5,1071.6 372.0,1072.2 371.5,1072.1 371.0,1071.6 370.5,1071.4 370.0,1071.6 369.5,1072.4 369.0,1072.9 368.5,1073.4 368.0,1073.9 367.5,1074.0 367.0,1074.2 366.5,1074.2 366.0,1073.9 365.5,1073.4 365.0,1072.5 364.5,1072.8 364.0,1074.0 363.5,1074.5 363.0,1075.0 362.5,1075.4 362.0,1075.4 361.5,1075.2 361.0,1075.0 360.5,1074.6 360.0,1074.1 359.5,1075.0 359.0,1076.0 358.5,1077.0 358.0,1077.4 357.5,1077.6 357.0,1077.3 356.5,1076.9 356.0,1076.4 355.5,1076.0 355.0,1077.5 354.5,1078.8 354.0,1079.8 353.5,1080.5 353.0,1080.9 352.5,1080.7 352.0,1080.2 351.5,1079.9 351.0,1080.5 350.5,1081.6 350.0,1082.3 349.5,1083.0 349.0,1083.5 348.5,1083.8 348.0,1083.9 347.5,1083.6 347.0,1082.8 346.5,1082.7 346.0,1083.8 345.5,1084.7 345.0,1085.2 344.5,1085.6 344.0,1085.6 343.5,1085.5 343.0,1085.2 342.5,1084.9 342.0,1084.5 341.5,1084.4 341.0,1084.6 340.5,1085.1 340.0,1085.3 339.5,1085.4 339.0,1085.5 338.5,1085.4 338.0,1085.2 337.5,1084.7 337.0,1084.2 336.5,1084.0 336.0,1084.4 335.5,1085.0 335.0,1085.4 334.5,1085.4 334.0,1085.4 333.5,1085.6 333.0,1085.8 332.5,1085.3 332.0,1084.3 331.5,1083.3 331.0,1082.2 330.5,1081.1 330.0,1080.9 329.5,1080.5 329.0,1080.1 328.5,1079.0 328.0,1077.3 327.5,1075.6 327.0,1073.5 326.5,1071.2 326.0,1068.9 325.5,1065.9 325.0,1062.7 324.5,1061.3 324.0,1060.0 323.5,1058.0 323.0,1055.6 322.5,1053.0 322.0,1050.1 321.5,1047.0 321.0,1043.4 320.5,1039.2 320.0,1034.7 319.5,1031.2 319.0,1029.0 318.5,1026.4 318.0,1023.8 317.5,1021.0 317.0,1017.9 316.5,1014.4 316.0,1010.3 315.5,1006.2 315.0,1002.2 314.5,999.0 314.0,996.7 313.5,994.5 313.0,992.2 312.5,989.9 312.0,986.8 311.5,983.0 311.0,979.3 310.5,975.3 310.0,971.1 309.5,969.1 309.0,966.9 308.5,964.9 308.0,962.6 307.5,960.0 307.0,957.5 306.5,954.9 306.0,951.8 305.5,948.3 305.0,945.3 304.5,943.4 304.0,941.8 303.5,940.1 303.0,939.3 302.5,939.1 302.0,938.2 301.5,937.0 301.0,936.1 300.5,935.0 300.0,933.5 299.5,932.3 299.0,933.1 298.5,933.7 298.0,934.4 297.5,935.2 297.0,935.7 296.5,936.0 296.0,936.2 295.5,936.0 295.0,935.5 294.5,935.2 294.0,936.1 293.5,938.2 293.0,940.1 292.5,941.8 292.0,943.2 291.5,944.2 291.0,945.1 290.5,945.7 290.0,946.1 289.5,947.0 289.0,947.7 288.5,949.3 288.0,950.9 287.5,952.8 287.0,955.3 286.5,957.6 286.0,959.1 285.5,959.1 285.0,958.1 284.5,957.6 284.0,956.8 283.5,955.4 283.0,954.5 282.5,953.6 282.0,953.0 281.5,952.0 281.0,951.1 280.5,950.0 280.0,948.4 279.5,946.3 279.0,943.8 278.5,941.5 278.0,940.2 277.5,939.5 277.0,938.3 276.5,936.8 276.0,935.5 275.5,933.9 275.0,932.2 274.5,930.3 274.0,928.2 273.5,926.2 273.0,924.0 272.5,922.4 272.0,921.6 271.5,920.7 271.0,919.7 270.5,918.7 270.0,917.5 269.5,916.1 269.0,914.6 268.5,912.9 268.0,911.0 267.5,909.2 267.0,907.5 266.5,906.4 266.0,905.4 265.5,904.6 265.0,903.7 264.5,902.4 264.0,901.0 263.5,899.7 263.0,898.2 262.5,896.5 262.0,894.7 261.5,893.1 261.0,892.5 260.5,892.2 260.0,891.8 259.5,891.1 259.0,890.2 258.5,888.9 258.0,887.4 257.5,886.1 257.0,884.4 256.5,882.5 256.0,880.9 255.5,880.8 255.0,880.1 254.5,879.7 254.0,879.6 253.5,878.7 253.0,877.4 252.5,876.5 252.0,875.2 251.5,873.3 251.0,871.2 250.5,869.4 250.0,869.5 249.5,869.2 249.0,868.9 248.5,868.7 248.0,868.0 247.5,866.7 247.0,865.2 246.5,863.8 246.0,862.4 245.5,860.8 245.0,860.6 244.5,860.9 244.0,860.9 243.5,860.8 243.0,860.7 242.5,859.9 242.0,858.8 241.5,858.0 241.0,857.1 240.5,856.5 240.0,857.1 239.5,857.5 239.0,857.9 238.5,858.0 238.0,857.3 237.5,856.1 237.0,854.8 236.5,853.1 236.0,852.6 235.5,853.9 235.0,855.0 234.5,855.3 234.0,855.1 233.5,854.5 233.0,853.7 232.5,852.5 232.0,850.9 231.5,850.3 231.0,851.5 230.5,852.3 230.0,852.6 229.5,852.6 229.0,852.4 228.5,851.8 228.0,850.8 227.5,849.5 227.0,848.0 226.5,848.0 226.0,848.8 225.5,849.3 225.0,850.0 224.5,850.3 224.0,849.7 223.5,848.9 223.0,848.6 222.5,848.0 222.0,846.7 221.5,845.0 221.0,843.7 220.5,844.4 220.0,845.0 219.5,845.6 219.0,846.1 218.5,846.2 218.0,845.9 217.5,845.6 217.0,845.2 216.5,844.9 216.0,844.1 215.5,842.8 215.0,841.2 214.5,841.6 214.0,842.6 213.5,843.3 213.0,843.6 212.5,844.4 212.0,844.6 211.5,843.8 211.0,842.9 210.5,842.2 210.0,841.2 209.5,840.0 209.0,840.6 208.5,841.1 208.0,841.5 207.5,842.0 207.0,842.4 206.5,842.1 206.0,841.2 205.5,840.0 205.0,838.5 204.5,837.8 204.0,838.8 203.5,839.4 203.0,839.7 202.5,839.8 202.0,839.7 201.5,839.0 201.0,837.8 200.5,836.4 200.0,835.6 199.5,836.2 199.0,836.5 198.5,837.1 198.0,837.2 197.5,836.8 197.0,836.4 196.5,835.9 196.0,835.3 195.5,834.3 195.0,834.3 194.5,835.0 194.0,835.5 193.5,835.4 193.0,835.5 192.5,835.8 192.0,835.5 191.5,834.9 191.0,834.6 190.5,834.3 190.0,834.6 189.5,835.1 189.0,835.6 188.5,835.7 188.0,835.4 187.5,835.4 187.0,835.5 186.5,835.4 186.0,835.1 185.5,834.9 185.0,835.1 184.5,835.6 184.0,835.8 183.5,836.0 183.0,836.4 182.5,836.7 182.0,837.1 181.5,837.6 181.0,837.9 180.5,837.8 180.0,837.5 179.5,836.7 179.0,836.4 178.5,837.5 178.0,838.6 177.5,839.7 177.0,840.8 176.5,841.4 176.0,841.6 175.5,841.6 175.0,841.7 174.5,841.4 174.0,840.7 173.5,840.4 173.0,840.1 172.5,840.1 172.0,841.1 171.5,842.6 171.0,843.4 170.5,843.8 170.0,844.6 169.5,845.1 169.0,845.2 168.5,845.0 168.0,844.6 167.5,844.7 167.0,844.6 166.5,844.3 166.0,844.4 165.5,845.5 165.0,846.2" fill="#00ff00"/>
<polygon points="165.0,836.3 165.5,836.8 166.0,837.3 166.5,836.3 167.0,835.4 167.5,834.6 168.0,833.6 168.5,832.7 169.0,831.9 169.5,831.3 170.0,831.0 170.5,830.6 171.0,830.8 171.5,831.4 172.0,831.5 172.5,831.8 173.0,831.7 173.5,830.6 174.0,829.8 174.5,829.4 175.0,829.0 175.5,828.7 176.0,828.4 176.5,828.3 177.0,828.6 177.5,829.0 178.0,829.8 178.5,830.7 179.0,831.3 179.5,830.8 180.0,830.2 180.5,829.5 181.0,828.8 181.5,828.8 182.0,829.2 182.5,829.7 183.0,829.9 183.5,829.9 184.0,830.3 184.5,830.9 185.0,831.1 185.5,830.6 186.0,830.1 186.5,829.7 187.0,829.7 187.5,829.2 188.0,828.5 188.5,828.6 189.0,829.4 189.5,830.0 190.0,830.0 190.5,829.8 191.0,829.4 191.5,828.9 192.0,828.2 192.5,827.9 193.0,827.5 193.5,827.5 194.0,827.9 194.5,828.3 195.0,828.7 195.5,828.9 196.0,828.0 196.5,826.8 197.0,826.1 197.5,826.0 198.0,826.0 198.5,826.3 199.0,826.9 199.5,827.6 200.0,828.6 200.5,828.4 201.0,827.7 201.5,826.9 202.0,826.9 202.5,826.8 203.0,826.8 203.5,827.4 204.0,828.3 204.5,829.5 205.0,829.2 205.5,828.1 206.0,827.3 206.5,827.0 207.0,827.0 207.5,827.2 208.0,827.9 208.5,829.4 209.0,831.0 209.5,831.8 210.0,830.5 210.5,829.6 211.0,829.1 211.5,828.7 212.0,828.5 212.5,828.9 213.0,829.7 213.5,830.6 214.0,831.6 214.5,832.8 215.0,833.8 215.5,832.9 216.0,831.7 216.5,830.9 217.0,830.7 217.5,830.8 218.0,831.0 218.5,831.5 219.0,832.2 219.5,832.7 220.0,833.3 220.5,834.2 221.0,835.3 221.5,835.1 222.0,834.7 222.5,833.9 223.0,833.2 223.5,833.6 224.0,834.3 224.5,834.6 225.0,835.1 225.5,835.8 226.0,837.1 226.5,838.4 227.0,838.7 227.5,837.9 228.0,837.3 228.5,836.8 229.0,836.7 229.5,836.6 230.0,837.1 230.5,838.2 231.0,839.8 231.5,841.4 232.0,841.0 232.5,840.1 233.0,840.1 233.5,840.0 234.0,840.3 234.5,841.0 235.0,842.0 235.5,843.6 236.0,845.1 236.5,845.6 237.0,845.5 237.5,845.1 238.0,845.0 238.5,845.7 239.0,846.7 239.5,847.5 240.0,848.5 240.5,849.7 241.0,849.7 241.5,849.4 242.0,849.4 242.5,849.6 243.0,849.9 243.5,850.6 244.0,851.7 244.5,852.5 245.0,853.3 245.5,854.0 246.0,853.9 246.5,854.1 247.0,854.2 247.5,854.4 248.0,854.8 248.5,855.5 249.0,856.8 249.5,858.5 250.0,860.2 250.5,861.8 251.0,862.0 251.5,862.3 252.0,862.6 252.5,862.9 253.0,863.3 253.5,864.0 254.0,865.3 254.5,866.9 255.0,868.8 255.5,870.9 256.0,872.8 256.5,873.0 257.0,873.4 257.5,873.9 258.0,874.6 258.5,875.6 259.0,876.9 259.5,878.4 260.0,880.0 260.5,881.7 261.0,883.8 261.5,886.0 262.0,886.7 262.5,887.2 263.0,888.2 263.5,889.5 264.0,890.7 264.5,892.1 265.0,893.5 265.5,894.9 266.0,896.6 266.5,898.6 267.0,900.5 267.5,901.6 268.0,902.8 268.5,903.5 269.0,904.4 269.5,905.7 270.0,906.8 270.5,907.7 271.0,909.1 271.5,910.9 272.0,912.7 272.5,914.5 273.0,916.0 273.5,916.8 274.0,917.7 274.5,918.7 275.0,920.0 275.5,921.6 276.0,923.3 276.5,925.1 277.0,927.2 277.5,929.2 278.0,931.5 278.5,933.3 279.0,934.3 279.5,935.2 280.0,936.2 280.5,937.8 281.0,939.6 281.5,941.2 282.0,942.8 282.5,944.8 283.0,946.5 283.5,948.4 284.0,949.4 284.5,949.9 285.0,950.0 285.5,948.8 286.0,946.4 286.5,944.2 287.0,942.6 287.5,941.7 288.0,941.1 288.5,940.5 289.0,939.4 289.5,937.1 290.0,935.2 290.5,933.6 291.0,931.9 291.5,930.3 292.0,929.3 292.5,928.9 293.0,928.5 293.5,928.2 294.0,928.4 294.5,928.1 295.0,926.7 295.5,925.8 296.0,925.4 296.5,924.8 297.0,924.3 297.5,924.4 298.0,924.9 298.5,925.2 299.0,925.8 299.5,926.7 300.0,925.9 300.5,925.5 301.0,925.6 301.5,925.5 302.0,925.9 302.5,926.6 303.0,927.5 303.5,928.6 304.0,930.3 304.5,932.3 305.0,934.5 305.5,935.9 306.0,937.3 306.5,939.1 307.0,941.0 307.5,943.1 308.0,945.8 308.5,949.1 309.0,952.3 309.5,955.7 310.0,959.7 310.5,961.4 311.0,963.2 311.5,965.2 312.0,967.5 312.5,970.2 313.0,973.6 313.5,977.3 314.0,981.1 314.5,985.4 315.0,988.7 315.5,990.8 316.0,992.9 316.5,995.5 317.0,998.5 317.5,1001.8 318.0,1005.6 318.5,1009.6 319.0,1013.5 319.5,1017.6 320.0,1020.8 320.5,1023.8 321.0,1026.7 321.5,1029.5 322.0,1032.3 322.5,1035.3 323.0,1038.5 323.5,1041.8 324.0,1045.4 324.5,1048.9 325.0,1052.0 325.5,1053.8 326.0,1055.4 326.5,1056.9 327.0,1058.9 327.5,1061.2 328.0,1063.4 328.5,1065.7 329.0,1068.0 329.5,1070.3 330.0,1072.8 330.5,1074.6 331.0,1075.2 331.5,1075.8 332.0,1076.4 332.5,1076.8 333.0,1077.2 333.5,1077.5 334.0,1078.1 334.5,1079.0 335.0,1079.6 335.5,1079.9 336.0,1080.1 336.5,1080.0 337.0,1079.6 337.5,1079.6 338.0,1079.6 338.5,1079.4 339.0,1079.1 339.5,1078.7 340.0,1078.7 340.5,1078.9 341.0,1079.0 341.5,1079.3 342.0,1079.5 342.5,1078.8 343.0,1078.2 343.5,1077.4 344.0,1076.4 344.5,1075.8 345.0,1076.1 345.5,1076.4 346.0,1076.5 346.5,1076.8 347.0,1076.3 347.5,1075.1 348.0,1073.8 348.5,1072.8 349.0,1072.3 349.5,1072.0 350.0,1072.1 350.5,1072.2 351.0,1072.6 351.5,1072.6 352.0,1071.3 352.5,1070.0 353.0,1069.5 353.5,1069.1 354.0,1068.9 354.5,1069.2 355.0,1069.7 355.5,1070.5 356.0,1069.9 356.5,1068.9 357.0,1068.0 357.5,1067.5 358.0,1067.2 358.5,1067.3 359.0,1067.6 359.5,1068.3 360.0,1069.1 360.5,1068.4 361.0,1067.7 361.5,1067.3 362.0,1066.8 362.5,1066.5 363.0,1066.6 363.5,1066.8 364.0,1067.2 364.5,1067.5 365.0,1067.7 365.5,1067.4 366.0,1066.7 366.5,1066.1 367.0,1066.1 367.5,1066.4 368.0,1066.5 368.5,1067.1 369.0,1067.8 369.5,1068.2 370.0,1068.3 370.5,1067.6 371.0,1067.1 371.5,1066.7 372.0,1065.8 372.5,1064.8 373.0,1064.1 373.5,1063.4 374.0,1062.7 374.5,1062.5 375.0,1062.1 375.5,1061.7 376.0,1061.7 376.5,1060.9 377.0,1059.9 377.5,1059.0 378.0,1058.4 378.5,1058.0 379.0,1057.4 379.5,1056.6 380.0,1056.0 380.5,1055.8 381.0,1055.5 381.5,1055.2 382.0,1054.4 382.5,1053.4 383.0,1052.3 383.5,1051.1 384.0,1050.2 384.5,1049.5 385.0,1048.9 385.5,1048.3 386.0,1047.9 386.5,1047.8 387.0,1047.2 387.5,1046.2 388.0,1045.2 388.5,1044.2 389.0,1043.1 389.5,1042.1 390.0,1041.4 390.5,1040.6 391.0,1039.8 391.5,1039.4 392.0,1039.4 392.5,1039.6 393.0,1038.4 393.5,1036.7 394.0,1035.4 394.5,1034.4 395.0,1033.4 395.5,1032.4 396.0,1032.0 396.5,1031.9 397.0,1031.4 397.5,1031.0 398.0,1030.8 398.5,1029.3 399.0,1027.9 399.5,1026.7 400.0,1025.6 400.5,1024.4 401.0,1023.5 401.5,1023.1 402.0,1023.2 402.5,1023.4 403.0,1023.7 403.5,1022.3 404.0,1020.8 404.5,1019.4 405.0,1018.2 405.5,1017.5 406.0,1016.9 406.5,1016.5 407.0,1016.7 407.5,1016.8 408.0,1017.2 408.5,1017.5 409.0,1016.0 409.5,1014.8 410.0,1014.0 410.5,1013.0 411.0,1012.3 411.5,1011.4 412.0,1010.6 412.5,1010.4 413.0,1010.4 413.5,1010.1 414.0,1010.1 414.5,1010.4 415.0,1009.8 415.5,1008.8 416.0,1007.6 416.5,1006.3 417.0,1005.5 417.5,1005.1 418.0,1004.6 418.5,1004.2 419.0,1003.8 419.5,1003.4 420.0,1003.1 420.5,1003.3 421.0,1003.4 421.5,1003.0 422.0,1002.3 422.5,1001.7 423.0,1000.9 423.5,999.7 424.0,998.6 424.5,997.6 425.0,996.8 425.5,996.0 426.0,995.5 426.5,995.4 427.0,995.1 427.5,993.9 428.0,992.1 428.5,990.6 429.0,990.0 429.5,990.0 430.0,989.5 430.5,988.8 431.0,988.8 431.5,988.9 432.0,989.0 432.5,989.3 433.0,988.5 433.5,987.7 434.0,986.8 434.5,986.0 435.0,985.6 435.5,985.6 436.0,986.0 436.5,986.7 437.0,987.5 437.5,988.4 438.0,988.0 438.5,987.3 439.0,987.0 439.5,986.9 440.0,987.1 440.5,988.0 441.0,989.0 441.5,989.7 442.0,990.8 442.5,992.1 443.0,993.0 443.5,993.5 444.0,993.8 444.5,993.9 445.0,994.4 445.5,995.1 446.0,996.0 446.5,996.7 447.0,997.6 447.5,998.4 448.0,999.0 448.5,999.9 449.0,999.6 449.5,999.0 450.0,998.6 450.5,998.3 451.0,997.8 451.5,997.7 452.0,998.2 452.5,998.6 453.0,998.9 453.5,999.4 454.0,999.9 454.5,1000.3 455.0,1000.7 455.5,999.8 456.0,998.0 456.5,996.3 457.0,995.3 457.5,994.4 458.0,993.7 458.5,993.3 459.0,993.1 459.5,993.0 460.0,993.0 460.5,993.3 461.0,993.8 461.5,994.3 462.0,993.0 462.5,991.8 463.0,990.9 463.5,990.0 464.0,989.2 464.5,988.8 465.0,988.8 465.5,989.1 466.0,989.2 466.5,988.9 467.0,988.7 467.5,987.8 468.0,987.3 468.5,986.8 469.0,985.8 469.5,985.2 470.0,985.0 470.5,984.9 471.0,985.4 471.5,985.9 472.0,984.8 472.5,983.4 473.0,982.2 473.5,981.5 474.0,981.3 474.5,981.6 475.0,981.8 475.5,981.7 476.0,980.8 476.5,979.8 477.0,979.0 477.5,978.6 478.0,978.5 478.5,978.3 479.0,978.1 479.5,977.9 480.0,978.1 480.5,977.2 481.0,976.7 481.5,976.6 482.0,976.0 482.5,975.4 483.0,975.1 483.5,975.1 484.0,975.1 484.5,974.8 485.0,974.3 485.5,973.5 486.0,972.7 486.5,971.8 487.0,970.7 487.5,970.0 488.0,969.9 488.5,970.0 489.0,969.9 489.5,970.1 490.0,970.4 490.5,970.0 491.0,969.3 491.5,968.8 492.0,968.1 492.5,967.6 493.0,967.5 493.5,967.4 494.0,967.7 494.5,968.4 495.0,968.8 495.5,969.1 496.0,968.3 496.5,967.3 497.0,966.0 497.5,964.7 498.0,963.8 498.5,962.9 499.0,962.0 499.5,961.8 500.0,962.1 500.5,962.4 501.0,962.7 501.5,961.4 502.0,960.1 502.5,959.1 503.0,958.4 503.5,957.6 504.0,957.2 504.5,957.2 505.0,957.5 505.5,958.0 506.0,958.6 506.5,958.9 507.0,958.3 507.5,957.8 508.0,957.4 508.5,957.4 509.0,958.2 509.5,959.1 510.0,959.7 510.5,960.7 511.0,962.2 511.5,963.5 512.0,964.7 512.5,965.0 513.0,965.4 513.5,966.2 514.0,966.9 514.5,967.6 515.0,968.6 515.5,969.0 516.0,968.6 516.5,968.0 517.0,967.4 517.5,967.1 518.0,965.4 518.5,963.6 519.0,961.8 519.5,960.1 520.0,958.6 520.5,957.7 521.0,957.0 521.5,956.2 522.0,955.7 522.5,955.5 523.0,955.3 523.5,955.1 524.0,953.8 524.5,952.8 525.0,951.6 525.5,950.3 526.0,949.5 526.5,949.4 527.0,949.5 527.5,949.5 528.0,949.2 528.5,949.1 529.0,949.3 529.5,949.2 530.0,948.0 530.5,946.9 531.0,946.1 531.5,945.7 532.0,945.6 532.5,945.5 533.0,945.6 533.5,946.2 534.0,946.8 534.5,947.3 535.0,947.0 535.5,946.1 536.0,945.3 536.5,944.8 537.0,944.8 537.5,945.3 538.0,945.7 538.5,946.3 539.0,947.0 539.5,946.6 540.0,944.9 540.5,943.2 541.0,942.2 541.5,941.3 542.0,940.5 542.5,940.3 543.0,940.3 543.5,940.2 544.0,939.4 544.5,938.3 545.0,937.0 545.5,936.4 546.0,936.4 546.5,936.1 547.0,935.9 547.5,936.3 548.0,936.7 548.5,935.7 549.0,934.6 549.5,933.6 550.0,933.3 550.5,933.6 551.0,933.8 551.5,934.8 552.0,936.2 552.5,937.2 553.0,938.1 553.5,938.1 554.0,938.2 554.5,937.9 555.0,937.4 555.5,937.0 556.0,937.1 556.5,937.5 557.0,938.0 557.5,938.6 558.0,938.7 558.5,938.6 559.0,939.3 559.5,939.7 560.0,939.3 560.5,938.8 561.0,938.2 561.5,937.2 562.0,936.9 562.5,937.2 563.0,937.1 563.5,937.1 564.0,937.8 564.5,938.7 565.0,939.4 565.5,939.8 566.0,939.2 566.5,938.4 567.0,937.8 567.5,937.5 568.0,937.5 568.5,937.9 569.0,938.3 569.5,939.2 570.0,940.0 570.5,941.0 571.0,940.8 571.5,940.1 572.0,939.4 572.5,938.8 573.0,938.9 573.5,939.7 574.0,940.4 574.5,941.3 575.0,942.7 575.5,944.1 576.0,944.1 576.5,943.2 577.0,942.8 577.5,942.6 578.0,942.4 578.5,943.0 579.0,943.9 579.5,944.8 580.0,946.4 580.5,947.6 581.0,948.1 581.5,947.5 582.0,947.1 582.5,946.8 583.0,946.9 583.5,947.6 584.0,948.4 584.5,949.1 585.0,950.2 585.5,951.7 586.0,953.2 586.5,953.2 587.0,953.1 587.5,953.3 588.0,953.8 588.5,954.2 589.0,955.1 589.5,956.3 590.0,957.3 590.5,958.2 591.0,958.6 591.5,958.3 592.0,957.9 592.5,957.6 593.0,957.4 593.5,957.7 594.0,958.2 594.5,959.0 595.0,960.4 595.5,960.9 596.0,960.1 596.5,959.8 597.0,960.0 597.5,960.4 598.0,961.2 598.5,962.0 599.0,962.9 599.5,963.8 600.0,963.4 600.5,963.3 601.0,963.3 601.5,963.3 602.0,963.5 602.5,964.1 603.0,965.0 603.5,965.7 604.0,964.9 604.5,964.1 605.0,963.5 605.5,963.2 606.0,963.2 606.5,963.7 607.0,964.4 607.5,965.2 608.0,965.0 608.5,963.8 609.0,963.2 609.5,963.0 610.0,963.1 610.5,963.5 611.0,964.1 611.5,964.6 612.0,965.6 612.5,967.1 613.0,968.0 613.5,967.5 614.0,967.2 614.5,966.6 615.0,965.5 615.5,965.0 616.0,965.0 616.5,965.1 617.0,965.6 617.5,966.5 618.0,967.1 618.5,967.8 619.0,968.5 619.5,969.0 620.0,968.4 620.5,967.3 621.0,965.8 621.5,964.3 622.0,963.1 622.5,962.2 623.0,961.3 623.5,960.4 624.0,959.6 624.5,959.0 625.0,958.9 625.5,958.8 626.0,958.5 626.5,958.4 627.0,958.6 627.5,959.0 628.0,959.3 628.5,959.2 629.0,957.8 629.5,956.6 630.0,955.6 630.5,954.5 631.0,953.4 631.5,952.3 632.0,951.6 632.5,951.2 633.0,951.1 633.5,951.5 634.0,952.2 634.5,953.0 635.0,953.8 635.5,953.6 636.0,953.0 636.5,952.6 637.0,952.4 637.5,952.4 638.0,952.4 638.5,952.6 639.0,953.4 639.5,954.5 640.0,955.6 640.5,956.8 641.0,956.4 641.5,956.2 642.0,956.5 642.5,957.1 643.0,957.7 643.5,958.7 644.0,960.3 644.5,962.1 645.0,964.1 645.5,966.2 646.0,967.1 646.5,967.7 647.0,968.2 647.5,968.7 648.0,969.6 648.5,970.7 649.0,971.8 649.5,973.2 650.0,974.8 650.5,976.5 651.0,977.9 651.5,978.4 652.0,979.3 652.5,980.3 653.0,981.1 653.5,982.3 654.0,983.9 654.5,985.6 655.0,986.6 655.5,987.2 656.0,988.1 656.5,987.9 657.0,987.9 657.5,988.1 658.0,987.8 658.5,987.6 659.0,987.8 659.5,988.2 660.0,988.9 660.5,989.9 661.0,990.8 661.5,989.4 662.0,988.0 662.5,986.6 663.0,986.0 663.5,986.2 664.0,986.6 664.5,986.8 665.0,987.2 665.5,988.1 666.0,987.5 666.5,986.3 667.0,985.2 667.5,984.6 668.0,984.4 668.5,984.7 669.0,985.6 669.5,986.7 670.0,988.2 670.5,988.7 671.0,987.5 671.5,986.5 672.0,985.8 672.5,985.9 673.0,986.4 673.5,987.1 674.0,988.4 674.5,989.6 675.0,990.9 675.5,991.4 676.0,990.9 676.5,990.7 677.0,990.8 677.5,991.2 678.0,991.5 678.5,991.8 679.0,992.4 679.5,993.3 680.0,994.1 680.5,995.0 681.0,994.6 681.5,993.8 682.0,992.9 682.5,992.2 683.0,991.6 683.5,991.2 684.0,991.0 684.5,990.6 685.0,990.6 685.5,990.9 686.0,991.3 686.5,991.6 687.0,991.0 687.5,989.6 688.0,988.7 688.5,987.7 689.0,986.4 689.5,985.6 690.0,985.1 690.5,984.8 691.0,984.8 691.5,985.0 692.0,985.1 692.5,985.1 693.0,984.2 693.5,982.3 694.0,980.3 694.5,978.7 695.0,977.8 695.5,976.8 696.0,975.5 696.5,975.1 697.0,975.1 697.5,974.7 698.0,973.8 698.5,971.8 699.0,969.8 699.5,968.5 700.0,967.5 700.5,966.8 701.0,966.6 701.5,966.4 702.0,966.2 702.5,966.2 703.0,965.1 703.5,964.0 704.0,963.3 704.5,963.0 705.0,962.9 705.5,963.3 706.0,964.0 706.5,964.4 707.0,964.8 707.5,965.1 708.0,964.8 708.5,964.4 709.0,964.1 709.5,964.0 710.0,964.5 710.5,965.2 711.0,966.0 711.5,966.5 712.0,966.7 712.5,967.5 713.0,968.0 713.5,967.9 714.0,967.5 714.5,967.1 715.0,967.0 715.5,967.2 716.0,967.2 716.5,967.1 717.0,967.1 717.5,967.2 718.0,967.6 718.5,967.9 719.0,967.6 719.5,966.9 720.0,966.3 720.5,965.7 721.0,964.8 721.5,963.7 722.0,962.8 722.5,961.9 723.0,961.1 723.5,960.7 724.0,960.5 724.5,960.2 725.0,960.0 725.5,960.1 726.0,958.8 726.5,957.4 727.0,955.8 727.5,954.3 728.0,953.0 728.5,951.9 729.0,950.8 729.5,950.3 730.0,950.3 730.5,950.3 731.0,950.2 731.5,950.0 732.0,948.3 732.5,946.4 733.0,944.7 733.5,943.6 734.0,943.2 734.5,942.8 735.0,942.5 735.5,943.1 736.0,944.5 736.5,946.2 737.0,945.2 737.5,943.7 738.0,942.6 738.5,942.3 739.0,942.2 739.5,942.5 740.0,943.4 740.5,944.7 741.0,946.0 741.5,946.6 742.0,945.9 742.5,945.1 743.0,944.4 743.5,944.4 744.0,945.0 744.5,945.6 745.0,946.8 745.5,947.9 746.0,947.8 746.5,947.0 747.0,946.6 747.5,946.6 748.0,946.7 748.5,946.6 749.0,946.8 749.5,947.3 750.0,947.9 750.5,948.9 751.0,948.1 751.5,946.8 752.0,945.9 752.5,945.1 753.0,944.6 753.5,944.8 754.0,944.8 754.5,944.9 755.0,945.6 755.5,946.3 756.0,946.2 756.5,945.2 757.0,944.0 757.5,943.0 758.0,942.6 758.5,942.3 759.0,942.0 759.5,942.0 760.0,942.4 760.5,943.4 761.0,944.6 761.5,945.0 762.0,944.2 762.5,943.3 763.0,942.2 763.5,941.7 764.0,941.8 764.5,941.9 765.0,942.4 765.5,943.2 766.0,944.3 766.5,945.6 767.0,944.7 767.5,943.7 768.0,942.7 768.5,942.2 769.0,942.4 769.5,942.6 770.0,942.8 770.5,943.9 771.0,945.3 771.5,946.5 772.0,945.4 772.5,944.4 773.0,943.5 773.5,942.9 774.0,942.9 774.5,943.2 775.0,944.0 775.5,945.2 776.0,946.3 776.5,946.2 777.0,945.4 777.5,944.9 778.0,944.4 778.5,944.3 779.0,944.8 779.5,945.5 780.0,946.3 780.5,947.3 781.0,947.3 781.5,946.4 782.0,945.8 782.5,946.0 783.0,946.1 783.5,946.1 784.0,946.7 784.5,947.4 785.0,948.2 785.5,948.8 786.0,948.6 786.5,948.5 787.0,948.6 787.5,948.4 788.0,948.2 788.5,948.5 789.0,949.1 789.5,949.5 790.0,950.2 790.5,950.4 791.0,950.2 791.5,950.3 792.0,950.1 792.5,949.8 793.0,949.8 793.5,949.8 794.0,950.3 794.5,950.7 795.0,950.8 795.5,951.3 796.0,950.9 796.5,949.9 797.0,949.3 797.5,948.9 798.0,948.7 798.5,948.8 799.0,949.0 799.5,949.1 800.0,949.5 800.5,950.2 801.0,950.9 801.5,951.5 802.0,951.9 802.5,951.6 803.0,951.3 803.5,951.0 804.0,950.5 804.5,950.1 805.0,949.8 805.5,949.8 806.0,950.1 806.5,950.4 807.0,950.9 807.5,951.4 808.0,951.6 808.5,952.1 809.0,952.7 809.5,952.7 810.0,952.3 810.5,951.9 811.0,951.5 811.5,951.0 812.0,950.7 812.5,950.7 813.0,950.9 813.5,951.4 814.0,951.5 814.5,951.6 815.0,952.1 815.5,952.7 816.0,952.3 816.5,951.7 817.0,951.1 817.5,950.4 818.0,950.0 818.5,949.9 819.0,949.7 819.5,949.9 820.0,950.2 820.5,950.5 821.0,951.3 821.5,951.6 822.0,950.5 822.5,949.6 823.0,949.6 823.5,949.6 824.0,949.4 824.5,949.7 825.0,950.6 825.5,951.6 826.0,952.4 826.5,951.8 827.0,951.6 827.5,951.3 828.0,951.0 828.5,951.3 829.0,952.0 829.5,952.9 830.0,954.1 830.5,954.2 831.0,953.7 831.5,953.1 832.0,952.5 832.5,952.1 833.0,952.6 833.5,953.4 834.0,954.2 834.5,955.1 835.0,954.3 835.5,953.2 836.0,952.4 836.5,951.8 837.0,951.8 837.5,952.4 838.0,953.3 838.5,954.3 839.0,954.1 839.5,952.4 840.0,951.1 840.5,950.4 841.0,950.1 841.5,950.3 842.0,950.7 842.5,951.1 843.0,951.7 843.5,953.0 844.0,953.1 844.5,953.3 845.0,954.1 845.5,955.3 846.0,956.6 846.5,958.1 847.0,959.7 847.5,961.6 848.0,964.4 848.5,967.2 849.0,969.2 849.5,971.1 850.0,972.2 850.5,973.1 851.0,974.4 851.5,975.8 852.0,977.2 852.5,978.6 853.0,980.1 853.5,981.8 854.0,983.5 854.5,984.9 855.0,986.3 855.5,988.0 856.0,989.7 856.5,991.2 857.0,992.7 857.5,994.2 858.0,994.2 858.5,994.5 859.0,995.4 859.5,996.2 860.0,996.4 860.5,996.7 861.0,997.1 861.5,997.8 862.0,998.5 862.5,998.9 863.0,999.5 863.5,1000.3 864.0,1001.0 864.5,1001.9 865.0,1002.8 865.5,1002.6 866.0,1002.2 866.5,1001.3 867.0,999.4 867.5,997.7 868.0,996.6 868.5,995.7 869.0,995.2 869.5,995.2 870.0,995.4 870.5,994.5 871.0,992.6 871.5,990.9 872.0,989.4 872.5,988.2 873.0,987.8 873.5,988.0 874.0,988.1 874.5,986.5 875.0,984.2 875.5,982.4 876.0,981.3 876.5,980.7 877.0,980.5 877.5,980.3 878.0,979.7 878.5,977.7 879.0,975.9 879.5,974.7 880.0,974.0 880.5,973.7 881.0,974.0 881.5,974.6 882.0,974.2 882.5,973.2 883.0,972.6 883.5,972.2 884.0,971.8 884.5,971.4 885.0,971.3 885.5,971.8 886.0,972.8 886.5,973.7 887.0,973.1 887.5,972.4 888.0,971.8 888.5,971.7 889.0,971.6 889.5,971.1 890.0,970.9 890.5,971.4 891.0,972.2 891.5,972.9 892.0,973.2 892.5,973.6 893.0,973.6 893.5,972.9 894.0,971.8 894.5,971.0 895.0,970.3 895.5,969.5 896.0,969.0 896.5,968.6 897.0,968.6 897.5,969.1 898.0,969.8 898.5,970.5 899.0,971.0 899.5,970.5 900.0,969.0 900.5,967.4 901.0,966.2 901.5,965.1 902.0,964.1 902.5,963.6 903.0,962.9 903.5,962.4 904.0,962.4 904.5,962.6 905.0,961.3 905.5,959.9 906.0,958.8 906.5,957.8 907.0,957.3 907.5,957.3 908.0,957.2 908.5,956.9 909.0,956.8 909.5,956.4 910.0,955.5 910.5,954.7 911.0,953.8 911.5,953.2 912.0,953.0 912.5,953.0 913.0,953.2 913.5,953.2 914.0,953.1 914.5,953.1 915.0,952.4 915.5,952.1 916.0,951.8 916.5,951.1 917.0,950.6 917.5,950.3 918.0,950.3 918.5,950.8 919.0,951.0 919.5,951.0 920.0,951.6 920.5,952.5 921.0,952.1 921.5,951.6 922.0,951.2 922.5,951.1 923.0,950.9 923.5,950.8 924.0,951.1 924.5,952.0 925.0,952.7 925.5,953.0 926.0,953.7 926.5,954.5 927.0,954.2 927.5,954.0 928.0,954.0 928.5,954.1 929.0,954.1 929.5,954.6 930.0,955.3 930.5,956.0 931.0,957.1 931.5,957.2 932.0,956.1 932.5,955.2 933.0,954.3 933.5,953.7 934.0,953.8 934.5,954.6 935.0,955.7 935.5,956.8 936.0,955.5 936.5,954.3 937.0,953.2 937.5,952.7 938.0,953.1 938.5,953.8 939.0,954.4 939.5,955.2 940.0,953.6 940.5,952.5 941.0,951.8 941.5,951.4 942.0,951.2 942.5,951.6 943.0,952.7 943.5,953.7 944.0,953.1 944.5,951.7 945.0,950.9 945.5,950.1 946.0,950.2 946.5,950.4 947.0,950.3 947.5,950.5 948.0,951.3 948.5,952.3 949.0,953.1 949.5,952.4 950.0,951.5 950.5,950.8 951.0,950.7 951.5,950.8 952.0,950.8 952.5,950.7 953.0,951.1 953.5,951.6 954.0,952.1 954.5,953.0 955.0,953.9 955.5,953.4 956.0,952.9 956.5,952.4 957.0,952.0 957.5,951.8 958.0,951.6 958.5,951.7 959.0,952.0 959.5,952.5 960.0,953.0 960.5,953.8 961.0,954.8 961.5,955.5 962.0,954.7 962.5,953.8 963.0,953.2 963.5,953.1 964.0,953.4 964.5,953.7 965.0,953.8 965.5,954.3 966.0,955.1 966.5,955.6 967.0,956.0 967.5,956.0 968.0,955.8 968.5,955.7 969.0,955.3 969.5,955.3 970.0,955.5 970.5,955.8 971.0,956.1 971.5,956.6 972.0,957.2 972.5,957.7 973.0,957.9 973.5,957.5 974.0,957.2 974.5,957.2 975.0,957.3 975.5,957.0 976.0,957.2 976.5,957.8 977.0,958.2 977.5,958.4 978.0,958.6 978.5,958.8 979.0,958.6 979.5,958.7 980.0,958.7 980.5,958.6 981.0,958.6 981.5,958.3 982.0,958.1 982.5,958.5 983.0,959.0 983.5,959.4 984.0,959.6 984.5,958.8 985.0,958.3 985.5,958.0 986.0,957.7 986.5,957.2 987.0,956.9 987.5,956.8 988.0,956.7 988.5,957.1 989.0,957.6 989.5,957.9 990.0,957.6 990.5,956.8 991.0,956.1 991.5,955.6 992.0,955.1 992.5,954.6 993.0,954.5 993.5,954.8 994.0,955.0 994.5,955.5 995.0,956.4 995.5,956.6 996.0,955.6 996.5,954.6 997.0,953.4 997.5,952.7 998.0,952.3 998.5,952.5 999.0,953.4 999.5,954.6 1000.0,955.8 1000.5,957.1 1001.0,957.0 1001.5,956.3 1002.0,955.6 1002.5,955.7 1003.0,956.3 1003.5,957.0 1004.0,958.2 1004.5,959.4 1005.0,960.6 1005.5,962.0 1006.0,962.2 1006.5,961.8 1007.0,961.6 1007.5,961.8 1008.0,962.2 1008.5,962.7 1009.0,963.5 1009.5,964.6 1010.0,965.9 1010.5,967.1 1011.0,966.8 1011.5,965.8 1012.0,965.0 1012.5,964.3 1013.0,963.9 1013.5,963.6 1014.0,963.5 1014.5,964.0 1015.0,965.4 1015.5,966.3 1016.0,966.7 1016.5,966.6 1017.0,966.2 1017.5,965.8 1018.0,964.9 1018.5,964.1 1019.0,964.0 1019.5,964.2 1020.0,964.5 1020.5,964.8 1021.0,965.0 1021.5,965.1 1022.0,965.7 1022.5,966.5 1023.0,965.8 1023.5,964.5 1024.0,963.7 1024.5,963.2 1025.0,962.5 1025.5,961.8 1026.0,961.4 1026.5,961.3 1027.0,961.5 1027.5,961.9 1028.0,962.6 1028.5,963.0 1029.0,961.7 1029.5,960.6 1030.0,959.7 1030.5,959.1 1031.0,958.9 1031.5,958.9 1032.0,959.1 1032.5,959.7 1033.0,960.2 1033.5,961.1 1034.0,960.3 1034.5,959.2 1035.0,958.3 1035.5,958.1 1036.0,958.2 1036.5,958.4 1037.0,958.8 1037.5,960.1 1038.0,960.8 1038.5,959.9 1039.0,959.0 1039.5,958.4 1040.0,958.4 1040.5,958.7 1041.0,959.6 1041.5,961.2 1042.0,961.1 1042.5,960.2 1043.0,959.7 1043.5,959.8 1044.0,960.4 1044.5,961.1 1045.0,961.9 1045.5,962.9 1046.0,962.8 1046.5,962.6 1047.0,962.3 1047.5,962.7 1048.0,963.3 1048.5,964.1 1049.0,965.9 1049.5,967.3 1050.0,967.9 1050.5,967.4 1051.0,967.6 1051.5,968.2 1052.0,968.3 1052.5,968.3 1053.0,968.7 1053.5,969.5 1054.0,970.4 1054.5,971.3 1055.0,972.4 1055.5,973.0 1056.0,972.9 1056.5,972.7 1057.0,972.5 1057.5,972.6 1058.0,972.5 1058.5,972.7 1059.0,973.3 1059.5,974.1 1060.0,974.8 1060.5,975.4 1061.0,976.4 1061.5,978.1 1062.0,979.8 1062.5,979.9 1063.0,979.6 1063.5,979.6 1064.0,979.7 1064.5,980.3 1065.0,981.2 1065.5,982.0 1066.0,982.7 1066.5,983.4 1067.0,984.3 1067.5,985.4 1068.0,986.4 1068.5,987.5 1069.0,988.4 1069.5,988.4 1070.0,988.3 1070.5,988.1 1071.0,988.1 1071.5,988.0 1072.0,988.0 1072.5,988.3 1073.0,988.4 1073.5,988.4 1074.0,988.4 1074.5,988.3 1075.0,988.3 1075.5,987.7 1076.0,987.4 1076.5,987.2 1077.0,986.6 1077.5,985.8 1078.0,985.5 1078.5,985.8 1079.0,985.8 1079.5,985.7 1080.0,985.5 1080.5,985.0 1081.0,983.7 1081.5,982.9 1082.0,982.2 1082.5,981.4 1083.0,980.5 1083.5,980.0 1084.0,979.7 1084.5,979.4 1085.0,979.2 1085.5,978.6 1086.0,977.6 1086.5,976.7 1087.0,975.9 1087.5,974.8 1088.0,973.9 1088.5,973.7 1089.0,973.9 1089.5,974.1 1090.0,972.9 1090.5,971.4 1091.0,970.3 1091.5,969.3 1092.0,968.4 1092.5,967.6 1093.0,967.3 1093.5,967.3 1094.0,967.7 1094.5,966.3 1095.0,964.6 1095.5,963.1 1096.0,961.9 1096.5,961.3 1097.0,960.9 1097.5,960.7 1098.0,960.6 1098.5,960.7 1099.0,959.7 1099.5,958.0 1100.0,956.4 1100.5,954.9 1101.0,953.9 1101.5,953.5 1102.0,953.3 1102.5,953.5 1103.0,954.5 1103.5,955.5 1104.0,955.4 1104.5,954.0 1105.0,953.0 1105.5,952.5 1106.0,952.2 1106.5,951.5 1107.0,951.2 1107.5,951.6 1108.0,952.4 1108.5,953.2 1109.0,953.8 1109.5,954.7 1110.0,954.1 1110.5,953.6 1111.0,953.1 1111.5,952.7 1112.0,952.5 1112.5,952.6 1113.0,952.7 1113.5,953.0 1114.0,953.9 1114.5,955.2 1115.0,956.6 1115.5,957.5 1116.0,956.8 1116.5,956.5 1117.0,956.3 1117.5,956.3 1118.0,956.2 1118.5,956.7 1119.0,957.6 1119.5,958.6 1120.0,959.6 1120.5,960.7 1121.0,962.0 1121.5,962.7 1122.0,962.4 1122.5,962.2 1123.0,962.0 1123.5,962.0 1124.0,962.4 1124.5,963.4 1125.0,964.6 1125.5,966.1 1126.0,967.5 1126.5,968.7 1127.0,969.3 1127.5,968.8 1128.0,968.7 1128.5,968.7 1129.0,968.9 1129.5,969.4 1130.0,970.1 1130.5,970.8 1131.0,971.7 1131.5,972.8 1132.0,974.0 1132.5,974.0 1133.0,973.3 1133.5,973.2 1134.0,973.1 1134.5,972.9 1135.0,972.8 1135.5,972.9 1136.0,973.4 1136.5,974.3 1137.0,975.3 1137.5,976.2 1138.0,975.7 1138.5,975.0 1139.0,974.5 1139.5,974.1 1140.0,974.3 1140.5,974.7 1141.0,974.7 1141.5,975.0 1142.0,975.8 1142.5,976.8 1143.0,976.5 1143.5,975.2 1144.0,974.3 1144.5,973.7 1145.0,973.2 1145.5,973.2 1146.0,973.2 1146.5,973.1 1147.0,973.3 1147.5,973.5 1148.0,972.7 1148.5,971.9 1149.0,970.8 1149.5,970.2 1150.0,969.9 1150.5,969.5 1151.0,969.3 1151.5,969.4 1152.0,969.6 1152.5,968.3 1153.0,967.1 1153.5,966.1 1154.0,965.2 1154.5,964.8 1154.5,976.4 1154.0,976.5 1153.5,976.6 1153.0,976.6 1152.5,976.5 1152.0,976.1 1151.5,976.7 1151.0,977.6 1150.5,978.7 1150.0,979.8 1149.5,980.4 1149.0,980.3 1148.5,980.0 1148.0,979.9 1147.5,979.5 1147.0,980.4 1146.5,981.6 1146.0,982.5 1145.5,983.2 1145.0,983.9 1144.5,984.0 1144.0,983.9 1143.5,983.8 1143.0,983.3 1142.5,983.3 1142.0,984.3 1141.5,985.2 1141.0,985.7 1140.5,985.9 1140.0,985.9 1139.5,985.6 1139.0,985.0 1138.5,984.6 1138.0,984.1 1137.5,983.6 1137.0,984.5 1136.5,985.3 1136.0,985.6 1135.5,985.8 1135.0,985.9 1134.5,985.8 1134.0,985.8 1133.5,985.3 1133.0,984.2 1132.5,983.0 1132.0,982.7 1131.5,983.1 1131.0,983.4 1130.5,983.8 1130.0,983.9 1129.5,984.1 1129.0,983.7 1128.5,982.6 1128.0,981.6 1127.5,980.5 1127.0,978.9 1126.5,978.3 1126.0,978.5 1125.5,978.6 1125.0,978.9 1124.5,978.9 1124.0,978.1 1123.5,976.9 1123.0,975.7 1122.5,974.9 1122.0,973.8 1121.5,972.0 1121.0,971.5 1120.5,972.1 1120.0,972.3 1119.5,972.4 1119.0,972.4 1118.5,972.2 1118.0,971.5 1117.5,970.4 1117.0,969.4 1116.5,968.4 1116.0,967.3 1115.5,966.3 1115.0,966.7 1114.5,967.0 1114.0,967.0 1113.5,967.2 1113.0,967.4 1112.5,967.5 1112.0,967.1 1111.5,966.5 1111.0,965.8 1110.5,965.0 1110.0,964.4 1109.5,963.9 1109.0,964.9 1108.5,965.4 1108.0,966.0 1107.5,966.6 1107.0,967.0 1106.5,967.5 1106.0,967.8 1105.5,967.8 1105.0,967.2 1104.5,966.1 1104.0,965.0 1103.5,965.5 1103.0,967.1 1102.5,968.3 1102.0,969.3 1101.5,970.5 1101.0,971.3 1100.5,971.4 1100.0,971.3 1099.5,971.1 1099.0,970.6 1098.5,970.9 1098.0,972.6 1097.5,974.2 1097.0,975.1 1096.5,975.8 1096.0,976.4 1095.5,976.5 1095.0,976.2 1094.5,976.0 1094.0,976.2 1093.5,977.8 1093.0,978.9 1092.5,979.9 1092.0,980.9 1091.5,981.4 1091.0,981.3 1090.5,981.0 1090.0,980.8 1089.5,981.0 1089.0,982.4 1088.5,984.2 1088.0,985.6 1087.5,985.8 1087.0,985.7 1086.5,986.0 1086.0,986.0 1085.5,985.9 1085.0,986.5 1084.5,987.7 1084.0,988.7 1083.5,989.7 1083.0,990.5 1082.5,990.8 1082.0,990.6 1081.5,990.4 1081.0,990.1 1080.5,989.7 1080.0,990.7 1079.5,991.8 1079.0,992.2 1078.5,992.5 1078.0,992.9 1077.5,993.0 1077.0,993.0 1076.5,992.9 1076.0,992.9 1075.5,993.2 1075.0,993.3 1074.5,994.0 1074.0,994.6 1073.5,994.8 1073.0,994.9 1072.5,995.1 1072.0,995.3 1071.5,995.2 1071.0,995.1 1070.5,995.0 1070.0,994.7 1069.5,994.2 1069.0,993.7 1068.5,993.7 1068.0,993.9 1067.5,994.0 1067.0,994.3 1066.5,994.8 1066.0,995.0 1065.5,994.8 1065.0,994.3 1064.5,993.9 1064.0,993.5 1063.5,992.4 1063.0,991.4 1062.5,990.4 1062.0,989.0 1061.5,988.5 1061.0,988.2 1060.5,988.1 1060.0,988.2 1059.5,987.9 1059.0,987.7 1058.5,987.2 1058.0,986.3 1057.5,985.4 1057.0,984.1 1056.5,982.7 1056.0,981.8 1055.5,981.0 1055.0,980.3 1054.5,980.1 1054.0,980.3 1053.5,980.1 1053.0,979.9 1052.5,979.7 1052.0,979.1 1051.5,978.3 1051.0,977.4 1050.5,976.3 1050.0,975.0 1049.5,974.7 1049.0,974.7 1048.5,974.7 1048.0,974.8 1047.5,974.4 1047.0,973.7 1046.5,972.9 1046.0,971.4 1045.5,970.1 1045.0,971.2 1044.5,971.8 1044.0,972.0 1043.5,972.1 1043.0,971.5 1042.5,970.4 1042.0,969.2 1041.5,968.4 1041.0,969.1 1040.5,969.7 1040.0,970.3 1039.5,970.6 1039.0,970.0 1038.5,968.9 1038.0,967.8 1037.5,968.2 1037.0,969.4 1036.5,969.9 1036.0,970.2 1035.5,970.2 1035.0,970.0 1034.5,969.5 1034.0,968.7 1033.5,968.1 1033.0,969.0 1032.5,969.7 1032.0,970.5 1031.5,971.2 1031.0,971.5 1030.5,971.2 1030.0,971.1 1029.5,971.1 1029.0,970.4 1028.5,969.7 1028.0,971.0 1027.5,972.2 1027.0,973.2 1026.5,974.0 1026.0,974.8 1025.5,975.1 1025.0,975.1 1024.5,975.1 1024.0,975.1 1023.5,974.7 1023.0,974.3 1022.5,973.8 1022.0,974.4 1021.5,975.5 1021.0,976.6 1020.5,977.4 1020.0,978.0 1019.5,978.1 1019.0,978.0 1018.5,978.2 1018.0,978.3 1017.5,977.7 1017.0,976.7 1016.5,975.8 1016.0,976.0 1015.5,976.9 1015.0,977.6 1014.5,978.1 1014.0,978.9 1013.5,979.1 1013.0,978.7 1012.5,978.3 1012.0,977.7 1011.5,976.7 1011.0,976.1 1010.5,976.1 1010.0,976.5 1009.5,977.0 1009.0,977.6 1008.5,977.7 1008.0,977.0 1007.5,976.1 1007.0,974.9 1006.5,973.4 1006.0,972.0 1005.5,971.5 1005.0,972.0 1004.5,972.6 1004.0,973.0 1003.5,972.8 1003.0,972.2 1002.5,971.6 1002.0,970.7 1001.5,969.2 1001.0,967.8 1000.5,966.8 1000.0,967.4 999.5,968.2 999.0,968.9 998.5,969.2 998.0,968.9 997.5,968.5 997.0,968.2 996.5,967.5 996.0,966.5 995.5,965.4 995.0,965.5 994.5,966.3 994.0,967.0 993.5,967.3 993.0,967.1 992.5,967.2 992.0,967.0 991.5,966.6 991.0,966.1 990.5,965.3 990.0,964.4 989.5,964.2 989.0,964.8 988.5,965.1 988.0,965.3 987.5,965.8 987.0,966.0 986.5,965.9 986.0,965.6 985.5,965.1 985.0,964.4 984.5,963.5 984.0,963.0 983.5,963.8 983.0,964.6 982.5,964.9 982.0,964.6 981.5,964.6 981.0,964.9 980.5,964.9 980.0,964.8 979.5,964.5 979.0,964.0 978.5,963.6 978.0,963.7 977.5,964.0 977.0,963.9 976.5,963.7 976.0,963.8 975.5,963.5 975.0,963.2 974.5,963.4 974.0,963.2 973.5,962.6 973.0,962.2 972.5,962.3 972.0,962.8 971.5,963.3 971.0,963.6 970.5,963.8 970.0,963.9 969.5,963.8 969.0,963.9 968.5,963.7 968.0,963.1 967.5,962.5 967.0,962.7 966.5,963.3 966.0,963.9 965.5,964.5 965.0,964.8 964.5,964.7 964.0,964.3 963.5,964.0 963.0,964.0 962.5,963.6 962.0,962.9 961.5,962.3 961.0,963.0 960.5,963.8 960.0,964.4 959.5,964.7 959.0,964.8 958.5,964.7 958.0,964.5 957.5,964.4 957.0,964.1 956.5,963.5 956.0,962.9 955.5,962.1 955.0,961.2 954.5,961.6 954.0,962.4 953.5,963.4 953.0,964.0 952.5,964.1 952.0,964.0 951.5,964.2 951.0,964.1 950.5,963.7 950.0,962.9 949.5,961.9 949.0,961.0 948.5,961.5 948.0,962.7 947.5,963.7 947.0,964.5 946.5,965.4 946.0,966.0 945.5,966.0 945.0,965.8 944.5,965.4 944.0,964.3 943.5,963.9 943.0,965.3 942.5,967.0 942.0,968.1 941.5,968.4 941.0,968.3 940.5,968.0 940.0,966.9 939.5,965.3 939.0,966.7 938.5,968.3 938.0,969.4 937.5,969.7 937.0,969.4 936.5,968.4 936.0,966.8 935.5,965.2 935.0,966.6 934.5,967.9 934.0,968.6 933.5,968.6 933.0,968.4 932.5,967.8 932.0,966.6 931.5,965.2 931.0,965.3 930.5,966.1 930.0,966.5 929.5,966.8 929.0,966.5 928.5,965.7 928.0,964.8 927.5,964.1 927.0,962.6 926.5,961.1 926.0,961.0 925.5,960.9 925.0,960.7 924.5,960.8 924.0,960.8 923.5,960.8 923.0,960.7 922.5,960.1 922.0,959.6 921.5,959.0 921.0,958.2 920.5,957.7 920.0,958.3 919.5,958.8 919.0,959.2 918.5,959.4 918.0,959.6 917.5,959.9 917.0,960.0 916.5,959.7 916.0,959.4 915.5,959.2 915.0,959.2 914.5,959.1 914.0,959.7 913.5,960.5 913.0,961.4 912.5,961.9 912.0,962.3 911.5,962.8 911.0,962.8 910.5,962.6 910.0,962.4 909.5,962.1 909.0,963.0 908.5,964.3 908.0,965.5 907.5,966.8 907.0,967.8 906.5,968.4 906.0,968.9 905.5,969.8 905.0,970.3 904.5,970.8 904.0,972.6 903.5,974.0 903.0,975.5 902.5,977.4 902.0,979.0 901.5,979.9 901.0,980.4 900.5,980.5 900.0,980.0 899.5,979.1 899.0,979.0 898.5,980.2 898.0,981.1 897.5,981.8 897.0,982.0 896.5,982.1 896.0,982.4 895.5,982.4 895.0,982.1 894.5,981.6 894.0,981.4 893.5,981.3 893.0,980.8 892.5,980.6 892.0,980.9 891.5,981.4 891.0,982.1 890.5,982.2 890.0,982.0 889.5,982.2 889.0,982.2 888.5,981.7 888.0,981.0 887.5,980.4 887.0,979.8 886.5,979.3 886.0,980.1 885.5,980.8 885.0,981.5 884.5,982.2 884.0,982.5 883.5,982.8 883.0,982.7 882.5,982.5 882.0,982.1 881.5,982.4 881.0,983.8 880.5,985.3 880.0,986.6 879.5,987.7 879.0,988.5 878.5,989.0 878.0,989.0 877.5,990.0 877.0,991.7 876.5,993.6 876.0,995.3 875.5,996.4 875.0,996.7 874.5,996.2 874.0,996.7 873.5,999.0 873.0,1001.2 872.5,1003.0 872.0,1004.1 871.5,1004.3 871.0,1004.2 870.5,1004.3 870.0,1005.4 869.5,1007.3 869.0,1009.1 868.5,1010.7 868.0,1011.9 867.5,1012.9 867.0,1013.5 866.5,1013.1 866.0,1012.2 865.5,1011.3 865.0,1011.0 864.5,1012.0 864.0,1012.5 863.5,1012.8 863.0,1013.0 862.5,1013.1 862.0,1013.2 861.5,1013.0 861.0,1012.8 860.5,1012.3 860.0,1011.0 859.5,1009.3 859.0,1007.8 858.5,1006.6 858.0,1005.5 857.5,1004.0 857.0,1003.3 856.5,1002.9 856.0,1002.5 855.5,1002.0 855.0,1001.0 854.5,999.7 854.0,998.5 853.5,997.1 853.0,995.7 852.5,994.2 852.0,992.5 851.5,990.7 851.0,988.5 850.5,986.3 850.0,984.0 849.5,981.5 849.0,979.9 848.5,979.1 848.0,978.1 847.5,976.8 847.0,975.4 846.5,974.2 846.0,972.9 845.5,971.4 845.0,969.7 844.5,967.7 844.0,965.1 843.5,962.8 843.0,962.7 842.5,962.9 842.0,963.5 841.5,964.4 841.0,965.2 840.5,965.3 840.0,964.8 839.5,963.9 839.0,963.0 838.5,963.5 838.0,964.7 837.5,965.6 837.0,966.5 836.5,966.4 836.0,965.5 835.5,964.6 835.0,963.5 834.5,962.1 834.0,962.4 833.5,963.2 833.0,963.7 832.5,963.6 832.0,963.2 831.5,962.8 831.0,962.2 830.5,961.2 830.0,960.4 829.5,960.7 829.0,960.9 828.5,961.3 828.0,961.6 827.5,961.1 827.0,960.1 826.5,959.4 826.0,958.7 825.5,959.1 825.0,959.6 824.5,960.3 824.0,960.5 823.5,960.3 823.0,960.4 822.5,960.3 822.0,959.8 821.5,959.2 821.0,959.3 820.5,960.2 820.0,960.9 819.5,961.0 819.0,961.2 818.5,961.4 818.0,961.9 817.5,961.8 817.0,961.1 816.5,960.6 816.0,960.3 815.5,960.0 815.0,960.3 814.5,960.7 814.0,961.2 813.5,961.5 813.0,961.5 812.5,961.2 812.0,961.0 811.5,960.9 811.0,960.6 810.5,960.2 810.0,959.7 809.5,959.1 809.0,959.2 808.5,959.8 808.0,960.5 807.5,961.1 807.0,961.3 806.5,961.3 806.0,961.6 805.5,962.1 805.0,962.2 804.5,962.0 804.0,961.5 803.5,960.8 803.0,960.2 802.5,959.6 802.0,959.1 801.5,959.6 801.0,960.0 800.5,960.2 800.0,960.4 799.5,960.6 799.0,960.2 798.5,959.7 798.0,959.4 797.5,959.2 797.0,958.8 796.5,958.2 796.0,957.3 795.5,956.7 795.0,957.2 794.5,957.7 794.0,957.6 793.5,957.3 793.0,957.3 792.5,957.3 792.0,956.6 791.5,956.3 791.0,956.0 790.5,955.4 790.0,955.4 789.5,955.9 789.0,955.9 788.5,955.8 788.0,955.7 787.5,955.2 787.0,954.8 786.5,954.6 786.0,954.1 785.5,953.4 785.0,953.5 784.5,954.2 784.0,954.7 783.5,955.2 783.0,955.7 782.5,955.7 782.0,955.3 781.5,954.9 781.0,954.4 780.5,954.4 780.0,955.2 779.5,956.3 779.0,957.0 778.5,957.2 778.0,957.2 777.5,957.4 777.0,957.2 776.5,956.2 776.0,956.4 775.5,957.6 775.0,958.4 774.5,959.3 774.0,959.6 773.5,959.5 773.0,959.2 772.5,958.4 772.0,957.5 771.5,956.3 771.0,957.2 770.5,958.2 770.0,959.1 769.5,959.7 769.0,959.9 768.5,959.5 768.0,958.8 767.5,957.7 767.0,956.5 766.5,955.6 766.0,956.8 765.5,958.2 765.0,959.4 764.5,960.0 764.0,959.8 763.5,959.2 763.0,958.5 762.5,957.8 762.0,956.9 761.5,955.4 761.0,955.3 760.5,956.1 760.0,956.7 759.5,957.3 759.0,957.7 758.5,957.8 758.0,957.7 757.5,957.5 757.0,956.8 756.5,955.7 756.0,954.7 755.5,954.9 755.0,956.0 754.5,956.9 754.0,957.4 753.5,957.5 753.0,957.5 752.5,957.1 752.0,956.5 751.5,956.0 751.0,955.6 750.5,954.9 750.0,955.8 749.5,956.8 749.0,957.4 748.5,957.8 748.0,957.9 747.5,957.7 747.0,957.2 746.5,956.2 746.0,955.4 745.5,955.9 745.0,956.9 744.5,957.7 744.0,958.3 743.5,958.7 743.0,958.7 742.5,958.3 742.0,957.5 741.5,956.5 741.0,956.9 740.5,958.1 740.0,959.0 739.5,959.6 739.0,959.9 738.5,960.0 738.0,959.5 737.5,958.5 737.0,957.1 736.5,955.9 736.0,957.4 735.5,958.4 735.0,959.0 734.5,959.8 734.0,960.5 733.5,961.4 733.0,961.8 732.5,961.7 732.0,961.2 731.5,960.4 731.0,961.5 730.5,962.9 730.0,963.9 729.5,965.0 729.0,966.1 728.5,966.7 728.0,966.9 727.5,966.7 727.0,966.8 726.5,967.2 726.0,967.1 725.5,966.8 725.0,967.9 724.5,969.3 724.0,970.4 723.5,971.5 723.0,972.3 722.5,972.9 722.0,973.1 721.5,973.2 721.0,973.4 720.5,973.2 720.0,972.7 719.5,972.5 719.0,972.5 718.5,973.0 718.0,973.5 717.5,974.1 717.0,975.0 716.5,975.5 716.0,975.7 715.5,976.0 715.0,975.7 714.5,975.2 714.0,974.9 713.5,974.5 713.0,973.6 712.5,973.3 712.0,973.9 711.5,974.2 711.0,974.4 710.5,974.4 710.0,974.1 709.5,973.7 709.0,973.5 708.5,972.9 708.0,971.7 707.5,970.8 707.0,970.7 706.5,971.0 706.0,971.5 705.5,971.8 705.0,972.2 704.5,972.4 704.0,972.3 703.5,972.1 703.0,972.1 702.5,972.1 702.0,973.5 701.5,974.9 701.0,976.2 700.5,977.5 700.0,978.7 699.5,980.0 699.0,981.1 698.5,981.9 698.0,982.3 697.5,983.7 697.0,985.6 696.5,987.4 696.0,989.1 695.5,990.8 695.0,992.1 694.5,993.0 694.0,993.4 693.5,993.8 693.0,994.2 692.5,994.9 692.0,996.1 691.5,997.4 691.0,998.7 690.5,999.8 690.0,1000.7 689.5,1001.0 689.0,1000.8 688.5,1000.9 688.0,1000.9 687.5,1000.6 687.0,1000.2 686.5,1000.6 686.0,1001.7 685.5,1003.0 685.0,1004.3 684.5,1005.2 684.0,1005.5 683.5,1005.6 683.0,1005.5 682.5,1005.3 682.0,1004.9 681.5,1004.0 681.0,1003.2 680.5,1002.9 680.0,1003.6 679.5,1003.9 679.0,1004.6 678.5,1005.2 678.0,1005.1 677.5,1004.8 677.0,1004.3 676.5,1003.3 676.0,1002.3 675.5,1001.3 675.0,1000.7 674.5,1001.1 674.0,1001.6 673.5,1002.2 673.0,1002.4 672.5,1002.3 672.0,1001.7 671.5,1000.8 671.0,999.6 670.5,998.3 670.0,998.9 669.5,1000.1 669.0,1000.9 668.5,1001.2 668.0,1001.3 667.5,1001.3 667.0,1000.7 666.5,999.4 666.0,998.2 665.5,998.3 665.0,999.9 664.5,1000.8 664.0,1001.5 663.5,1002.0 663.0,1002.3 662.5,1002.2 662.0,1001.1 661.5,999.8 661.0,998.7 660.5,999.3 660.0,999.8 659.5,1000.0 659.0,1000.0 658.5,1000.0 658.0,999.3 657.5,998.5 657.0,997.5 656.5,996.1 656.0,995.1 655.5,995.1 655.0,994.9 654.5,995.0 654.0,994.8 653.5,994.2 653.0,992.8 652.5,991.1 652.0,989.3 651.5,987.2 651.0,985.3 650.5,984.6 650.0,984.3 649.5,983.7 649.0,982.9 648.5,982.5 648.0,981.8 647.5,980.6 647.0,979.5 646.5,978.4 646.0,976.9 645.5,975.2 645.0,974.9 644.5,974.4 644.0,973.8 643.5,973.2 643.0,972.3 642.5,971.1 642.0,969.6 641.5,968.1 641.0,966.7 640.5,965.1 640.0,965.4 639.5,965.9 639.0,966.3 638.5,966.7 638.0,966.5 637.5,965.6 637.0,965.1 636.5,964.7 636.0,963.6 635.5,962.4 635.0,962.2 634.5,963.1 634.0,964.0 633.5,964.9 633.0,965.7 632.5,966.4 632.0,967.4 631.5,968.1 631.0,968.9 630.5,969.6 630.0,970.0 629.5,970.0 629.0,969.9 628.5,969.9 628.0,971.0 627.5,972.1 627.0,973.6 626.5,975.0 626.0,976.0 625.5,977.1 625.0,978.3 624.5,979.2 624.0,979.9 623.5,980.7 623.0,981.1 622.5,981.3 622.0,981.3 621.5,981.0 621.0,980.6 620.5,980.4 620.0,980.0 619.5,979.6 619.0,980.4 618.5,981.1 618.0,981.9 617.5,982.5 617.0,983.1 616.5,983.1 616.0,982.7 615.5,982.5 615.0,982.2 614.5,981.6 614.0,980.5 613.5,978.9 613.0,977.3 612.5,977.8 612.0,978.6 611.5,978.9 611.0,978.7 610.5,978.4 610.0,977.7 609.5,977.0 609.0,976.2 608.5,974.8 608.0,973.0 607.5,972.9 607.0,974.3 606.5,975.1 606.0,975.1 605.5,974.7 605.0,974.2 604.5,973.5 604.0,972.4 603.5,971.4 603.0,972.3 602.5,972.9 602.0,972.7 601.5,972.5 601.0,972.1 600.5,971.5 600.0,970.9 599.5,969.9 599.0,969.8 598.5,970.0 598.0,970.3 597.5,970.5 597.0,970.1 596.5,969.2 596.0,968.4 595.5,967.4 595.0,966.9 594.5,967.7 594.0,968.8 593.5,969.8 593.0,970.1 592.5,969.6 592.0,968.5 591.5,967.2 591.0,966.2 590.5,966.5 590.0,967.5 589.5,968.2 589.0,968.2 588.5,967.9 588.0,966.9 587.5,965.8 587.0,964.6 586.5,963.2 586.0,961.7 585.5,961.7 585.0,961.5 584.5,961.1 584.0,960.6 583.5,960.1 583.0,959.8 582.5,959.2 582.0,958.3 581.5,957.3 581.0,956.2 580.5,956.4 580.0,957.2 579.5,957.7 579.0,957.6 578.5,957.7 578.0,957.7 577.5,957.2 577.0,956.1 576.5,954.8 576.0,953.5 575.5,953.4 575.0,954.6 574.5,955.2 574.0,955.4 573.5,955.6 573.0,955.5 572.5,954.5 572.0,953.3 571.5,952.2 571.0,951.1 570.5,950.2 570.0,951.0 569.5,951.6 569.0,952.0 568.5,952.5 568.0,952.6 567.5,952.2 567.0,951.5 566.5,950.8 566.0,949.7 565.5,948.3 565.0,948.4 564.5,949.4 564.0,949.9 563.5,950.0 563.0,950.2 562.5,950.3 562.0,950.1 561.5,949.6 561.0,948.9 560.5,948.4 560.0,948.1 559.5,947.7 559.0,947.7 558.5,948.3 558.0,949.0 557.5,949.7 557.0,950.1 556.5,950.2 556.0,950.3 555.5,950.3 555.0,950.0 554.5,949.6 554.0,949.0 553.5,947.8 553.0,946.4 552.5,946.4 552.0,946.9 551.5,947.3 551.0,947.1 550.5,946.9 550.0,946.4 549.5,945.5 549.0,944.9 548.5,944.6 548.0,944.3 547.5,945.3 547.0,946.4 546.5,947.2 546.0,948.0 545.5,948.5 545.0,948.3 544.5,947.8 544.0,947.3 543.5,947.4 543.0,949.1 542.5,950.6 542.0,951.7 541.5,952.7 541.0,953.4 540.5,953.7 540.0,953.5 539.5,953.1 539.0,953.5 538.5,954.1 538.0,954.4 537.5,954.7 537.0,955.1 536.5,954.7 536.0,954.0 535.5,953.6 535.0,953.1 534.5,952.9 534.0,953.7 533.5,954.3 533.0,954.8 532.5,955.1 532.0,955.0 531.5,955.2 531.0,955.7 530.5,955.7 530.0,955.4 529.5,955.1 529.0,955.6 528.5,956.7 528.0,958.0 527.5,959.0 527.0,959.5 526.5,960.2 526.0,961.0 525.5,961.4 525.0,961.7 524.5,962.4 524.0,962.8 523.5,962.9 523.0,964.4 522.5,966.1 522.0,967.7 521.5,969.3 521.0,970.7 520.5,971.8 520.0,972.7 519.5,973.9 519.0,974.5 518.5,974.6 518.0,975.0 517.5,975.4 517.0,976.9 516.5,978.4 516.0,979.5 515.5,980.0 515.0,980.1 514.5,979.7 514.0,979.1 513.5,978.2 513.0,976.8 512.5,975.1 512.0,973.2 511.5,972.2 511.0,972.0 510.5,972.2 510.0,971.9 509.5,971.0 509.0,970.1 508.5,969.6 508.0,968.9 507.5,967.9 507.0,967.1 506.5,966.4 506.0,966.7 505.5,967.6 505.0,968.6 504.5,969.6 504.0,970.2 503.5,970.6 503.0,971.1 502.5,971.7 502.0,971.5 501.5,970.6 501.0,969.9 500.5,971.0 500.0,972.5 499.5,974.0 499.0,975.0 498.5,975.6 498.0,976.3 497.5,976.7 497.0,976.8 496.5,976.8 496.0,976.6 495.5,976.0 495.0,976.4 494.5,977.1 494.0,977.7 493.5,977.9 493.0,977.9 492.5,977.9 492.0,977.8 491.5,977.3 491.0,976.9 490.5,976.6 490.0,976.4 489.5,977.0 489.0,977.7 488.5,978.5 488.0,979.0 487.5,979.4 487.0,979.8 486.5,980.2 486.0,980.4 485.5,980.3 485.0,980.1 484.5,980.8 484.0,981.8 483.5,982.2 483.0,982.4 482.5,983.0 482.0,983.6 481.5,983.5 481.0,983.3 480.5,983.3 480.0,983.2 479.5,984.0 479.0,984.9 478.5,985.7 478.0,986.3 477.5,986.5 477.0,987.0 476.5,987.5 476.0,987.6 475.5,987.6 475.0,988.6 474.5,989.7 474.0,990.6 473.5,991.2 473.0,991.6 472.5,991.8 472.0,991.7 471.5,991.7 471.0,993.0 470.5,994.3 470.0,995.5 469.5,996.3 469.0,996.4 468.5,996.5 468.0,996.7 467.5,996.4 467.0,996.5 466.5,998.1 466.0,999.5 465.5,1000.6 465.0,1001.6 464.5,1002.4 464.0,1003.1 463.5,1003.4 463.0,1003.7 462.5,1003.5 462.0,1002.9 461.5,1002.7 461.0,1004.3 460.5,1005.7 460.0,1006.9 459.5,1008.1 459.0,1009.3 458.5,1010.0 458.0,1010.6 457.5,1011.0 457.0,1011.0 456.5,1011.1 456.0,1011.1 455.5,1010.7 455.0,1010.5 454.5,1011.6 454.0,1012.4 453.5,1013.0 453.0,1013.3 452.5,1013.4 452.0,1013.3 451.5,1012.7 451.0,1012.0 450.5,1011.5 450.0,1010.8 449.5,1009.8 449.0,1008.7 448.5,1007.3 448.0,1007.4 447.5,1007.9 447.0,1008.3 446.5,1008.4 446.0,1008.4 445.5,1008.2 445.0,1007.5 444.5,1006.7 444.0,1005.6 443.5,1004.2 443.0,1002.8 442.5,1002.0 442.0,1001.9 441.5,1001.6 441.0,1001.3 440.5,1001.5 440.0,1001.3 439.5,1000.5 439.0,999.6 438.5,998.7 438.0,997.3 437.5,996.3 437.0,997.0 436.5,997.6 436.0,997.9 435.5,997.9 435.0,997.8 434.5,997.8 434.0,997.7 433.5,997.2 433.0,996.8 432.5,996.4 432.0,996.9 431.5,997.3 431.0,998.2 430.5,999.2 430.0,999.8 429.5,1000.0 429.0,1000.4 428.5,1000.6 428.0,1000.8 427.5,1001.0 427.0,1001.9 426.5,1004.0 426.0,1005.5 425.5,1006.4 425.0,1007.3 424.5,1008.0 424.0,1008.3 423.5,1008.4 423.0,1008.7 422.5,1009.0 422.0,1008.8 421.5,1008.9 421.0,1009.9 420.5,1010.6 420.0,1011.2 419.5,1012.1 419.0,1013.2 418.5,1013.8 418.0,1014.2 417.5,1015.4 417.0,1016.3 416.5,1016.4 416.0,1016.5 415.5,1016.9 415.0,1017.5 414.5,1018.5 414.0,1019.5 413.5,1020.3 413.0,1021.9 412.5,1023.3 412.0,1024.3 411.5,1025.2 411.0,1025.6 410.5,1025.7 410.0,1026.1 409.5,1026.3 409.0,1026.0 408.5,1025.9 408.0,1027.3 407.5,1028.9 407.0,1030.6 406.5,1031.8 406.0,1032.5 405.5,1033.1 405.0,1033.2 404.5,1032.9 404.0,1032.9 403.5,1033.0 403.0,1033.2 402.5,1034.9 402.0,1036.4 401.5,1037.9 401.0,1039.1 400.5,1039.7 400.0,1039.8 399.5,1040.2 399.0,1040.5 398.5,1040.6 398.0,1040.3 397.5,1041.3 397.0,1042.6 396.5,1043.7 396.0,1044.6 395.5,1045.1 395.0,1045.8 394.5,1046.1 394.0,1046.0 393.5,1045.9 393.0,1045.9 392.5,1046.1 392.0,1047.0 391.5,1047.9 391.0,1048.7 390.5,1049.3 390.0,1050.1 389.5,1051.1 389.0,1051.5 388.5,1051.5 388.0,1051.3 387.5,1051.2 387.0,1052.1 386.5,1053.6 386.0,1054.7 385.5,1055.4 385.0,1056.3 384.5,1057.3 384.0,1058.2 383.5,1058.7 383.0,1059.0 382.5,1059.4 382.0,1060.0 381.5,1060.6 381.0,1061.0 380.5,1061.9 380.0,1063.3 379.5,1064.3 379.0,1064.8 378.5,1065.2 378.0,1065.5 377.5,1065.7 377.0,1065.9 376.5,1065.8 376.0,1066.3 375.5,1067.4 375.0,1068.4 374.5,1069.0 374.0,1069.7 373.5,1070.4 373.0,1071.4 372.5,1072.4 372.0,1073.0 371.5,1072.9 371.0,1072.4 370.5,1072.2 370.0,1072.4 369.5,1073.2 369.0,1073.7 368.5,1074.2 368.0,1074.7 367.5,1074.8 367.0,1075.0 366.5,1075.0 366.0,1074.7 365.5,1074.2 365.0,1073.3 364.5,1073.6 364.0,1074.8 363.5,1075.3 363.0,1075.8 362.5,1076.2 362.0,1076.2 361.5,1076.0 361.0,1075.8 360.5,1075.4 360.0,1074.9 359.5,1075.8 359.0,1076.8 358.5,1077.8 358.0,1078.2 357.5,1078.4 357.0,1078.1 356.5,1077.7 356.0,1077.2 355.5,1076.8 355.0,1078.3 354.5,1079.6 354.0,1080.6 353.5,1081.3 353.0,1081.7 352.5,1081.5 352.0,1081.0 351.5,1080.7 351.0,1081.3 350.5,1082.4 350.0,1083.1 349.5,1083.8 349.0,1084.3 348.5,1084.6 348.0,1084.7 347.5,1084.4 347.0,1083.6 346.5,1083.5 346.0,1084.6 345.5,1085.5 345.0,1086.0 344.5,1086.4 344.0,1086.4 343.5,1086.3 343.0,1086.0 342.5,1085.7 342.0,1085.3 341.5,1085.2 341.0,1085.4 340.5,1085.9 340.0,1086.1 339.5,1086.2 339.0,1086.3 338.5,1086.2 338.0,1086.0 337.5,1085.5 337.0,1085.0 336.5,1084.8 336.0,1085.2 335.5,1085.8 335.0,1086.2 334.5,1086.2 334.0,1086.2 333.5,1086.4 333.0,1086.6 332.5,1086.1 332.0,1085.1 331.5,1084.1 331.0,1083.0 330.5,1081.9 330.0,1081.7 329.5,1081.3 329.0,1080.9 328.5,1079.8 328.0,1078.1 327.5,1076.4 327.0,1074.3 326.5,1072.0 326.0,1069.7 325.5,1066.7 325.0,1063.5 324.5,1062.1 324.0,1060.8 323.5,1058.8 323.0,1056.4 322.5,1053.8 322.0,1050.9 321.5,1047.8 321.0,1044.2 320.5,1040.0 320.0,1035.5 319.5,1032.0 319.0,1029.8 318.5,1027.2 318.0,1024.6 317.5,1021.8 317.0,1018.7 316.5,1015.2 316.0,1011.1 315.5,1007.0 315.0,1003.0 314.5,999.8 314.0,997.5 313.5,995.3 313.0,993.0 312.5,990.7 312.0,987.6 311.5,983.8 311.0,980.1 310.5,976.1 310.0,971.9 309.5,969.9 309.0,967.7 308.5,965.7 308.0,963.4 307.5,960.8 307.0,958.3 306.5,955.7 306.0,952.6 305.5,949.1 305.0,946.1 304.5,944.2 304.0,942.6 303.5,940.9 303.0,940.1 302.5,939.9 302.0,939.0 301.5,937.8 301.0,936.9 300.5,935.8 300.0,934.3 299.5,933.1 299.0,933.9 298.5,934.5 298.0,935.2 297.5,936.0 297.0,936.5 296.5,936.8 296.0,937.0 295.5,936.8 295.0,936.3 294.5,936.0 294.0,936.9 293.5,939.0 293.0,940.9 292.5,942.6 292.0,944.0 291.5,945.0 291.0,945.9 290.5,946.5 290.0,946.9 289.5,947.8 289.0,948.5 288.5,950.1 288.0,951.7 287.5,953.6 287.0,956.1 286.5,958.4 286.0,959.9 285.5,959.9 285.0,958.9 284.5,958.4 284.0,957.6 283.5,956.2 283.0,955.3 282.5,954.4 282.0,953.8 281.5,952.8 281.0,951.9 280.5,950.8 280.0,949.2 279.5,947.1 279.0,944.6 278.5,942.3 278.0,941.0 277.5,940.3 277.0,939.1 276.5,937.6 276.0,936.3 275.5,934.7 275.0,933.0 274.5,931.1 274.0,929.0 273.5,927.0 273.0,924.8 272.5,923.2 272.0,922.4 271.5,921.5 271.0,920.5 270.5,919.5 270.0,918.3 269.5,916.9 269.0,915.4 268.5,913.7 268.0,911.8 267.5,910.0 267.0,908.3 266.5,907.2 266.0,906.2 265.5,905.4 265.0,904.5 264.5,903.2 264.0,901.8 263.5,900.5 263.0,899.0 262.5,897.3 262.0,895.5 261.5,893.9 261.0,893.3 260.5,893.0 260.0,892.6 259.5,891.9 259.0,891.0 258.5,889.7 258.0,888.2 257.5,886.9 257.0,885.2 256.5,883.3 256.0,881.7 255.5,881.6 255.0,880.9 254.5,880.5 254.0,880.4 253.5,879.5 253.0,878.2 252.5,877.3 252.0,876.0 251.5,874.1 251.0,872.0 250.5,870.2 250.0,870.3 249.5,870.0 249.0,869.7 248.5,869.5 248.0,868.8 247.5,867.5 247.0,866.0 246.5,864.6 246.0,863.2 245.5,861.6 245.0,861.4 244.5,861.7 244.0,861.7 243.5,861.6 243.0,861.5 242.5,860.7 242.0,859.6 241.5,858.8 241.0,857.9 240.5,857.3 240.0,857.9 239.5,858.3 239.0,858.7 238.5,858.8 238.0,858.1 237.5,856.9 237.0,855.6 236.5,853.9 236.0,853.4 235.5,854.7 235.0,855.8 234.5,856.1 234.0,855.9 233.5,855.3 233.0,854.5 232.5,853.3 232.0,851.7 231.5,851.1 231.0,852.3 230.5,853.1 230.0,853.4 229.5,853.4 229.0,853.2 228.5,852.6 228.0,851.6 227.5,850.3 227.0,848.8 226.5,848.8 226.0,849.6 225.5,850.1 225.0,850.8 224.5,851.1 224.0,850.5 223.5,849.7 223.0,849.4 222.5,848.8 222.0,847.5 221.5,845.8 221.0,844.5 220.5,845.2 220.0,845.8 219.5,846.4 219.0,846.9 218.5,847.0 218.0,846.7 217.5,846.4 217.0,846.0 216.5,845.7 216.0,844.9 215.5,843.6 215.0,842.0 214.5,842.4 214.0,843.4 213.5,844.1 213.0,844.4 212.5,845.2 212.0,845.4 211.5,844.6 211.0,843.7 210.5,843.0 210.0,842.0 209.5,840.8 209.0,841.4 208.5,841.9 208.0,842.3 207.5,842.8 207.0,843.2 206.5,842.9 206.0,842.0 205.5,840.8 205.0,839.3 204.5,838.6 204.0,839.6 203.5,840.2 203.0,840.5 202.5,840.6 202.0,840.5 201.5,839.8 201.0,838.6 200.5,837.2 200.0,836.4 199.5,837.0 199.0,837.3 198.5,837.9 198.0,838.0 197.5,837.6 197.0,837.2 196.5,836.7 196.0,836.1 195.5,835.1 195.0,835.1 194.5,835.8 194.0,836.3 193.5,836.2 193.0,836.3 192.5,836.6 192.0,836.3 191.5,835.7 191.0,835.4 190.5,835.1 190.0,835.4 189.5,835.9 189.0,836.4 188.5,836.5 188.0,836.2 187.5,836.2 187.0,836.3 186.5,836.2 186.0,835.9 185.5,835.7 185.0,835.9 184.5,836.4 184.0,836.6 183.5,836.8 183.0,837.2 182.5,837.5 182.0,837.9 181.5,838.4 181.0,838.7 180.5,838.6 180.0,838.3 179.5,837.5 179.0,837.2 178.5,838.3 178.0,839.4 177.5,840.5 177.0,841.6 176.5,842.2 176.0,842.4 175.5,842.4 175.0,842.5 174.5,842.2 174.0,841.5 173.5,841.2 173.0,840.9 172.5,840.9 172.0,841.9 171.5,843.4 171.0,844.2 170.5,844.6 170.0,845.4 169.5,845.9 169.0,846.0 168.5,845.8 168.0,845.4 167.5,845.5 167.0,845.4 166.5,845.1 166.0,845.2 165.5,846.3 165.0,847.0" fill="#0000ff"/>
</g>
<text class="t" x="157.0" y="804.0" text-anchor="end">200</text>
<text class="t" x="157.0" y="881.0" text-anchor="end">100</text>
<text class="t" x="157.0" y="958.0" text-anchor="end">0</text>
<text class="t" x="156.4" y="1035.9" text-anchor="end">-100</text>
<text class="t" x="156.4" y="1112.9" text-anchor="end">-200</text>
<text class="yl" transform="translate(64.0 952.0) rotate(-90)" text-anchor="middle">Measured-Model</text>
<text class="yl" transform="translate(90.0 952.0) rotate(-90)" text-anchor="middle">B Center (nT)</text>
<text class="b" transform="translate(1176.3 1020.9) rotate(-90)">Inboard B</text>
<text class="b" transform="translate(1196.3 1021.2) rotate(-90)">Outboard B</text>
<rect x="1170.50" y="1047.3" width="1.5" height="17.6" fill="#0000ff"/>
<rect x="1190.25" y="1047.3" width="1.5" height="17.6" fill="#00ff00"/>
</g>
<g id="panel4">
<g stroke="#262626" stroke-width="1" fill="none" shape-rendering="crispEdges">
<rect x="165.5" y="1142.5" width="989.0" height="310.0"/>
<path d="M165.5 1220.5h10M1154.5 1220.5h-10M165.5 1297.5h10M1154.5 1297.5h-10M165.5 1375.5h10M1154.5 1375.5h-10M412.5 1142.5v10M412.5 1452.5v-10M660.5 1142.5v10M660.5 1452.5v-10M907.5 1142.5v10M907.5 1452.5v-10"/>
</g>
<g shape-rendering="crispEdges">
<rect x="165" y="1199" width="151" height="251" fill="#d9d9d9"/>
<rect x="316" y="1199" width="181" height="251" fill="#ffb3ff"/>
<rect x="505" y="1199" width="104" height="251" fill="#d9d9d9"/>
<rect x="590" y="1199" width="8" height="251" fill="#ffb3ff"/>
<rect x="628" y="1199" width="101" height="251" fill="#ffb3ff"/>
<rect x="729" y="1199" width="112" height="251" fill="#d9d9d9"/>
<rect x="841" y="1199" width="23" height="251" fill="#ffb3ff"/>
<rect x="864" y="1199" width="15" height="251" fill="#d9d9d9"/>
<rect x="879" y="1199" width="23" height="251" fill="#ffb3ff"/>
<rect x="902" y="1199" width="16" height="251" fill="#d9d9d9"/>
<rect x="1006" y="1199" width="27" height="251" fill="#d9d9d9"/>
<rect x="1033" y="1199" width="24" height="251" fill="#ffb3ff"/>
<rect x="1072" y="1199" width="23" height="251" fill="#ffb3ff"/>
<rect x="1111" y="1199" width="7" height="251" fill="#ffb3ff"/>
<rect x="1149" y="1199" width="5" height="251" fill="#ffb3ff"/>
</g>
<path d="M1154.5 1142.0V1453.0" stroke="#262626" stroke-width="1" shape-rendering="crispEdges"/>
<clipPath id="clip3"><rect x="165.0" y="1142.5" width="989.5" height="310.0"/></clipPath>
<g clip-path="url(#clip3)">
<path d="M165.5 1373V1431" stroke="#00ff00" stroke-width="1.1" fill="none"/>
<polygon points="165,1404 167.2,1410 168.3,1428 167,1431 165,1428" fill="#00ff00"/>
<polygon points="165.0,1408.6 165.3,1408.5 165.7,1408.3 166.0,1408.1 166.4,1407.5 166.7,1406.6 167.1,1405.8 167.4,1405.4 167.8,1406.1 168.1,1403.2 168.5,1400.7 168.8,1398.4 169.2,1396.3 169.5,1394.5 169.9,1392.9 170.2,1391.5 170.6,1390.3 170.9,1389.1 171.3,1388.8 171.6,1388.7 172.0,1389.0 172.3,1389.6 172.7,1391.0 173.0,1395.0 173.4,1390.2 173.7,1385.7 174.1,1382.4 174.4,1380.1 174.8,1378.7 175.1,1378.3 175.5,1379.0 175.8,1380.7 176.2,1382.8 176.5,1385.2 176.9,1387.6 177.2,1389.9 177.6,1391.9 177.9,1393.8 178.3,1396.3 178.6,1394.7 179.0,1390.7 179.3,1387.1 179.7,1383.8 180.0,1381.1 180.4,1379.1 180.7,1378.0 181.1,1377.4 181.4,1377.4 181.8,1377.8 182.1,1378.6 182.5,1379.8 182.8,1381.3 183.2,1383.7 183.5,1386.8 183.9,1391.5 184.2,1388.7 184.6,1386.3 184.9,1385.1 185.3,1384.5 185.6,1384.3 186.0,1384.0 186.3,1383.4 186.7,1382.7 187.0,1381.7 187.4,1380.6 187.7,1379.8 188.1,1379.6 188.4,1380.2 188.8,1381.7 189.1,1384.4 189.5,1390.8 189.8,1384.2 190.2,1380.8 190.5,1378.4 190.9,1376.5 191.2,1374.8 191.6,1373.3 191.9,1372.3 192.3,1371.7 192.6,1371.7 193.0,1372.0 193.3,1372.8 193.7,1374.1 194.0,1376.0 194.4,1378.6 194.7,1382.6 195.1,1383.6 195.4,1378.1 195.8,1374.5 196.1,1371.9 196.5,1370.4 196.8,1369.7 197.2,1369.6 197.5,1370.2 197.9,1371.2 198.2,1372.4 198.6,1373.7 198.9,1375.4 199.3,1377.2 199.6,1379.6 200.0,1382.9 200.3,1386.7 200.7,1381.4 201.0,1378.2 201.4,1375.8 201.7,1373.9 202.1,1372.6 202.4,1372.0 202.8,1372.0 203.1,1372.3 203.5,1372.8 203.8,1373.7 204.2,1375.1 204.5,1376.9 204.9,1379.5 205.2,1383.3 205.6,1383.3 205.9,1379.2 206.3,1376.5 206.6,1374.8 207.0,1373.8 207.3,1373.4 207.7,1373.5 208.0,1374.1 208.4,1374.9 208.7,1376.0 209.1,1377.4 209.4,1379.0 209.8,1380.8 210.1,1383.1 210.5,1386.8 210.8,1381.5 211.2,1378.5 211.5,1376.8 211.9,1376.2 212.2,1376.4 212.6,1377.2 212.9,1378.2 213.3,1379.2 213.6,1380.1 214.0,1380.9 214.3,1381.6 214.7,1382.6 215.0,1383.9 215.4,1385.9 215.7,1386.0 216.1,1382.8 216.4,1380.3 216.8,1378.0 217.1,1375.8 217.5,1373.7 217.8,1371.7 218.2,1370.0 218.5,1368.8 218.9,1368.2 219.2,1368.1 219.6,1368.3 219.9,1368.9 220.3,1370.6 220.6,1373.8 221.0,1377.0 221.3,1370.5 221.7,1366.4 222.0,1363.4 222.4,1361.5 222.7,1360.3 223.1,1359.6 223.4,1359.4 223.8,1359.7 224.1,1360.9 224.5,1362.6 224.8,1364.7 225.2,1367.4 225.5,1370.4 225.9,1373.8 226.2,1377.7 226.6,1380.4 226.9,1377.2 227.3,1375.9 227.6,1375.5 228.0,1375.9 228.3,1376.6 228.7,1377.6 229.0,1378.8 229.4,1379.9 229.7,1380.8 230.1,1381.5 230.4,1382.0 230.8,1382.4 231.1,1382.8 231.5,1383.2 231.8,1384.1 232.2,1383.9 232.5,1380.6 232.9,1377.7 233.2,1374.6 233.6,1371.6 233.9,1369.0 234.3,1367.0 234.6,1365.9 235.0,1365.7 235.3,1366.4 235.7,1367.9 236.0,1369.9 236.4,1372.2 236.7,1374.8 237.1,1377.7 237.4,1378.8 237.8,1375.1 238.1,1372.2 238.5,1369.8 238.8,1367.9 239.2,1366.5 239.5,1365.7 239.9,1365.4 240.2,1365.9 240.6,1367.0 240.9,1368.5 241.3,1370.4 241.6,1372.5 242.0,1374.8 242.3,1378.3 242.7,1376.4 243.0,1374.4 243.4,1373.6 243.7,1373.6 244.1,1374.3 244.4,1375.4 244.8,1376.8 245.1,1378.1 245.5,1379.3 245.8,1380.1 246.2,1380.5 246.5,1380.8 246.9,1381.0 247.2,1381.3 247.6,1382.1 247.9,1379.7 248.3,1378.0 248.6,1376.8 249.0,1376.0 249.3,1375.6 249.7,1375.7 250.0,1376.1 250.4,1376.4 250.7,1376.3 251.1,1376.0 251.4,1375.3 251.8,1374.6 252.1,1374.3 252.5,1375.3 252.8,1373.4 253.2,1369.4 253.5,1366.3 253.9,1364.0 254.2,1362.2 254.6,1361.1 254.9,1360.4 255.3,1360.0 255.6,1360.0 256.0,1360.7 256.3,1362.0 256.7,1364.1 257.0,1366.9 257.4,1370.2 257.7,1373.3 258.1,1370.1 258.4,1368.1 258.8,1366.5 259.1,1364.9 259.5,1363.4 259.8,1362.1 260.2,1361.2 260.5,1360.9 260.9,1361.5 261.2,1362.9 261.6,1364.9 261.9,1367.4 262.3,1369.9 262.6,1373.0 263.0,1371.8 263.3,1369.2 263.7,1366.9 264.0,1364.6 264.4,1362.5 264.7,1360.8 265.1,1359.5 265.4,1358.8 265.8,1358.8 266.1,1359.2 266.5,1360.1 266.8,1361.2 267.2,1362.7 267.5,1365.0 267.9,1368.7 268.2,1362.9 268.6,1359.1 268.9,1356.0 269.3,1354.0 269.6,1352.4 270.0,1351.3 270.3,1350.5 270.7,1350.2 271.0,1350.3 271.4,1350.9 271.7,1352.2 272.1,1355.4 272.4,1359.6 272.8,1366.0 273.1,1361.5 273.5,1358.3 273.8,1355.4 274.2,1352.7 274.5,1350.4 274.9,1348.9 275.2,1348.2 275.6,1348.4 275.9,1349.3 276.3,1351.0 276.6,1353.0 277.0,1355.2 277.3,1358.2 277.7,1363.4 278.0,1356.1 278.4,1351.6 278.7,1348.3 279.1,1346.3 279.4,1345.6 279.8,1345.8 280.1,1346.8 280.5,1348.2 280.8,1349.9 281.2,1351.8 281.5,1354.0 281.9,1356.4 282.2,1359.6 282.6,1363.0 282.9,1358.9 283.3,1356.7 283.6,1355.4 284.0,1354.6 284.3,1354.2 284.7,1354.0 285.0,1354.0 285.4,1354.4 285.7,1355.2 286.1,1356.2 286.4,1357.5 286.8,1358.8 287.1,1360.4 287.5,1362.7 287.8,1361.8 288.2,1359.1 288.5,1356.9 288.9,1355.1 289.2,1353.5 289.6,1352.0 289.9,1350.6 290.3,1349.4 290.6,1348.7 291.0,1348.8 291.3,1349.4 291.7,1350.5 292.0,1351.8 292.4,1353.8 292.7,1356.4 293.1,1360.1 293.4,1355.7 293.8,1353.3 294.1,1351.6 294.5,1350.3 294.8,1349.4 295.2,1348.8 295.5,1348.4 295.9,1348.3 296.2,1348.5 296.6,1348.9 296.9,1349.6 297.3,1350.6 297.6,1351.8 298.0,1353.5 298.3,1355.7 298.7,1358.9 299.0,1356.4 299.4,1355.6 299.7,1355.1 300.1,1354.5 300.4,1353.7 300.8,1352.7 301.1,1351.8 301.5,1351.1 301.8,1350.7 302.2,1350.6 302.5,1350.8 302.9,1351.4 303.2,1352.4 303.6,1353.9 303.9,1356.4 304.3,1356.3 304.6,1354.2 305.0,1352.8 305.3,1351.8 305.7,1351.1 306.0,1350.8 306.4,1350.9 306.7,1351.1 307.1,1351.5 307.4,1351.8 307.8,1352.1 308.1,1352.5 308.5,1353.1 308.8,1353.9 309.2,1355.2 309.5,1357.3 309.9,1354.0 310.2,1351.8 310.6,1349.9 310.9,1348.1 311.3,1346.4 311.6,1345.0 312.0,1344.1 312.3,1343.3 312.7,1342.6 313.0,1342.1 313.4,1341.9 313.7,1342.3 314.1,1343.8 314.4,1346.6 314.8,1351.2 315.1,1345.7 315.5,1342.5 315.8,1339.7 316.2,1337.4 316.5,1335.5 316.9,1334.1 317.2,1333.3 317.6,1332.8 317.9,1332.8 318.3,1333.6 318.6,1335.1 319.0,1337.3 319.3,1340.5 319.7,1346.4 320.0,1341.4 320.4,1337.5 320.7,1334.8 321.1,1332.8 321.4,1331.1 321.8,1329.7 322.1,1328.4 322.5,1327.5 322.8,1327.3 323.2,1328.0 323.5,1329.9 323.9,1332.9 324.2,1337.6 324.6,1342.0 324.9,1335.7 325.3,1332.0 325.6,1329.4 326.0,1327.3 326.3,1325.4 326.7,1323.9 327.0,1322.9 327.4,1322.8 327.7,1323.9 328.1,1326.2 328.4,1329.7 328.8,1334.4 329.1,1341.3 329.5,1338.8 329.8,1336.0 330.2,1334.9 330.5,1334.8 330.9,1335.1 331.2,1335.4 331.6,1335.5 331.9,1335.3 332.3,1334.8 332.6,1334.4 333.0,1334.8 333.3,1336.4 333.7,1339.7 334.0,1341.9 334.4,1337.9 334.7,1336.6 335.1,1336.8 335.4,1338.1 335.8,1340.0 336.1,1342.1 336.5,1344.0 336.8,1345.5 337.2,1346.6 337.5,1347.3 337.9,1347.9 338.2,1348.6 338.6,1350.4 338.9,1347.4 339.3,1345.3 339.6,1343.7 340.0,1342.6 340.3,1341.9 340.7,1341.5 341.0,1341.0 341.4,1340.4 341.7,1339.5 342.1,1338.6 342.4,1338.1 342.8,1338.3 343.1,1340.1 343.5,1339.5 343.8,1334.9 344.2,1331.4 344.5,1328.5 344.9,1325.9 345.2,1324.2 345.6,1323.3 345.9,1322.8 346.3,1322.9 346.6,1323.4 347.0,1324.6 347.3,1326.3 347.7,1328.8 348.0,1333.4 348.4,1335.8 348.7,1332.8 349.1,1331.4 349.4,1330.3 349.8,1329.1 350.1,1327.6 350.5,1326.1 350.8,1324.9 351.2,1324.3 351.5,1324.7 351.9,1326.0 352.2,1328.2 352.6,1330.9 352.9,1334.0 353.3,1337.4 353.6,1340.0 354.0,1337.9 354.3,1336.9 354.7,1336.2 355.0,1335.5 355.4,1334.8 355.7,1334.2 356.1,1333.6 356.4,1333.0 356.8,1332.5 357.1,1332.3 357.5,1332.3 357.8,1332.7 358.2,1333.5 358.5,1334.7 358.9,1336.5 359.2,1340.2 359.6,1336.4 359.9,1334.4 360.3,1332.7 360.6,1331.2 361.0,1329.7 361.3,1328.5 361.7,1327.5 362.0,1326.7 362.4,1326.2 362.7,1325.9 363.1,1325.8 363.4,1325.8 363.8,1326.1 364.1,1327.0 364.5,1328.5 364.8,1331.0 365.2,1332.1 365.5,1328.0 365.9,1325.1 366.2,1322.6 366.6,1320.6 366.9,1319.2 367.3,1319.5 367.6,1320.4 368.0,1321.7 368.3,1323.2 368.7,1324.7 369.0,1326.2 369.4,1327.8 369.7,1329.4 370.1,1331.1 370.4,1333.2 370.8,1336.1 371.1,1332.5 371.5,1330.1 371.8,1327.9 372.2,1325.7 372.5,1323.4 372.9,1321.4 373.2,1319.8 373.6,1318.6 373.9,1318.1 374.3,1318.3 374.6,1319.3 375.0,1320.9 375.3,1323.3 375.7,1326.3 376.0,1330.5 376.4,1329.0 376.7,1325.8 377.1,1323.1 377.4,1320.3 377.8,1317.7 378.1,1315.1 378.5,1312.7 378.8,1310.7 379.2,1309.4 379.5,1309.1 379.9,1309.9 380.2,1311.8 380.6,1314.8 380.9,1319.3 381.3,1322.8 381.6,1316.2 382.0,1311.9 382.3,1308.6 382.7,1306.0 383.0,1303.8 383.4,1302.5 383.7,1302.2 384.1,1302.7 384.4,1303.8 384.8,1305.7 385.1,1308.4 385.5,1312.3 385.8,1318.7 386.2,1322.6 386.5,1318.5 386.9,1316.8 387.2,1315.7 387.6,1314.8 387.9,1313.9 388.3,1313.1 388.6,1312.6 389.0,1312.6 389.3,1313.2 389.7,1314.8 390.0,1317.3 390.4,1320.8 390.7,1325.6 391.1,1325.8 391.4,1322.9 391.8,1321.2 392.1,1319.6 392.5,1318.1 392.8,1316.6 393.2,1315.0 393.5,1313.4 393.9,1312.2 394.2,1311.7 394.6,1312.3 394.9,1314.0 395.3,1316.8 395.6,1321.5 396.0,1322.2 396.3,1318.2 396.7,1316.0 397.0,1314.7 397.4,1314.0 397.7,1313.9 398.1,1314.0 398.4,1314.3 398.8,1314.6 399.1,1315.0 399.5,1315.6 399.8,1316.3 400.2,1317.3 400.5,1319.4 400.9,1323.5 401.2,1315.7 401.6,1310.8 401.9,1307.0 402.3,1304.7 402.6,1303.2 403.0,1303.2 403.3,1304.3 403.7,1305.9 404.0,1307.9 404.4,1310.1 404.7,1312.6 405.1,1315.1 405.4,1318.0 405.8,1322.2 406.1,1321.2 406.5,1317.2 406.8,1314.3 407.2,1312.0 407.5,1310.6 407.9,1310.1 408.2,1310.4 408.6,1311.6 408.9,1313.3 409.3,1315.6 409.6,1317.9 410.0,1320.2 410.3,1322.3 410.7,1324.3 411.0,1327.0 411.4,1324.6 411.7,1322.0 412.1,1319.7 412.4,1317.8 412.8,1316.0 413.1,1314.4 413.5,1313.1 413.8,1312.1 414.2,1311.5 414.5,1311.3 414.9,1311.6 415.2,1312.4 415.6,1313.8 415.9,1316.0 416.3,1319.7 416.6,1317.7 417.0,1314.6 417.3,1312.3 417.7,1310.5 418.0,1309.3 418.4,1308.7 418.7,1308.6 419.1,1308.8 419.4,1309.3 419.8,1309.9 420.1,1310.5 420.5,1311.2 420.8,1312.0 421.2,1313.2 421.5,1315.8 421.9,1314.0 422.2,1309.3 422.6,1305.9 422.9,1303.3 423.3,1301.7 423.6,1301.0 424.0,1301.1 424.3,1301.7 424.7,1302.6 425.0,1303.4 425.4,1304.1 425.7,1304.8 426.1,1305.8 426.4,1307.6 426.8,1311.3 427.1,1309.3 427.5,1304.9 427.8,1302.3 428.2,1301.2 428.5,1301.2 428.9,1301.7 429.2,1302.0 429.6,1302.0 429.9,1301.5 430.3,1300.8 430.6,1300.5 431.0,1301.2 431.3,1303.2 431.7,1306.6 432.0,1312.9 432.4,1309.5 432.7,1308.2 433.1,1308.1 433.4,1308.4 433.8,1308.5 434.1,1308.4 434.5,1308.2 434.8,1308.0 435.2,1308.0 435.5,1308.2 435.9,1308.7 436.2,1309.7 436.6,1311.3 436.9,1314.0 437.3,1313.2 437.6,1309.8 438.0,1307.1 438.3,1304.9 438.7,1303.3 439.0,1302.3 439.4,1302.2 439.7,1302.7 440.1,1303.5 440.4,1304.5 440.8,1305.6 441.1,1306.9 441.5,1308.6 441.8,1311.4 442.2,1309.3 442.5,1304.5 442.9,1300.6 443.2,1297.6 443.6,1295.5 443.9,1294.5 444.3,1294.4 444.6,1294.9 445.0,1295.6 445.3,1296.6 445.7,1297.8 446.0,1299.5 446.4,1302.2 446.7,1308.4 447.1,1299.9 447.4,1295.6 447.8,1292.4 448.1,1290.1 448.5,1288.3 448.8,1287.3 449.2,1287.5 449.5,1288.4 449.9,1289.9 450.2,1292.1 450.6,1295.1 450.9,1298.9 451.3,1303.9 451.6,1304.0 452.0,1299.3 452.3,1295.8 452.7,1292.7 453.0,1290.0 453.4,1287.6 453.7,1285.9 454.1,1285.1 454.4,1285.4 454.8,1286.6 455.1,1289.0 455.5,1292.3 455.8,1296.6 456.2,1302.5 456.5,1301.5 456.9,1298.5 457.2,1297.2 457.6,1296.7 457.9,1296.7 458.3,1296.9 458.6,1297.2 459.0,1297.5 459.3,1297.7 459.7,1297.9 460.0,1298.2 460.4,1298.9 460.7,1300.3 461.1,1302.6 461.4,1305.3 461.8,1300.5 462.1,1298.0 462.5,1296.5 462.8,1296.1 463.2,1296.5 463.5,1297.5 463.9,1298.8 464.2,1300.2 464.6,1301.6 464.9,1302.7 465.3,1303.5 465.6,1304.2 466.0,1304.9 466.3,1306.5 466.7,1305.7 467.0,1301.8 467.4,1298.7 467.7,1296.2 468.1,1294.4 468.4,1293.2 468.8,1292.6 469.1,1292.2 469.5,1292.0 469.8,1291.8 470.2,1292.0 470.5,1292.8 470.9,1294.6 471.2,1297.9 471.6,1302.5 471.9,1298.1 472.3,1296.6 472.6,1296.0 473.0,1295.5 473.3,1294.5 473.7,1293.0 474.0,1291.1 474.4,1289.1 474.7,1287.4 475.1,1286.6 475.4,1287.0 475.8,1288.9 476.1,1292.7 476.5,1297.9 476.8,1291.5 477.2,1288.1 477.5,1285.6 477.9,1283.4 478.2,1281.5 478.6,1280.1 478.9,1279.3 479.3,1279.1 479.6,1279.5 480.0,1280.8 480.3,1283.0 480.7,1286.5 481.0,1291.3 481.4,1296.1 481.7,1290.0 482.1,1286.3 482.4,1283.2 482.8,1280.6 483.1,1278.7 483.5,1277.7 483.8,1277.5 484.2,1278.2 484.5,1279.8 484.9,1282.2 485.2,1285.5 485.6,1289.5 485.9,1294.3 486.3,1298.2 486.6,1293.9 487.0,1291.1 487.3,1288.4 487.7,1285.3 488.0,1282.3 488.4,1279.5 488.7,1277.2 489.1,1275.9 489.4,1275.8 489.8,1277.1 490.1,1279.7 490.5,1283.5 490.8,1288.4 491.2,1294.2 491.5,1288.2 491.9,1285.2 492.2,1283.4 492.6,1282.6 492.9,1282.9 493.3,1284.0 493.6,1285.6 494.0,1287.3 494.3,1289.0 494.7,1290.6 495.0,1292.2 495.4,1294.1 495.7,1296.4 496.1,1299.6 496.4,1298.8 496.8,1296.3 497.1,1294.6 497.5,1293.1 497.8,1291.5 498.2,1289.7 498.5,1287.4 498.9,1284.9 499.2,1282.6 499.6,1281.1 499.9,1280.8 500.3,1281.7 500.6,1283.8 501.0,1286.9 501.3,1291.2 501.7,1292.2 502.0,1288.2 502.4,1285.5 502.7,1283.3 503.1,1281.7 503.4,1280.7 503.8,1280.2 504.1,1280.3 504.5,1281.1 504.8,1282.4 505.2,1284.1 505.5,1285.8 505.9,1287.7 506.2,1289.7 506.6,1292.1 506.9,1295.7 507.3,1293.4 507.6,1290.5 508.0,1288.8 508.3,1288.1 508.7,1288.0 509.0,1288.4 509.4,1288.9 509.7,1289.1 510.1,1289.1 510.4,1288.7 510.8,1288.0 511.1,1287.3 511.5,1287.0 511.8,1287.4 512.2,1289.2 512.5,1294.0 512.9,1288.3 513.2,1285.7 513.6,1284.2 513.9,1283.3 514.3,1282.9 514.6,1282.8 515.0,1282.9 515.3,1283.2 515.7,1283.4 516.0,1283.7 516.4,1284.3 516.7,1285.2 517.1,1286.6 517.4,1288.6 517.8,1292.4 518.1,1288.8 518.5,1285.5 518.8,1283.1 519.2,1281.7 519.5,1281.0 519.9,1280.8 520.2,1280.7 520.6,1280.5 520.9,1280.2 521.3,1279.7 521.6,1279.2 522.0,1279.0 522.3,1279.8 522.7,1282.9 523.0,1288.5 523.4,1281.8 523.7,1278.1 524.1,1275.2 524.4,1274.7 524.8,1274.7 525.1,1274.7 525.5,1274.5 525.8,1274.1 526.2,1273.7 526.5,1273.4 526.9,1273.4 527.2,1274.1 527.6,1275.7 527.9,1278.9 528.3,1282.8 528.6,1276.6 529.0,1272.9 529.3,1270.2 529.7,1268.8 530.0,1267.9 530.4,1267.2 530.7,1266.8 531.1,1266.7 531.4,1267.1 531.8,1268.0 532.1,1269.6 532.5,1272.0 532.8,1275.4 533.2,1280.2 533.5,1281.3 533.9,1277.2 534.2,1274.5 534.6,1272.3 534.9,1270.1 535.3,1268.0 535.6,1266.3 536.0,1265.5 536.3,1265.8 536.7,1267.1 537.0,1269.3 537.4,1272.2 537.7,1275.6 538.1,1279.8 538.4,1283.5 538.8,1278.4 539.1,1274.9 539.5,1271.8 539.8,1269.0 540.2,1266.6 540.5,1264.8 540.9,1264.1 541.2,1264.3 541.6,1265.4 541.9,1267.2 542.3,1269.7 542.6,1273.1 543.0,1278.1 543.3,1278.4 543.7,1274.5 544.0,1272.6 544.4,1271.9 544.7,1272.1 545.1,1272.9 545.4,1274.0 545.8,1275.1 546.1,1275.9 546.5,1276.4 546.8,1277.1 547.2,1278.0 547.5,1279.8 547.9,1283.7 548.2,1277.6 548.6,1273.8 548.9,1270.8 549.3,1268.6 549.6,1267.3 550.0,1266.6 550.3,1266.5 550.7,1266.9 551.0,1267.8 551.4,1269.3 551.7,1271.3 552.1,1273.8 552.4,1278.2 552.8,1275.0 553.1,1270.7 553.5,1267.4 553.8,1265.0 554.2,1263.5 554.5,1262.9 554.9,1263.0 555.2,1263.5 555.6,1264.3 555.9,1265.3 556.3,1266.6 556.6,1268.5 557.0,1271.9 557.3,1273.0 557.7,1267.5 558.0,1264.2 558.4,1261.9 558.7,1260.3 559.1,1259.1 559.4,1258.0 559.8,1256.9 560.1,1256.1 560.5,1257.3 560.8,1259.0 561.2,1261.5 561.5,1265.1 561.9,1270.9 562.2,1267.3 562.6,1262.7 562.9,1261.0 563.3,1261.1 563.6,1261.5 564.0,1261.7 564.3,1261.6 564.7,1261.3 565.0,1261.1 565.4,1261.2 565.7,1261.9 566.1,1263.4 566.4,1266.0 566.8,1271.1 567.1,1267.6 567.5,1263.5 567.8,1261.1 568.2,1259.9 568.5,1259.8 568.9,1260.4 569.2,1261.6 569.6,1263.1 569.9,1264.5 570.3,1265.8 570.6,1266.8 571.0,1267.8 571.3,1269.2 571.7,1271.7 572.0,1274.4 572.4,1270.2 572.7,1267.9 573.1,1266.5 573.4,1265.7 573.8,1265.0 574.1,1264.6 574.5,1264.2 574.8,1263.7 575.2,1262.9 575.5,1262.2 575.9,1261.9 576.2,1262.2 576.6,1263.5 576.9,1266.4 577.3,1267.9 577.6,1262.1 578.0,1258.4 578.3,1256.1 578.7,1254.6 579.0,1254.0 579.4,1254.2 579.7,1255.0 580.1,1256.0 580.4,1257.3 580.8,1259.2 581.1,1261.6 581.5,1264.3 581.8,1267.2 582.2,1271.1 582.5,1270.9 582.9,1267.3 583.2,1264.0 583.6,1260.7 583.9,1257.6 584.3,1254.7 584.6,1252.4 585.0,1251.1 585.3,1251.1 585.7,1252.5 586.0,1255.0 586.4,1258.4 586.7,1262.3 587.1,1266.7 587.4,1269.3 587.8,1265.1 588.1,1262.1 588.5,1259.7 588.8,1257.6 589.2,1255.9 589.5,1254.6 589.9,1254.1 590.2,1254.2 590.6,1254.9 590.9,1255.9 591.3,1257.4 591.6,1259.8 592.0,1263.7 592.3,1263.9 592.7,1259.1 593.0,1256.0 593.4,1254.1 593.7,1253.0 594.1,1252.6 594.4,1253.0 594.8,1254.2 595.1,1255.8 595.5,1257.6 595.8,1259.7 596.2,1262.2 596.5,1265.3 596.9,1270.2 597.2,1267.7 597.6,1266.3 597.9,1265.9 598.3,1266.0 598.6,1266.3 599.0,1266.5 599.3,1266.4 599.7,1265.9 600.0,1265.3 600.4,1264.7 600.7,1264.4 601.1,1264.9 601.4,1266.5 601.8,1268.2 602.1,1263.6 602.5,1260.4 602.8,1257.6 603.2,1255.2 603.5,1253.2 603.9,1251.9 604.2,1251.4 604.6,1251.6 604.9,1252.8 605.3,1254.9 605.6,1257.7 606.0,1261.0 606.3,1265.6 606.7,1263.9 607.0,1261.4 607.4,1259.8 607.7,1258.8 608.1,1258.4 608.4,1258.2 608.8,1258.3 609.1,1258.3 609.5,1258.2 609.8,1257.9 610.2,1257.9 610.5,1258.6 610.9,1260.8 611.2,1261.9 611.6,1257.1 611.9,1254.4 612.3,1253.1 612.6,1252.8 613.0,1253.2 613.3,1253.9 613.7,1254.6 614.0,1254.9 614.4,1254.9 614.7,1254.7 615.1,1254.7 615.4,1255.9 615.8,1261.5 616.1,1252.7 616.5,1248.1 616.8,1245.0 617.2,1243.5 617.5,1243.4 617.9,1244.5 618.2,1246.0 618.6,1247.8 618.9,1249.5 619.3,1251.0 619.6,1252.3 620.0,1254.1 620.3,1258.1 620.7,1254.3 621.0,1249.3 621.4,1245.9 621.7,1243.8 622.1,1243.0 622.4,1243.2 622.8,1244.4 623.1,1246.2 623.5,1248.5 623.8,1251.4 624.2,1254.4 624.5,1257.6 624.9,1261.3 625.2,1262.5 625.6,1259.8 625.9,1257.9 626.3,1256.1 626.6,1254.4 627.0,1252.7 627.3,1251.0 627.7,1249.7 628.0,1249.1 628.4,1249.3 628.7,1250.2 629.1,1252.0 629.4,1254.7 629.8,1260.9 630.1,1254.1 630.5,1250.4 630.8,1247.5 631.2,1245.3 631.5,1243.6 631.9,1242.4 632.2,1241.8 632.6,1241.7 632.9,1242.2 633.3,1243.4 633.6,1245.3 634.0,1248.1 634.3,1252.3 634.7,1253.8 635.0,1248.6 635.4,1245.4 635.7,1244.2 636.1,1243.6 636.4,1243.2 636.8,1243.0 637.1,1243.1 637.5,1243.7 637.8,1244.9 638.2,1246.7 638.5,1249.3 638.9,1252.7 639.2,1258.0 639.6,1255.0 639.9,1252.0 640.3,1249.9 640.6,1248.1 641.0,1246.3 641.3,1244.3 641.7,1242.2 642.0,1240.4 642.4,1239.4 642.7,1239.4 643.1,1241.1 643.4,1244.1 643.8,1248.5 644.1,1251.0 644.5,1245.1 644.8,1241.4 645.2,1238.6 645.5,1236.6 645.9,1235.2 646.2,1234.5 646.6,1235.2 646.9,1238.5 647.3,1242.4 647.6,1246.4 648.0,1250.2 648.3,1253.7 648.7,1258.3 649.0,1255.1 649.4,1252.7 649.7,1251.1 650.1,1250.2 650.4,1249.9 650.8,1250.0 651.1,1250.3 651.5,1250.4 651.8,1250.5 652.2,1250.8 652.5,1251.4 652.9,1252.6 653.2,1255.5 653.6,1253.6 653.9,1250.4 654.3,1248.4 654.6,1246.9 655.0,1245.9 655.3,1245.6 655.7,1245.5 656.0,1245.2 656.4,1245.0 656.7,1245.1 657.1,1246.1 657.4,1248.3 657.8,1252.6 658.1,1248.9 658.5,1244.6 658.8,1241.4 659.2,1238.8 659.5,1236.8 659.9,1235.4 660.2,1234.7 660.6,1234.7 660.9,1235.9 661.3,1239.2 661.6,1242.9 662.0,1247.2 662.3,1253.5 662.7,1247.9 663.0,1245.3 663.4,1243.8 663.7,1243.1 664.1,1242.9 664.4,1243.2 664.8,1243.8 665.1,1244.6 665.5,1245.5 665.8,1246.7 666.2,1248.2 666.5,1250.5 666.9,1253.5 667.2,1248.6 667.6,1245.7 667.9,1243.7 668.3,1242.4 668.6,1241.4 669.0,1240.6 669.3,1240.3 669.7,1240.6 670.0,1241.5 670.4,1243.0 670.7,1244.8 671.1,1247.3 671.4,1252.0 671.8,1246.8 672.1,1242.9 672.5,1239.7 672.8,1237.4 673.2,1235.7 673.5,1234.7 673.9,1234.5 674.2,1235.4 674.6,1237.3 674.9,1239.9 675.3,1242.8 675.6,1245.9 676.0,1249.6 676.3,1251.0 676.7,1247.2 677.0,1244.5 677.4,1242.0 677.7,1239.5 678.1,1237.2 678.4,1235.4 678.8,1234.5 679.1,1234.8 679.5,1236.1 679.8,1238.1 680.2,1240.5 680.5,1243.6 680.9,1248.5 681.2,1245.4 681.6,1241.8 681.9,1239.4 682.3,1237.5 682.6,1236.1 683.0,1235.4 683.3,1235.2 683.7,1235.6 684.0,1236.5 684.4,1237.7 684.7,1239.2 685.1,1241.5 685.4,1245.6 685.8,1244.6 686.1,1240.8 686.5,1238.6 686.8,1237.3 687.2,1236.5 687.5,1236.0 687.9,1235.8 688.2,1236.0 688.6,1236.6 688.9,1237.9 689.3,1240.0 689.6,1243.4 690.0,1250.2 690.3,1244.4 690.7,1242.5 691.0,1241.8 691.4,1241.4 691.7,1240.9 692.1,1240.2 692.4,1239.3 692.8,1238.5 693.1,1238.1 693.5,1238.5 693.8,1241.8 694.2,1248.4 694.5,1241.9 694.9,1238.5 695.2,1236.1 695.6,1234.5 695.9,1233.6 696.3,1233.3 696.6,1233.6 697.0,1235.5 697.3,1238.4 697.7,1241.7 698.0,1245.5 698.4,1248.3 698.7,1244.0 699.1,1241.1 699.4,1238.9 699.8,1237.1 700.1,1235.5 700.5,1234.3 700.8,1233.8 701.2,1234.1 701.5,1235.5 701.9,1238.1 702.2,1242.6 702.6,1241.8 702.9,1237.6 703.3,1235.1 703.6,1233.7 704.0,1233.1 704.3,1233.2 704.7,1233.8 705.0,1234.7 705.4,1236.0 705.7,1237.9 706.1,1240.5 706.4,1244.6 706.8,1244.1 707.1,1241.0 707.5,1239.3 707.8,1238.4 708.2,1238.2 708.5,1238.2 708.9,1238.2 709.2,1238.0 709.6,1237.8 709.9,1237.9 710.3,1238.6 710.6,1240.2 711.0,1244.4 711.3,1241.8 711.7,1238.3 712.0,1235.8 712.4,1233.8 712.7,1232.2 713.1,1231.0 713.4,1230.3 713.8,1230.0 714.1,1230.1 714.5,1230.7 714.8,1231.9 715.2,1233.6 715.5,1236.1 715.9,1240.3 716.2,1238.7 716.6,1234.6 716.9,1231.7 717.3,1229.5 717.6,1227.9 718.0,1226.7 718.3,1225.9 718.7,1225.6 719.0,1225.7 719.4,1226.6 719.7,1228.7 720.1,1231.6 720.4,1234.9 720.8,1238.6 721.1,1242.4 721.5,1246.3 721.8,1242.4 722.2,1239.6 722.5,1236.6 722.9,1233.2 723.2,1230.0 723.6,1227.4 723.9,1225.7 724.3,1225.3 724.6,1225.8 725.0,1227.0 725.3,1228.8 725.7,1230.9 726.0,1232.9 726.4,1234.9 726.7,1237.3 727.1,1242.0 727.4,1237.5 727.8,1234.5 728.1,1233.0 728.5,1232.6 728.8,1233.1 729.2,1234.0 729.5,1235.2 729.9,1236.2 730.2,1237.0 730.6,1237.6 730.9,1238.1 731.3,1238.7 731.6,1239.6 732.0,1241.1 732.3,1243.4 732.7,1246.3 733.0,1243.1 733.4,1241.4 733.7,1240.1 734.1,1239.0 734.4,1238.3 734.8,1237.9 735.1,1237.7 735.5,1237.8 735.8,1238.2 736.2,1238.9 736.5,1239.7 736.9,1240.8 737.2,1242.3 737.6,1244.9 737.9,1243.5 738.3,1241.1 738.6,1239.7 739.0,1238.8 739.3,1238.3 739.7,1238.2 740.0,1238.4 740.4,1239.1 740.7,1239.7 741.1,1240.4 741.4,1241.1 741.8,1242.2 742.1,1243.8 742.5,1244.4 742.8,1241.5 743.2,1239.5 743.5,1237.8 743.9,1236.1 744.2,1234.2 744.6,1232.5 744.9,1231.8 745.3,1231.7 745.6,1232.2 746.0,1233.3 746.3,1235.4 746.7,1239.4 747.0,1237.2 747.4,1234.6 747.7,1232.8 748.1,1231.2 748.4,1229.7 748.8,1228.2 749.1,1227.1 749.5,1226.6 749.8,1226.6 750.2,1227.3 750.5,1229.2 750.9,1233.2 751.2,1232.3 751.6,1227.1 751.9,1223.5 752.3,1220.7 752.6,1218.7 753.0,1217.6 753.3,1217.2 753.7,1217.8 754.0,1219.3 754.4,1221.8 754.7,1225.5 755.1,1231.3 755.4,1230.2 755.8,1227.5 756.1,1226.9 756.5,1227.0 756.8,1227.4 757.2,1227.8 757.5,1228.2 757.9,1229.0 758.2,1230.4 758.6,1232.6 758.9,1235.8 759.3,1240.6 759.6,1239.3 760.0,1238.3 760.3,1238.1 760.7,1237.9 761.0,1237.3 761.4,1236.5 761.7,1235.9 762.1,1235.8 762.4,1236.5 762.8,1238.1 763.1,1240.5 763.5,1244.7 763.8,1242.2 764.2,1241.7 764.5,1241.6 764.9,1241.4 765.2,1240.9 765.6,1239.9 765.9,1238.5 766.3,1237.0 766.6,1235.6 767.0,1235.2 767.3,1236.5 767.7,1239.7 768.0,1235.8 768.4,1232.6 768.7,1230.0 769.1,1228.5 769.4,1228.0 769.8,1227.9 770.1,1227.8 770.5,1227.9 770.8,1228.1 771.2,1228.6 771.5,1229.8 771.9,1232.3 772.2,1234.6 772.6,1230.3 772.9,1227.9 773.3,1226.5 773.6,1225.9 774.0,1226.0 774.3,1226.5 774.7,1227.2 775.0,1228.1 775.4,1228.9 775.7,1229.8 776.1,1230.9 776.4,1232.6 776.8,1237.0 777.1,1231.5 777.5,1228.4 777.8,1226.2 778.2,1224.6 778.5,1223.5 778.9,1222.9 779.2,1222.3 779.6,1221.9 779.9,1221.8 780.3,1222.3 780.6,1223.3 781.0,1225.1 781.3,1227.9 781.7,1233.5 782.0,1227.3 782.4,1224.4 782.7,1222.4 783.1,1221.0 783.4,1220.1 783.8,1219.9 784.1,1220.5 784.5,1221.6 784.8,1223.4 785.2,1225.5 785.5,1227.5 785.9,1229.1 786.2,1230.7 786.6,1233.5 786.9,1230.2 787.3,1225.8 787.6,1222.3 788.0,1219.7 788.3,1218.4 788.7,1218.1 789.0,1218.3 789.4,1219.0 789.7,1219.9 790.1,1221.4 790.4,1224.3 790.8,1227.5 791.1,1230.9 791.5,1234.8 791.8,1235.8 792.2,1234.2 792.5,1233.3 792.9,1232.4 793.2,1231.4 793.6,1230.4 793.9,1229.7 794.3,1229.5 794.6,1229.8 795.0,1230.3 795.3,1231.0 795.7,1231.7 796.0,1232.8 796.4,1235.0 796.7,1232.5 797.1,1229.3 797.4,1227.0 797.8,1225.9 798.1,1225.8 798.5,1226.8 798.8,1228.6 799.2,1231.1 799.5,1233.7 799.9,1236.1 800.2,1238.0 800.6,1239.4 800.9,1240.5 801.3,1240.1 801.6,1238.4 802.0,1236.7 802.3,1234.9 802.7,1233.1 803.0,1231.4 803.4,1229.9 803.7,1228.6 804.1,1227.7 804.4,1227.3 804.8,1227.6 805.1,1228.7 805.5,1231.7 805.8,1228.1 806.2,1224.7 806.5,1222.1 806.9,1220.4 807.2,1219.3 807.6,1218.9 807.9,1219.2 808.3,1220.0 808.6,1221.2 809.0,1222.7 809.3,1224.5 809.7,1227.0 810.0,1228.9 810.4,1223.6 810.7,1219.4 811.1,1215.4 811.4,1211.6 811.8,1209.3 812.1,1208.3 812.5,1208.1 812.8,1208.5 813.2,1209.6 813.5,1211.5 813.9,1214.5 814.2,1219.2 814.6,1220.3 814.9,1214.9 815.3,1211.5 815.6,1209.2 816.0,1207.6 816.3,1206.7 816.7,1206.4 817.0,1206.8 817.4,1207.7 817.7,1209.2 818.1,1211.4 818.4,1214.3 818.8,1218.4 819.1,1223.9 819.5,1218.5 819.8,1216.0 820.2,1214.4 820.5,1213.3 820.9,1212.7 821.2,1212.8 821.6,1213.3 821.9,1214.2 822.3,1215.7 822.6,1217.7 823.0,1220.1 823.3,1223.1 823.7,1227.1 824.0,1228.0 824.4,1226.1 824.7,1225.1 825.1,1224.6 825.4,1224.0 825.8,1223.4 826.1,1222.9 826.5,1222.4 826.8,1222.1 827.2,1222.2 827.5,1222.9 827.9,1224.4 828.2,1226.8 828.6,1230.5 828.9,1228.9 829.3,1227.3 829.6,1226.4 830.0,1225.8 830.3,1225.5 830.7,1225.4 831.0,1225.4 831.4,1225.7 831.7,1226.6 832.1,1227.8 832.4,1229.0 832.8,1230.4 833.1,1232.1 833.5,1233.0 833.8,1230.8 834.2,1229.1 834.5,1227.5 834.9,1226.0 835.2,1224.4 835.6,1223.1 835.9,1222.1 836.3,1221.6 836.6,1221.7 837.0,1222.6 837.3,1224.4 837.7,1227.0 838.0,1229.1 838.4,1226.1 838.7,1224.2 839.1,1222.7 839.4,1221.4 839.8,1220.3 840.1,1219.1 840.5,1217.9 840.8,1216.8 841.2,1216.2 841.5,1216.5 841.9,1218.1 842.2,1222.4 842.6,1218.6 842.9,1214.7 843.3,1212.4 843.6,1211.4 844.0,1211.4 844.3,1211.9 844.7,1212.5 845.0,1213.0 845.4,1213.5 845.7,1214.5 846.1,1216.4 846.4,1220.7 846.8,1217.1 847.1,1212.5 847.5,1209.7 847.8,1208.5 848.2,1208.5 848.5,1209.3 848.9,1210.5 849.2,1212.0 849.6,1213.9 849.9,1215.9 850.3,1218.7 850.6,1223.8 851.0,1219.1 851.3,1215.0 851.7,1211.8 852.0,1209.4 852.4,1207.6 852.7,1206.5 853.1,1206.2 853.4,1206.7 853.8,1208.2 854.1,1210.9 854.5,1215.3 854.8,1220.5 855.2,1214.8 855.5,1211.9 855.9,1209.9 856.2,1208.6 856.6,1207.7 856.9,1207.3 857.3,1207.4 857.6,1208.2 858.0,1209.8 858.3,1213.0 858.7,1218.3 859.0,1217.2 859.4,1213.1 859.7,1210.7 860.1,1210.1 860.4,1211.1 860.8,1212.8 861.1,1215.0 861.5,1217.6 861.8,1220.3 862.2,1223.1 862.5,1225.9 862.9,1230.3 863.2,1225.9 863.6,1223.5 863.9,1221.5 864.3,1219.9 864.6,1218.8 865.0,1218.3 865.3,1218.4 865.7,1219.4 866.0,1221.0 866.4,1223.2 866.7,1226.0 867.1,1228.2 867.4,1224.9 867.8,1222.3 868.1,1220.1 868.5,1218.3 868.8,1216.9 869.2,1215.5 869.5,1214.2 869.9,1213.3 870.2,1213.2 870.6,1214.0 870.9,1216.0 871.3,1221.6 871.6,1215.0 872.0,1211.1 872.3,1209.1 872.7,1208.6 873.0,1209.2 873.4,1210.7 873.7,1212.3 874.1,1213.5 874.4,1214.1 874.8,1214.5 875.1,1215.4 875.5,1217.3 875.8,1223.2 876.2,1216.2 876.5,1212.7 876.9,1210.8 877.2,1210.0 877.6,1209.9 877.9,1210.2 878.3,1210.7 878.6,1211.1 879.0,1211.5 879.3,1212.3 879.7,1214.2 880.0,1217.3 880.4,1221.7 880.7,1226.2 881.1,1223.9 881.4,1223.0 881.8,1222.1 882.1,1220.6 882.5,1218.6 882.8,1216.2 883.2,1213.7 883.5,1211.6 883.9,1210.4 884.2,1210.3 884.6,1211.6 884.9,1213.9 885.3,1216.9 885.6,1220.8 886.0,1222.0 886.3,1218.4 886.7,1216.2 887.0,1214.8 887.4,1214.1 887.7,1214.0 888.1,1214.2 888.4,1214.8 888.8,1215.4 889.1,1215.9 889.5,1216.2 889.8,1216.7 890.2,1217.2 890.5,1218.0 890.9,1219.7 891.2,1222.1 891.6,1217.5 891.9,1214.8 892.3,1212.9 892.6,1211.6 893.0,1210.6 893.3,1210.0 893.7,1210.1 894.0,1211.2 894.4,1212.3 894.7,1213.3 895.1,1214.3 895.4,1215.3 895.8,1217.2 896.1,1220.9 896.5,1220.9 896.8,1217.5 897.2,1215.4 897.5,1214.1 897.9,1213.4 898.2,1213.3 898.6,1213.8 898.9,1214.6 899.3,1215.7 899.6,1217.0 900.0,1218.4 900.3,1219.9 900.7,1222.5 901.0,1227.6 901.4,1223.4 901.7,1221.5 902.1,1220.0 902.4,1218.5 902.8,1216.9 903.1,1215.2 903.5,1214.0 903.8,1213.5 904.2,1214.3 904.5,1216.1 904.9,1219.0 905.2,1223.5 905.6,1221.5 905.9,1219.7 906.3,1218.8 906.6,1217.8 907.0,1216.3 907.3,1214.4 907.7,1212.3 908.0,1210.5 908.4,1209.5 908.7,1210.1 909.1,1213.9 909.4,1216.9 909.8,1211.5 910.1,1208.4 910.5,1206.6 910.8,1205.9 911.2,1206.0 911.5,1207.0 911.9,1208.6 912.2,1211.1 912.6,1214.5 912.9,1218.6 913.3,1225.0 913.6,1220.7 914.0,1219.3 914.3,1218.7 914.7,1218.6 915.0,1218.8 915.4,1219.2 915.7,1219.9 916.1,1221.0 916.4,1222.5 916.8,1224.7 917.1,1227.8 917.5,1227.2 917.8,1225.8 918.2,1224.9 918.5,1224.2 918.9,1223.6 919.2,1223.1 919.6,1222.7 919.9,1222.5 920.3,1223.0 920.6,1224.0 921.0,1225.5 921.3,1228.9 921.7,1225.0 922.0,1222.7 922.4,1220.8 922.7,1219.2 923.1,1218.0 923.4,1217.5 923.8,1217.6 924.1,1218.4 924.5,1219.6 924.8,1221.2 925.2,1223.0 925.5,1225.3 925.9,1223.8 926.2,1220.0 926.6,1216.2 926.9,1212.5 927.3,1209.0 927.6,1206.1 928.0,1205.0 928.3,1204.5 928.7,1204.6 929.0,1205.3 929.4,1207.1 929.7,1210.5 930.1,1214.9 930.4,1220.7 930.8,1216.2 931.1,1214.4 931.5,1213.4 931.8,1213.1 932.2,1213.1 932.5,1213.2 932.9,1213.6 933.2,1214.1 933.6,1215.2 933.9,1216.7 934.3,1218.6 934.6,1220.7 935.0,1222.9 935.3,1225.5 935.7,1227.4 936.0,1225.6 936.4,1224.9 936.7,1224.6 937.1,1224.4 937.4,1224.3 937.8,1224.2 938.1,1224.0 938.5,1223.7 938.8,1223.3 939.2,1222.9 939.5,1222.4 939.9,1222.0 940.2,1222.1 940.6,1223.2 940.9,1224.7 941.3,1220.8 941.6,1218.2 942.0,1216.4 942.3,1215.1 942.7,1213.9 943.0,1212.5 943.4,1211.0 943.7,1209.3 944.1,1207.6 944.4,1206.2 944.8,1206.6 945.1,1208.0 945.5,1210.6 945.8,1216.3 946.2,1210.1 946.5,1206.7 946.9,1205.3 947.2,1204.6 947.6,1204.1 947.9,1203.4 948.3,1202.5 948.6,1201.8 949.0,1201.5 949.3,1202.4 949.7,1205.3 950.0,1209.2 950.4,1215.7 950.7,1211.2 951.1,1207.7 951.4,1205.6 951.8,1204.5 952.1,1204.4 952.5,1205.0 952.8,1206.4 953.2,1208.7 953.5,1211.7 953.9,1215.1 954.2,1218.7 954.6,1223.0 954.9,1223.0 955.3,1221.7 955.6,1221.5 956.0,1222.0 956.3,1222.9 956.7,1223.9 957.0,1224.9 957.4,1225.6 957.7,1226.2 958.1,1226.7 958.4,1227.2 958.8,1228.5 959.1,1226.3 959.5,1223.6 959.8,1220.9 960.2,1218.4 960.5,1216.4 960.9,1214.9 961.2,1214.0 961.6,1213.7 961.9,1214.0 962.3,1215.0 962.6,1217.0 963.0,1219.3 963.3,1213.7 963.7,1210.0 964.0,1207.0 964.4,1204.6 964.7,1202.9 965.1,1201.8 965.4,1202.4 965.8,1204.4 966.1,1207.4 966.5,1211.6 966.8,1217.6 967.2,1216.1 967.5,1214.2 967.9,1213.3 968.2,1212.7 968.6,1211.9 968.9,1210.9 969.3,1210.1 969.6,1209.7 970.0,1209.9 970.3,1210.9 970.7,1213.3 971.0,1216.3 971.4,1210.6 971.7,1207.2 972.1,1204.8 972.4,1203.1 972.8,1202.4 973.1,1202.4 973.5,1203.2 973.8,1204.8 974.2,1207.2 974.5,1210.3 974.9,1214.5 975.2,1215.8 975.6,1212.0 975.9,1209.8 976.3,1208.3 976.6,1207.2 977.0,1206.8 977.3,1207.3 977.7,1208.6 978.0,1210.5 978.4,1212.8 978.7,1215.3 979.1,1218.5 979.4,1221.8 979.8,1219.0 980.1,1217.8 980.5,1217.1 980.8,1216.6 981.2,1216.5 981.5,1216.5 981.9,1216.8 982.2,1217.4 982.6,1218.2 982.9,1219.1 983.3,1220.5 983.6,1222.8 984.0,1221.9 984.3,1220.2 984.7,1219.3 985.0,1219.0 985.4,1219.1 985.7,1219.4 986.1,1219.9 986.4,1220.5 986.8,1220.9 987.1,1221.2 987.5,1221.6 987.8,1222.2 988.2,1224.3 988.5,1220.2 988.9,1217.5 989.2,1215.3 989.6,1213.6 989.9,1212.4 990.3,1211.7 990.6,1211.3 991.0,1210.9 991.3,1210.7 991.7,1210.9 992.0,1211.8 992.4,1213.8 992.7,1217.1 993.1,1212.1 993.4,1209.2 993.8,1207.3 994.1,1206.1 994.5,1205.4 994.8,1205.4 995.2,1205.9 995.5,1207.0 995.9,1208.4 996.2,1210.3 996.6,1212.5 996.9,1215.2 997.3,1219.8 997.6,1216.2 998.0,1214.2 998.3,1213.0 998.7,1212.4 999.0,1212.5 999.4,1213.3 999.7,1214.6 1000.1,1216.2 1000.4,1217.9 1000.8,1219.4 1001.1,1220.8 1001.5,1221.9 1001.8,1223.0 1002.2,1222.4 1002.5,1219.0 1002.9,1215.9 1003.2,1212.9 1003.6,1210.3 1003.9,1208.3 1004.3,1207.0 1004.6,1206.6 1005.0,1206.9 1005.3,1208.0 1005.7,1209.8 1006.0,1212.0 1006.4,1214.7 1006.7,1219.2 1007.1,1215.8 1007.4,1213.7 1007.8,1212.5 1008.1,1212.0 1008.5,1212.0 1008.8,1212.4 1009.2,1213.2 1009.5,1214.4 1009.9,1216.1 1010.2,1218.0 1010.6,1220.1 1010.9,1222.3 1011.3,1224.8 1011.6,1224.9 1012.0,1224.3 1012.3,1224.0 1012.7,1223.7 1013.0,1223.2 1013.4,1222.6 1013.7,1221.9 1014.1,1221.3 1014.4,1220.9 1014.8,1220.9 1015.1,1221.2 1015.5,1222.1 1015.8,1224.1 1016.2,1222.4 1016.5,1220.5 1016.9,1219.0 1017.2,1217.6 1017.6,1216.4 1017.9,1215.1 1018.3,1214.0 1018.6,1213.2 1019.0,1212.8 1019.3,1212.8 1019.7,1213.3 1020.0,1215.0 1020.4,1218.2 1020.7,1212.9 1021.1,1209.6 1021.4,1207.3 1021.8,1206.0 1022.1,1205.7 1022.5,1206.0 1022.8,1206.8 1023.2,1208.1 1023.5,1210.1 1023.9,1212.8 1024.2,1216.0 1024.6,1219.8 1024.9,1220.3 1025.3,1218.5 1025.6,1217.0 1026.0,1215.1 1026.3,1212.8 1026.7,1210.3 1027.0,1208.0 1027.4,1206.3 1027.7,1205.7 1028.1,1206.3 1028.4,1207.9 1028.8,1210.8 1029.1,1216.0 1029.5,1212.4 1029.8,1209.6 1030.2,1207.8 1030.5,1206.6 1030.9,1206.1 1031.2,1206.3 1031.6,1207.2 1031.9,1209.1 1032.3,1211.5 1032.6,1214.1 1033.0,1216.8 1033.3,1219.5 1033.7,1223.5 1034.0,1220.5 1034.4,1219.3 1034.7,1218.6 1035.1,1218.1 1035.4,1218.0 1035.8,1218.2 1036.1,1218.7 1036.5,1219.4 1036.8,1220.3 1037.2,1221.2 1037.5,1221.9 1037.9,1222.6 1038.2,1224.1 1038.6,1221.6 1038.9,1218.7 1039.3,1216.1 1039.6,1213.9 1040.0,1212.0 1040.3,1210.5 1040.7,1209.4 1041.0,1208.9 1041.4,1208.8 1041.7,1209.2 1042.1,1210.4 1042.4,1212.3 1042.8,1215.8 1043.1,1214.7 1043.5,1211.9 1043.8,1210.4 1044.2,1209.7 1044.5,1209.7 1044.9,1209.8 1045.2,1209.7 1045.6,1209.4 1045.9,1209.1 1046.3,1209.1 1046.6,1209.7 1047.0,1211.3 1047.3,1214.7 1047.7,1212.2 1048.0,1208.2 1048.4,1205.4 1048.7,1203.8 1049.1,1203.0 1049.4,1202.9 1049.8,1203.1 1050.1,1203.7 1050.5,1204.8 1050.8,1206.4 1051.2,1208.8 1051.5,1212.3 1051.9,1217.2 1052.2,1213.0 1052.6,1211.2 1052.9,1210.3 1053.3,1210.0 1053.6,1210.3 1054.0,1211.0 1054.3,1211.8 1054.7,1212.8 1055.0,1214.1 1055.4,1215.7 1055.7,1217.8 1056.1,1221.1 1056.4,1219.6 1056.8,1218.3 1057.1,1217.7 1057.5,1217.3 1057.8,1217.1 1058.2,1216.7 1058.5,1216.4 1058.9,1216.0 1059.2,1215.8 1059.6,1215.8 1059.9,1216.4 1060.3,1218.2 1060.6,1217.3 1061.0,1214.8 1061.3,1213.4 1061.7,1212.4 1062.0,1211.7 1062.4,1211.1 1062.7,1210.3 1063.1,1209.5 1063.4,1208.9 1063.8,1208.9 1064.1,1209.6 1064.5,1211.4 1064.8,1213.8 1065.2,1208.1 1065.5,1204.2 1065.9,1201.1 1066.2,1198.9 1066.6,1198.0 1066.9,1197.8 1067.3,1199.2 1067.6,1201.4 1068.0,1204.1 1068.3,1206.9 1068.7,1209.8 1069.0,1212.7 1069.4,1215.2 1069.7,1210.6 1070.1,1207.4 1070.4,1205.0 1070.8,1203.3 1071.1,1202.7 1071.5,1203.0 1071.8,1204.3 1072.2,1206.1 1072.5,1208.3 1072.9,1210.7 1073.2,1213.2 1073.6,1215.9 1073.9,1219.0 1074.3,1219.8 1074.6,1218.7 1075.0,1218.2 1075.3,1217.8 1075.7,1217.4 1076.0,1216.9 1076.4,1216.4 1076.7,1216.1 1077.1,1215.8 1077.4,1215.7 1077.8,1215.8 1078.1,1216.1 1078.5,1216.8 1078.8,1218.2 1079.2,1219.5 1079.5,1216.9 1079.9,1215.2 1080.2,1213.9 1080.6,1212.9 1080.9,1211.9 1081.3,1210.8 1081.6,1209.7 1082.0,1208.7 1082.3,1207.8 1082.7,1207.3 1083.0,1207.4 1083.4,1208.4 1083.7,1210.4 1084.1,1214.3 1084.4,1211.9 1084.8,1209.5 1085.1,1208.2 1085.5,1207.6 1085.8,1207.2 1086.2,1206.8 1086.5,1206.4 1086.9,1205.9 1087.2,1205.6 1087.6,1205.7 1087.9,1206.3 1088.3,1207.6 1088.6,1210.0 1089.0,1214.2 1089.3,1212.2 1089.7,1210.0 1090.0,1208.7 1090.4,1208.0 1090.7,1207.6 1091.1,1207.7 1091.4,1208.6 1091.8,1210.0 1092.1,1211.9 1092.5,1214.0 1092.8,1216.2 1093.2,1218.4 1093.5,1220.8 1093.9,1221.1 1094.2,1219.5 1094.6,1218.4 1094.9,1217.7 1095.3,1217.4 1095.6,1217.7 1096.0,1218.3 1096.3,1219.1 1096.7,1219.8 1097.0,1220.2 1097.4,1220.5 1097.7,1220.8 1098.1,1222.1 1098.4,1219.7 1098.8,1216.9 1099.1,1214.5 1099.5,1212.7 1099.8,1211.4 1100.2,1210.6 1100.5,1210.3 1100.9,1210.4 1101.2,1210.8 1101.6,1211.4 1101.9,1212.6 1102.3,1215.2 1102.6,1212.9 1103.0,1209.1 1103.3,1206.4 1103.7,1204.2 1104.0,1202.5 1104.4,1201.2 1104.7,1200.4 1105.1,1200.2 1105.4,1201.0 1105.8,1202.8 1106.1,1206.0 1106.5,1211.2 1106.8,1204.5 1107.2,1200.8 1107.5,1198.1 1107.9,1195.8 1108.2,1194.0 1108.6,1194.3 1108.9,1195.4 1109.3,1197.3 1109.6,1199.9 1110.0,1203.4 1110.3,1208.9 1110.7,1206.9 1111.0,1203.2 1111.4,1200.9 1111.7,1199.7 1112.1,1200.0 1112.4,1201.2 1112.8,1203.0 1113.1,1205.5 1113.5,1208.6 1113.8,1212.0 1114.2,1215.6 1114.5,1220.5 1114.9,1217.7 1115.2,1216.9 1115.6,1216.6 1115.9,1216.3 1116.3,1216.2 1116.6,1216.0 1117.0,1215.9 1117.3,1215.9 1117.7,1216.1 1118.0,1216.6 1118.4,1217.5 1118.7,1219.8 1119.1,1216.8 1119.4,1214.3 1119.8,1212.6 1120.1,1211.7 1120.5,1211.7 1120.8,1212.3 1121.2,1213.3 1121.5,1214.3 1121.9,1215.2 1122.2,1215.9 1122.6,1216.4 1122.9,1217.2 1123.3,1219.7 1123.6,1214.6 1124.0,1210.8 1124.3,1207.7 1124.7,1205.3 1125.0,1203.7 1125.4,1202.8 1125.7,1202.4 1126.1,1202.3 1126.4,1202.4 1126.8,1202.8 1127.1,1203.6 1127.5,1205.1 1127.8,1208.1 1128.2,1209.3 1128.5,1204.6 1128.9,1201.6 1129.2,1199.7 1129.6,1198.3 1129.9,1197.2 1130.3,1196.4 1130.6,1195.7 1131.0,1195.4 1131.3,1196.2 1131.7,1197.7 1132.0,1199.8 1132.4,1202.5 1132.7,1206.5 1133.1,1209.0 1133.4,1204.3 1133.8,1201.6 1134.1,1200.0 1134.5,1199.1 1134.8,1199.1 1135.2,1199.7 1135.5,1201.0 1135.9,1202.8 1136.2,1205.1 1136.6,1207.7 1136.9,1211.7 1137.3,1215.7 1137.6,1219.8 1138.0,1220.8 1138.3,1220.7 1138.7,1220.9 1139.0,1221.1 1139.4,1221.0 1139.7,1220.8 1140.1,1220.3 1140.4,1219.9 1140.8,1219.5 1141.1,1219.3 1141.5,1219.6 1141.8,1220.3 1142.2,1222.0 1142.5,1220.6 1142.9,1218.9 1143.2,1217.6 1143.6,1216.4 1143.9,1215.2 1144.3,1214.2 1144.6,1213.4 1145.0,1213.0 1145.3,1213.0 1145.7,1213.6 1146.0,1215.0 1146.4,1218.4 1146.7,1214.6 1147.1,1211.9 1147.4,1210.0 1147.8,1208.9 1148.1,1208.6 1148.5,1209.1 1148.8,1210.0 1149.2,1211.3 1149.5,1213.0 1149.9,1215.1 1150.2,1218.3 1150.6,1217.0 1150.9,1214.9 1151.3,1213.8 1151.6,1213.3 1152.0,1213.3 1152.3,1213.8 1152.7,1214.6 1153.0,1215.5 1153.4,1216.6 1153.7,1218.1 1154.1,1221.0 1154.4,1218.4 1154.4,1240.8 1154.1,1238.6 1153.7,1242.1 1153.4,1244.2 1153.0,1245.9 1152.7,1247.4 1152.3,1248.5 1152.0,1249.3 1151.6,1249.6 1151.3,1249.2 1150.9,1248.0 1150.6,1245.7 1150.2,1243.9 1149.9,1247.6 1149.5,1249.6 1149.2,1250.7 1148.8,1251.2 1148.5,1251.1 1148.1,1250.7 1147.8,1250.0 1147.4,1248.8 1147.1,1247.2 1146.7,1244.8 1146.4,1241.3 1146.0,1244.9 1145.7,1246.6 1145.3,1247.2 1145.0,1247.0 1144.6,1246.3 1144.3,1245.3 1143.9,1244.1 1143.6,1242.8 1143.2,1241.5 1142.9,1240.2 1142.5,1238.4 1142.2,1237.1 1141.8,1238.8 1141.5,1239.7 1141.1,1240.4 1140.8,1240.8 1140.4,1241.1 1140.1,1241.2 1139.7,1241.3 1139.4,1241.4 1139.0,1241.5 1138.7,1241.6 1138.3,1241.6 1138.0,1240.9 1137.6,1241.5 1137.3,1245.5 1136.9,1248.2 1136.6,1250.6 1136.2,1252.7 1135.9,1254.4 1135.5,1255.8 1135.2,1256.8 1134.8,1256.2 1134.5,1254.6 1134.1,1252.6 1133.8,1250.4 1133.4,1247.9 1133.1,1244.6 1132.7,1246.6 1132.4,1249.6 1132.0,1251.9 1131.7,1253.5 1131.3,1254.7 1131.0,1255.6 1130.6,1256.3 1130.3,1256.8 1129.9,1257.0 1129.6,1256.9 1129.2,1256.5 1128.9,1255.7 1128.5,1253.9 1128.2,1250.2 1127.8,1252.3 1127.5,1256.0 1127.1,1258.2 1126.8,1259.6 1126.4,1260.4 1126.1,1260.8 1125.7,1260.7 1125.4,1260.0 1125.0,1258.5 1124.7,1256.4 1124.3,1253.6 1124.0,1250.4 1123.6,1246.6 1123.3,1241.5 1122.9,1244.8 1122.6,1246.3 1122.2,1247.7 1121.9,1249.2 1121.5,1250.7 1121.2,1251.8 1120.8,1252.5 1120.5,1252.4 1120.1,1251.6 1119.8,1249.7 1119.4,1247.1 1119.1,1243.7 1118.7,1240.2 1118.4,1242.0 1118.0,1242.6 1117.7,1243.0 1117.3,1243.4 1117.0,1243.9 1116.6,1244.4 1116.3,1244.9 1115.9,1245.4 1115.6,1245.6 1115.2,1245.3 1114.9,1244.3 1114.5,1240.8 1114.2,1245.7 1113.8,1249.0 1113.5,1251.9 1113.1,1254.2 1112.8,1256.0 1112.4,1257.4 1112.1,1258.4 1111.7,1258.3 1111.4,1257.3 1111.0,1255.4 1110.7,1252.0 1110.3,1250.2 1110.0,1255.6 1109.6,1259.2 1109.3,1261.9 1108.9,1263.9 1108.6,1265.2 1108.2,1265.4 1107.9,1264.3 1107.5,1262.9 1107.2,1261.0 1106.8,1257.7 1106.5,1251.0 1106.1,1257.1 1105.8,1260.9 1105.4,1263.2 1105.1,1264.3 1104.7,1264.4 1104.4,1263.8 1104.0,1262.6 1103.7,1260.9 1103.3,1258.5 1103.0,1255.1 1102.6,1250.7 1102.3,1247.8 1101.9,1250.6 1101.6,1251.4 1101.2,1251.6 1100.9,1251.4 1100.5,1251.0 1100.2,1250.5 1099.8,1249.9 1099.5,1249.0 1099.1,1247.3 1098.8,1245.1 1098.4,1242.5 1098.1,1240.4 1097.7,1242.5 1097.4,1243.1 1097.0,1243.4 1096.7,1243.7 1096.3,1244.2 1096.0,1244.8 1095.6,1245.4 1095.3,1245.6 1094.9,1245.5 1094.6,1244.8 1094.2,1243.5 1093.9,1241.3 1093.5,1241.4 1093.2,1243.6 1092.8,1245.2 1092.5,1246.8 1092.1,1248.4 1091.8,1250.0 1091.4,1251.4 1091.1,1252.5 1090.7,1252.8 1090.4,1252.5 1090.0,1251.5 1089.7,1249.8 1089.3,1247.1 1089.0,1244.7 1088.6,1248.1 1088.3,1249.8 1087.9,1250.8 1087.6,1251.4 1087.2,1251.9 1086.9,1252.4 1086.5,1252.9 1086.2,1253.3 1085.8,1253.5 1085.5,1253.2 1085.1,1252.5 1084.8,1250.9 1084.4,1248.4 1084.1,1245.8 1083.7,1249.7 1083.4,1251.7 1083.0,1253.0 1082.7,1253.8 1082.3,1254.2 1082.0,1254.2 1081.6,1253.8 1081.3,1252.5 1080.9,1250.8 1080.6,1248.9 1080.2,1246.9 1079.9,1244.8 1079.5,1242.6 1079.2,1239.8 1078.8,1241.0 1078.5,1242.5 1078.1,1243.5 1077.8,1244.0 1077.4,1244.4 1077.1,1244.6 1076.7,1244.7 1076.4,1244.7 1076.0,1244.4 1075.7,1244.0 1075.3,1243.3 1075.0,1242.5 1074.6,1241.4 1074.3,1239.7 1073.9,1239.9 1073.6,1242.2 1073.2,1244.2 1072.9,1246.3 1072.5,1248.7 1072.2,1251.4 1071.8,1254.1 1071.5,1256.2 1071.1,1257.1 1070.8,1257.0 1070.4,1256.2 1070.1,1254.6 1069.7,1252.1 1069.4,1247.0 1069.0,1250.1 1068.7,1253.4 1068.3,1256.5 1068.0,1258.1 1067.6,1259.2 1067.3,1259.7 1066.9,1259.8 1066.6,1259.4 1066.2,1258.4 1065.9,1257.0 1065.5,1254.9 1065.2,1252.0 1064.8,1247.0 1064.5,1248.5 1064.1,1249.4 1063.8,1249.4 1063.4,1249.2 1063.1,1248.9 1062.7,1248.7 1062.4,1248.6 1062.0,1248.7 1061.7,1248.6 1061.3,1248.1 1061.0,1246.9 1060.6,1244.5 1060.3,1243.2 1059.9,1245.3 1059.6,1246.3 1059.2,1246.8 1058.9,1247.0 1058.5,1247.1 1058.2,1247.0 1057.8,1247.0 1057.5,1246.8 1057.1,1246.6 1056.8,1246.0 1056.4,1244.6 1056.1,1243.2 1055.7,1247.3 1055.4,1250.4 1055.0,1252.9 1054.7,1255.1 1054.3,1256.9 1054.0,1257.3 1053.6,1257.2 1053.3,1256.6 1052.9,1255.6 1052.6,1254.1 1052.2,1251.7 1051.9,1246.9 1051.5,1251.7 1051.2,1254.9 1050.8,1257.1 1050.5,1258.7 1050.1,1259.9 1049.8,1260.7 1049.4,1261.2 1049.1,1261.3 1048.7,1260.8 1048.4,1259.3 1048.0,1256.7 1047.7,1252.9 1047.3,1250.6 1047.0,1254.8 1046.6,1256.9 1046.3,1258.0 1045.9,1258.2 1045.6,1257.9 1045.2,1257.2 1044.9,1256.3 1044.5,1255.4 1044.2,1254.3 1043.8,1252.7 1043.5,1250.5 1043.1,1247.4 1042.8,1246.3 1042.4,1249.2 1042.1,1251.0 1041.7,1252.1 1041.4,1252.9 1041.0,1253.4 1040.7,1253.5 1040.3,1253.3 1040.0,1252.6 1039.6,1251.7 1039.3,1250.3 1038.9,1248.2 1038.6,1245.3 1038.2,1242.5 1037.9,1244.4 1037.5,1245.0 1037.2,1245.2 1036.8,1245.1 1036.5,1245.0 1036.1,1244.9 1035.8,1244.7 1035.4,1244.6 1035.1,1244.4 1034.7,1244.5 1034.4,1244.4 1034.0,1243.9 1033.7,1241.5 1033.3,1246.1 1033.0,1249.3 1032.6,1252.3 1032.3,1255.1 1031.9,1257.5 1031.6,1259.1 1031.2,1259.6 1030.9,1259.3 1030.5,1258.3 1030.2,1256.9 1029.8,1254.9 1029.5,1252.2 1029.1,1248.9 1028.8,1253.9 1028.4,1256.7 1028.1,1258.4 1027.7,1259.2 1027.4,1259.2 1027.0,1258.3 1026.7,1256.6 1026.3,1254.5 1026.0,1252.3 1025.6,1250.3 1025.3,1248.3 1024.9,1245.9 1024.6,1245.9 1024.2,1249.1 1023.9,1251.4 1023.5,1253.2 1023.2,1254.3 1022.8,1254.7 1022.5,1254.6 1022.1,1253.9 1021.8,1252.6 1021.4,1250.8 1021.1,1248.4 1020.7,1245.8 1020.4,1242.3 1020.0,1244.9 1019.7,1246.8 1019.3,1248.3 1019.0,1249.5 1018.6,1250.3 1018.3,1250.6 1017.9,1250.3 1017.6,1249.6 1017.2,1248.4 1016.9,1246.9 1016.5,1244.9 1016.2,1242.4 1015.8,1240.2 1015.5,1241.5 1015.1,1241.7 1014.8,1241.5 1014.4,1241.1 1014.1,1240.6 1013.7,1240.0 1013.4,1239.5 1013.0,1239.1 1012.7,1238.8 1012.3,1238.6 1012.0,1238.5 1011.6,1238.2 1011.3,1238.5 1010.9,1241.0 1010.6,1243.4 1010.2,1245.8 1009.9,1248.2 1009.5,1250.4 1009.2,1252.0 1008.8,1253.0 1008.5,1253.4 1008.1,1253.2 1007.8,1252.5 1007.4,1251.2 1007.1,1249.2 1006.7,1245.8 1006.4,1250.7 1006.0,1253.8 1005.7,1256.3 1005.3,1258.2 1005.0,1259.5 1004.6,1259.9 1004.3,1259.5 1003.9,1258.5 1003.6,1256.9 1003.2,1254.6 1002.9,1252.0 1002.5,1249.0 1002.2,1245.5 1001.8,1245.3 1001.5,1247.4 1001.1,1249.0 1000.8,1250.5 1000.4,1252.1 1000.1,1253.9 999.7,1255.7 999.4,1257.2 999.0,1258.3 998.7,1258.8 998.3,1258.6 998.0,1257.4 997.6,1254.8 997.3,1249.6 996.9,1255.6 996.6,1258.8 996.2,1261.1 995.9,1262.8 995.5,1263.8 995.2,1263.6 994.8,1262.7 994.5,1261.2 994.1,1259.1 993.8,1256.7 993.4,1254.1 993.1,1251.0 992.7,1246.3 992.4,1249.2 992.0,1251.0 991.7,1251.8 991.3,1251.7 991.0,1251.1 990.6,1250.2 990.3,1249.3 989.9,1248.3 989.6,1247.1 989.2,1245.8 988.9,1244.3 988.5,1242.6 988.2,1239.6 987.8,1242.0 987.5,1243.2 987.1,1244.1 986.8,1244.9 986.4,1245.6 986.1,1246.3 985.7,1246.9 985.4,1247.4 985.0,1247.7 984.7,1247.0 984.3,1246.1 984.0,1244.4 983.6,1243.9 983.3,1246.4 982.9,1247.5 982.6,1248.1 982.2,1248.2 981.9,1248.1 981.5,1247.9 981.2,1247.6 980.8,1247.3 980.5,1247.1 980.1,1246.9 979.8,1246.4 979.4,1244.3 979.1,1248.1 978.7,1251.8 978.4,1254.9 978.0,1257.5 977.7,1259.5 977.3,1260.8 977.0,1261.1 976.6,1260.7 976.3,1259.5 975.9,1257.7 975.6,1255.3 975.2,1251.6 974.9,1252.9 974.5,1257.1 974.2,1260.3 973.8,1262.7 973.5,1264.2 973.1,1265.0 972.8,1265.1 972.4,1264.8 972.1,1263.9 971.7,1262.1 971.4,1259.2 971.0,1253.7 970.7,1257.1 970.3,1260.1 970.0,1261.7 969.6,1262.3 969.3,1262.3 968.9,1261.9 968.6,1261.2 968.2,1260.7 967.9,1260.1 967.5,1259.0 967.2,1256.4 966.8,1254.5 966.5,1260.7 966.1,1264.8 965.8,1266.5 965.4,1267.2 965.1,1267.0 964.7,1266.1 964.4,1264.5 964.0,1262.3 963.7,1259.6 963.3,1256.0 963.0,1250.8 962.6,1253.3 962.3,1255.6 961.9,1256.8 961.6,1257.2 961.2,1257.0 960.9,1256.4 960.5,1255.3 960.2,1253.8 959.8,1251.9 959.5,1249.7 959.1,1246.6 958.8,1243.7 958.4,1244.9 958.1,1245.3 957.7,1245.6 957.4,1246.0 957.0,1246.5 956.7,1247.2 956.3,1248.0 956.0,1248.6 955.6,1248.8 955.3,1248.5 954.9,1247.3 954.6,1247.3 954.2,1251.4 953.9,1254.9 953.5,1258.4 953.2,1261.6 952.8,1263.9 952.5,1265.3 952.1,1265.9 951.8,1265.9 951.4,1265.0 951.1,1263.1 950.7,1259.9 950.4,1255.7 950.0,1262.2 949.7,1266.2 949.3,1269.0 949.0,1269.8 948.6,1270.3 948.3,1270.6 947.9,1270.9 947.6,1271.3 947.2,1271.5 946.9,1270.7 946.5,1267.5 946.2,1263.0 945.8,1256.7 945.5,1262.7 945.1,1265.3 944.8,1266.9 944.4,1267.6 944.1,1266.1 943.7,1264.2 943.4,1262.3 943.0,1260.4 942.7,1258.6 942.3,1256.8 942.0,1254.9 941.6,1252.8 941.3,1250.3 940.9,1246.8 940.6,1247.9 940.2,1248.7 939.9,1248.9 939.5,1248.9 939.2,1248.9 938.8,1249.0 938.5,1249.2 938.1,1249.4 937.8,1249.7 937.4,1250.1 937.1,1250.4 936.7,1250.5 936.4,1250.3 936.0,1249.6 935.7,1247.7 935.3,1249.8 935.0,1252.4 934.6,1254.3 934.3,1255.8 933.9,1256.8 933.6,1257.2 933.2,1257.4 932.9,1257.6 932.5,1258.0 932.2,1258.4 931.8,1258.8 931.5,1259.0 931.1,1258.5 930.8,1257.1 930.4,1253.0 930.1,1258.4 929.7,1262.4 929.4,1265.4 929.0,1267.6 928.7,1269.1 928.3,1269.8 928.0,1269.7 927.6,1268.7 927.3,1267.0 926.9,1264.7 926.6,1262.1 926.2,1258.9 925.9,1254.9 925.5,1253.3 925.2,1256.4 924.8,1258.1 924.5,1259.0 924.1,1259.1 923.8,1258.6 923.4,1257.5 923.1,1256.1 922.7,1254.5 922.4,1252.7 922.0,1250.8 921.7,1248.7 921.3,1245.1 921.0,1248.3 920.6,1249.6 920.3,1250.4 919.9,1250.8 919.6,1250.8 919.2,1250.5 918.9,1250.1 918.5,1249.5 918.2,1249.0 917.8,1248.3 917.5,1246.9 917.1,1246.4 916.8,1249.3 916.4,1251.6 916.1,1253.5 915.7,1255.2 915.4,1256.0 915.0,1256.4 914.7,1256.2 914.3,1255.5 914.0,1254.3 913.6,1252.5 913.3,1248.0 912.9,1253.1 912.6,1255.8 912.2,1257.8 911.9,1259.6 911.5,1261.4 911.2,1263.4 910.8,1265.2 910.5,1266.2 910.1,1265.2 909.8,1262.4 909.4,1257.4 909.1,1260.6 908.7,1264.5 908.4,1265.5 908.0,1265.0 907.7,1263.6 907.3,1262.2 907.0,1261.0 906.6,1260.2 906.3,1259.8 905.9,1259.1 905.6,1257.0 905.2,1254.6 904.9,1259.8 904.5,1262.5 904.2,1263.6 903.8,1263.3 903.5,1261.8 903.1,1259.5 902.8,1257.0 902.4,1254.7 902.1,1252.8 901.7,1251.0 901.4,1249.2 901.0,1245.9 900.7,1249.4 900.3,1251.6 900.0,1253.8 899.6,1255.6 899.3,1257.7 898.9,1259.9 898.6,1262.0 898.2,1263.7 897.9,1264.6 897.5,1264.6 897.2,1263.7 896.8,1261.7 896.5,1258.1 896.1,1258.1 895.8,1262.0 895.4,1264.6 895.1,1266.4 894.7,1266.8 894.4,1267.0 894.0,1267.1 893.7,1267.3 893.3,1267.5 893.0,1267.4 892.6,1266.8 892.3,1265.5 891.9,1263.2 891.6,1259.8 891.2,1254.7 890.9,1256.6 890.5,1258.2 890.2,1259.3 889.8,1260.5 889.5,1261.8 889.1,1263.4 888.8,1265.0 888.4,1266.4 888.1,1267.1 887.7,1267.0 887.4,1266.0 887.0,1264.4 886.7,1262.3 886.3,1259.8 886.0,1256.3 885.6,1257.6 885.3,1261.6 884.9,1265.0 884.6,1267.7 884.2,1269.6 883.9,1270.3 883.5,1269.9 883.2,1268.6 882.8,1266.6 882.5,1264.5 882.1,1262.5 881.8,1260.6 881.4,1259.0 881.1,1257.2 880.7,1253.9 880.4,1257.5 880.0,1260.9 879.7,1263.2 879.3,1264.9 879.0,1266.2 878.6,1267.4 878.3,1268.7 877.9,1269.9 877.6,1270.7 877.2,1270.7 876.9,1269.8 876.5,1267.6 876.2,1264.1 875.8,1257.0 875.5,1263.3 875.1,1265.8 874.8,1267.2 874.4,1268.2 874.1,1269.1 873.7,1270.0 873.4,1270.7 873.0,1271.0 872.7,1270.7 872.3,1269.6 872.0,1267.4 871.6,1263.8 871.3,1257.9 870.9,1264.4 870.6,1267.8 870.2,1269.9 869.9,1271.1 869.5,1271.4 869.2,1270.9 868.8,1269.9 868.5,1268.5 868.1,1266.4 867.8,1263.4 867.4,1259.9 867.1,1254.9 866.7,1257.3 866.4,1260.2 866.0,1262.0 865.7,1262.7 865.3,1262.3 865.0,1261.0 864.6,1259.2 864.3,1257.0 863.9,1254.7 863.6,1252.4 863.2,1250.1 862.9,1246.8 862.5,1250.3 862.2,1252.9 861.8,1255.5 861.5,1258.2 861.1,1260.6 860.8,1262.4 860.4,1263.6 860.1,1264.0 859.7,1263.7 859.4,1262.1 859.0,1258.9 858.7,1258.2 858.3,1262.8 858.0,1265.6 857.6,1267.3 857.3,1268.0 856.9,1268.0 856.6,1267.7 856.2,1267.0 855.9,1266.0 855.5,1264.2 855.2,1261.6 854.8,1256.6 854.5,1260.9 854.1,1264.8 853.8,1267.6 853.4,1269.6 853.1,1271.0 852.7,1271.8 852.4,1272.0 852.0,1271.4 851.7,1269.9 851.3,1267.1 851.0,1262.6 850.6,1257.1 850.3,1261.5 849.9,1263.3 849.6,1264.3 849.2,1265.4 848.9,1266.7 848.5,1268.1 848.2,1269.3 847.8,1269.7 847.5,1268.8 847.1,1266.3 846.8,1262.0 846.4,1258.5 846.1,1262.3 845.7,1263.9 845.4,1264.9 845.0,1265.7 844.7,1266.7 844.3,1267.9 844.0,1269.0 843.6,1269.5 843.3,1268.7 842.9,1266.4 842.6,1262.2 842.2,1258.0 841.9,1261.7 841.5,1262.7 841.2,1262.5 840.8,1261.5 840.5,1260.4 840.1,1259.2 839.8,1258.2 839.4,1257.5 839.1,1256.7 838.7,1255.7 838.4,1254.1 838.0,1251.4 837.7,1253.3 837.3,1255.7 837.0,1257.2 836.6,1258.2 836.3,1258.5 835.9,1258.2 835.6,1257.5 835.2,1256.5 834.9,1255.3 834.5,1254.0 834.2,1252.5 833.8,1250.9 833.5,1248.7 833.1,1249.4 832.8,1250.8 832.4,1251.9 832.1,1252.8 831.7,1253.5 831.4,1254.1 831.0,1254.5 830.7,1254.9 830.3,1255.2 830.0,1255.4 829.6,1255.2 829.3,1254.5 828.9,1253.2 828.6,1251.8 828.2,1255.0 827.9,1257.1 827.5,1258.7 827.2,1260.2 826.8,1261.3 826.5,1262.3 826.1,1263.2 825.8,1264.0 825.4,1264.4 825.1,1264.4 824.7,1263.6 824.4,1262.0 824.0,1259.0 823.7,1259.4 823.3,1263.3 823.0,1266.4 822.6,1269.2 822.3,1272.0 821.9,1274.5 821.6,1276.5 821.2,1277.7 820.9,1277.9 820.5,1277.1 820.2,1275.5 819.8,1273.2 819.5,1269.9 819.1,1263.8 818.8,1269.4 818.4,1273.7 818.1,1276.8 817.7,1279.2 817.4,1280.9 817.0,1281.9 816.7,1282.3 816.3,1282.1 816.0,1281.3 815.6,1279.7 815.3,1277.2 814.9,1273.7 814.6,1268.1 814.2,1269.3 813.9,1274.1 813.5,1277.1 813.2,1279.0 812.8,1280.0 812.5,1280.0 812.1,1277.1 811.8,1273.5 811.4,1269.7 811.1,1266.1 810.7,1262.7 810.4,1259.6 810.0,1255.9 809.7,1257.9 809.3,1260.6 809.0,1262.7 808.6,1264.5 808.3,1265.8 807.9,1266.6 807.6,1266.7 807.2,1266.3 806.9,1265.5 806.5,1264.2 806.2,1262.3 805.8,1259.6 805.5,1256.5 805.1,1259.7 804.8,1261.3 804.4,1262.1 804.1,1262.5 803.7,1262.3 803.4,1261.2 803.0,1259.7 802.7,1258.1 802.3,1256.4 802.0,1254.7 801.6,1253.0 801.3,1251.2 800.9,1250.7 800.6,1252.1 800.2,1253.4 799.9,1255.0 799.5,1256.9 799.2,1258.9 798.8,1260.8 798.5,1262.3 798.1,1263.1 797.8,1263.1 797.4,1262.3 797.1,1260.6 796.7,1258.2 796.4,1256.4 796.0,1259.0 795.7,1260.6 795.3,1261.8 795.0,1262.8 794.6,1263.5 794.3,1264.0 793.9,1263.9 793.6,1263.3 793.2,1262.4 792.9,1261.5 792.5,1260.8 792.2,1260.0 791.8,1258.6 791.5,1259.9 791.1,1263.9 790.8,1267.7 790.4,1271.4 790.1,1274.6 789.7,1277.2 789.4,1278.6 789.0,1279.1 788.7,1278.3 788.3,1276.6 788.0,1274.4 787.6,1271.7 787.3,1268.7 786.9,1265.1 786.6,1262.8 786.2,1266.6 785.9,1269.4 785.5,1272.1 785.2,1274.5 784.8,1276.3 784.5,1277.3 784.1,1277.7 783.8,1277.6 783.4,1277.0 783.1,1275.9 782.7,1274.6 782.4,1272.9 782.0,1270.5 781.7,1265.0 781.3,1271.5 781.0,1275.4 780.6,1278.5 780.3,1280.7 779.9,1281.4 779.6,1281.5 779.2,1281.2 778.9,1280.4 778.5,1279.2 778.2,1277.6 777.8,1275.6 777.5,1273.1 777.1,1269.1 776.8,1263.0 776.4,1267.4 776.1,1269.1 775.7,1270.3 775.4,1271.5 775.0,1272.8 774.7,1273.9 774.3,1274.8 774.0,1275.2 773.6,1274.4 773.3,1272.9 772.9,1270.9 772.6,1268.1 772.2,1263.5 771.9,1264.9 771.5,1266.5 771.2,1267.2 770.8,1267.5 770.5,1267.8 770.1,1268.1 769.8,1268.2 769.4,1268.2 769.1,1267.8 768.7,1267.1 768.4,1265.6 768.0,1263.3 767.7,1260.2 767.3,1263.1 767.0,1264.1 766.6,1264.4 766.3,1264.1 765.9,1263.5 765.6,1262.9 765.2,1262.2 764.9,1261.8 764.5,1261.5 764.2,1261.1 763.8,1260.5 763.5,1258.3 763.1,1262.3 762.8,1265.1 762.4,1267.8 762.1,1270.2 761.7,1272.1 761.4,1273.7 761.0,1274.8 760.7,1275.4 760.3,1275.5 760.0,1274.5 759.6,1272.0 759.3,1269.1 758.9,1274.2 758.6,1277.0 758.2,1278.6 757.9,1279.5 757.5,1279.8 757.2,1279.8 756.8,1279.7 756.5,1279.6 756.1,1279.4 755.8,1278.6 755.4,1276.1 755.1,1276.5 754.7,1283.0 754.4,1286.7 754.0,1289.2 753.7,1290.7 753.3,1291.1 753.0,1290.7 752.6,1289.4 752.3,1287.3 751.9,1283.3 751.6,1278.6 751.2,1273.1 750.9,1272.0 750.5,1275.5 750.2,1277.9 749.8,1279.5 749.5,1280.6 749.1,1280.9 748.8,1280.7 748.4,1280.0 748.1,1278.9 747.7,1277.4 747.4,1274.7 747.0,1271.2 746.7,1268.4 746.3,1271.8 746.0,1273.6 745.6,1274.7 745.3,1275.3 744.9,1275.5 744.6,1274.3 744.2,1272.7 743.9,1271.1 743.5,1269.7 743.2,1268.3 742.8,1266.8 742.5,1264.6 742.1,1265.6 741.8,1267.7 741.4,1269.3 741.1,1270.5 740.7,1271.5 740.4,1272.3 740.0,1272.8 739.7,1273.0 739.3,1273.1 739.0,1272.8 738.6,1272.1 738.3,1271.0 737.9,1269.1 737.6,1268.1 737.2,1271.4 736.9,1273.6 736.5,1275.3 736.2,1276.3 735.8,1276.7 735.5,1276.4 735.1,1275.7 734.8,1274.8 734.4,1273.9 734.1,1273.3 733.7,1272.6 733.4,1271.7 733.0,1270.4 732.7,1267.6 732.3,1270.8 732.0,1273.3 731.6,1275.3 731.3,1276.7 730.9,1277.7 730.6,1278.6 730.2,1279.6 729.9,1280.7 729.5,1281.9 729.2,1283.1 728.8,1284.0 728.5,1284.3 728.1,1283.8 727.8,1282.3 727.4,1279.6 727.1,1275.2 726.7,1280.8 726.4,1283.8 726.0,1285.9 725.7,1287.5 725.3,1288.8 725.0,1289.5 724.6,1289.6 724.3,1289.0 723.9,1287.8 723.6,1285.9 723.2,1283.7 722.9,1281.5 722.5,1279.4 722.2,1277.4 721.8,1275.2 721.5,1271.5 721.1,1275.6 720.8,1279.3 720.4,1282.6 720.1,1285.6 719.7,1288.1 719.4,1289.1 719.0,1289.7 718.7,1289.9 718.3,1289.7 718.0,1289.1 717.6,1288.1 717.3,1286.7 716.9,1284.9 716.6,1282.4 716.2,1278.8 715.9,1277.6 715.5,1281.6 715.2,1282.9 714.8,1283.7 714.5,1284.5 714.1,1285.4 713.8,1286.9 713.4,1288.8 713.1,1289.4 712.7,1288.7 712.4,1287.5 712.0,1285.8 711.7,1283.5 711.3,1280.2 711.0,1277.6 710.6,1282.7 710.3,1284.5 709.9,1284.8 709.6,1284.6 709.2,1284.3 708.9,1284.1 708.5,1284.4 708.2,1284.8 707.8,1285.1 707.5,1285.0 707.1,1284.0 706.8,1281.2 706.4,1281.2 706.1,1286.6 705.7,1290.1 705.4,1292.1 705.0,1292.9 704.7,1292.7 704.3,1291.9 704.0,1290.8 703.6,1289.4 703.3,1287.5 702.9,1284.7 702.6,1280.5 702.2,1279.6 701.9,1283.6 701.5,1286.1 701.2,1287.5 700.8,1288.1 700.5,1287.8 700.1,1286.6 699.8,1284.8 699.4,1282.6 699.1,1280.1 698.7,1277.3 698.4,1273.5 698.0,1275.4 697.7,1278.2 697.3,1280.7 697.0,1283.2 696.6,1285.5 696.3,1287.3 695.9,1288.5 695.6,1288.7 695.2,1287.5 694.9,1285.6 694.5,1282.6 694.2,1276.4 693.8,1281.9 693.5,1284.1 693.1,1285.4 692.8,1286.5 692.4,1287.4 692.1,1288.4 691.7,1289.4 691.4,1290.2 691.0,1290.1 690.7,1288.0 690.3,1285.0 690.0,1278.1 689.6,1285.3 689.3,1289.0 688.9,1291.7 688.6,1292.3 688.2,1291.4 687.9,1290.4 687.5,1289.5 687.2,1288.5 686.8,1287.6 686.5,1286.7 686.1,1285.3 685.8,1282.6 685.4,1282.5 685.1,1287.6 684.7,1291.0 684.4,1293.4 684.0,1295.3 683.7,1296.5 683.3,1296.9 683.0,1296.5 682.6,1295.5 682.3,1294.0 681.9,1292.1 681.6,1289.8 681.2,1286.3 680.9,1283.3 680.5,1288.9 680.2,1292.4 679.8,1295.0 679.5,1296.6 679.1,1297.2 678.8,1296.8 678.4,1295.5 678.1,1293.7 677.7,1291.9 677.4,1290.2 677.0,1288.3 676.7,1285.9 676.3,1281.9 676.0,1283.4 675.6,1286.9 675.3,1289.2 674.9,1290.7 674.6,1291.7 674.2,1292.3 673.9,1292.4 673.5,1291.9 673.2,1291.0 672.8,1289.6 672.5,1287.6 672.1,1285.0 671.8,1281.7 671.4,1277.5 671.1,1281.1 670.7,1283.1 670.4,1284.7 670.0,1286.3 669.7,1287.8 669.3,1289.0 669.0,1289.8 668.6,1290.0 668.3,1289.7 667.9,1288.9 667.6,1287.5 667.2,1285.1 666.9,1280.7 666.5,1284.4 666.2,1287.5 665.8,1289.7 665.5,1291.3 665.1,1292.4 664.8,1293.0 664.4,1293.3 664.1,1293.2 663.7,1292.8 663.4,1292.1 663.0,1290.9 662.7,1288.9 662.3,1283.6 662.0,1291.5 661.6,1296.6 661.3,1299.5 660.9,1301.3 660.6,1302.3 660.2,1302.4 659.9,1301.7 659.5,1300.3 659.2,1298.2 658.8,1295.6 658.5,1292.4 658.1,1288.2 657.8,1284.6 657.4,1288.8 657.1,1290.9 656.7,1291.8 656.4,1291.2 656.0,1290.3 655.7,1289.6 655.3,1289.2 655.0,1288.9 654.6,1288.5 654.3,1287.9 653.9,1286.7 653.6,1284.3 653.2,1283.4 652.9,1287.4 652.5,1290.1 652.2,1292.4 651.8,1294.4 651.5,1296.2 651.1,1297.6 650.8,1298.5 650.4,1298.6 650.1,1297.6 649.7,1295.3 649.4,1292.2 649.0,1288.1 648.7,1283.8 648.3,1287.7 648.0,1290.1 647.6,1292.6 647.3,1295.4 646.9,1298.3 646.6,1301.0 646.2,1303.1 645.9,1304.4 645.5,1303.8 645.2,1302.5 644.8,1300.5 644.5,1297.5 644.1,1292.4 643.8,1295.3 643.4,1300.1 643.1,1303.5 642.7,1306.2 642.4,1308.2 642.0,1309.5 641.7,1309.8 641.3,1308.8 641.0,1307.2 640.6,1305.1 640.3,1302.3 639.9,1298.6 639.6,1294.0 639.2,1289.8 638.9,1294.6 638.5,1297.4 638.2,1299.7 637.8,1301.9 637.5,1304.0 637.1,1306.2 636.8,1308.1 636.4,1309.5 636.1,1310.0 635.7,1308.5 635.4,1305.9 635.0,1302.3 634.7,1296.7 634.3,1298.5 634.0,1303.4 633.6,1306.4 633.3,1307.9 632.9,1308.9 632.6,1309.5 632.2,1309.8 631.9,1309.0 631.5,1307.4 631.2,1305.2 630.8,1302.6 630.5,1299.3 630.1,1295.3 629.8,1288.3 629.4,1294.2 629.1,1296.5 628.7,1297.3 628.4,1297.2 628.0,1296.3 627.7,1294.9 627.3,1293.1 627.0,1291.2 626.6,1289.5 626.3,1288.0 625.9,1286.8 625.6,1285.6 625.2,1284.0 624.9,1285.3 624.5,1288.4 624.2,1291.1 623.8,1293.6 623.5,1295.8 623.1,1297.7 622.8,1299.3 622.4,1300.4 622.1,1300.9 621.7,1300.6 621.4,1299.4 621.0,1297.3 620.7,1293.8 620.3,1291.1 620.0,1295.3 619.6,1298.0 619.3,1300.4 618.9,1303.0 618.6,1305.6 618.2,1307.9 617.9,1309.5 617.5,1310.2 617.2,1309.7 616.8,1308.0 616.5,1305.2 616.1,1300.9 615.8,1292.8 615.4,1299.3 615.1,1301.9 614.7,1303.5 614.4,1304.5 614.0,1305.2 613.7,1305.7 613.3,1305.9 613.0,1305.9 612.6,1305.4 612.3,1304.4 611.9,1302.6 611.6,1299.9 611.2,1295.3 610.9,1297.1 610.5,1300.4 610.2,1302.4 609.8,1303.5 609.5,1304.1 609.1,1304.5 608.8,1304.5 608.4,1304.2 608.1,1303.5 607.7,1302.5 607.4,1301.0 607.0,1299.1 606.7,1296.3 606.3,1294.7 606.0,1299.5 605.6,1303.0 605.3,1305.7 604.9,1307.8 604.6,1309.1 604.2,1309.5 603.9,1308.8 603.5,1307.2 603.2,1304.9 602.8,1302.1 602.5,1299.0 602.1,1295.7 601.8,1291.6 601.4,1293.0 601.1,1294.5 600.7,1295.4 600.4,1296.0 600.0,1296.5 599.7,1297.0 599.3,1297.4 599.0,1297.9 598.6,1298.2 598.3,1298.4 597.9,1298.0 597.6,1296.9 597.2,1294.8 596.9,1292.0 596.5,1295.3 596.2,1297.0 595.8,1298.2 595.5,1299.5 595.1,1300.9 594.8,1302.7 594.4,1304.6 594.1,1306.3 593.7,1307.6 593.4,1308.2 593.0,1307.7 592.7,1305.8 592.3,1301.9 592.0,1302.4 591.6,1306.7 591.3,1309.1 590.9,1310.6 590.6,1311.3 590.2,1311.4 589.9,1311.3 589.5,1311.0 589.2,1310.3 588.8,1309.5 588.5,1308.5 588.1,1307.2 587.8,1305.1 587.4,1301.2 587.1,1304.6 586.7,1309.7 586.4,1314.0 586.0,1317.8 585.7,1320.8 585.3,1322.7 585.0,1323.5 584.6,1323.1 584.3,1321.6 583.9,1319.2 583.6,1315.9 583.2,1312.0 582.9,1307.6 582.5,1302.6 582.2,1301.4 581.8,1304.1 581.5,1305.7 581.1,1307.3 580.8,1308.9 580.4,1310.6 580.1,1312.4 579.7,1314.3 579.4,1316.1 579.0,1317.5 578.7,1317.7 578.3,1316.7 578.0,1314.3 577.6,1310.6 577.3,1305.0 576.9,1306.0 576.6,1308.2 576.2,1309.5 575.9,1310.6 575.5,1311.6 575.2,1312.7 574.8,1313.9 574.5,1315.2 574.1,1316.6 573.8,1317.4 573.4,1317.6 573.1,1317.0 572.7,1315.5 572.4,1312.8 572.0,1307.4 571.7,1311.2 571.3,1315.0 571.0,1317.2 570.6,1318.5 570.3,1319.2 569.9,1319.8 569.6,1320.4 569.2,1321.0 568.9,1321.3 568.5,1320.9 568.2,1319.9 567.8,1318.2 567.5,1315.4 567.1,1311.3 566.8,1307.7 566.4,1312.5 566.1,1314.7 565.7,1315.9 565.4,1316.6 565.0,1317.0 564.7,1317.4 564.3,1317.9 564.0,1318.5 563.6,1319.3 563.3,1320.3 562.9,1320.7 562.6,1318.2 562.2,1313.6 561.9,1310.2 561.5,1315.8 561.2,1319.2 560.8,1321.6 560.5,1323.2 560.1,1324.2 559.8,1323.7 559.4,1322.5 559.1,1321.1 558.7,1319.5 558.4,1317.7 558.0,1315.5 557.7,1312.5 557.3,1308.2 557.0,1309.5 556.6,1313.0 556.3,1315.2 555.9,1316.8 555.6,1317.9 555.2,1318.5 554.9,1318.5 554.5,1318.0 554.2,1317.1 553.8,1315.6 553.5,1313.8 553.1,1311.5 552.8,1308.4 552.4,1306.4 552.1,1310.4 551.7,1313.2 551.4,1316.1 551.0,1319.0 550.7,1321.8 550.3,1324.4 550.0,1326.5 549.6,1327.7 549.3,1327.7 548.9,1326.2 548.6,1323.4 548.2,1319.1 547.9,1311.5 547.5,1316.9 547.2,1319.8 546.8,1321.9 546.5,1323.4 546.1,1324.7 545.8,1325.6 545.4,1326.3 545.1,1326.7 544.7,1326.4 544.4,1325.2 544.0,1323.0 543.7,1319.9 543.3,1315.3 543.0,1314.9 542.6,1319.0 542.3,1321.7 541.9,1324.0 541.6,1325.9 541.2,1327.7 540.9,1329.3 540.5,1330.6 540.2,1331.1 539.8,1330.7 539.5,1329.4 539.1,1326.8 538.8,1322.7 538.4,1316.1 538.1,1318.9 537.7,1321.4 537.4,1322.6 537.0,1323.2 536.7,1323.8 536.3,1324.5 536.0,1325.1 535.6,1325.5 535.3,1325.5 534.9,1325.2 534.6,1324.5 534.2,1323.3 533.9,1321.4 533.5,1317.8 533.2,1319.2 532.8,1324.2 532.5,1327.2 532.1,1329.5 531.8,1331.2 531.4,1332.3 531.1,1332.9 530.7,1333.1 530.4,1332.8 530.0,1332.1 529.7,1330.8 529.3,1329.0 529.0,1326.7 528.6,1323.5 528.3,1318.1 527.9,1322.0 527.6,1325.9 527.2,1328.8 526.9,1330.1 526.5,1330.8 526.2,1331.1 525.8,1331.1 525.5,1330.9 525.1,1330.6 524.8,1330.4 524.4,1330.2 524.1,1329.6 523.7,1328.3 523.4,1325.0 523.0,1318.3 522.7,1324.8 522.3,1328.6 522.0,1331.4 521.6,1332.5 521.3,1332.4 520.9,1331.8 520.6,1331.0 520.2,1330.4 519.9,1330.0 519.5,1329.6 519.2,1329.1 518.8,1328.1 518.5,1326.2 518.1,1323.0 517.8,1319.3 517.4,1323.9 517.1,1326.0 516.7,1326.9 516.4,1327.1 516.0,1326.7 515.7,1326.0 515.3,1325.4 515.0,1325.0 514.6,1325.0 514.3,1325.0 513.9,1325.1 513.6,1324.8 513.2,1323.9 512.9,1322.2 512.5,1317.7 512.2,1322.4 511.8,1324.8 511.5,1325.8 511.1,1326.0 510.8,1325.7 510.4,1325.3 510.1,1325.2 509.7,1325.4 509.4,1325.7 509.0,1326.1 508.7,1326.4 508.3,1326.5 508.0,1326.2 507.6,1325.2 507.3,1323.0 506.9,1321.3 506.6,1325.8 506.2,1329.1 505.9,1332.1 505.5,1335.1 505.2,1338.0 504.8,1339.6 504.5,1340.7 504.1,1341.4 503.8,1341.7 503.4,1341.5 503.1,1340.9 502.7,1339.7 502.4,1337.8 502.0,1335.0 501.7,1330.5 501.3,1331.7 501.0,1336.6 500.6,1338.2 500.3,1338.7 499.9,1338.5 499.6,1337.7 499.2,1336.5 498.9,1335.1 498.5,1333.5 498.2,1332.0 497.8,1330.3 497.5,1328.3 497.1,1326.1 496.8,1323.7 496.4,1321.1 496.1,1320.1 495.7,1322.3 495.4,1323.9 495.0,1325.4 494.7,1327.0 494.3,1328.7 494.0,1330.5 493.6,1332.5 493.3,1334.4 492.9,1336.1 492.6,1337.1 492.2,1337.2 491.9,1336.3 491.5,1334.1 491.2,1328.8 490.8,1334.4 490.5,1339.0 490.1,1342.3 489.8,1344.5 489.4,1345.5 489.1,1345.5 488.7,1344.7 488.4,1343.1 488.0,1340.9 487.7,1338.4 487.3,1335.7 487.0,1333.1 486.6,1330.4 486.3,1326.5 485.9,1330.1 485.6,1335.0 485.2,1339.4 484.9,1343.3 484.5,1346.3 484.2,1348.3 483.8,1349.1 483.5,1348.8 483.1,1347.5 482.8,1345.5 482.4,1342.9 482.1,1339.9 481.7,1336.2 481.4,1330.5 481.0,1334.6 480.7,1338.7 480.3,1341.4 480.0,1343.2 479.6,1344.2 479.3,1344.8 478.9,1345.2 478.6,1345.4 478.2,1345.2 477.9,1344.5 477.5,1343.3 477.2,1341.7 476.8,1338.9 476.5,1333.0 476.1,1338.8 475.8,1343.4 475.4,1346.2 475.1,1347.5 474.7,1347.4 474.4,1346.4 474.0,1344.9 473.7,1343.4 473.3,1342.5 473.0,1342.2 472.6,1342.6 472.3,1342.6 471.9,1340.8 471.6,1335.0 471.2,1340.8 470.9,1344.5 470.5,1345.7 470.2,1345.2 469.8,1343.8 469.5,1342.2 469.1,1340.8 468.8,1339.9 468.4,1339.2 468.1,1338.2 467.7,1336.8 467.4,1334.7 467.0,1331.9 466.7,1328.3 466.3,1327.8 466.0,1329.5 465.6,1330.4 465.3,1331.2 464.9,1332.1 464.6,1333.3 464.2,1334.6 463.9,1336.0 463.5,1337.2 463.2,1338.1 462.8,1338.4 462.5,1338.0 462.1,1336.7 461.8,1334.6 461.4,1330.7 461.1,1333.2 460.7,1335.6 460.4,1337.2 460.0,1338.5 459.7,1339.6 459.3,1340.7 459.0,1341.9 458.6,1343.2 458.3,1344.5 457.9,1345.5 457.6,1345.9 457.2,1345.4 456.9,1343.9 456.5,1340.7 456.2,1339.6 455.8,1345.8 455.5,1350.2 455.1,1353.8 454.8,1356.7 454.4,1358.7 454.1,1360.0 453.7,1360.2 453.4,1359.1 453.0,1356.8 452.7,1353.3 452.3,1349.0 452.0,1344.4 451.6,1339.4 451.3,1339.2 450.9,1344.2 450.6,1348.7 450.2,1353.4 449.9,1357.9 449.5,1362.1 449.2,1362.7 448.8,1362.4 448.5,1361.5 448.1,1359.8 447.8,1357.3 447.4,1353.9 447.1,1347.7 446.7,1338.6 446.4,1344.4 446.0,1346.9 445.7,1348.4 445.3,1349.5 445.0,1350.4 444.6,1350.9 444.3,1350.8 443.9,1350.0 443.6,1348.6 443.2,1346.6 442.9,1344.3 442.5,1341.5 442.2,1338.1 441.8,1336.8 441.5,1340.2 441.1,1342.5 440.8,1344.3 440.4,1345.8 440.1,1346.9 439.7,1347.6 439.4,1347.9 439.0,1347.9 438.7,1347.5 438.3,1346.6 438.0,1344.6 437.6,1342.1 437.3,1338.7 436.9,1338.0 436.6,1341.0 436.2,1342.9 435.9,1344.3 435.5,1344.5 435.2,1344.5 434.8,1344.4 434.5,1344.5 434.1,1344.7 433.8,1345.0 433.4,1345.5 433.1,1346.0 432.7,1345.9 432.4,1344.5 432.0,1341.1 431.7,1347.6 431.3,1351.4 431.0,1353.7 430.6,1354.7 430.3,1354.8 429.9,1354.4 429.6,1354.1 429.2,1354.1 428.9,1354.7 428.5,1355.7 428.2,1356.4 427.8,1356.2 427.5,1354.3 427.1,1350.1 426.8,1348.1 426.4,1352.8 426.1,1354.9 425.7,1355.6 425.4,1355.7 425.0,1355.6 424.7,1355.4 424.3,1355.2 424.0,1354.9 423.6,1354.4 423.3,1353.3 422.9,1351.8 422.6,1349.8 422.2,1347.2 421.9,1343.7 421.5,1342.6 421.2,1345.4 420.8,1347.3 420.5,1348.9 420.1,1350.3 419.8,1351.4 419.4,1352.3 419.1,1352.8 418.7,1353.0 418.4,1352.7 418.0,1352.0 417.7,1350.9 417.3,1349.3 417.0,1347.3 416.6,1344.7 416.3,1343.1 415.9,1346.3 415.6,1348.3 415.2,1349.8 414.9,1350.9 414.5,1351.7 414.2,1352.2 413.8,1352.3 413.5,1352.0 413.1,1351.2 412.8,1349.8 412.4,1348.2 412.1,1346.3 411.7,1344.4 411.4,1342.3 411.0,1340.7 410.7,1342.8 410.3,1344.8 410.0,1347.5 409.6,1351.3 409.3,1355.9 408.9,1360.7 408.6,1365.2 408.2,1368.6 407.9,1370.4 407.5,1370.4 407.2,1368.7 406.8,1365.6 406.5,1361.5 406.1,1356.6 405.8,1355.4 405.4,1360.0 405.1,1363.3 404.7,1366.4 404.4,1369.5 404.0,1372.5 403.7,1374.9 403.3,1376.7 403.0,1377.7 402.6,1377.8 402.3,1376.8 401.9,1374.5 401.6,1371.0 401.2,1366.2 400.9,1358.1 400.5,1363.7 400.2,1367.3 399.8,1369.7 399.5,1371.9 399.1,1373.9 398.8,1375.2 398.4,1375.7 398.1,1375.6 397.7,1374.8 397.4,1373.2 397.0,1371.1 396.7,1368.0 396.3,1364.3 396.0,1359.2 395.6,1359.1 395.3,1363.0 394.9,1365.3 394.6,1366.7 394.2,1367.5 393.9,1367.5 393.5,1367.0 393.2,1366.4 392.8,1365.9 392.5,1365.3 392.1,1364.4 391.8,1362.9 391.4,1360.5 391.1,1356.7 390.7,1355.9 390.4,1359.2 390.0,1361.0 389.7,1362.1 389.3,1362.7 389.0,1363.3 388.6,1364.0 388.3,1365.0 387.9,1366.1 387.6,1367.0 387.2,1367.5 386.9,1367.2 386.5,1365.8 386.2,1361.6 385.8,1365.7 385.5,1371.5 385.1,1375.3 384.8,1378.1 384.4,1380.0 384.1,1380.6 383.7,1380.1 383.4,1379.2 383.0,1378.0 382.7,1376.6 382.3,1375.0 382.0,1372.5 381.6,1368.8 381.3,1362.2 380.9,1365.5 380.6,1369.0 380.2,1370.5 379.9,1370.9 379.5,1370.7 379.2,1370.3 378.8,1370.2 378.5,1370.5 378.1,1370.8 377.8,1370.6 377.4,1369.2 377.1,1366.4 376.7,1362.4 376.4,1357.6 376.0,1354.5 375.7,1356.4 375.3,1357.2 375.0,1358.1 374.6,1359.4 374.3,1361.3 373.9,1363.7 373.6,1366.1 373.2,1368.3 372.9,1369.7 372.5,1370.0 372.2,1369.1 371.8,1367.4 371.5,1365.1 371.1,1361.9 370.8,1356.3 370.4,1360.5 370.1,1362.9 369.7,1364.4 369.4,1365.6 369.0,1366.7 368.7,1367.8 368.3,1368.9 368.0,1370.0 367.6,1370.7 367.3,1370.8 366.9,1370.2 366.6,1368.7 366.2,1366.8 365.9,1364.6 365.5,1361.9 365.2,1358.0 364.8,1359.1 364.5,1361.4 364.1,1362.8 363.8,1363.6 363.4,1364.1 363.1,1364.4 362.7,1364.2 362.4,1363.6 362.0,1362.8 361.7,1361.9 361.3,1360.9 361.0,1359.9 360.6,1358.9 360.3,1357.9 359.9,1356.8 359.6,1355.5 359.2,1352.7 358.9,1356.5 358.5,1358.8 358.2,1360.7 357.8,1362.3 357.5,1363.5 357.1,1364.5 356.8,1365.2 356.4,1365.6 356.1,1365.6 355.7,1365.5 355.4,1365.0 355.0,1364.1 354.7,1363.0 354.3,1361.7 354.0,1360.3 353.6,1357.8 353.3,1360.3 352.9,1363.6 352.6,1366.7 352.2,1369.6 351.9,1372.1 351.5,1373.9 351.2,1374.9 350.8,1375.0 350.5,1374.3 350.1,1373.1 349.8,1371.9 349.4,1370.9 349.1,1370.0 348.7,1368.5 348.4,1365.5 348.0,1367.7 347.7,1372.4 347.3,1375.7 347.0,1377.7 346.6,1378.9 346.3,1379.3 345.9,1379.1 345.6,1378.4 345.2,1377.2 344.9,1375.7 344.5,1373.7 344.2,1371.5 343.8,1368.8 343.5,1365.3 343.1,1365.4 342.8,1368.0 342.4,1369.4 342.1,1370.1 341.7,1370.4 341.4,1370.6 341.0,1370.5 340.7,1370.3 340.3,1369.8 340.0,1369.0 339.6,1368.0 339.3,1366.5 338.9,1364.6 338.6,1361.3 338.2,1364.5 337.9,1366.1 337.5,1367.5 337.2,1368.8 336.8,1370.3 336.5,1371.9 336.1,1373.5 335.8,1375.1 335.4,1376.3 335.1,1376.8 334.7,1376.4 334.4,1374.7 334.0,1371.0 333.7,1373.4 333.3,1377.0 333.0,1379.1 332.6,1380.3 332.3,1380.7 331.9,1380.7 331.6,1380.5 331.2,1380.1 330.9,1379.7 330.5,1379.2 330.2,1378.4 329.8,1377.1 329.5,1374.6 329.1,1372.6 328.8,1378.4 328.4,1382.5 328.1,1385.7 327.7,1388.0 327.4,1389.3 327.0,1389.8 326.7,1389.5 326.3,1388.8 326.0,1387.9 325.6,1386.7 325.3,1385.0 324.9,1382.3 324.6,1376.9 324.2,1381.8 323.9,1387.1 323.5,1391.1 323.2,1393.8 322.8,1395.1 322.5,1395.1 322.1,1394.0 321.8,1392.2 321.4,1390.2 321.1,1388.1 320.7,1386.1 320.4,1383.7 320.0,1380.5 319.7,1376.1 319.3,1382.7 319.0,1386.7 318.6,1389.5 318.3,1391.4 317.9,1392.3 317.6,1392.1 317.2,1391.2 316.9,1389.7 316.5,1387.9 316.2,1385.6 315.8,1383.2 315.5,1380.6 315.1,1377.8 314.8,1373.1 314.4,1377.7 314.1,1380.9 313.7,1383.4 313.4,1384.0 313.0,1384.2 312.7,1384.1 312.3,1383.7 312.0,1383.1 311.6,1382.5 311.3,1381.7 310.9,1380.7 310.6,1378.9 310.2,1377.0 309.9,1374.7 309.5,1371.4 309.2,1373.8 308.8,1375.3 308.5,1376.5 308.1,1377.5 307.8,1378.3 307.4,1379.1 307.1,1379.7 306.7,1380.0 306.4,1379.9 306.0,1379.5 305.7,1378.7 305.3,1377.8 305.0,1376.8 304.6,1375.7 304.3,1374.1 303.9,1374.4 303.6,1377.1 303.2,1379.1 302.9,1380.7 302.5,1381.8 302.2,1382.4 301.8,1382.6 301.5,1382.3 301.1,1381.8 300.8,1381.0 300.4,1380.2 300.1,1379.4 299.7,1378.7 299.4,1377.9 299.0,1377.0 298.7,1374.8 298.3,1377.5 298.0,1380.2 297.6,1382.8 297.3,1385.3 296.9,1387.0 296.6,1388.0 296.2,1388.6 295.9,1389.0 295.5,1389.1 295.2,1389.0 294.8,1388.6 294.5,1387.9 294.1,1386.8 293.8,1385.1 293.4,1383.0 293.1,1379.1 292.7,1383.3 292.4,1385.9 292.0,1387.9 291.7,1389.5 291.3,1390.7 291.0,1391.5 290.6,1392.0 290.3,1392.2 289.9,1391.8 289.6,1390.9 289.2,1389.8 288.9,1388.5 288.5,1386.9 288.2,1384.7 287.8,1381.8 287.5,1381.1 287.1,1383.3 286.8,1384.9 286.4,1386.3 286.1,1387.6 285.7,1388.9 285.4,1390.1 285.0,1390.8 284.7,1391.1 284.3,1391.3 284.0,1391.5 283.6,1391.4 283.3,1391.0 282.9,1389.7 282.6,1386.4 282.2,1390.9 281.9,1395.6 281.5,1399.5 281.2,1402.7 280.8,1405.2 280.5,1407.0 280.1,1408.2 279.8,1408.8 279.4,1408.8 279.1,1407.9 278.7,1406.0 278.4,1403.0 278.0,1398.7 277.7,1391.3 277.3,1397.4 277.0,1400.9 276.6,1403.1 276.3,1404.5 275.9,1405.2 275.6,1405.2 275.2,1404.7 274.9,1403.7 274.5,1402.2 274.2,1400.3 273.8,1398.5 273.5,1396.8 273.1,1394.6 272.8,1391.2 272.4,1397.9 272.1,1402.5 271.7,1406.3 271.4,1409.2 271.0,1411.1 270.7,1412.1 270.3,1412.1 270.0,1411.5 269.6,1410.3 269.3,1408.5 268.9,1406.2 268.6,1403.5 268.2,1400.0 267.9,1394.1 267.5,1398.6 267.2,1401.5 266.8,1403.3 266.5,1404.5 266.1,1405.4 265.8,1405.8 265.4,1406.0 265.1,1405.9 264.7,1405.4 264.4,1404.4 264.0,1403.0 263.7,1401.3 263.3,1399.1 263.0,1396.1 262.6,1394.6 262.3,1398.4 261.9,1401.0 261.6,1403.0 261.2,1404.4 260.9,1405.1 260.5,1405.2 260.2,1404.8 259.8,1404.0 259.5,1403.1 259.1,1402.0 258.8,1400.8 258.4,1399.3 258.1,1397.4 257.7,1393.9 257.4,1397.0 257.0,1400.1 256.7,1402.5 256.3,1404.1 256.0,1405.0 255.6,1405.3 255.3,1405.3 254.9,1405.0 254.6,1404.5 254.2,1403.5 253.9,1402.0 253.5,1399.9 253.2,1397.4 252.8,1394.3 252.5,1393.1 252.1,1394.5 251.8,1395.1 251.4,1395.3 251.1,1395.4 250.7,1395.6 250.4,1395.9 250.0,1396.3 249.7,1396.6 249.3,1396.5 249.0,1396.0 248.6,1395.2 248.3,1394.2 247.9,1392.8 247.6,1390.8 247.2,1392.2 246.9,1393.2 246.5,1394.0 246.2,1394.8 245.8,1395.8 245.5,1397.0 245.1,1398.3 244.8,1399.6 244.4,1400.8 244.1,1401.7 243.7,1402.2 243.4,1402.1 243.0,1401.3 242.7,1399.5 242.3,1397.8 242.0,1401.6 241.6,1404.4 241.3,1407.2 240.9,1410.1 240.6,1412.7 240.2,1414.8 239.9,1416.0 239.5,1416.2 239.2,1415.8 238.8,1415.1 238.5,1413.4 238.1,1410.7 237.8,1407.4 237.4,1403.0 237.1,1404.4 236.7,1407.8 236.4,1410.5 236.0,1412.9 235.7,1414.9 235.3,1416.4 235.0,1417.4 234.6,1417.7 234.3,1417.0 233.9,1415.6 233.6,1413.8 233.2,1411.7 232.9,1408.9 232.5,1406.0 232.2,1402.3 231.8,1402.7 231.5,1404.7 231.1,1405.9 230.8,1406.7 230.4,1407.3 230.1,1407.9 229.7,1408.4 229.4,1408.9 229.0,1409.4 228.7,1409.7 228.3,1409.9 228.0,1409.8 227.6,1409.4 227.3,1408.6 226.9,1407.0 226.6,1403.9 226.2,1405.9 225.9,1408.7 225.5,1410.8 225.2,1412.8 224.8,1414.6 224.5,1416.7 224.1,1419.0 223.8,1421.5 223.4,1423.8 223.1,1425.5 222.7,1425.0 222.4,1423.9 222.0,1422.2 221.7,1419.9 221.3,1416.6 221.0,1410.7 220.6,1413.2 220.3,1415.7 219.9,1416.7 219.6,1417.2 219.2,1417.4 218.9,1417.5 218.5,1417.2 218.2,1416.7 217.8,1416.0 217.5,1415.3 217.1,1414.4 216.8,1413.3 216.4,1411.8 216.1,1409.7 215.7,1406.6 215.4,1407.1 215.0,1409.9 214.7,1411.8 214.3,1413.2 214.0,1414.4 213.6,1415.3 213.3,1416.0 212.9,1416.6 212.6,1416.8 212.2,1416.7 211.9,1416.0 211.5,1414.8 211.2,1413.0 210.8,1410.6 210.5,1406.2 210.1,1409.8 209.8,1412.1 209.4,1413.8 209.1,1415.1 208.7,1416.0 208.4,1416.6 208.0,1417.1 207.7,1417.7 207.3,1418.2 207.0,1418.7 206.6,1418.8 206.3,1418.3 205.9,1416.8 205.6,1413.6 205.2,1414.1 204.9,1418.5 204.5,1421.3 204.2,1423.4 203.8,1425.0 203.5,1426.1 203.1,1426.6 202.8,1426.7 202.4,1426.2 202.1,1425.2 201.7,1423.7 201.4,1422.0 201.0,1420.1 200.7,1417.5 200.3,1412.8 200.0,1417.0 199.6,1420.5 199.3,1422.9 198.9,1424.7 198.6,1425.7 198.2,1426.0 197.9,1425.7 197.5,1425.1 197.2,1424.5 196.8,1423.9 196.5,1423.4 196.1,1422.8 195.8,1421.7 195.4,1419.8 195.1,1416.2 194.7,1417.9 194.4,1422.2 194.0,1425.5 193.7,1428.3 193.3,1430.3 193.0,1431.8 192.6,1432.8 192.3,1433.4 191.9,1433.7 191.6,1433.5 191.2,1433.0 190.9,1432.0 190.5,1430.4 190.2,1427.5 189.8,1423.4 189.5,1416.1 189.1,1423.0 188.8,1426.1 188.4,1428.1 188.1,1429.5 187.7,1430.4 187.4,1430.3 187.0,1429.9 186.7,1429.4 186.3,1428.8 186.0,1428.0 185.6,1427.0 185.3,1425.7 184.9,1424.2 184.6,1422.1 184.2,1419.4 183.9,1416.8 183.5,1421.5 183.2,1424.7 182.8,1427.4 182.5,1429.9 182.1,1431.6 181.8,1432.6 181.4,1433.4 181.1,1433.7 180.7,1433.7 180.4,1433.3 180.0,1432.5 179.7,1429.8 179.3,1426.2 179.0,1422.1 178.6,1417.8 178.3,1416.1 177.9,1418.4 177.6,1420.5 177.2,1423.1 176.9,1426.4 176.5,1430.3 176.2,1434.5 175.8,1438.5 175.5,1438.7 175.1,1438.3 174.8,1437.3 174.4,1435.8 174.1,1433.6 173.7,1430.7 173.4,1426.7 173.0,1422.2 172.7,1427.6 172.3,1430.6 172.0,1432.5 171.6,1433.1 171.3,1433.1 170.9,1432.3 170.6,1430.0 170.2,1427.6 169.9,1425.2 169.5,1422.9 169.2,1420.9 168.8,1419.1 168.5,1417.2 168.1,1415.3 167.8,1412.9 167.4,1413.9 167.1,1413.8 166.7,1413.3 166.4,1412.6 166.0,1412.2 165.7,1412.2 165.3,1412.2 165.0,1412.2" fill="#0000ff"/>
</g>
<text class="t" x="157.0" y="1148.9" text-anchor="end">40</text>
<text class="t" x="157.0" y="1226.9" text-anchor="end">20</text>
<text class="t" x="157.0" y="1303.9" text-anchor="end">0</text>
<text class="t" x="157.0" y="1381.9" text-anchor="end">-20</text>
<text class="t" x="157.0" y="1458.9" text-anchor="end">-40</text>
<text class="yl" transform="translate(72.0 1297.5) rotate(-90)" text-anchor="middle">Measured-Model</text>
<text class="yl" transform="translate(98.0 1297.5) rotate(-90)" text-anchor="middle">|B| (nT)</text>
<text class="b" transform="translate(1176.3 1364.0) rotate(-90)">Inboard B</text>
<text class="b" transform="translate(1196.3 1364.3) rotate(-90)">Outboard B</text>
<rect x="1170.50" y="1391.2" width="1.5" height="16.8" fill="#0000ff"/>
<rect x="1190.25" y="1391.2" width="1.5" height="16.8" fill="#00ff00"/>
</g>
<g id="table">
<text class="b" x="24.0" y="1483.6">Time:</text>
<text class="b" x="165.5" y="1483.6" text-anchor="middle">03:02:16</text>
<text class="b" x="412.9" y="1483.6" text-anchor="middle">03:03:20</text>
<text class="b" x="660.3" y="1483.6" text-anchor="middle">03:04:24</text>
<text class="b" x="907.6" y="1483.6" text-anchor="middle">03:05:28</text>
<text class="b" x="1154.5" y="1483.6" text-anchor="middle">03:06:32</text>
<text class="b" x="24.0" y="1507.3">Rad(km):</text>
<text class="b" x="165.5" y="1507.3" text-anchor="middle">6767.1</text>
<text class="b" x="412.9" y="1507.3" text-anchor="middle">6785.0</text>
<text class="b" x="660.3" y="1507.3" text-anchor="middle">6805.1</text>
<text class="b" x="907.6" y="1507.3" text-anchor="middle">6827.1</text>
<text class="b" x="1154.5" y="1507.3" text-anchor="middle">6851.0</text>
<text class="b" x="24.0" y="1532.4">Lat:</text>
<text class="b" x="165.5" y="1532.4" text-anchor="middle">-80.7</text>
<text class="b" x="412.9" y="1532.4" text-anchor="middle">-80.8</text>
<text class="b" x="660.3" y="1532.4" text-anchor="middle">-79.0</text>
<text class="b" x="907.6" y="1532.4" text-anchor="middle">-76.2</text>
<text class="b" x="1154.5" y="1532.4" text-anchor="middle">-72.8</text>
<text class="b" x="24.0" y="1557.0">Lon:</text>
<text class="b" x="165.5" y="1557.0" text-anchor="middle">-124.0</text>
<text class="b" x="412.9" y="1557.0" text-anchor="middle">-97.5</text>
<text class="b" x="660.3" y="1557.0" text-anchor="middle">-75.4</text>
<text class="b" x="907.6" y="1557.0" text-anchor="middle">-60.9</text>
<text class="b" x="1154.5" y="1557.0" text-anchor="middle">-51.8</text>
<text class="b" x="24.0" y="1582.1">Mlat:</text>
<text class="b" x="165.5" y="1582.1" text-anchor="middle">-73.0</text>
<text class="b" x="412.9" y="1582.1" text-anchor="middle">-71.6</text>
<text class="b" x="660.3" y="1582.1" text-anchor="middle">-69.4</text>
<text class="b" x="907.6" y="1582.1" text-anchor="middle">-66.7</text>
<text class="b" x="1154.5" y="1582.1" text-anchor="middle">-63.6</text>
<text class="b" x="24.0" y="1606.2">Mlt:</text>
<text class="b" x="165.5" y="1606.2" text-anchor="middle">20.140</text>
<text class="b" x="412.9" y="1606.2" text-anchor="middle">21.038</text>
<text class="b" x="660.3" y="1606.2" text-anchor="middle">21.780</text>
<text class="b" x="907.6" y="1606.2" text-anchor="middle">22.368</text>
<text class="b" x="1154.5" y="1606.2" text-anchor="middle">22.829</text>
</g>
<text class="b" x="0.5" y="1643.9">Residual of MGF_20160209_030215_030632_v2.1.0.lv2 on 13-Jun-2024 01:15:25 (calibration cas_mgf_7day_cal_2016_02_05_v2.1.mat )</text>
</svg></body></html>
